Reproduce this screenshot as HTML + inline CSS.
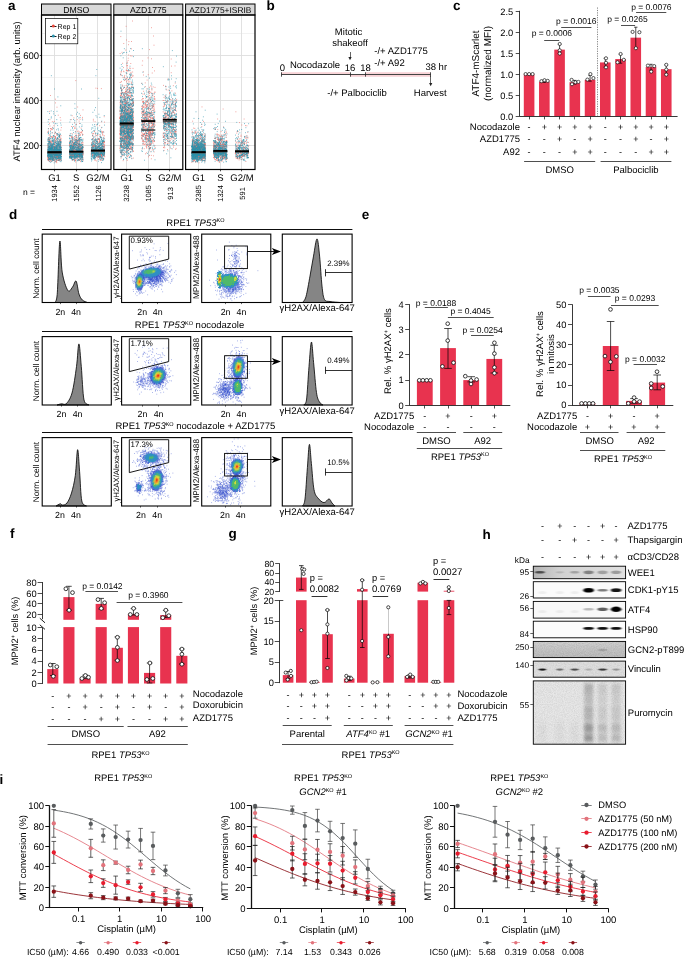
<!DOCTYPE html>
<html><head><meta charset="utf-8"><title>Figure</title>
<style>
html,body{margin:0;padding:0;background:#fff;}
body{width:685px;height:957px;overflow:hidden;font-family:"Liberation Sans",sans-serif;}
svg{display:block;font-family:"Liberation Sans",sans-serif;will-change:transform;transform:translateZ(0);}
svg text{fill:#000;text-rendering:geometricPrecision;}
</style></head><body>
<svg width="685" height="957" viewBox="0 0 685 957">
<defs><filter id="bl" x="-30%" y="-30%" width="160%" height="160%"><feGaussianBlur stdDeviation=".6" result="b"/><feTurbulence type="fractalNoise" baseFrequency="1.1" numOctaves="2" seed="3" result="n"/><feDisplacementMap in="b" in2="n" scale="3.2" xChannelSelector="R" yChannelSelector="G"/></filter>
<filter id="bb" x="-20%" y="-80%" width="140%" height="260%"><feGaussianBlur stdDeviation="1.1 .75"/></filter>
<filter id="bs" x="-20%" y="-20%" width="140%" height="140%"><feGaussianBlur stdDeviation="1.6 2.2"/></filter>
<filter id="nz" x="0" y="0" width="100%" height="100%"><feTurbulence type="fractalNoise" baseFrequency=".9" numOctaves="2" seed="5"/><feColorMatrix type="matrix" values="0 0 0 0 0  0 0 0 0 0  0 0 0 0 0  .5 .5 0 0 -.38"/></filter>
<linearGradient id="gw" x1="0" x2="1" y1="0" y2="0"><stop offset="0" stop-color="#b4b4b4"/><stop offset=".3" stop-color="#d2d2d2"/><stop offset="1" stop-color="#e0e0e0"/></linearGradient>
<linearGradient id="gg" x1="0" x2="0" y1="0" y2="1"><stop offset="0" stop-color="#cfcfcf"/><stop offset="1" stop-color="#bcbcbc"/></linearGradient></defs>
<rect width="685" height="957" fill="#fff"/>
<g>
<text x="8" y="10.3" font-size="13.5" font-weight="bold" >a</text>
<rect x="41.5" y="15" width="69.5" height="154.5" fill="#fff" />
<path d="M41.5 122.5L111 122.5" stroke="#e9e9e9" stroke-width=".6" />
<path d="M41.5 77.5L111 77.5" stroke="#e9e9e9" stroke-width=".6" />
<path d="M41.5 33.5L111 33.5" stroke="#e9e9e9" stroke-width=".6" />
<path d="M41.5 145.5L111 145.5" stroke="#dedede" stroke-width=".9" />
<path d="M41.5 100.5L111 100.5" stroke="#dedede" stroke-width=".9" />
<path d="M41.5 55.5L111 55.5" stroke="#dedede" stroke-width=".9" />
<path d="M54.5 15L54.5 169.5" stroke="#dedede" stroke-width=".9" />
<path d="M76.5 15L76.5 169.5" stroke="#dedede" stroke-width=".9" />
<path d="M97.5 15L97.5 169.5" stroke="#dedede" stroke-width=".9" />
<path d="M55.0 153.6h0M48.7 139.6h0M49.4 152.5h0M61.0 159.4h0M49.7 159.6h0M56.4 155.4h0M48.5 139.7h0M53.9 154.5h0M61.1 160.6h0M59.6 142.0h0M58.9 159.7h0M50.0 126.0h0M50.1 159.9h0M47.8 151.7h0M53.1 153.1h0M50.6 128.5h0M49.1 139.6h0M51.2 137.1h0M52.4 157.2h0M51.3 152.9h0M52.2 146.6h0M52.6 147.8h0M60.7 141.8h0M60.7 147.3h0M57.6 145.6h0M59.0 160.1h0M53.7 157.7h0M60.1 147.0h0M59.2 147.5h0M48.7 153.7h0M54.7 133.3h0M55.3 150.6h0M49.2 143.8h0M57.1 158.3h0M53.9 125.7h0M54.9 161.1h0M48.4 155.7h0M54.5 153.9h0M51.1 147.1h0M60.4 153.1h0M53.2 147.4h0M51.2 149.2h0M49.9 153.1h0M47.7 151.9h0M48.3 147.1h0M53.0 152.5h0M49.5 159.7h0M57.8 157.7h0M57.7 152.6h0M56.5 160.9h0M55.5 149.4h0M56.9 141.3h0M54.1 141.7h0M53.8 154.3h0M54.3 144.1h0M49.6 123.4h0M60.0 150.7h0M51.1 146.9h0M60.3 153.9h0M61.0 156.4h0M55.3 151.4h0M54.5 150.5h0M53.9 149.0h0M51.0 151.5h0M57.9 149.8h0M48.6 156.9h0M53.2 149.5h0M59.6 154.8h0M55.7 141.2h0M51.9 152.0h0M53.4 147.4h0M52.3 157.3h0M58.9 155.4h0M56.8 162.7h0M51.5 155.2h0M60.8 148.2h0M50.4 141.9h0M58.2 151.2h0M60.6 140.8h0M53.0 151.7h0M60.4 144.5h0M56.0 148.9h0M58.4 158.9h0M57.4 152.7h0M59.2 152.6h0M57.8 160.3h0M55.6 152.4h0M54.6 147.4h0M48.3 158.2h0M60.4 149.3h0M50.7 149.5h0M57.0 134.7h0M48.6 153.6h0M56.4 148.3h0M52.6 143.0h0M57.6 135.2h0M50.4 146.2h0M54.3 147.5h0M58.9 146.4h0M54.8 150.5h0M59.1 143.6h0M56.3 150.3h0M53.8 157.4h0M54.2 155.9h0M54.7 147.5h0M60.7 154.0h0M60.2 145.6h0M48.6 131.0h0M58.8 152.3h0M50.6 155.1h0M56.3 159.7h0M57.8 157.1h0M48.2 157.8h0M47.8 149.2h0M56.5 157.8h0M58.8 151.8h0M50.9 152.0h0M57.4 156.1h0M59.7 153.1h0M48.1 145.2h0M49.2 138.6h0M49.1 157.7h0M52.1 158.3h0M52.7 147.3h0M59.5 151.2h0M59.8 155.3h0M50.5 155.4h0M50.3 147.1h0M49.8 147.0h0M52.2 152.4h0M57.7 147.1h0M49.2 148.5h0M49.1 158.8h0M51.5 136.5h0M52.5 127.4h0M55.2 132.0h0M52.8 149.3h0M55.3 159.1h0M54.4 153.9h0M60.8 156.5h0M59.9 158.2h0M50.6 155.8h0M59.0 146.7h0M52.2 156.3h0M48.4 143.4h0M50.2 157.8h0M51.8 161.2h0M60.2 117.6h0M56.5 146.5h0M57.5 139.7h0M58.8 141.8h0M54.3 155.1h0M56.3 144.8h0M55.9 155.4h0M47.8 159.5h0M55.5 138.8h0M58.2 151.5h0M49.8 156.1h0M54.8 151.6h0M55.4 99.2h0M50.5 144.9h0M55.9 161.7h0M53.8 159.0h0M50.7 159.7h0M59.1 152.6h0M56.9 149.0h0M49.2 151.2h0M51.0 152.6h0M57.5 149.0h0M50.7 157.5h0M51.4 153.8h0M59.1 157.7h0M54.2 121.5h0M59.9 134.7h0M61.0 152.6h0M60.1 156.2h0M57.4 154.6h0M57.7 147.9h0M52.7 148.8h0M60.9 147.3h0M48.1 151.2h0M51.5 129.0h0M51.0 160.1h0M55.0 152.5h0M48.0 145.1h0M56.5 153.9h0M56.2 154.0h0M60.7 155.6h0M55.0 142.7h0M51.7 150.0h0M52.0 155.2h0M47.9 151.1h0M49.9 155.3h0M48.6 128.6h0M55.5 153.7h0M54.5 155.4h0M49.1 156.4h0M61.3 147.4h0M49.9 143.1h0M50.3 161.2h0M56.4 156.5h0M56.8 146.6h0M49.4 161.5h0M49.1 155.4h0M48.6 160.0h0M57.5 153.7h0M55.6 150.0h0M51.1 160.9h0M57.5 155.8h0M51.0 155.7h0M60.9 138.1h0M53.2 154.5h0M52.5 153.3h0M56.8 150.5h0M49.0 147.3h0M58.7 150.7h0M53.9 148.2h0M59.6 154.7h0M53.0 157.1h0M51.8 145.5h0M57.2 154.6h0M56.3 155.9h0M48.3 140.2h0M51.9 141.8h0M51.6 152.6h0M48.4 152.3h0M57.9 142.7h0M60.4 141.9h0M55.1 152.9h0M52.0 132.8h0M51.0 147.0h0M49.3 154.7h0M52.7 154.5h0M55.1 147.0h0M56.6 143.5h0M51.0 148.7h0M49.9 155.0h0M53.7 153.4h0M58.4 152.5h0M54.7 152.8h0M60.0 155.0h0M55.4 146.2h0M56.5 153.9h0M57.0 107.2h0M49.3 147.4h0M51.2 145.7h0M55.7 151.2h0M53.1 154.7h0M58.3 143.6h0M56.9 153.8h0M49.3 150.0h0M60.6 141.7h0M58.6 153.9h0M57.0 149.3h0M48.3 152.9h0M61.2 152.9h0M55.2 152.8h0M54.3 136.3h0M52.5 147.3h0M55.5 137.0h0M51.8 151.9h0M51.2 142.8h0M53.2 149.8h0M56.5 147.9h0M57.0 156.8h0M58.2 153.4h0M57.8 158.2h0M58.3 154.7h0M58.0 151.6h0M55.3 140.3h0M49.8 150.8h0M58.3 153.3h0M56.4 161.2h0M50.9 151.7h0M59.6 150.7h0M51.6 143.4h0M49.1 135.4h0M54.6 160.6h0M54.5 147.0h0M51.4 146.0h0M53.0 155.5h0M61.3 149.0h0M52.9 159.7h0M57.4 156.6h0M50.7 159.0h0M59.5 155.4h0M49.8 158.3h0M57.2 154.3h0M58.1 151.7h0M52.8 154.3h0M52.1 148.5h0M52.8 150.4h0M57.4 145.5h0M58.0 156.9h0M59.1 143.0h0M53.2 160.0h0M49.1 149.0h0M52.0 129.7h0M54.7 152.7h0M59.4 146.9h0M55.0 150.7h0M58.6 157.3h0M48.4 150.8h0M48.5 160.1h0M59.5 148.0h0M51.7 154.1h0M49.1 150.5h0M55.6 136.9h0M60.1 155.6h0M53.1 150.4h0M57.0 146.0h0M60.3 155.6h0M56.7 159.8h0M55.3 147.3h0M56.8 150.8h0M59.7 136.4h0M50.4 152.3h0M49.8 154.3h0M59.8 145.6h0M61.1 152.9h0M58.8 154.0h0M60.5 149.7h0M50.4 153.6h0M55.8 142.6h0M59.6 156.5h0M50.9 153.8h0M58.8 143.6h0M48.9 155.4h0M60.8 139.5h0M61.2 156.5h0M54.9 147.5h0M51.1 144.8h0M52.2 157.4h0M55.6 137.1h0M56.5 155.2h0M52.0 149.6h0M52.1 150.3h0M53.1 147.0h0M52.0 153.3h0M58.0 152.2h0M54.9 157.3h0M51.3 155.0h0M58.7 157.3h0M48.6 138.4h0M51.5 145.0h0M51.4 144.4h0M58.6 152.0h0M59.1 149.6h0M48.5 142.3h0M55.7 153.9h0M61.1 138.9h0M53.2 153.7h0M54.8 157.0h0M48.3 158.3h0M49.1 158.0h0M49.5 141.4h0M50.6 156.5h0M61.1 135.7h0M52.9 151.8h0M54.0 151.7h0M50.5 155.9h0M49.4 146.9h0M54.1 154.0h0M55.9 154.3h0M50.8 157.0h0M48.3 149.5h0M48.2 159.8h0M49.8 134.4h0M48.8 158.3h0M53.1 152.6h0M54.0 152.5h0M53.6 153.5h0M52.7 153.3h0M58.2 152.2h0M49.0 152.5h0M51.1 140.1h0M50.1 147.2h0M50.6 130.3h0M48.6 153.9h0M50.2 149.7h0M57.6 154.0h0M59.1 145.7h0M56.9 150.2h0M49.7 137.1h0M50.8 145.7h0M51.2 154.3h0M51.6 154.6h0M50.4 152.8h0M59.6 155.6h0M50.9 148.2h0M49.0 154.5h0M50.9 151.3h0M59.5 160.0h0M57.7 147.9h0M50.2 153.9h0M50.7 155.7h0M59.1 144.5h0M52.1 144.7h0M48.0 152.5h0M51.7 153.4h0M49.3 154.3h0M60.8 155.6h0M55.5 157.2h0M50.9 154.2h0M50.7 154.4h0M56.9 155.0h0M48.7 159.3h0M60.9 151.2h0M52.1 152.6h0M49.9 142.5h0M57.6 157.1h0M57.5 148.8h0M50.9 148.7h0M49.6 141.8h0M51.2 154.3h0M56.7 146.9h0M54.7 143.3h0M54.0 149.3h0M48.7 146.9h0M52.8 152.0h0M48.9 146.9h0M58.2 115.2h0M59.1 150.5h0M53.5 150.9h0M57.7 155.3h0M61.2 154.3h0M60.7 142.3h0M51.3 158.2h0M56.7 135.0h0M58.9 150.6h0M59.7 154.5h0M51.1 149.8h0M58.6 160.5h0M54.0 150.3h0M56.8 157.3h0M58.5 154.2h0M58.6 151.3h0M58.5 144.3h0M55.3 137.0h0M54.1 152.7h0M51.0 128.6h0M60.3 143.4h0M49.9 156.3h0M49.9 141.8h0M50.0 155.3h0M53.2 151.7h0M53.6 156.2h0M55.2 147.3h0M48.1 151.2h0M54.2 155.6h0M58.4 145.5h0M55.1 155.4h0M49.7 142.7h0M53.0 155.1h0M53.6 157.7h0M56.1 159.9h0M58.3 156.4h0M59.6 154.9h0M56.6 155.8h0M57.9 160.5h0M59.9 137.0h0M58.8 157.9h0M52.3 137.8h0M60.1 145.3h0M57.9 156.4h0M50.0 149.7h0M59.8 151.1h0M60.9 130.1h0M48.1 155.6h0M48.6 157.3h0M60.9 143.2h0M54.7 148.4h0M51.4 153.4h0M49.9 158.2h0M47.9 157.3h0M58.0 155.0h0M53.0 150.3h0M50.2 157.3h0M51.1 155.8h0M52.3 121.7h0M56.8 152.8h0M60.0 159.0h0M56.9 145.5h0M58.7 155.3h0M54.2 152.2h0M52.1 137.6h0M53.7 157.0h0M61.3 127.6h0M54.6 155.1h0M55.0 154.1h0M51.7 158.9h0M51.4 155.4h0M52.3 151.2h0M50.2 156.6h0M59.3 149.9h0M58.2 143.5h0M53.7 159.4h0M52.9 136.8h0M56.2 157.4h0M52.0 150.9h0M52.9 140.4h0M58.6 149.2h0M49.0 140.1h0M52.6 158.2h0M51.6 142.1h0M55.0 146.1h0M52.3 153.7h0M48.1 159.9h0M57.2 155.3h0M56.1 151.7h0M52.7 157.4h0M56.1 138.8h0M57.6 154.0h0M48.1 149.6h0M49.9 119.6h0M57.2 153.9h0M60.7 140.5h0M56.7 154.4h0M54.7 148.3h0M53.0 153.3h0M55.0 148.9h0M55.0 151.9h0M57.6 150.7h0M51.1 141.2h0M54.4 144.5h0M57.6 154.0h0M52.2 145.1h0M53.1 159.2h0M50.2 144.9h0M59.5 155.3h0M49.5 141.4h0M52.3 129.2h0M58.5 150.4h0M54.8 156.5h0M60.9 145.8h0M59.6 136.1h0M54.8 159.0h0M60.3 151.6h0M49.0 148.6h0M58.9 152.1h0M57.8 152.5h0M57.5 150.6h0M53.7 151.1h0M59.9 159.1h0M60.8 120.2h0M56.6 156.2h0M59.1 139.9h0M52.0 148.6h0M52.3 150.7h0M53.1 156.5h0M51.2 152.6h0M60.3 155.8h0M58.7 152.1h0M49.5 156.2h0M60.9 152.2h0M51.0 159.3h0M52.3 155.1h0M55.6 156.1h0M56.2 162.0h0M47.9 156.0h0M58.5 156.4h0M54.7 140.1h0M60.4 145.5h0M49.6 140.4h0M54.6 154.3h0M59.0 132.3h0M61.1 151.3h0M59.8 159.7h0M58.2 154.6h0M59.7 150.9h0M53.3 148.1h0M49.5 148.2h0M52.2 153.5h0M54.3 147.1h0M59.5 136.4h0M54.7 153.1h0M61.2 154.7h0M52.8 152.7h0M55.7 138.2h0M53.5 153.0h0M55.4 154.5h0M59.8 135.6h0M50.3 155.0h0M57.5 155.0h0M55.4 149.3h0M47.9 147.5h0M57.5 148.9h0M61.1 141.1h0M55.1 151.6h0M58.2 159.1h0M56.8 151.7h0M57.6 158.4h0M47.9 155.6h0M60.0 138.3h0M52.7 150.6h0M59.1 141.4h0M48.3 160.6h0M54.9 143.3h0M49.5 151.7h0M60.4 154.4h0M59.8 159.8h0M60.8 150.8h0M56.9 150.3h0M60.3 154.2h0M60.3 158.8h0M50.6 95.5h0M55.7 132.9h0M51.4 151.4h0M48.0 157.5h0M53.4 152.9h0M50.6 156.6h0M53.5 159.4h0M52.7 152.1h0M55.8 149.6h0M54.1 152.2h0M54.0 145.4h0M56.1 154.1h0M57.7 156.3h0M55.5 154.9h0M56.0 147.9h0M48.2 157.5h0M52.2 150.3h0M54.2 148.7h0M52.9 160.7h0M48.7 152.8h0M55.2 152.6h0M56.6 146.8h0M59.3 153.2h0M59.8 150.8h0M50.1 155.2h0M48.0 131.9h0M49.6 154.6h0M55.1 157.8h0M52.0 154.6h0M52.8 159.5h0M52.4 144.9h0M59.7 141.1h0M55.3 154.1h0M58.6 156.6h0M60.4 143.9h0M52.1 149.2h0M59.0 154.2h0M50.7 148.1h0M47.8 158.6h0M60.6 153.3h0M48.0 154.0h0M60.2 153.7h0M55.5 102.9h0M55.8 145.9h0M50.1 146.5h0M53.6 152.3h0M50.6 158.1h0M61.1 153.2h0M49.9 154.5h0M56.0 156.1h0M60.5 152.3h0M50.5 141.3h0M47.8 152.6h0M56.3 140.2h0M47.8 156.0h0M58.3 138.4h0M49.7 153.2h0M52.4 158.0h0M47.8 132.3h0M52.2 155.6h0M60.8 159.9h0M52.1 158.5h0M58.2 152.6h0M53.1 148.2h0M51.3 151.6h0M51.3 151.5h0M47.8 146.1h0M59.9 146.3h0M49.3 155.3h0M52.9 157.2h0M52.9 159.5h0M58.0 155.2h0M48.8 155.1h0M48.9 153.1h0M54.9 141.5h0M58.1 159.8h0M52.6 153.6h0M54.3 157.6h0M50.5 142.9h0M59.0 148.6h0M58.5 146.1h0M54.5 146.4h0M50.0 137.7h0M54.1 147.1h0M53.0 136.3h0M60.0 156.1h0M50.3 152.9h0M57.9 151.5h0M59.7 152.6h0M60.9 149.8h0M48.4 147.3h0M56.6 152.8h0M56.4 155.6h0M52.6 155.5h0M60.5 153.1h0M57.0 133.5h0M50.7 148.8h0M48.9 157.3h0M48.3 145.0h0M52.2 150.3h0M57.3 156.6h0M51.5 153.0h0M56.7 153.2h0M58.3 153.1h0M57.8 155.9h0M51.2 148.2h0M51.2 152.0h0M60.9 154.4h0M52.6 155.9h0M56.4 155.7h0M58.4 149.9h0M48.6 146.9h0M49.7 111.4h0M72.0 146.0h0M78.7 155.5h0M75.3 152.9h0M79.1 155.1h0M72.0 153.3h0M81.8 150.4h0M77.3 151.5h0M82.3 154.3h0M72.3 154.6h0M77.9 158.7h0M77.0 153.0h0M77.0 146.2h0M74.2 152.9h0M80.9 151.6h0M79.5 156.0h0M69.7 155.0h0M76.6 155.1h0M81.1 156.5h0M78.7 156.6h0M80.4 134.3h0M81.3 157.6h0M78.8 146.6h0M74.3 155.2h0M81.1 146.9h0M79.3 140.2h0M82.5 130.6h0M76.5 140.4h0M71.8 147.8h0M76.9 154.3h0M71.9 151.8h0M70.3 157.5h0M71.6 157.8h0M79.8 131.9h0M71.1 147.6h0M72.4 156.5h0M78.0 150.3h0M77.5 151.6h0M81.6 153.3h0M75.8 80.6h0M74.5 147.5h0M78.7 159.5h0M79.1 151.4h0M69.6 153.8h0M81.5 152.5h0M74.8 128.6h0M81.6 150.9h0M82.0 152.0h0M76.3 142.4h0M71.1 151.7h0M78.3 150.2h0M78.6 134.2h0M79.2 151.4h0M77.3 150.9h0M73.7 152.0h0M74.5 138.2h0M78.8 144.6h0M73.4 126.5h0M82.8 153.0h0M71.4 150.2h0M70.0 154.5h0M72.1 151.9h0M76.1 154.1h0M72.5 155.9h0M74.7 145.6h0M78.3 145.6h0M72.3 152.9h0M69.5 144.3h0M83.0 153.2h0M82.9 155.7h0M69.7 156.6h0M79.5 143.9h0M81.1 153.0h0M78.6 146.3h0M71.1 152.3h0M79.1 147.4h0M71.2 142.6h0M71.3 119.6h0M75.2 138.2h0M72.5 139.2h0M76.5 151.2h0M83.0 150.2h0M80.4 151.0h0M72.3 151.4h0M82.4 150.4h0M79.6 156.8h0M72.5 145.3h0M73.1 151.8h0M72.4 148.7h0M79.2 154.6h0M76.6 154.8h0M76.6 140.9h0M73.1 155.3h0M77.4 151.7h0M81.0 157.5h0M82.8 149.8h0M71.0 147.4h0M77.9 157.5h0M75.3 144.9h0M82.8 152.4h0M74.3 139.8h0M76.1 151.8h0M74.6 140.4h0M82.1 133.3h0M78.7 153.1h0M73.3 150.0h0M74.4 154.4h0M73.9 148.4h0M74.6 151.9h0M77.8 131.3h0M77.9 138.0h0M78.2 147.7h0M70.6 152.6h0M73.6 153.8h0M75.7 139.6h0M70.7 157.0h0M81.3 153.8h0M72.4 145.6h0M76.8 149.5h0M70.7 152.3h0M71.7 151.4h0M81.0 153.2h0M82.1 151.6h0M78.8 149.9h0M81.7 147.5h0M82.1 157.2h0M79.4 140.2h0M70.0 136.3h0M78.2 154.6h0M77.7 142.8h0M75.9 153.4h0M82.2 148.5h0M73.8 150.0h0M83.0 109.9h0M71.9 153.6h0M83.0 147.9h0M79.2 143.5h0M80.4 151.9h0M81.7 153.2h0M77.5 149.9h0M79.2 153.3h0M82.3 153.7h0M72.5 159.8h0M79.1 151.6h0M72.7 155.0h0M77.2 119.6h0M81.3 155.8h0M70.3 156.7h0M79.7 146.3h0M71.6 154.6h0M73.5 143.6h0M82.8 159.8h0M75.8 146.1h0M78.0 143.9h0M83.0 154.7h0M81.2 147.6h0M81.9 152.8h0M77.9 141.2h0M78.3 154.5h0M71.0 150.7h0M70.9 147.6h0M82.8 154.4h0M73.4 153.0h0M77.7 107.0h0M78.3 154.4h0M79.0 153.8h0M79.3 156.5h0M79.2 139.2h0M81.6 156.1h0M77.4 143.8h0M82.0 154.8h0M76.1 143.9h0M82.6 152.0h0M73.2 153.4h0M74.9 127.3h0M73.8 154.8h0M75.3 160.1h0M74.8 158.0h0M81.1 128.1h0M79.9 155.4h0M82.1 156.6h0M79.2 154.0h0M76.6 124.5h0M70.4 153.6h0M78.3 155.5h0M77.8 141.9h0M78.7 154.7h0M83.0 134.6h0M76.1 153.7h0M81.2 151.9h0M77.7 155.6h0M74.5 156.2h0M81.3 145.3h0M75.2 133.8h0M81.3 148.6h0M73.1 152.2h0M74.5 147.6h0M80.0 160.0h0M77.1 139.7h0M76.8 150.3h0M72.9 147.4h0M78.4 140.8h0M72.5 138.0h0M82.5 148.0h0M81.7 152.5h0M75.5 160.6h0M75.4 131.4h0M78.7 154.5h0M77.2 148.2h0M74.5 148.9h0M69.8 141.8h0M69.5 145.2h0M80.9 149.4h0M78.6 155.0h0M72.6 142.6h0M74.5 154.2h0M76.9 152.5h0M74.2 158.9h0M73.3 154.0h0M78.7 147.0h0M72.5 154.9h0M72.4 149.4h0M70.4 141.4h0M80.6 115.4h0M78.7 152.7h0M71.9 137.7h0M72.1 153.5h0M79.1 121.1h0M79.9 153.1h0M69.8 149.8h0M75.1 152.4h0M73.8 146.3h0M78.8 150.9h0M78.8 147.0h0M77.5 154.8h0M79.5 123.4h0M79.4 153.4h0M74.7 153.1h0M81.5 155.1h0M75.9 142.7h0M72.3 148.6h0M70.9 157.1h0M72.5 145.4h0M80.1 149.9h0M80.4 153.0h0M76.0 153.5h0M75.8 155.1h0M72.4 144.0h0M74.1 157.6h0M70.2 143.0h0M75.8 150.6h0M73.2 154.7h0M78.7 146.8h0M80.9 154.7h0M75.4 140.9h0M72.5 153.4h0M82.3 118.9h0M71.4 126.5h0M70.2 149.0h0M72.0 133.5h0M79.6 152.4h0M73.7 154.5h0M73.1 142.3h0M79.4 141.3h0M78.8 137.1h0M82.9 147.2h0M72.3 148.7h0M81.5 148.6h0M72.9 153.0h0M79.8 145.8h0M70.9 155.1h0M77.5 153.5h0M71.4 151.7h0M81.6 154.3h0M79.0 155.6h0M73.2 155.8h0M79.7 153.9h0M79.6 148.5h0M82.7 146.7h0M79.7 139.9h0M78.6 153.1h0M78.3 147.4h0M76.7 153.5h0M82.7 153.1h0M80.1 119.3h0M69.8 145.6h0M72.1 136.6h0M76.2 148.3h0M72.3 155.2h0M78.5 143.8h0M71.0 154.2h0M80.7 152.1h0M72.1 140.4h0M69.6 156.6h0M81.8 152.8h0M80.5 155.0h0M77.2 151.6h0M76.0 139.8h0M72.8 146.5h0M80.3 154.2h0M76.0 152.0h0M73.6 148.3h0M78.0 155.7h0M77.7 141.9h0M69.7 135.3h0M82.1 157.0h0M73.9 145.1h0M81.9 142.3h0M73.1 153.0h0M72.5 155.1h0M75.5 152.4h0M73.1 150.2h0M81.2 153.1h0M80.2 144.8h0M82.6 134.8h0M75.4 154.3h0M71.7 136.1h0M69.9 153.1h0M69.7 157.5h0M74.0 159.8h0M75.4 153.6h0M69.7 144.9h0M74.7 142.5h0M78.5 152.3h0M72.5 150.2h0M72.7 146.7h0M73.6 143.7h0M70.2 149.2h0M77.8 148.7h0M78.9 150.2h0M82.2 149.3h0M79.1 159.9h0M73.2 149.5h0M74.4 123.0h0M70.9 154.3h0M74.2 155.7h0M72.6 149.0h0M81.9 155.6h0M74.6 148.5h0M73.8 142.2h0M78.1 151.5h0M81.9 154.4h0M78.6 145.0h0M74.1 159.3h0M70.3 145.3h0M74.3 144.9h0M76.3 144.3h0M72.2 140.9h0M71.1 158.5h0M74.7 144.6h0M78.8 142.1h0M73.4 155.4h0M81.6 154.0h0M76.0 154.6h0M69.6 150.3h0M73.9 156.5h0M81.8 151.3h0M75.3 149.8h0M81.1 151.4h0M69.7 150.4h0M82.3 157.3h0M78.7 146.7h0M78.3 159.6h0M83.0 139.0h0M73.9 155.7h0M71.4 149.2h0M73.7 143.5h0M72.7 146.9h0M73.4 152.7h0M77.3 153.4h0M72.0 147.9h0M76.5 143.9h0M77.8 153.5h0M76.0 152.7h0M79.0 151.3h0M75.1 159.1h0M71.5 144.3h0M73.7 159.9h0M82.6 154.2h0M73.7 154.0h0M80.7 151.3h0M76.2 149.8h0M78.6 148.4h0M81.4 143.4h0M78.7 135.6h0M70.0 155.7h0M77.9 152.8h0M75.7 160.2h0M80.7 147.2h0M69.6 152.6h0M77.6 155.5h0M75.5 145.1h0M78.5 147.6h0M80.3 151.2h0M77.5 155.0h0M74.4 148.1h0M75.4 149.1h0M70.9 155.3h0M79.6 154.2h0M70.7 151.7h0M74.5 150.6h0M82.7 152.9h0M72.2 147.8h0M72.1 115.7h0M71.7 140.2h0M82.9 160.9h0M73.8 145.3h0M82.9 158.9h0M74.0 155.9h0M78.1 131.1h0M71.9 152.1h0M78.8 147.4h0M81.3 153.3h0M75.3 137.0h0M81.0 159.8h0M70.2 154.0h0M82.1 149.3h0M79.3 160.5h0M70.8 156.4h0M78.9 147.7h0M72.5 148.7h0M76.7 139.3h0M82.1 158.0h0M80.1 150.5h0M83.0 144.7h0M79.7 156.2h0M73.9 117.9h0M70.5 155.4h0M76.8 157.1h0M76.7 145.8h0M78.6 160.2h0M74.6 136.5h0M77.4 156.4h0M76.9 158.7h0M70.6 148.1h0M79.2 143.4h0M76.6 135.4h0M79.7 154.5h0M78.0 151.6h0M71.0 154.2h0M73.8 142.3h0M78.3 150.3h0M73.1 153.5h0M80.6 161.6h0M72.7 156.8h0M81.8 154.0h0M72.6 153.1h0M77.5 140.7h0M72.0 154.1h0M72.0 137.4h0M73.5 151.5h0M80.8 148.8h0M78.3 147.8h0M77.3 152.7h0M75.8 152.3h0M73.5 145.6h0M82.6 153.3h0M72.0 146.1h0M78.9 152.8h0M76.0 156.5h0M82.6 145.9h0M80.4 148.4h0M78.2 145.9h0M70.1 154.5h0M78.1 135.8h0M80.1 159.3h0M72.5 153.2h0M79.7 153.3h0M73.7 153.5h0M73.3 146.9h0M82.8 142.6h0M72.6 147.8h0M75.9 147.6h0M73.8 151.2h0M79.2 133.9h0M73.5 143.7h0M78.9 149.7h0M76.6 152.5h0M69.7 146.3h0M74.8 145.8h0M81.3 157.8h0M73.7 152.9h0M70.9 155.7h0M70.3 155.4h0M73.5 152.3h0M78.1 152.9h0M82.1 154.8h0M72.8 147.6h0M82.4 155.0h0M71.5 152.8h0M69.7 156.4h0M82.4 154.3h0M80.6 156.1h0M82.5 156.4h0M71.4 157.8h0M72.4 141.3h0M81.6 155.0h0M79.9 151.6h0M73.3 151.1h0M77.6 147.6h0M72.5 147.4h0M77.8 150.9h0M82.4 131.1h0M73.7 149.5h0M72.8 156.8h0M70.1 153.9h0M80.2 146.7h0M71.4 155.3h0M78.5 156.4h0M76.1 147.1h0M81.6 132.6h0M71.6 137.2h0M70.1 156.6h0M82.5 117.4h0M83.0 157.4h0M77.0 144.9h0M80.7 139.6h0M79.9 153.8h0M80.3 132.5h0M78.5 150.1h0M73.9 150.5h0M76.8 139.9h0M75.0 143.5h0M75.1 128.1h0M81.0 146.4h0M73.3 149.8h0M75.7 162.0h0M82.5 149.4h0M69.9 141.2h0M78.2 147.7h0M76.9 151.5h0M76.6 152.2h0M79.6 150.9h0M71.2 151.9h0M72.4 148.2h0M79.0 141.1h0M79.2 153.5h0M76.3 145.5h0M77.9 147.9h0M75.1 157.5h0M72.2 149.9h0M73.1 155.0h0M76.5 141.5h0M82.9 143.0h0M80.2 135.4h0M75.5 144.7h0M72.1 145.5h0M72.1 146.7h0M75.7 144.0h0M83.0 153.1h0M78.9 139.5h0M71.9 155.9h0M78.8 152.2h0M82.3 159.3h0M82.4 144.3h0M71.6 155.4h0M72.5 160.1h0M69.5 151.4h0M74.9 148.8h0M75.1 158.1h0M71.8 150.9h0M70.6 158.5h0M82.3 147.4h0M72.0 149.3h0M75.3 151.6h0M71.0 144.7h0M76.6 152.2h0M82.1 156.9h0M72.0 153.3h0M73.3 157.5h0M82.6 147.7h0M80.2 149.1h0M80.0 155.0h0M82.3 147.8h0M70.1 152.3h0M73.8 152.6h0M71.0 153.2h0M73.9 152.1h0M70.6 154.5h0M81.4 131.9h0M74.0 146.7h0M75.8 156.3h0M76.2 150.6h0M75.6 154.5h0M80.2 148.5h0M74.2 156.1h0M77.9 157.8h0M80.6 158.9h0M77.6 144.0h0M72.9 139.1h0M71.4 152.6h0M82.0 152.4h0M79.2 157.4h0M73.0 143.9h0M81.2 154.9h0M76.8 137.7h0M73.3 159.5h0M75.7 151.8h0M81.0 150.4h0M79.4 145.0h0M80.6 148.0h0M77.5 156.3h0M83.0 147.5h0M81.4 153.0h0M79.7 150.0h0M92.7 144.5h0M92.1 152.1h0M95.5 146.9h0M98.9 145.8h0M100.9 148.9h0M92.8 138.6h0M103.8 147.8h0M103.8 141.3h0M97.9 151.2h0M104.4 149.4h0M104.6 149.4h0M99.7 150.8h0M95.5 154.8h0M103.9 152.2h0M92.6 156.6h0M94.6 151.6h0M92.5 155.6h0M96.0 153.2h0M97.2 141.8h0M102.2 140.1h0M93.6 151.6h0M99.7 156.9h0M92.1 139.2h0M98.9 156.1h0M91.6 152.4h0M94.2 154.1h0M94.3 145.2h0M97.1 152.3h0M95.4 148.0h0M102.4 145.4h0M99.5 140.5h0M102.5 150.4h0M95.0 149.0h0M91.6 149.4h0M98.9 154.7h0M100.6 149.3h0M91.4 150.4h0M91.2 153.5h0M104.3 153.1h0M100.3 145.1h0M102.7 146.6h0M104.0 144.0h0M104.4 151.1h0M101.5 155.1h0M96.1 148.7h0M101.6 156.8h0M103.5 142.9h0M102.8 142.9h0M104.1 146.9h0M94.6 140.2h0M98.2 149.4h0M91.8 149.7h0M93.5 133.5h0M104.1 154.3h0M100.6 136.0h0M102.3 146.1h0M96.5 148.4h0M95.3 148.6h0M100.6 148.4h0M94.3 152.9h0M99.2 150.7h0M95.6 148.2h0M98.7 150.4h0M97.3 149.7h0M102.0 151.1h0M98.4 155.0h0M103.4 138.3h0M100.8 158.1h0M101.7 155.4h0M98.3 150.5h0M96.4 156.2h0M100.5 154.8h0M98.7 152.3h0M103.8 152.5h0M99.6 150.6h0M95.4 158.1h0M95.7 134.3h0M99.3 156.0h0M99.0 143.1h0M99.8 142.2h0M95.1 151.0h0M98.8 156.4h0M92.0 149.5h0M91.8 151.8h0M98.8 151.2h0M101.3 151.5h0M95.8 146.1h0M98.4 139.4h0M103.1 135.2h0M97.0 152.1h0M93.4 146.4h0M94.1 142.6h0M93.7 146.1h0M100.4 154.9h0M98.1 157.5h0M104.6 153.2h0M94.3 131.2h0M93.0 155.4h0M101.1 137.5h0M101.6 144.5h0M101.5 153.1h0M104.6 151.0h0M97.2 152.5h0M95.5 140.3h0M102.2 156.7h0M97.5 152.0h0M102.7 157.2h0M102.0 150.6h0M96.1 139.8h0M103.9 158.9h0M103.2 158.8h0M97.4 142.1h0M95.7 148.8h0M100.0 150.9h0M98.6 146.9h0M94.0 154.9h0M101.2 154.8h0M98.7 153.6h0M92.9 136.2h0M103.4 155.7h0M104.3 149.7h0M97.0 147.9h0M95.0 137.0h0M103.2 145.2h0M96.1 152.3h0M104.6 141.5h0M92.6 150.9h0M96.3 125.0h0M96.5 143.5h0M92.6 133.7h0M101.9 132.0h0M94.0 152.8h0M100.8 152.5h0M94.6 131.3h0M96.0 154.0h0M98.9 157.0h0M96.7 147.2h0M91.9 147.3h0M94.9 153.9h0M91.2 150.3h0M104.2 116.7h0M97.9 151.9h0M101.5 150.7h0M95.3 147.1h0M99.5 141.6h0M91.4 143.2h0M102.3 148.3h0M103.9 142.0h0M92.9 150.4h0M99.1 134.8h0M96.4 139.2h0M104.0 151.0h0M99.2 139.3h0M93.0 145.8h0M95.5 152.7h0M93.0 153.0h0M97.6 153.7h0M97.9 151.1h0M91.6 142.9h0M96.1 146.4h0M98.3 156.0h0M102.4 142.5h0M98.2 147.5h0M101.1 148.1h0M103.8 152.8h0M96.7 151.0h0M98.2 154.8h0M97.4 148.2h0M103.5 146.6h0M99.6 142.2h0M95.4 159.9h0M97.4 144.3h0M104.4 135.8h0M101.7 150.6h0M95.4 148.6h0M97.7 153.4h0M96.3 148.3h0M101.7 155.9h0M102.7 133.7h0M93.5 146.8h0M95.1 133.0h0M94.7 153.6h0M95.9 88.2h0M95.4 145.7h0M100.2 136.3h0M92.4 155.1h0M102.2 143.0h0M95.2 149.8h0M93.3 120.9h0M92.0 147.4h0M103.1 146.6h0M96.6 155.7h0M103.6 155.0h0M97.4 88.4h0M94.0 152.6h0M97.7 151.8h0M96.2 148.6h0M94.0 152.6h0M101.6 127.8h0M96.7 152.0h0M92.7 148.3h0M96.9 154.1h0M99.5 144.9h0M94.3 141.7h0M102.1 148.3h0M95.4 150.2h0M102.1 143.4h0M95.1 121.7h0M92.2 151.5h0M97.5 146.8h0M102.1 148.7h0M97.0 156.5h0M97.0 157.7h0M98.6 154.2h0M94.9 154.2h0M104.1 151.4h0M100.1 143.8h0M103.5 152.2h0M98.5 156.6h0M93.3 146.8h0M97.5 147.4h0M104.6 147.0h0M99.2 157.1h0M102.5 132.5h0M101.8 158.3h0M95.3 150.2h0M100.2 152.9h0M104.3 153.4h0M104.4 145.5h0M103.0 146.1h0M92.6 146.5h0M101.5 149.2h0M93.8 152.3h0M94.5 158.1h0M96.1 152.0h0M103.6 148.8h0M102.8 154.5h0M91.8 148.4h0M100.9 150.3h0M100.5 153.2h0M104.4 155.1h0M96.3 135.5h0M104.5 156.3h0M94.8 156.4h0M96.3 147.1h0M97.3 153.1h0M98.9 156.2h0M99.7 125.7h0M98.4 138.8h0M99.9 147.2h0M98.5 143.1h0M93.5 149.7h0M91.6 144.7h0M102.4 153.0h0M101.6 160.0h0M102.8 150.7h0M99.7 156.5h0M100.5 154.6h0M99.1 152.0h0M101.1 154.5h0M97.0 145.6h0M97.0 150.3h0M101.6 152.6h0M97.4 151.6h0M92.4 154.8h0M101.8 151.5h0M96.1 150.4h0M104.4 151.0h0M95.4 148.4h0M102.4 150.7h0M102.5 149.5h0M93.6 149.9h0M94.3 153.3h0M98.8 154.6h0M99.5 152.4h0M97.7 135.2h0M99.5 146.0h0M98.5 151.3h0M98.8 151.2h0M98.4 146.2h0M103.9 147.8h0M92.9 138.7h0M93.2 152.4h0M99.3 158.1h0M93.0 146.2h0M94.6 157.8h0M94.0 152.3h0M101.1 156.7h0M93.3 146.0h0M99.3 149.8h0M98.8 153.1h0M103.9 150.9h0M93.0 135.0h0M94.0 139.5h0M92.4 153.5h0M101.6 148.0h0M103.7 142.5h0M92.7 152.2h0M102.5 134.8h0M92.2 148.8h0M93.0 154.0h0M98.7 147.0h0M96.2 152.4h0M95.3 152.4h0M101.7 131.2h0M99.6 139.6h0M98.7 153.8h0M101.6 155.2h0M95.4 151.1h0M103.8 150.2h0M104.6 142.3h0M103.4 149.4h0M98.4 138.8h0M101.6 121.8h0M104.4 142.0h0M96.0 154.8h0M104.8 156.8h0M94.1 151.6h0M102.7 154.7h0M92.8 147.5h0M92.1 147.3h0M93.6 152.2h0M97.2 143.6h0M101.3 88.6h0M96.3 160.9h0M99.4 138.3h0M103.1 148.5h0M101.1 137.3h0M92.9 141.9h0M95.2 145.5h0M99.8 139.8h0M94.6 146.4h0M101.5 150.9h0M94.9 160.3h0M93.0 145.1h0M102.1 145.0h0M102.6 141.4h0M98.6 153.1h0M95.2 142.4h0M104.5 122.1h0M98.5 154.1h0M104.7 144.4h0M104.5 152.8h0M100.4 154.2h0M101.6 146.0h0M102.7 131.8h0M96.5 149.1h0M97.4 140.8h0M92.1 151.8h0M97.6 156.0h0M102.6 159.7h0M104.6 138.2h0M93.3 119.3h0M102.1 150.1h0M93.9 151.3h0M94.1 151.5h0M101.4 150.8h0M93.5 141.3h0M95.1 143.6h0M104.0 154.3h0M98.8 152.7h0M103.4 131.8h0M94.7 154.8h0M102.6 154.5h0M92.5 153.3h0M99.1 141.7h0M100.7 160.5h0M92.7 145.0h0M99.5 147.5h0M104.0 155.2h0M92.5 135.7h0M97.1 141.2h0M104.4 146.3h0M101.0 150.9h0M101.4 154.4h0M94.5 145.6h0M101.9 148.1h0M91.2 154.8h0M99.6 153.2h0M101.7 150.8h0M94.4 144.8h0M98.6 159.5h0" stroke="#eb6a62" stroke-width=".85" stroke-linecap="round" fill="none" opacity=".9"/>
<path d="M51.1 156.6h0M49.8 153.9h0M55.6 150.1h0M48.6 143.2h0M53.0 140.7h0M55.2 148.3h0M52.6 146.7h0M60.7 144.4h0M60.0 158.2h0M59.3 150.3h0M48.0 150.9h0M54.9 154.9h0M59.3 141.6h0M56.2 151.6h0M56.6 147.7h0M57.9 143.4h0M52.3 147.4h0M60.0 153.3h0M52.5 144.4h0M60.9 141.6h0M51.0 154.2h0M52.5 152.8h0M53.5 145.2h0M57.6 141.1h0M55.3 155.0h0M58.2 145.4h0M53.9 156.4h0M57.2 155.8h0M49.8 142.9h0M59.7 148.0h0M61.2 149.4h0M48.6 132.0h0M53.5 140.0h0M49.8 149.6h0M56.4 155.4h0M54.5 157.8h0M52.4 156.5h0M59.6 151.3h0M61.0 147.5h0M50.5 131.6h0M55.7 152.3h0M57.6 158.6h0M57.7 138.7h0M54.6 149.0h0M57.0 148.2h0M56.2 141.5h0M58.6 144.2h0M54.2 153.3h0M48.0 149.0h0M49.7 148.4h0M58.9 134.1h0M47.8 152.1h0M61.3 154.4h0M49.1 155.4h0M59.8 155.3h0M60.5 152.7h0M58.0 152.8h0M54.6 148.2h0M59.0 150.4h0M54.8 147.4h0M56.5 153.1h0M50.9 138.6h0M56.4 154.8h0M54.9 155.4h0M51.8 154.9h0M59.8 149.4h0M58.6 160.4h0M51.7 152.6h0M56.8 155.3h0M50.6 152.4h0M59.9 140.0h0M50.3 154.1h0M48.4 157.4h0M57.9 96.9h0M60.8 146.5h0M47.8 153.0h0M48.2 148.8h0M59.7 140.9h0M56.2 149.7h0M54.2 149.0h0M51.3 149.5h0M51.2 153.2h0M51.9 147.0h0M53.3 128.6h0M47.9 155.1h0M52.8 158.3h0M54.8 159.4h0M53.2 154.4h0M57.6 154.9h0M58.1 128.7h0M57.7 147.2h0M57.7 152.6h0M49.9 143.6h0M49.3 156.4h0M59.6 160.2h0M61.2 156.7h0M56.4 143.1h0M54.7 155.8h0M50.8 148.9h0M49.6 155.0h0M49.0 154.1h0M47.9 143.9h0M48.3 141.5h0M48.5 155.2h0M50.4 143.5h0M58.4 130.0h0M57.8 137.9h0M58.5 142.1h0M57.8 142.1h0M51.0 152.6h0M56.8 156.3h0M53.7 160.1h0M50.6 150.1h0M49.2 137.7h0M48.6 154.7h0M58.9 158.0h0M59.3 146.9h0M59.3 151.8h0M52.4 145.4h0M58.1 134.6h0M50.2 144.3h0M51.3 152.3h0M49.2 153.1h0M57.2 147.9h0M50.9 145.8h0M58.0 155.5h0M56.7 154.7h0M58.2 147.5h0M49.1 146.3h0M57.2 153.4h0M49.7 151.4h0M55.5 158.2h0M57.6 146.1h0M56.5 151.0h0M53.5 150.4h0M56.9 158.9h0M54.4 148.5h0M60.5 134.3h0M55.1 153.2h0M53.3 158.4h0M53.1 153.0h0M60.5 149.1h0M49.5 150.2h0M54.1 139.3h0M58.9 149.9h0M47.8 156.0h0M53.6 153.1h0M60.4 147.5h0M49.6 139.4h0M47.9 148.0h0M50.9 154.3h0M60.0 155.2h0M56.8 145.2h0M50.4 138.7h0M55.1 154.9h0M56.8 133.6h0M57.0 123.7h0M52.3 132.8h0M54.6 149.3h0M48.3 154.3h0M56.7 148.1h0M56.1 152.3h0M56.8 154.4h0M58.9 150.2h0M48.5 154.4h0M61.1 125.1h0M49.4 141.8h0M48.4 145.0h0M56.3 154.5h0M51.2 159.9h0M53.7 141.5h0M60.6 142.3h0M57.3 138.5h0M52.9 144.0h0M58.8 157.8h0M57.0 149.2h0M50.5 153.6h0M56.0 150.2h0M58.5 155.4h0M54.2 160.1h0M50.2 156.8h0M49.2 145.7h0M60.6 153.0h0M55.3 161.7h0M51.2 148.2h0M56.5 146.0h0M59.5 135.1h0M49.1 149.0h0M58.9 147.2h0M49.3 148.6h0M52.7 156.4h0M59.0 150.4h0M56.0 153.5h0M58.8 152.9h0M59.2 152.8h0M60.1 154.0h0M47.8 155.0h0M58.8 157.3h0M52.9 149.8h0M54.7 138.3h0M48.0 149.7h0M59.6 157.1h0M55.8 146.9h0M59.0 147.1h0M59.2 145.2h0M58.7 141.9h0M60.8 105.8h0M58.7 139.8h0M60.7 154.6h0M59.2 150.0h0M54.0 158.0h0M55.3 144.1h0M60.8 158.8h0M52.5 148.4h0M57.8 158.5h0M58.4 157.9h0M58.1 149.5h0M53.9 149.6h0M53.0 160.5h0M49.7 148.5h0M59.2 154.1h0M53.5 153.4h0M60.2 150.4h0M54.8 152.3h0M52.5 154.2h0M60.8 156.9h0M61.0 159.8h0M59.9 154.0h0M51.9 156.7h0M51.3 152.3h0M48.5 147.8h0M52.0 157.8h0M54.5 150.2h0M52.9 154.5h0M60.0 133.8h0M51.4 148.8h0M52.1 145.7h0M49.4 146.9h0M59.7 153.4h0M48.1 145.5h0M59.1 146.7h0M53.6 151.1h0M57.9 144.4h0M60.4 152.9h0M56.3 149.7h0M57.3 149.0h0M51.8 157.1h0M52.3 153.0h0M55.9 159.1h0M50.4 135.2h0M61.2 151.5h0M49.2 142.6h0M48.1 155.5h0M59.2 149.5h0M59.0 155.6h0M52.7 153.8h0M60.0 157.9h0M53.8 154.1h0M60.9 151.6h0M60.8 149.9h0M51.8 151.6h0M53.4 143.4h0M54.4 156.0h0M53.7 143.2h0M61.2 158.7h0M47.9 153.9h0M59.8 151.2h0M60.2 146.8h0M57.0 146.9h0M57.8 142.0h0M55.2 152.7h0M50.3 145.3h0M59.6 154.2h0M59.6 155.0h0M50.7 151.9h0M54.1 153.6h0M47.8 153.2h0M51.4 151.3h0M59.6 143.2h0M58.5 156.6h0M51.9 157.0h0M60.3 153.3h0M55.6 157.7h0M48.7 157.0h0M58.7 153.6h0M50.3 162.4h0M52.2 145.4h0M52.3 138.0h0M60.3 155.2h0M56.1 154.4h0M55.1 149.9h0M54.8 149.9h0M54.2 162.8h0M49.2 150.2h0M48.5 133.3h0M60.6 155.9h0M51.8 147.3h0M55.9 160.7h0M50.6 151.2h0M59.5 157.2h0M49.2 142.9h0M52.3 151.6h0M50.9 154.4h0M52.0 140.9h0M50.2 146.7h0M50.7 155.6h0M53.3 137.8h0M55.1 152.9h0M59.6 151.8h0M59.2 158.4h0M56.5 150.7h0M47.7 153.3h0M50.9 147.6h0M56.3 158.2h0M51.3 153.5h0M54.9 150.7h0M54.0 150.6h0M58.7 143.3h0M50.5 156.2h0M56.4 151.0h0M53.0 157.6h0M60.9 147.1h0M60.0 145.0h0M53.7 151.1h0M58.2 153.1h0M48.5 149.3h0M53.4 122.9h0M52.3 138.6h0M51.5 156.8h0M58.6 153.4h0M58.6 154.8h0M53.4 154.6h0M48.5 153.0h0M50.8 154.6h0M60.3 148.3h0M57.9 144.5h0M54.3 154.5h0M51.4 156.8h0M51.1 158.8h0M55.8 140.8h0M49.5 144.2h0M59.6 144.3h0M50.0 157.7h0M54.6 151.5h0M55.5 123.6h0M55.8 151.2h0M51.1 156.9h0M61.3 154.7h0M58.0 157.4h0M59.2 151.5h0M60.9 142.9h0M59.0 146.5h0M60.9 144.0h0M57.1 155.6h0M58.5 151.2h0M56.6 139.5h0M59.1 155.4h0M52.5 156.2h0M49.4 153.9h0M56.0 155.0h0M59.5 135.9h0M48.8 159.2h0M52.7 140.6h0M60.1 155.3h0M48.5 155.6h0M59.9 154.8h0M61.0 152.1h0M52.9 156.0h0M55.6 154.2h0M49.6 158.6h0M60.9 154.3h0M53.9 147.2h0M59.0 154.8h0M53.3 144.4h0M56.5 148.9h0M60.5 156.8h0M56.8 147.0h0M53.2 160.4h0M58.5 152.6h0M59.9 146.5h0M56.6 143.8h0M48.3 152.3h0M52.2 148.8h0M50.6 149.4h0M48.1 121.9h0M50.8 151.4h0M53.9 152.7h0M55.4 149.1h0M60.6 141.7h0M47.9 111.6h0M50.0 153.6h0M54.1 139.9h0M58.8 150.6h0M56.2 145.9h0M56.4 154.9h0M51.0 151.6h0M60.4 151.6h0M50.3 152.3h0M49.2 154.5h0M55.3 115.5h0M57.7 143.6h0M57.1 155.0h0M56.6 157.1h0M60.1 153.1h0M53.6 152.7h0M53.7 153.6h0M60.4 146.7h0M52.2 140.0h0M58.5 136.6h0M52.7 141.7h0M55.0 144.4h0M57.1 159.9h0M51.6 154.9h0M57.9 152.1h0M55.9 142.4h0M60.9 154.1h0M56.7 129.8h0M52.7 138.9h0M60.5 150.7h0M57.9 150.8h0M60.6 139.4h0M50.5 149.9h0M48.1 149.9h0M56.0 152.8h0M60.6 157.7h0M50.8 148.4h0M55.7 154.7h0M47.9 151.1h0M54.4 151.7h0M51.2 110.9h0M49.4 158.5h0M54.8 155.1h0M55.7 150.8h0M56.7 153.5h0M48.4 147.3h0M59.3 137.4h0M54.9 153.7h0M56.2 155.6h0M57.0 111.3h0M53.3 154.7h0M56.8 148.5h0M48.8 148.9h0M52.6 151.7h0M58.2 150.9h0M50.4 156.3h0M58.9 157.2h0M47.9 144.0h0M51.3 116.9h0M60.4 157.1h0M49.0 151.3h0M48.2 153.5h0M56.1 151.5h0M57.5 149.9h0M52.0 148.4h0M57.5 146.5h0M52.1 155.8h0M53.9 136.4h0M61.1 156.8h0M48.7 147.2h0M51.3 148.9h0M54.2 149.0h0M49.2 154.7h0M50.1 148.1h0M59.5 154.0h0M50.8 155.3h0M59.8 148.0h0M57.6 152.0h0M48.4 141.3h0M52.3 155.2h0M51.9 151.4h0M52.0 146.3h0M55.7 155.5h0M60.8 153.1h0M53.6 111.7h0M57.4 134.2h0M52.2 160.9h0M49.7 149.2h0M52.7 145.0h0M54.6 155.4h0M53.5 158.5h0M55.9 142.8h0M57.4 149.9h0M58.6 145.4h0M56.4 154.1h0M50.2 148.7h0M54.3 150.3h0M49.8 156.1h0M59.3 149.7h0M57.7 144.6h0M55.8 148.6h0M52.7 149.5h0M49.9 147.6h0M60.1 147.5h0M48.9 150.7h0M55.9 150.8h0M57.4 150.3h0M50.2 152.0h0M61.0 161.7h0M52.5 153.2h0M53.7 113.9h0M59.7 153.8h0M60.2 154.8h0M52.9 146.6h0M47.8 139.0h0M55.5 152.1h0M60.0 142.5h0M52.1 149.6h0M49.9 159.8h0M60.4 155.9h0M55.5 152.1h0M49.1 153.0h0M53.5 158.9h0M53.9 140.4h0M61.2 142.2h0M51.1 152.6h0M57.5 152.1h0M60.9 154.6h0M49.1 156.1h0M49.9 159.9h0M55.3 157.3h0M60.6 148.6h0M56.4 148.6h0M51.8 145.7h0M59.1 155.3h0M61.2 153.5h0M55.7 153.0h0M49.1 141.2h0M59.0 145.5h0M61.2 156.6h0M57.6 144.7h0M49.9 140.2h0M56.8 155.4h0M48.9 150.2h0M60.1 149.9h0M59.3 139.9h0M57.1 151.4h0M48.7 157.7h0M49.1 146.3h0M55.6 154.8h0M52.5 159.6h0M59.5 144.2h0M52.9 144.5h0M59.5 150.9h0M50.4 142.3h0M52.8 153.7h0M51.1 151.2h0M50.6 154.6h0M52.6 159.8h0M56.6 152.8h0M56.8 153.2h0M51.4 149.4h0M59.3 159.0h0M50.5 133.2h0M55.7 157.6h0M55.9 153.0h0M51.0 158.3h0M54.2 149.0h0M58.3 135.1h0M49.0 153.0h0M57.3 155.6h0M54.7 147.1h0M56.7 146.2h0M50.9 153.6h0M56.9 149.1h0M54.3 156.2h0M57.0 152.7h0M53.7 157.9h0M47.9 150.1h0M57.1 154.7h0M60.0 148.3h0M60.3 144.9h0M49.0 152.8h0M57.2 157.9h0M50.4 154.4h0M57.9 143.0h0M60.2 148.9h0M52.5 159.7h0M56.4 152.8h0M47.8 156.5h0M55.2 146.1h0M59.5 154.1h0M53.7 154.1h0M48.0 144.0h0M48.6 157.9h0M55.2 155.3h0M48.2 155.0h0M53.7 135.5h0M54.0 147.0h0M56.3 158.3h0M56.7 154.1h0M48.7 159.6h0M53.1 141.6h0M53.1 153.4h0M51.0 148.3h0M51.8 153.5h0M49.5 113.4h0M55.9 147.4h0M48.9 155.6h0M49.3 154.4h0M61.2 152.7h0M61.3 152.9h0M48.8 138.7h0M54.0 150.2h0M49.2 147.8h0M50.3 149.5h0M60.5 154.2h0M59.2 154.9h0M50.8 149.1h0M47.9 139.8h0M55.6 152.4h0M61.2 152.4h0M48.0 146.8h0M49.8 148.7h0M50.3 158.5h0M60.3 158.9h0M56.5 147.6h0M53.8 148.9h0M53.8 156.4h0M53.3 135.5h0M56.5 145.5h0M53.5 143.8h0M49.1 156.5h0M49.3 153.6h0M59.7 137.0h0M59.0 159.9h0M58.1 152.4h0M60.4 143.1h0M54.0 144.7h0M56.2 155.4h0M50.8 157.0h0M52.2 158.5h0M50.1 154.6h0M54.4 89.0h0M50.7 157.8h0M52.0 159.5h0M51.2 155.9h0M58.2 158.4h0M49.0 154.9h0M57.4 137.4h0M54.6 157.2h0M52.9 148.5h0M49.4 146.4h0M60.1 161.3h0M60.3 145.3h0M50.6 145.0h0M50.4 158.7h0M60.6 154.4h0M50.1 145.3h0M55.0 147.2h0M52.9 150.1h0M48.6 151.9h0M48.2 133.9h0M55.0 157.8h0M52.5 151.4h0M50.6 152.5h0M51.3 154.8h0M57.7 154.0h0M49.3 146.6h0M51.4 150.7h0M57.9 150.1h0M53.6 153.8h0M51.9 150.3h0M52.4 147.8h0M49.6 150.3h0M60.3 157.7h0M50.3 150.3h0M49.3 141.5h0M52.0 159.2h0M53.0 127.9h0M48.1 159.8h0M57.3 133.6h0M48.5 119.6h0M48.3 137.5h0M49.7 141.4h0M55.5 154.7h0M57.7 145.4h0M50.5 154.9h0M58.9 158.4h0M54.7 153.7h0M56.7 159.2h0M48.0 156.2h0M51.6 152.4h0M59.9 151.3h0M59.5 147.2h0M56.8 143.5h0M52.2 159.5h0M51.9 147.4h0M51.5 145.7h0M53.7 155.5h0M51.1 150.3h0M54.0 142.6h0M52.3 141.0h0M58.5 152.4h0M58.9 148.6h0M61.1 151.4h0M56.5 148.9h0M48.9 149.9h0M53.7 142.9h0M56.3 150.0h0M55.3 152.7h0M51.7 146.7h0M57.1 145.0h0M53.0 150.4h0M52.2 156.6h0M58.1 153.9h0M49.1 150.5h0M58.7 148.7h0M53.3 150.3h0M56.9 138.1h0M55.0 147.5h0M60.0 152.2h0M58.4 156.4h0M54.4 147.8h0M55.4 158.1h0M47.8 141.0h0M52.3 153.6h0M61.3 157.3h0M60.1 151.5h0M52.4 156.8h0M61.1 148.0h0M56.9 152.7h0M57.7 150.3h0M48.3 153.6h0M59.4 157.1h0M51.4 144.6h0M52.3 155.9h0M50.1 144.8h0M57.7 125.6h0M55.0 149.6h0M60.6 156.3h0M50.9 147.6h0M61.3 153.8h0M60.9 156.2h0M57.7 155.9h0M55.3 153.2h0M51.2 118.0h0M49.1 153.7h0M49.2 156.1h0M58.0 154.5h0M61.3 149.6h0M56.3 145.3h0M57.9 150.1h0M56.2 148.2h0M51.8 156.3h0M60.2 156.9h0M51.4 147.5h0M58.7 144.4h0M59.2 135.8h0M58.2 152.8h0M61.3 150.2h0M51.9 158.4h0M53.3 146.6h0M48.4 149.8h0M50.5 151.1h0M56.3 157.7h0M51.8 150.0h0M55.6 147.8h0M61.1 158.7h0M50.8 156.3h0M48.0 154.5h0M48.8 124.5h0M50.5 159.5h0M51.3 147.0h0M56.4 151.3h0M55.4 132.4h0M53.5 146.7h0M57.5 140.8h0M50.7 156.7h0M57.3 154.5h0M56.8 119.6h0M52.5 151.0h0M55.3 156.6h0M52.1 153.3h0M55.6 155.9h0M48.6 133.0h0M51.6 148.7h0M51.4 154.9h0M50.6 148.5h0M58.8 149.3h0M55.5 155.6h0M51.3 148.0h0M56.0 146.0h0M51.9 146.2h0M49.2 161.4h0M54.7 151.7h0M59.0 144.9h0M49.4 159.5h0M61.3 160.5h0M56.2 149.0h0M51.3 75.7h0M59.9 151.4h0M58.2 152.9h0M52.6 148.5h0M55.4 149.3h0M54.2 147.1h0M58.9 144.1h0M51.2 151.5h0M58.4 158.4h0M55.3 142.3h0M51.6 150.6h0M50.4 136.6h0M56.6 152.8h0M50.0 150.9h0M48.9 139.1h0M49.7 156.4h0M60.7 142.3h0M56.7 154.0h0M55.1 142.2h0M52.2 143.6h0M51.4 155.5h0M54.3 149.8h0M51.9 155.2h0M57.4 152.9h0M48.3 128.8h0M51.6 143.8h0M59.6 157.1h0M52.6 157.7h0M51.5 161.7h0M60.7 123.1h0M56.0 159.2h0M58.3 142.1h0M48.8 159.0h0M49.9 146.6h0M57.5 138.7h0M56.3 154.1h0M59.4 135.7h0M54.0 144.4h0M49.7 153.4h0M48.5 143.9h0M74.9 157.9h0M79.2 152.4h0M75.3 147.2h0M80.0 155.5h0M82.5 146.8h0M71.2 138.7h0M71.1 153.8h0M73.4 149.9h0M76.6 137.2h0M72.6 150.3h0M71.0 115.2h0M70.5 147.6h0M71.8 155.9h0M79.8 156.2h0M74.0 152.3h0M70.6 135.4h0M79.7 150.9h0M76.4 156.5h0M81.4 160.4h0M72.5 154.5h0M78.5 136.8h0M71.0 145.2h0M79.6 152.6h0M74.6 143.7h0M74.4 152.9h0M76.2 144.6h0M81.9 147.6h0M79.9 153.8h0M79.3 153.3h0M78.0 147.9h0M75.9 147.1h0M69.6 142.9h0M76.5 156.4h0M70.4 153.4h0M79.1 154.8h0M80.4 149.7h0M80.4 152.8h0M74.9 142.4h0M73.0 153.1h0M77.2 145.4h0M69.9 145.1h0M72.8 146.1h0M77.4 153.4h0M73.9 151.9h0M82.9 151.6h0M73.0 159.0h0M81.5 153.3h0M79.3 144.6h0M80.0 149.7h0M81.2 147.2h0M70.9 143.4h0M70.1 152.5h0M70.7 148.9h0M78.8 154.6h0M77.5 116.5h0M73.2 156.5h0M80.1 158.0h0M74.5 155.3h0M78.0 151.3h0M71.4 157.8h0M75.8 140.8h0M71.9 157.5h0M82.6 157.6h0M82.7 152.0h0M70.0 147.2h0M71.8 158.1h0M80.2 155.1h0M79.3 126.9h0M81.0 151.2h0M69.6 138.7h0M82.0 146.3h0M75.7 153.0h0M78.5 144.5h0M71.3 145.6h0M79.0 156.7h0M76.1 154.5h0M69.6 157.5h0M75.1 158.7h0M71.0 149.8h0M77.0 150.3h0M73.5 148.0h0M71.0 151.1h0M76.9 149.9h0M82.7 151.0h0M75.4 153.7h0M80.5 145.3h0M77.8 149.5h0M70.6 149.7h0M71.9 157.6h0M81.4 152.1h0M70.0 151.3h0M76.8 142.1h0M76.6 144.9h0M76.1 151.8h0M78.1 133.1h0M74.0 157.1h0M76.1 156.1h0M75.0 156.4h0M74.0 152.5h0M70.8 146.5h0M79.4 154.7h0M70.3 151.1h0M77.5 156.5h0M77.6 146.0h0M70.9 157.0h0M82.4 135.1h0M79.6 156.3h0M80.0 156.0h0M71.4 158.3h0M74.8 122.1h0M69.9 150.7h0M76.8 149.7h0M78.7 152.7h0M80.2 141.3h0M76.6 142.5h0M74.1 143.1h0M78.7 148.6h0M71.6 145.2h0M74.7 158.4h0M71.8 146.4h0M78.8 150.7h0M76.0 151.6h0M75.6 151.9h0M78.9 152.0h0M73.4 146.3h0M78.6 151.0h0M82.6 146.6h0M71.2 146.0h0M81.7 140.0h0M79.4 152.3h0M73.9 159.0h0M82.7 147.3h0M82.0 155.1h0M74.3 145.5h0M80.4 145.8h0M79.5 157.9h0M74.6 155.5h0M79.2 144.3h0M81.1 155.2h0M74.4 152.2h0M78.0 154.7h0M77.6 148.0h0M78.2 156.5h0M79.3 146.2h0M80.2 123.5h0M74.6 154.0h0M81.0 154.5h0M74.3 157.4h0M77.3 155.7h0M71.2 156.6h0M73.1 130.2h0M70.0 152.6h0M70.3 133.7h0M79.7 154.1h0M74.9 156.1h0M78.7 154.3h0M74.3 154.3h0M73.3 145.3h0M78.2 151.1h0M70.2 147.1h0M79.3 137.6h0M82.2 151.9h0M70.5 146.3h0M75.8 151.1h0M79.0 157.1h0M76.8 153.0h0M81.1 137.6h0M77.9 150.4h0M70.4 145.6h0M79.7 141.2h0M81.7 148.6h0M75.2 146.3h0M75.3 149.4h0M78.8 154.2h0M70.4 158.0h0M77.7 142.8h0M78.8 133.2h0M71.2 147.4h0M71.7 158.8h0M76.3 155.2h0M79.3 134.0h0M75.5 157.6h0M72.1 149.9h0M81.8 152.4h0M80.7 158.2h0M74.5 161.1h0M76.9 155.8h0M80.8 156.2h0M76.0 151.4h0M70.9 145.2h0M70.6 155.1h0M81.0 153.8h0M71.3 143.6h0M74.5 157.0h0M76.6 153.0h0M79.0 146.2h0M82.5 161.4h0M75.7 135.5h0M70.1 154.1h0M80.3 151.9h0M71.6 152.4h0M74.6 153.3h0M74.9 142.0h0M73.9 157.4h0M73.4 132.6h0M77.0 145.7h0M75.8 141.5h0M79.1 145.1h0M79.2 153.0h0M72.5 150.3h0M70.2 148.0h0M74.4 148.4h0M77.3 152.0h0M80.0 151.8h0M74.8 120.4h0M75.1 126.0h0M74.2 156.8h0M74.1 154.1h0M80.0 150.9h0M74.7 156.8h0M70.1 142.5h0M75.8 155.3h0M74.3 144.4h0M73.8 155.8h0M80.5 137.9h0M74.2 156.0h0M71.2 150.8h0M75.0 152.8h0M71.1 148.7h0M79.5 151.2h0M78.4 152.8h0M70.3 156.9h0M79.8 156.8h0M80.6 137.4h0M79.5 138.5h0M75.5 153.9h0M76.8 153.0h0M75.2 144.1h0M69.6 154.1h0M71.2 156.5h0M79.5 154.2h0M82.2 161.5h0M79.8 142.9h0M82.7 144.5h0M75.0 108.4h0M74.5 143.3h0M80.6 147.0h0M71.2 146.0h0M72.0 152.8h0M71.3 151.1h0M77.1 140.8h0M75.2 140.0h0M69.7 156.4h0M71.8 154.5h0M71.2 152.6h0M74.2 148.5h0M77.7 150.2h0M76.9 129.1h0M77.7 146.7h0M80.7 140.2h0M76.0 141.6h0M72.5 149.9h0M77.6 147.9h0M78.9 155.1h0M71.0 147.8h0M79.3 149.7h0M79.9 149.5h0M80.4 153.0h0M71.1 135.8h0M82.7 155.6h0M74.5 155.3h0M75.6 158.0h0M82.7 153.0h0M75.6 156.5h0M72.9 152.7h0M80.1 144.6h0M73.1 152.3h0M75.7 144.4h0M76.1 157.2h0M73.6 152.7h0M72.9 152.9h0M77.5 112.3h0M78.2 148.9h0M74.8 142.8h0M69.9 122.0h0M81.1 154.2h0M75.8 124.3h0M72.6 156.4h0M83.0 159.8h0M81.9 157.8h0M83.0 151.7h0M74.3 153.9h0M81.3 151.9h0M80.8 139.7h0M77.2 151.1h0M79.5 139.1h0M80.4 158.2h0M73.5 154.1h0M77.7 147.7h0M77.5 160.4h0M80.3 159.6h0M79.0 140.5h0M70.2 138.9h0M79.6 148.3h0M77.4 154.8h0M81.8 156.5h0M82.7 161.5h0M71.8 157.6h0M74.4 149.8h0M76.2 147.4h0M73.2 154.5h0M82.9 153.9h0M70.9 150.7h0M75.6 144.7h0M78.9 118.0h0M74.1 138.9h0M74.7 152.8h0M73.3 146.5h0M70.9 148.9h0M80.0 151.6h0M73.4 143.7h0M74.9 103.8h0M75.3 132.0h0M76.3 152.9h0M75.0 148.9h0M79.4 153.7h0M72.4 128.3h0M81.9 159.0h0M81.9 152.2h0M73.4 119.5h0M75.3 142.6h0M76.6 140.2h0M81.7 161.7h0M73.2 151.6h0M71.9 140.8h0M82.8 139.7h0M71.3 156.7h0M75.2 146.3h0M73.2 137.8h0M70.8 130.1h0M75.6 152.1h0M76.0 139.5h0M81.9 126.5h0M82.4 156.9h0M73.0 156.6h0M71.8 158.9h0M81.6 155.1h0M78.2 156.6h0M79.2 113.8h0M71.4 146.1h0M72.5 127.3h0M81.3 148.2h0M79.2 144.4h0M81.7 157.0h0M77.3 159.1h0M78.4 146.8h0M78.9 153.6h0M72.1 141.2h0M72.7 137.1h0M81.9 154.7h0M81.6 140.1h0M73.1 151.4h0M79.5 149.5h0M72.3 134.9h0M82.8 148.9h0M80.1 153.7h0M74.4 152.8h0M72.9 156.6h0M79.3 135.5h0M78.6 148.9h0M78.7 148.5h0M80.8 150.6h0M69.8 146.7h0M79.0 159.4h0M73.1 148.2h0M76.9 154.9h0M75.0 154.7h0M80.1 143.3h0M78.8 149.8h0M81.9 148.6h0M75.0 154.9h0M76.6 152.0h0M76.0 144.6h0M77.0 151.1h0M70.5 156.9h0M81.7 129.4h0M83.0 146.4h0M79.1 142.7h0M69.5 138.0h0M76.2 147.9h0M71.9 156.2h0M72.5 159.5h0M81.5 89.0h0M76.0 153.6h0M72.1 160.1h0M80.2 152.4h0M76.5 157.7h0M74.4 147.9h0M72.9 159.3h0M77.4 157.8h0M79.2 151.7h0M73.2 152.7h0M78.3 140.7h0M82.1 156.8h0M73.7 146.9h0M74.2 147.3h0M72.7 142.1h0M82.7 147.1h0M79.1 147.3h0M70.5 140.5h0M72.0 148.3h0M76.0 148.1h0M78.3 154.1h0M78.8 152.5h0M78.4 139.4h0M79.0 160.0h0M71.9 157.1h0M75.1 157.0h0M72.7 139.5h0M72.4 151.6h0M81.6 151.8h0M72.5 152.3h0M71.7 156.6h0M77.2 154.8h0M77.8 160.8h0M83.0 153.9h0M77.3 155.2h0M70.0 146.9h0M72.3 146.3h0M74.9 153.6h0M82.9 147.5h0M76.4 151.7h0M73.8 144.5h0M76.6 114.1h0M74.8 154.6h0M81.5 145.1h0M74.1 154.0h0M80.0 154.1h0M73.8 146.6h0M75.5 156.9h0M80.9 151.4h0M69.7 150.0h0M76.8 155.7h0M73.9 146.5h0M82.0 125.0h0M70.2 141.0h0M73.5 147.6h0M79.3 155.1h0M77.4 140.8h0M82.5 152.3h0M81.5 151.1h0M73.5 144.4h0M70.3 145.4h0M81.6 153.8h0M75.6 153.5h0M72.1 154.3h0M82.1 144.8h0M76.8 145.4h0M82.7 119.9h0M70.7 153.0h0M72.5 142.0h0M79.2 151.1h0M69.5 153.5h0M70.6 148.1h0M74.7 153.4h0M69.7 153.0h0M80.9 150.8h0M76.4 149.0h0M81.8 149.1h0M75.8 152.4h0M81.0 156.7h0M72.5 152.4h0M81.9 159.7h0M81.3 152.1h0M79.3 149.4h0M76.2 152.8h0M70.3 119.7h0M74.9 140.8h0M76.6 149.2h0M69.7 155.0h0M77.6 153.7h0M72.9 148.4h0M72.4 124.4h0M73.8 152.1h0M72.6 144.2h0M69.7 143.5h0M82.3 156.4h0M82.3 151.9h0M70.2 142.3h0M79.7 145.0h0M77.0 143.5h0M81.0 156.9h0M73.5 146.3h0M80.3 148.7h0M75.8 156.7h0M70.4 153.7h0M79.4 138.5h0M78.5 159.7h0M70.3 153.2h0M79.9 150.6h0M77.3 152.0h0M75.8 155.4h0M81.6 145.5h0M71.9 148.5h0M81.9 158.9h0M81.1 149.2h0M76.6 152.4h0M70.9 148.1h0M71.0 155.2h0M79.7 151.6h0M77.0 149.3h0M78.5 154.1h0M77.3 154.3h0M76.4 157.3h0M76.8 149.6h0M81.7 144.8h0M70.4 141.9h0M76.1 153.2h0M80.1 154.8h0M69.6 149.3h0M78.0 157.1h0M69.6 156.5h0M75.4 153.2h0M72.1 155.6h0M70.7 152.9h0M79.7 152.2h0M70.0 151.7h0M69.5 143.0h0M82.3 148.1h0M72.7 147.8h0M69.9 150.9h0M82.5 152.2h0M81.3 142.2h0M79.2 149.7h0M71.0 153.1h0M73.9 146.6h0M71.7 149.9h0M80.3 153.0h0M74.5 154.3h0M81.7 157.4h0M82.9 140.9h0M72.1 154.7h0M72.3 138.5h0M81.8 149.8h0M76.6 155.1h0M70.4 156.1h0M69.9 157.4h0M79.2 148.3h0M81.1 148.5h0M82.3 130.5h0M73.6 153.5h0M76.2 153.3h0M75.4 154.6h0M79.2 139.0h0M69.9 149.2h0M75.4 142.8h0M71.0 148.8h0M72.9 147.6h0M74.5 160.3h0M80.9 152.2h0M82.3 153.3h0M74.2 152.9h0M77.9 147.4h0M75.6 151.9h0M82.3 157.6h0M70.4 152.8h0M74.5 144.0h0M69.5 158.2h0M69.8 153.5h0M72.4 148.2h0M70.6 156.3h0M75.9 156.0h0M72.0 153.4h0M80.0 154.9h0M79.0 160.1h0M81.2 145.2h0M70.6 156.5h0M76.0 149.6h0M81.3 139.3h0M82.5 141.1h0M77.3 156.6h0M70.8 141.6h0M82.9 159.0h0M69.8 151.5h0M71.4 141.9h0M82.0 155.6h0M78.4 152.4h0M77.1 143.6h0M76.1 153.1h0M75.8 146.9h0M71.0 154.5h0M81.3 154.1h0M76.8 152.4h0M72.5 147.0h0M73.0 150.8h0M81.7 153.2h0M70.6 145.5h0M81.8 148.2h0M79.0 151.6h0M81.4 154.8h0M71.2 150.6h0M82.6 156.0h0M81.3 152.1h0M80.1 117.4h0M70.4 156.6h0M78.7 143.8h0M76.2 149.5h0M71.1 156.6h0M76.1 135.9h0M77.5 153.5h0M69.7 135.5h0M73.1 153.2h0M77.5 150.8h0M75.9 147.6h0M80.3 144.6h0M78.3 138.8h0M73.8 149.2h0M80.5 152.6h0M71.5 149.6h0M75.4 153.9h0M80.8 152.3h0M75.6 154.3h0M80.1 158.2h0M76.2 152.9h0M79.0 146.6h0M73.6 140.1h0M72.2 152.8h0M73.6 148.8h0M80.3 156.0h0M81.2 155.8h0M72.7 157.6h0M71.7 150.6h0M74.2 155.0h0M72.1 154.4h0M75.5 153.9h0M77.4 140.7h0M72.8 152.1h0M96.0 155.0h0M104.4 151.9h0M101.5 139.2h0M92.4 141.7h0M91.8 145.1h0M98.8 151.6h0M102.9 143.4h0M97.6 124.1h0M91.9 153.2h0M99.0 146.3h0M92.6 124.9h0M99.0 148.7h0M100.8 137.5h0M94.7 154.0h0M93.0 138.8h0M97.6 139.0h0M92.1 145.0h0M93.9 154.2h0M94.6 158.4h0M104.6 152.9h0M100.3 147.8h0M101.5 152.2h0M102.0 143.1h0M101.2 138.7h0M101.9 154.2h0M95.5 107.6h0M91.7 147.9h0M99.7 153.4h0M97.1 154.6h0M104.0 155.3h0M93.8 140.9h0M101.8 121.2h0M93.0 128.1h0M97.2 142.3h0M95.9 149.1h0M93.2 143.4h0M102.6 148.7h0M94.4 153.2h0M96.9 155.8h0M96.1 153.5h0M97.1 155.0h0M99.1 151.1h0M102.8 154.4h0M102.4 140.5h0M95.6 150.9h0M93.7 150.3h0M101.9 143.7h0M95.7 133.3h0M102.3 141.7h0M95.5 157.4h0M97.0 117.1h0M97.8 127.9h0M93.7 152.2h0M101.1 152.8h0M98.3 144.2h0M100.8 145.6h0M101.2 151.9h0M99.5 146.1h0M98.1 154.7h0M104.6 149.8h0M97.3 144.4h0M92.2 150.9h0M95.7 154.8h0M98.8 149.9h0M104.2 153.9h0M94.8 156.9h0M99.7 150.8h0M103.4 144.1h0M98.4 153.9h0M104.2 115.5h0M94.1 156.4h0M103.1 151.6h0M101.8 152.9h0M100.3 150.8h0M96.1 147.7h0M96.8 69.5h0M102.3 141.7h0M94.6 153.0h0M98.2 150.3h0M99.8 148.9h0M98.0 151.4h0M92.1 143.1h0M103.3 146.6h0M98.2 146.8h0M91.2 151.0h0M93.6 155.8h0M97.5 153.1h0M100.1 145.3h0M100.4 142.8h0M93.2 150.5h0M100.0 136.5h0M94.7 124.5h0M92.8 150.0h0M99.9 159.7h0M94.3 149.0h0M104.7 148.3h0M101.9 149.0h0M95.3 147.7h0M94.3 155.4h0M99.7 151.1h0M95.0 140.7h0M100.4 147.7h0M101.7 141.4h0M94.9 155.1h0M101.3 151.0h0M103.3 158.1h0M96.3 153.9h0M93.2 152.4h0M97.9 153.2h0M98.9 114.2h0M103.5 159.1h0M97.6 129.0h0M96.7 155.4h0M103.3 155.2h0M93.1 140.9h0M103.8 150.4h0M98.5 161.2h0M97.6 147.5h0M98.0 154.6h0M102.3 146.3h0M101.6 150.0h0M93.5 143.9h0M97.7 154.4h0M100.5 150.0h0M94.0 149.7h0M102.2 142.2h0M102.7 148.9h0M98.2 151.7h0M91.7 153.9h0M95.6 151.5h0M101.5 162.6h0M91.3 154.9h0M95.2 126.8h0M96.1 139.7h0M94.8 147.6h0M100.4 153.4h0M92.4 135.4h0M93.3 147.8h0M102.9 154.5h0M102.6 155.7h0M99.5 131.0h0M94.0 156.8h0M99.1 150.0h0M104.6 152.0h0M101.2 132.9h0M100.3 143.1h0M101.4 139.8h0M102.7 151.7h0M101.1 150.2h0M96.3 152.9h0M94.6 155.5h0M103.1 138.3h0M103.0 152.9h0M102.7 148.8h0M98.4 147.1h0M94.3 157.2h0M94.4 110.1h0M98.7 151.7h0M96.2 143.4h0M95.2 149.7h0M103.7 141.4h0M102.6 149.8h0M103.5 155.1h0M102.7 151.2h0M101.9 147.9h0M103.1 153.2h0M97.2 149.0h0M97.9 152.7h0M101.7 145.2h0M103.7 140.8h0M96.0 150.5h0M102.3 149.1h0M92.9 112.3h0M93.7 144.9h0M103.0 151.3h0M92.2 147.8h0M98.9 157.1h0M95.6 156.1h0M98.1 147.0h0M92.0 147.2h0M93.0 152.5h0M95.5 154.5h0M99.0 154.4h0M97.4 154.2h0M93.4 151.2h0M98.8 143.7h0M91.4 149.3h0M97.6 133.8h0M104.5 125.1h0M92.3 144.6h0M91.4 159.1h0M95.1 139.5h0M102.9 153.6h0M104.2 153.0h0M101.1 152.0h0M103.9 152.7h0M98.3 143.8h0M97.7 147.8h0M100.7 148.4h0M94.8 159.1h0M94.8 156.4h0M95.7 142.8h0M100.7 131.9h0M93.5 153.1h0M100.5 131.8h0M103.0 153.1h0M94.1 146.0h0M91.5 144.8h0M91.8 156.1h0M97.1 141.5h0M97.9 139.4h0M103.0 156.3h0M95.8 148.2h0M101.3 144.0h0M98.4 153.8h0M97.3 146.2h0M94.3 156.8h0M95.8 145.0h0M96.0 153.4h0M96.0 115.7h0M96.3 155.6h0M101.6 158.2h0M98.1 123.0h0M91.9 158.5h0M92.1 148.4h0M102.3 142.8h0M94.1 144.2h0M96.4 151.4h0M92.0 127.7h0M95.8 153.9h0M104.0 140.7h0M98.3 151.2h0M99.9 155.8h0M92.8 149.1h0M95.8 145.9h0M101.2 149.7h0M97.9 155.8h0M94.7 152.2h0M96.8 143.1h0M92.4 151.6h0M100.3 147.9h0M95.8 153.5h0M100.4 151.4h0M102.7 144.9h0M94.6 155.4h0M103.0 140.6h0M92.3 153.6h0M99.9 117.4h0M96.8 152.1h0M99.1 155.4h0M99.2 148.5h0M92.1 159.8h0M104.1 150.8h0M96.9 153.4h0M96.0 148.5h0M94.2 149.5h0M103.3 150.1h0M103.4 139.7h0M96.9 148.3h0M101.5 149.4h0M94.8 130.4h0M95.0 153.5h0M103.0 144.9h0M103.0 147.5h0M93.4 155.7h0M93.8 143.4h0M96.2 141.9h0M96.2 153.8h0M97.9 150.8h0M93.4 151.8h0M96.5 146.0h0M103.8 141.5h0M94.1 149.9h0M91.3 145.0h0M101.9 151.6h0M101.9 146.5h0M103.0 150.3h0M93.6 152.3h0M95.3 139.1h0M95.5 138.9h0M97.4 148.3h0M96.5 156.2h0M95.9 152.3h0M94.1 159.0h0M96.2 151.7h0M98.9 138.8h0M94.0 157.3h0M93.7 158.1h0M94.2 151.5h0M94.2 153.5h0M92.1 152.3h0M94.7 147.9h0M103.0 150.7h0M97.0 141.5h0M94.9 146.5h0M101.7 143.4h0M93.9 148.8h0M93.0 149.8h0M95.2 128.9h0M100.8 159.2h0M97.7 146.9h0M98.4 155.8h0M99.4 148.1h0M96.1 151.0h0M95.9 75.7h0M101.6 153.0h0M99.0 153.8h0M94.2 149.2h0M100.6 129.9h0M94.8 152.1h0M100.5 156.5h0M101.5 151.7h0M102.6 141.4h0M101.9 152.9h0M101.2 144.7h0M98.4 130.7h0M95.9 133.2h0M93.2 152.3h0M91.7 154.3h0M93.7 157.3h0M95.8 135.9h0M93.5 149.4h0M94.1 149.2h0M101.9 140.3h0M104.2 153.2h0M93.7 137.7h0M92.3 139.8h0M102.6 153.7h0M104.2 155.1h0M95.6 146.4h0M94.4 151.8h0M102.1 150.7h0M102.2 156.0h0M93.1 153.8h0M101.0 150.8h0M100.6 153.5h0M95.6 148.2h0M99.1 145.9h0M98.8 98.3h0M104.1 152.2h0M103.7 158.8h0M91.6 129.1h0M93.2 142.3h0M92.8 156.2h0M102.3 160.5h0M103.3 158.9h0M92.6 143.0h0M94.6 144.3h0M101.1 148.0h0M91.4 156.7h0M91.5 153.5h0M97.2 156.2h0M98.5 149.7h0M99.8 151.3h0M94.6 151.6h0M93.6 153.2h0M100.6 150.2h0M94.9 152.5h0M91.8 139.6h0M92.0 146.9h0M96.5 141.2h0M93.1 150.9h0M96.2 149.6h0M96.1 140.6h0M101.1 137.7h0M91.2 151.9h0M99.9 151.8h0M91.9 153.2h0M103.6 150.7h0M91.2 156.8h0M98.4 146.7h0M98.8 152.5h0M101.1 157.4h0M99.4 154.9h0M93.3 147.5h0M100.9 159.4h0M95.1 153.9h0M104.4 152.3h0M100.4 148.2h0M100.5 154.8h0M100.3 155.7h0M91.9 147.8h0M100.8 152.6h0M93.4 130.8h0M104.7 152.7h0M94.2 153.8h0M102.8 153.4h0M100.2 134.7h0M104.1 146.9h0M99.9 145.3h0M99.7 151.2h0M100.9 152.3h0M104.2 154.5h0M92.1 152.7h0M100.6 151.7h0M95.3 154.6h0M96.0 145.9h0M98.8 149.7h0M103.3 137.3h0M95.0 154.2h0M97.7 134.2h0M99.6 148.3h0M95.4 144.4h0M99.4 158.1h0M96.1 149.5h0M96.9 151.5h0M95.6 157.7h0M96.6 152.7h0M99.2 148.4h0M91.3 159.0h0M91.8 155.3h0M96.4 152.4h0M100.3 143.2h0M97.5 152.1h0M91.5 132.8h0M100.7 152.9h0M98.8 148.8h0M101.2 151.3h0M95.3 154.8h0M99.9 149.2h0M95.0 149.8h0M101.7 144.6h0M101.6 153.4h0M96.4 152.3h0M100.5 140.9h0M99.0 152.5h0M95.8 146.2h0M100.7 157.7h0M95.2 151.9h0M102.9 149.5h0M100.9 151.7h0M101.0 150.2h0M99.7 156.5h0M96.0 149.0h0M97.4 143.9h0M99.1 146.7h0M102.8 146.5h0M102.2 157.9h0M100.5 156.6h0M99.7 143.5h0M92.1 139.7h0M94.4 151.5h0M96.6 151.9h0M92.2 131.8h0M99.9 154.2h0M98.2 151.6h0M91.6 152.2h0M96.6 147.8h0M100.6 141.7h0M101.5 139.6h0M102.3 158.4h0M102.3 152.6h0M94.2 126.2h0M92.6 146.0h0M94.8 140.1h0M101.0 137.2h0M99.9 146.6h0M101.2 147.0h0M95.7 143.8h0M103.8 149.7h0M93.3 148.0h0M95.9 151.2h0M93.9 154.2h0M102.2 153.6h0M99.4 142.2h0M104.3 151.0h0M95.7 148.3h0M99.5 144.3h0M101.9 127.4h0M103.0 151.0h0M97.9 150.0h0M97.3 142.1h0M99.0 149.3h0M94.3 156.3h0M97.2 124.5h0M100.7 151.1h0M99.7 154.3h0M103.8 141.3h0M95.2 151.5h0M95.8 141.0h0M100.5 144.5h0M102.3 154.6h0M92.2 151.3h0M97.5 151.5h0M102.1 147.8h0M100.3 154.1h0M101.7 147.1h0M96.0 153.8h0M91.6 161.0h0M99.7 154.4h0M101.0 148.2h0M100.6 131.3h0M94.5 141.9h0M103.3 160.1h0M100.6 149.4h0M97.7 153.1h0M102.4 148.8h0M102.8 149.0h0M92.7 143.1h0M96.0 154.6h0M98.5 145.3h0M92.7 152.9h0M101.8 157.2h0M101.4 144.1h0M93.7 157.3h0M93.9 136.7h0M99.8 157.8h0M100.3 137.2h0M92.6 157.3h0M97.5 153.5h0M101.6 144.1h0M93.0 149.2h0M100.4 151.2h0M98.1 133.2h0M103.8 132.2h0M91.2 158.1h0M104.7 139.0h0M93.5 158.5h0" stroke="#2b93ad" stroke-width=".85" stroke-linecap="round" fill="none" opacity=".9"/>
<path d="M47.53 152.93L61.53 152.93" stroke="#4d4d4d" stroke-width="1.6" />
<path d="M47.53 152.04L61.53 152.04" stroke="#000" stroke-width="1.8" />
<path d="M69.25 152.04L83.25 152.04" stroke="#4d4d4d" stroke-width="1.6" />
<path d="M69.25 151.59L83.25 151.59" stroke="#000" stroke-width="1.8" />
<path d="M90.97 151.14L104.97 151.14" stroke="#4d4d4d" stroke-width="1.6" />
<path d="M90.97 150.46L104.97 150.46" stroke="#000" stroke-width="1.8" />
<rect x="41.5" y="4" width="69.5" height="11" fill="#d9d9d9" stroke="#000" stroke-width="1" />
<rect x="41.5" y="15" width="69.5" height="154.5" fill="none" stroke="#000" stroke-width="1.2" />
<text x="76.25" y="13.2" font-size="8.7" text-anchor="middle" >DMSO</text>
<path d="M54.5 169.5L54.5 171.3" stroke="#000" stroke-width=".7" />
<text x="54.53" y="181" font-size="9.5" text-anchor="middle" >G1</text>
<text font-size="7.5" text-anchor="middle" transform="translate(57.23 193.4) rotate(-90)" >1934</text>
<path d="M76.5 169.5L76.5 171.3" stroke="#000" stroke-width=".7" />
<text x="76.25" y="181" font-size="9.5" text-anchor="middle" >S</text>
<text font-size="7.5" text-anchor="middle" transform="translate(78.95 193.4) rotate(-90)" >1552</text>
<path d="M97.5 169.5L97.5 171.3" stroke="#000" stroke-width=".7" />
<text x="97.97" y="181" font-size="9.5" text-anchor="middle" >G2/M</text>
<text font-size="7.5" text-anchor="middle" transform="translate(100.67 193.4) rotate(-90)" >1126</text>
<rect x="113.8" y="15" width="69" height="154.5" fill="#fff" />
<path d="M113.8 122.5L182.8 122.5" stroke="#e9e9e9" stroke-width=".6" />
<path d="M113.8 77.5L182.8 77.5" stroke="#e9e9e9" stroke-width=".6" />
<path d="M113.8 33.5L182.8 33.5" stroke="#e9e9e9" stroke-width=".6" />
<path d="M113.8 145.5L182.8 145.5" stroke="#dedede" stroke-width=".9" />
<path d="M113.8 100.5L182.8 100.5" stroke="#dedede" stroke-width=".9" />
<path d="M113.8 55.5L182.8 55.5" stroke="#dedede" stroke-width=".9" />
<path d="M126.5 15L126.5 169.5" stroke="#dedede" stroke-width=".9" />
<path d="M148.5 15L148.5 169.5" stroke="#dedede" stroke-width=".9" />
<path d="M169.5 15L169.5 169.5" stroke="#dedede" stroke-width=".9" />
<path d="M132.3 143.9h0M126.3 148.9h0M120.2 151.0h0M127.7 113.8h0M131.4 77.4h0M122.3 107.0h0M120.9 101.5h0M130.1 118.3h0M124.5 110.9h0M125.6 122.7h0M128.4 122.3h0M129.2 124.3h0M124.3 115.4h0M129.7 121.5h0M127.1 66.1h0M125.4 126.9h0M126.5 140.9h0M122.7 123.2h0M126.9 132.8h0M127.0 120.7h0M125.8 91.6h0M124.0 120.0h0M124.0 154.1h0M128.0 117.1h0M126.7 137.0h0M132.2 119.3h0M132.9 143.6h0M125.4 133.4h0M131.8 148.1h0M120.9 125.8h0M129.5 68.1h0M120.9 93.5h0M120.1 135.1h0M127.6 68.1h0M127.4 138.4h0M120.7 74.1h0M121.0 132.3h0M126.9 153.4h0M127.9 111.2h0M130.5 129.5h0M120.2 130.7h0M125.5 92.1h0M123.2 133.9h0M119.9 117.1h0M127.1 131.6h0M121.1 144.3h0M132.0 132.9h0M127.3 136.5h0M132.9 143.5h0M129.6 132.7h0M124.2 122.8h0M124.6 143.0h0M121.9 107.9h0M133.0 109.2h0M127.3 124.9h0M133.5 102.5h0M130.3 123.2h0M127.3 115.2h0M127.5 92.4h0M120.4 130.0h0M120.6 122.3h0M121.7 133.6h0M126.3 137.9h0M121.3 115.4h0M130.0 149.7h0M125.0 142.8h0M122.0 127.6h0M129.2 149.3h0M126.9 140.7h0M129.5 129.0h0M126.9 116.6h0M133.1 130.1h0M122.4 140.4h0M132.9 126.3h0M122.3 107.8h0M127.6 77.6h0M124.3 110.2h0M131.5 48.8h0M125.9 93.0h0M124.3 138.9h0M124.9 123.4h0M132.9 101.1h0M128.9 134.5h0M132.4 99.9h0M123.8 132.2h0M120.4 116.4h0M128.5 141.5h0M129.4 106.7h0M124.3 126.4h0M127.0 103.5h0M121.1 143.8h0M121.8 126.7h0M120.5 133.2h0M123.5 121.1h0M124.9 79.8h0M126.2 111.0h0M131.5 129.4h0M131.6 142.1h0M131.7 149.5h0M120.5 122.5h0M128.0 144.1h0M120.7 131.2h0M129.9 81.8h0M125.5 108.3h0M123.1 117.6h0M132.2 134.1h0M120.0 132.9h0M123.2 125.4h0M124.5 138.1h0M128.6 104.5h0M132.5 144.8h0M132.4 130.4h0M123.0 96.9h0M122.8 117.9h0M132.8 148.3h0M122.5 107.5h0M123.2 118.2h0M126.5 126.3h0M129.5 104.7h0M124.8 106.1h0M126.6 137.0h0M121.6 120.3h0M123.2 141.0h0M133.2 75.8h0M128.3 148.2h0M128.0 143.4h0M133.3 118.7h0M127.2 109.4h0M128.6 141.9h0M120.1 133.7h0M128.7 80.0h0M130.3 92.8h0M125.0 131.2h0M128.3 95.2h0M122.9 115.1h0M132.1 114.0h0M130.3 129.2h0M129.9 116.6h0M122.2 127.4h0M125.6 119.7h0M123.7 112.2h0M131.1 130.5h0M127.2 126.8h0M120.2 137.6h0M133.1 121.8h0M129.4 113.9h0M125.3 130.2h0M126.6 123.0h0M131.9 126.2h0M129.8 115.7h0M123.8 43.5h0M120.7 130.7h0M127.6 101.8h0M128.4 114.4h0M122.7 116.7h0M125.2 125.3h0M120.4 107.8h0M121.4 117.7h0M121.2 125.9h0M124.0 120.3h0M125.9 130.6h0M125.7 93.8h0M125.5 125.2h0M123.8 137.1h0M125.4 128.6h0M126.9 126.4h0M121.2 131.4h0M129.1 95.6h0M122.5 141.3h0M132.4 116.7h0M124.7 129.4h0M124.3 140.0h0M122.5 138.4h0M126.2 119.7h0M128.0 91.7h0M120.8 127.7h0M131.3 114.4h0M126.2 142.5h0M126.8 65.2h0M127.5 128.4h0M131.9 99.2h0M127.4 121.5h0M131.9 122.4h0M133.3 151.3h0M127.6 126.5h0M120.2 118.3h0M130.5 105.9h0M120.8 123.6h0M128.1 122.6h0M133.0 103.7h0M128.2 136.8h0M129.8 111.2h0M124.3 100.0h0M128.2 128.5h0M133.5 105.6h0M124.6 95.2h0M133.4 87.3h0M129.2 141.8h0M124.4 98.0h0M121.2 88.1h0M125.8 121.2h0M120.4 116.7h0M130.6 127.7h0M128.3 137.1h0M132.9 126.9h0M126.2 124.4h0M124.0 148.5h0M132.1 90.1h0M133.2 113.6h0M121.7 133.1h0M129.5 137.1h0M129.7 129.6h0M122.2 102.7h0M126.4 93.6h0M125.7 145.9h0M129.5 143.0h0M121.8 150.4h0M124.5 143.6h0M121.2 144.8h0M126.0 135.9h0M131.2 103.7h0M121.1 122.3h0M129.7 117.1h0M121.6 89.2h0M121.8 140.4h0M124.2 106.5h0M133.0 151.2h0M132.6 76.1h0M132.9 118.3h0M130.9 129.5h0M129.9 117.1h0M125.4 135.9h0M125.7 147.5h0M125.2 100.8h0M125.2 136.9h0M133.1 122.2h0M129.3 146.0h0M121.2 141.0h0M128.5 133.8h0M121.0 144.9h0M130.0 93.1h0M127.4 156.7h0M129.4 123.6h0M127.9 96.5h0M123.7 144.9h0M122.1 137.6h0M133.0 151.0h0M124.4 96.9h0M131.0 106.6h0M120.1 131.0h0M131.1 120.3h0M121.2 106.9h0M125.5 138.1h0M132.2 138.3h0M133.4 129.8h0M127.8 112.7h0M120.6 100.6h0M127.7 136.6h0M126.0 106.2h0M128.9 70.9h0M124.7 129.3h0M123.0 97.1h0M124.1 130.1h0M122.6 117.2h0M127.1 158.9h0M120.0 131.0h0M132.4 103.0h0M121.3 115.5h0M127.7 126.6h0M126.3 132.8h0M127.9 136.9h0M123.3 155.3h0M123.3 108.1h0M130.4 134.9h0M130.9 95.3h0M124.5 125.5h0M129.9 116.2h0M121.8 138.2h0M130.6 142.0h0M127.5 148.4h0M125.5 109.8h0M128.5 98.5h0M131.9 133.5h0M124.2 133.5h0M124.3 86.0h0M128.5 155.7h0M127.2 132.4h0M133.4 102.3h0M126.1 136.0h0M125.9 118.0h0M130.1 125.9h0M125.9 100.9h0M126.3 139.9h0M129.0 105.2h0M127.0 139.3h0M128.5 89.7h0M124.7 131.6h0M125.0 144.0h0M128.7 81.9h0M126.4 109.1h0M131.9 124.7h0M124.0 130.5h0M124.2 124.0h0M123.0 77.6h0M120.9 116.6h0M121.5 130.4h0M126.9 111.4h0M125.9 116.1h0M125.7 135.9h0M127.9 79.1h0M120.8 36.6h0M123.3 119.9h0M130.8 127.9h0M127.4 102.3h0M129.1 134.1h0M122.8 120.2h0M122.2 114.3h0M132.2 118.2h0M125.1 139.6h0M122.9 102.2h0M127.6 133.7h0M124.2 116.5h0M127.0 131.7h0M129.3 92.6h0M131.1 119.5h0M128.7 132.7h0M124.5 132.5h0M120.0 102.3h0M120.7 97.4h0M127.9 127.2h0M122.9 138.1h0M128.5 116.5h0M123.7 134.2h0M120.0 110.3h0M120.9 143.7h0M123.8 121.1h0M127.4 128.7h0M123.1 160.7h0M128.5 102.9h0M127.1 87.8h0M122.0 52.3h0M124.8 133.3h0M126.6 132.6h0M122.0 137.6h0M123.3 133.2h0M120.2 109.3h0M123.1 130.2h0M124.3 148.4h0M132.9 93.5h0M125.6 128.8h0M121.5 152.2h0M131.4 122.3h0M122.4 146.2h0M120.9 128.4h0M121.1 72.1h0M128.7 152.7h0M120.1 148.5h0M127.2 145.1h0M123.7 92.7h0M126.9 131.1h0M130.2 121.7h0M120.3 129.1h0M121.8 131.8h0M121.4 132.4h0M133.0 68.4h0M125.1 111.4h0M122.9 119.8h0M121.5 128.9h0M127.9 125.4h0M132.6 124.2h0M121.8 150.6h0M121.5 145.7h0M120.9 82.2h0M129.4 129.0h0M133.4 127.3h0M129.4 127.6h0M122.4 152.0h0M130.9 110.5h0M130.2 154.5h0M131.1 125.3h0M123.7 101.4h0M131.8 103.1h0M132.5 139.0h0M126.9 137.4h0M129.0 136.5h0M121.3 120.0h0M127.7 139.2h0M130.8 130.5h0M127.6 65.4h0M125.0 126.6h0M122.9 121.2h0M129.2 121.6h0M129.8 120.0h0M130.9 130.3h0M124.5 129.7h0M130.4 132.0h0M130.7 68.3h0M120.6 119.9h0M132.0 129.7h0M123.3 138.4h0M122.8 148.0h0M128.8 123.6h0M120.1 138.2h0M129.5 119.9h0M122.3 97.0h0M132.0 136.7h0M129.1 119.5h0M128.7 130.5h0M124.8 99.1h0M124.7 146.6h0M125.1 136.4h0M123.4 146.8h0M123.5 147.7h0M124.1 112.6h0M123.2 121.6h0M121.6 156.4h0M120.1 118.3h0M131.8 143.0h0M125.0 106.4h0M124.7 122.3h0M124.7 136.5h0M126.9 88.1h0M132.6 125.6h0M124.0 71.8h0M122.0 127.6h0M124.5 106.5h0M127.9 92.1h0M120.8 133.7h0M125.5 91.7h0M131.4 41.5h0M127.6 95.0h0M132.1 135.1h0M120.5 130.4h0M121.9 128.1h0M123.7 140.2h0M127.9 137.4h0M127.6 121.8h0M132.7 131.4h0M125.8 134.1h0M130.0 117.0h0M132.3 136.4h0M122.3 89.6h0M127.5 133.5h0M130.2 117.4h0M132.6 128.8h0M120.3 104.9h0M132.7 84.6h0M128.2 126.5h0M122.0 140.8h0M133.3 98.5h0M130.4 116.3h0M129.7 144.2h0M125.2 119.0h0M124.4 128.3h0M122.9 121.9h0M131.9 104.4h0M130.3 112.2h0M121.3 129.2h0M130.2 137.6h0M127.8 126.5h0M121.7 111.9h0M126.3 125.2h0M128.7 113.7h0M125.5 107.4h0M127.8 136.3h0M125.6 144.2h0M121.6 125.6h0M126.0 126.5h0M123.3 132.0h0M131.7 122.9h0M132.3 136.5h0M128.8 110.7h0M130.8 137.7h0M130.7 110.1h0M125.8 98.4h0M131.2 131.1h0M131.8 122.5h0M121.0 128.0h0M130.2 132.8h0M125.9 141.1h0M122.0 108.0h0M120.3 123.3h0M120.4 102.0h0M122.1 124.4h0M126.3 121.9h0M125.6 139.3h0M126.9 103.4h0M122.5 108.9h0M127.0 95.4h0M127.6 126.4h0M123.5 99.0h0M124.1 111.7h0M127.3 125.0h0M126.3 133.1h0M126.5 40.0h0M126.2 90.6h0M121.0 119.1h0M133.4 137.6h0M126.1 118.8h0M129.4 129.1h0M121.4 104.7h0M120.8 152.9h0M129.8 139.1h0M124.0 146.2h0M128.4 44.7h0M127.7 113.7h0M119.9 118.6h0M126.9 73.3h0M127.1 110.0h0M130.6 130.3h0M130.0 136.9h0M127.8 123.8h0M127.9 150.2h0M121.8 119.2h0M120.3 99.9h0M126.8 112.0h0M120.1 82.5h0M129.2 70.6h0M125.6 122.5h0M127.3 113.5h0M131.2 77.7h0M124.2 136.5h0M125.2 110.3h0M120.6 128.9h0M126.6 118.7h0M129.6 119.7h0M130.4 118.4h0M127.6 97.5h0M126.1 102.1h0M122.3 138.8h0M130.3 146.4h0M124.8 128.2h0M130.8 93.0h0M130.0 123.0h0M130.4 115.5h0M121.3 95.3h0M129.9 91.9h0M126.5 94.9h0M127.4 135.5h0M127.9 119.8h0M132.3 122.5h0M127.4 146.5h0M124.5 113.5h0M124.7 77.5h0M119.9 117.7h0M128.7 112.8h0M127.7 71.1h0M129.2 118.8h0M126.4 70.4h0M125.7 113.9h0M132.1 130.6h0M126.6 78.9h0M130.6 133.4h0M125.8 50.1h0M121.1 152.7h0M123.7 138.2h0M128.2 115.8h0M124.8 117.0h0M133.2 116.9h0M129.8 114.0h0M120.0 114.1h0M130.0 111.1h0M122.6 125.6h0M132.4 127.5h0M122.1 121.2h0M127.6 143.8h0M132.6 138.5h0M126.0 114.7h0M124.7 87.5h0M120.9 126.0h0M124.7 133.5h0M129.3 136.2h0M129.8 112.7h0M121.2 75.4h0M129.8 90.4h0M120.2 103.9h0M122.5 106.0h0M124.9 131.1h0M128.6 128.2h0M123.1 110.2h0M121.4 109.6h0M127.7 99.4h0M133.2 112.5h0M127.9 121.4h0M126.2 142.9h0M120.3 131.5h0M126.7 126.4h0M124.9 132.2h0M132.4 135.0h0M128.6 129.1h0M124.9 114.1h0M125.3 141.6h0M124.0 116.8h0M121.9 127.8h0M128.3 129.0h0M121.7 111.5h0M123.0 107.9h0M132.6 113.0h0M121.7 140.4h0M122.1 138.0h0M127.7 119.4h0M127.2 143.1h0M128.5 114.2h0M126.9 147.8h0M132.7 112.0h0M126.3 145.2h0M127.8 135.1h0M126.7 114.2h0M124.1 96.9h0M123.1 143.4h0M125.3 152.4h0M127.0 123.5h0M131.7 82.3h0M120.7 121.4h0M124.7 110.7h0M132.7 120.4h0M120.4 119.3h0M133.0 102.9h0M121.8 145.6h0M129.4 78.5h0M123.4 71.2h0M126.2 117.9h0M125.7 103.1h0M130.5 147.6h0M122.6 140.3h0M132.8 133.6h0M125.1 106.9h0M131.8 148.0h0M125.9 78.4h0M129.3 116.6h0M122.3 130.9h0M128.3 120.8h0M123.4 124.5h0M124.9 143.6h0M124.4 135.4h0M130.6 139.8h0M131.0 122.4h0M122.5 121.6h0M131.6 116.4h0M126.2 125.4h0M128.1 109.3h0M125.6 136.5h0M126.9 120.9h0M127.7 122.9h0M127.1 134.3h0M128.5 126.3h0M133.2 126.9h0M132.9 126.8h0M133.3 102.3h0M126.8 128.9h0M127.6 114.3h0M130.7 122.2h0M127.2 132.4h0M127.5 137.1h0M125.9 136.8h0M130.7 116.3h0M124.4 139.4h0M122.1 133.4h0M120.5 114.9h0M130.8 116.3h0M130.8 121.8h0M123.6 131.9h0M123.0 135.2h0M127.2 89.7h0M130.0 95.3h0M132.6 125.4h0M120.1 124.5h0M126.9 148.2h0M132.5 143.1h0M125.6 147.2h0M127.6 70.5h0M130.5 128.2h0M125.5 143.7h0M131.4 134.4h0M133.0 112.5h0M127.3 138.5h0M126.3 142.1h0M131.4 125.9h0M132.6 149.3h0M133.1 123.0h0M129.6 130.7h0M126.8 103.6h0M122.5 121.1h0M129.5 115.5h0M129.4 115.5h0M120.5 116.3h0M127.5 137.8h0M129.5 137.8h0M125.3 104.4h0M124.7 106.7h0M122.3 138.7h0M129.0 148.8h0M131.2 129.4h0M126.9 130.8h0M128.1 117.0h0M130.4 130.6h0M122.2 105.8h0M132.1 122.9h0M127.7 140.3h0M131.7 131.8h0M128.1 134.9h0M130.6 112.4h0M129.8 138.9h0M121.0 88.0h0M127.5 150.0h0M120.6 126.0h0M120.9 141.9h0M129.1 109.4h0M131.2 107.6h0M125.3 99.6h0M124.3 92.5h0M121.0 93.0h0M127.1 138.9h0M131.3 128.5h0M126.3 128.8h0M121.7 94.3h0M124.3 100.7h0M124.4 80.4h0M121.8 125.7h0M126.7 112.7h0M130.3 131.6h0M120.6 147.0h0M123.9 123.7h0M129.8 135.1h0M129.7 145.4h0M126.4 128.4h0M128.7 136.2h0M132.5 139.8h0M127.8 137.9h0M125.1 117.0h0M123.5 127.7h0M126.9 136.7h0M130.2 120.3h0M126.4 125.6h0M121.4 81.4h0M131.9 112.3h0M130.0 118.5h0M124.5 128.3h0M127.7 94.7h0M130.1 115.4h0M127.6 87.1h0M130.4 117.0h0M123.6 129.7h0M128.7 131.6h0M130.4 128.3h0M126.3 127.9h0M120.4 95.1h0M123.4 108.8h0M126.1 26.3h0M126.1 91.2h0M128.3 136.8h0M130.0 142.1h0M123.2 130.6h0M131.9 139.2h0M123.7 107.6h0M121.2 71.7h0M123.8 144.6h0M129.0 133.5h0M125.5 109.3h0M130.6 122.9h0M121.4 137.9h0M120.8 88.7h0M131.5 116.8h0M128.3 107.2h0M130.1 139.4h0M128.3 106.7h0M124.8 75.4h0M132.9 138.3h0M130.3 133.1h0M132.8 136.8h0M121.6 90.8h0M120.7 123.3h0M125.4 103.6h0M131.2 104.0h0M124.2 123.0h0M122.0 115.1h0M126.6 131.1h0M127.6 120.3h0M129.8 90.0h0M129.1 104.6h0M122.2 123.6h0M130.3 148.4h0M127.9 110.8h0M120.7 113.8h0M128.3 144.2h0M125.5 125.0h0M132.8 87.0h0M120.0 117.3h0M124.9 116.1h0M129.0 121.4h0M128.7 110.6h0M126.8 120.4h0M128.4 111.4h0M120.1 53.5h0M133.1 101.8h0M130.1 113.0h0M128.5 134.0h0M129.1 125.8h0M120.1 146.2h0M122.7 63.3h0M129.9 121.8h0M120.9 128.3h0M124.4 142.1h0M130.3 111.0h0M120.5 143.8h0M123.0 150.7h0M132.6 21.0h0M120.7 105.9h0M128.7 140.3h0M128.1 127.9h0M122.4 121.2h0M128.1 138.5h0M130.4 96.9h0M125.2 102.7h0M130.9 124.2h0M122.9 124.6h0M131.6 138.3h0M122.5 131.6h0M122.0 140.7h0M126.7 126.9h0M131.5 131.2h0M132.3 123.1h0M127.3 117.5h0M130.8 109.8h0M131.2 130.7h0M127.4 114.1h0M127.9 139.5h0M130.6 127.1h0M123.3 106.1h0M130.0 146.2h0M120.0 148.2h0M126.9 148.7h0M124.2 139.2h0M128.9 41.6h0M124.2 130.8h0M124.4 126.4h0M132.1 126.1h0M123.1 110.5h0M127.7 102.1h0M122.6 113.5h0M133.2 119.2h0M123.7 132.9h0M126.8 111.0h0M122.2 125.0h0M132.5 112.7h0M129.5 122.2h0M127.7 126.1h0M133.3 120.4h0M127.7 149.3h0M131.9 74.9h0M120.0 111.4h0M120.5 95.7h0M129.8 142.9h0M120.8 74.8h0M127.8 128.7h0M126.7 150.2h0M123.3 140.1h0M126.4 124.6h0M129.2 135.4h0M130.9 114.5h0M124.6 95.9h0M130.3 137.2h0M133.5 129.6h0M122.5 101.0h0M130.7 131.5h0M126.6 117.5h0M127.2 117.6h0M128.8 134.7h0M131.3 136.0h0M123.9 110.6h0M127.8 134.0h0M128.6 127.1h0M130.1 112.1h0M130.3 123.9h0M129.6 107.6h0M128.8 125.4h0M133.3 158.1h0M123.0 123.1h0M128.3 85.3h0M128.2 58.2h0M120.7 127.9h0M121.8 111.5h0M127.7 120.2h0M121.0 121.0h0M123.8 144.0h0M132.5 131.8h0M124.0 140.0h0M128.8 132.6h0M121.1 152.0h0M129.5 114.5h0M127.1 129.6h0M129.2 96.0h0M126.6 81.8h0M124.2 109.6h0M121.1 124.1h0M130.7 138.7h0M121.5 128.8h0M128.6 92.0h0M129.6 87.4h0M131.6 127.5h0M132.1 106.6h0M125.1 119.6h0M126.7 127.2h0M122.3 134.0h0M131.3 125.4h0M121.3 134.4h0M123.8 128.2h0M121.9 115.6h0M122.1 146.8h0M121.9 116.1h0M124.9 102.9h0M132.1 144.1h0M126.8 106.2h0M120.8 119.5h0M131.0 138.8h0M130.6 113.5h0M133.0 116.5h0M128.9 127.4h0M121.3 154.2h0M133.5 140.8h0M125.7 103.2h0M123.3 119.9h0M120.2 113.6h0M120.3 126.7h0M125.0 123.2h0M129.7 130.9h0M132.0 109.3h0M130.0 114.3h0M121.5 139.4h0M130.9 138.0h0M132.7 72.0h0M128.2 140.6h0M122.6 146.6h0M130.1 116.2h0M124.3 119.2h0M131.4 122.2h0M123.4 124.0h0M126.5 118.7h0M124.4 131.1h0M123.7 114.2h0M120.5 117.0h0M126.4 111.2h0M127.1 80.7h0M123.8 119.3h0M127.2 160.4h0M128.9 123.7h0M125.4 99.6h0M124.9 123.0h0M125.6 144.2h0M125.0 133.4h0M126.8 120.5h0M128.7 113.7h0M123.3 115.6h0M120.5 107.6h0M125.7 120.1h0M122.5 93.0h0M130.9 121.8h0M130.5 116.4h0M127.2 97.5h0M128.0 130.0h0M129.6 137.7h0M125.4 119.3h0M131.5 146.1h0M131.7 149.7h0M120.4 124.2h0M120.3 115.1h0M120.2 147.7h0M122.1 126.3h0M127.1 113.0h0M120.5 104.3h0M120.6 139.3h0M130.8 108.5h0M131.2 95.8h0M120.5 125.3h0M126.2 136.6h0M127.3 132.4h0M128.4 107.3h0M129.6 137.2h0M131.3 126.6h0M130.8 138.8h0M130.6 124.6h0M128.1 128.6h0M131.1 128.3h0M132.2 115.7h0M121.5 90.8h0M121.6 143.0h0M127.0 123.0h0M129.3 123.7h0M124.0 118.5h0M125.1 120.4h0M126.3 127.1h0M125.5 99.7h0M131.0 148.1h0M125.6 125.7h0M128.5 150.3h0M121.2 97.1h0M128.7 144.2h0M129.2 120.5h0M129.8 136.9h0M132.7 126.9h0M126.2 133.3h0M131.0 139.1h0M124.2 104.2h0M127.8 83.3h0M130.4 151.7h0M129.5 144.3h0M131.9 132.0h0M130.4 117.3h0M122.5 146.5h0M128.3 131.5h0M121.0 126.6h0M121.6 112.4h0M123.6 67.6h0M132.0 119.8h0M133.4 111.1h0M121.1 141.6h0M125.0 134.1h0M131.6 87.4h0M120.6 144.2h0M133.1 129.1h0M125.2 138.7h0M127.2 114.7h0M122.6 85.1h0M130.8 136.3h0M127.8 136.9h0M128.1 60.4h0M120.5 145.4h0M128.8 127.6h0M121.7 127.6h0M126.4 114.4h0M130.5 118.5h0M122.3 110.1h0M124.3 103.6h0M120.3 137.2h0M122.5 119.2h0M132.0 110.4h0M121.8 127.5h0M124.1 122.4h0M130.2 99.4h0M125.8 131.5h0M122.3 120.3h0M129.0 145.4h0M122.5 136.5h0M127.2 156.1h0M120.0 128.1h0M130.0 126.2h0M120.1 138.6h0M121.6 120.8h0M121.3 115.5h0M123.0 118.1h0M131.2 148.0h0M129.0 108.6h0M124.4 115.7h0M131.1 104.5h0M129.0 147.7h0M132.6 99.8h0M124.0 112.6h0M130.4 142.8h0M128.5 114.5h0M131.7 86.7h0M130.1 134.6h0M133.5 138.2h0M120.9 105.5h0M125.5 105.9h0M131.7 144.3h0M128.3 129.9h0M130.6 144.2h0M126.4 117.6h0M131.5 111.5h0M124.4 108.5h0M127.6 142.7h0M129.4 140.3h0M129.0 112.2h0M125.5 123.5h0M126.1 135.3h0M122.9 128.0h0M127.7 139.1h0M128.3 117.4h0M127.1 116.4h0M120.7 101.1h0M122.6 129.8h0M121.4 144.7h0M124.3 94.2h0M124.4 98.8h0M120.0 133.9h0M125.4 89.2h0M129.8 129.4h0M132.5 131.5h0M120.9 124.5h0M120.2 152.1h0M130.6 113.1h0M133.4 120.6h0M129.5 131.7h0M125.2 113.1h0M130.8 132.3h0M126.3 135.9h0M132.7 115.6h0M120.0 141.3h0M124.9 115.6h0M122.3 114.0h0M132.2 116.0h0M131.6 104.9h0M122.0 137.0h0M128.5 119.3h0M130.7 116.4h0M127.5 118.2h0M123.0 123.0h0M121.9 117.6h0M130.9 124.6h0M124.6 114.3h0M122.1 86.1h0M128.7 55.0h0M124.9 151.4h0M120.2 129.6h0M132.3 125.7h0M131.4 112.2h0M121.6 125.5h0M129.7 88.4h0M130.4 115.9h0M130.3 118.2h0M129.0 148.2h0M125.4 127.2h0M127.6 124.6h0M131.9 116.1h0M126.2 70.2h0M132.3 108.9h0M131.9 133.8h0M126.1 85.5h0M122.6 92.4h0M123.8 132.7h0M121.6 125.0h0M133.3 103.7h0M128.8 137.3h0M133.3 124.5h0M129.6 120.9h0M131.3 120.7h0M133.5 115.2h0M125.2 133.7h0M132.4 120.2h0M130.6 116.7h0M132.6 116.8h0M131.5 127.8h0M132.8 106.5h0M132.0 56.0h0M120.2 136.9h0M129.2 116.8h0M130.4 129.8h0M133.0 132.3h0M121.8 95.4h0M121.2 132.9h0M123.9 152.5h0M121.7 92.8h0M128.5 133.0h0M123.5 94.7h0M128.8 119.9h0M128.8 130.9h0M123.4 143.6h0M128.3 125.9h0M133.1 96.5h0M126.9 122.6h0M128.1 132.3h0M122.4 116.2h0M125.7 107.6h0M124.5 111.2h0M131.8 120.8h0M122.9 119.5h0M129.3 134.6h0M122.9 110.9h0M133.0 136.9h0M126.4 141.1h0M122.6 107.2h0M121.4 131.3h0M126.2 151.6h0M133.0 132.0h0M126.1 103.2h0M121.0 158.1h0M131.0 138.2h0M124.0 115.8h0M128.6 95.4h0M127.1 118.8h0M127.6 142.1h0M132.3 108.9h0M132.1 118.6h0M122.5 117.0h0M122.1 137.0h0M131.2 125.5h0M124.7 140.0h0M120.3 107.6h0M125.8 138.3h0M132.7 114.4h0M124.7 96.8h0M133.1 145.8h0M122.6 130.6h0M132.7 105.2h0M130.5 99.5h0M120.8 138.9h0M120.5 124.0h0M120.6 120.7h0M123.3 127.3h0M120.0 133.5h0M121.2 103.6h0M121.0 116.4h0M129.5 112.9h0M121.3 90.5h0M130.6 118.0h0M123.5 131.4h0M125.3 148.6h0M123.7 122.8h0M133.0 119.6h0M122.2 104.2h0M132.3 128.3h0M129.7 143.8h0M127.5 62.1h0M128.0 147.7h0M126.4 144.2h0M122.7 111.4h0M124.1 117.2h0M124.2 111.2h0M124.0 135.8h0M127.5 143.3h0M124.1 136.4h0M123.5 88.4h0M132.5 120.7h0M129.5 117.5h0M120.7 102.0h0M124.3 107.0h0M128.9 114.0h0M121.2 144.4h0M133.1 145.8h0M131.1 126.4h0M120.8 124.0h0M130.9 120.4h0M127.9 118.9h0M120.8 136.0h0M121.6 114.9h0M130.2 132.7h0M131.3 115.0h0M126.8 63.1h0M122.5 155.7h0M126.1 115.9h0M127.5 134.3h0M131.7 158.2h0M121.5 133.4h0M126.5 145.9h0M122.4 102.0h0M126.2 103.5h0M124.4 132.1h0M131.7 133.7h0M129.5 89.7h0M127.2 107.5h0M131.6 116.6h0M123.5 122.2h0M120.7 100.6h0M120.1 111.1h0M123.2 116.1h0M130.6 96.9h0M130.7 55.8h0M129.6 98.7h0M126.6 128.0h0M121.9 116.0h0M127.6 129.7h0M120.0 134.5h0M130.8 63.5h0M129.1 130.4h0M132.0 124.7h0M126.6 119.9h0M132.2 121.0h0M129.7 129.8h0M133.1 126.6h0M123.9 126.6h0M131.0 72.3h0M131.6 155.7h0M124.2 127.9h0M130.4 76.0h0M124.3 76.4h0M131.9 139.1h0M132.9 137.9h0M124.2 117.7h0M133.2 135.9h0M129.3 129.2h0M126.0 148.0h0M131.4 83.3h0M120.1 118.7h0M130.8 73.3h0M128.0 112.4h0M131.3 100.0h0M126.2 126.6h0M128.2 108.0h0M126.5 122.6h0M131.6 98.0h0M152.3 110.5h0M145.0 128.2h0M153.4 126.5h0M149.0 104.3h0M149.7 131.4h0M142.0 138.7h0M153.3 131.0h0M148.4 136.9h0M146.2 133.0h0M144.3 125.7h0M142.6 116.0h0M154.5 124.9h0M154.6 98.8h0M151.3 122.1h0M149.2 145.3h0M148.6 123.2h0M155.0 99.0h0M149.6 123.2h0M143.6 136.0h0M150.5 118.0h0M153.8 140.3h0M152.8 132.3h0M151.9 90.0h0M148.0 57.9h0M143.1 114.0h0M143.5 102.1h0M155.0 87.4h0M144.3 119.7h0M143.0 101.9h0M151.2 128.4h0M148.8 103.4h0M147.1 80.1h0M154.1 151.9h0M153.2 86.9h0M148.4 132.1h0M146.4 117.8h0M153.2 104.7h0M151.9 140.5h0M146.8 123.9h0M150.6 144.6h0M152.8 95.1h0M151.3 126.2h0M149.1 92.5h0M143.2 102.0h0M143.2 111.3h0M152.6 118.1h0M144.9 122.0h0M145.9 136.8h0M153.2 114.2h0M146.5 114.7h0M147.3 121.4h0M142.4 141.2h0M152.2 150.0h0M143.9 114.5h0M142.3 107.1h0M147.7 136.1h0M142.0 129.9h0M150.3 143.3h0M148.5 113.9h0M144.2 111.2h0M151.0 110.8h0M143.9 124.4h0M143.2 134.5h0M145.5 143.9h0M147.5 115.0h0M148.1 129.0h0M151.6 112.5h0M144.1 107.3h0M150.8 135.0h0M142.9 135.6h0M154.1 122.0h0M150.8 97.5h0M145.8 119.8h0M142.0 106.3h0M149.7 124.8h0M150.6 147.9h0M154.1 108.0h0M150.1 108.9h0M145.2 115.7h0M149.4 130.9h0M146.4 130.2h0M142.6 98.4h0M146.5 106.9h0M150.4 132.3h0M146.6 135.4h0M142.9 119.2h0M150.4 132.6h0M144.0 106.4h0M148.6 127.7h0M149.5 87.3h0M147.0 139.5h0M143.4 75.0h0M145.5 126.8h0M143.6 109.8h0M151.9 89.0h0M141.9 106.3h0M142.9 101.6h0M143.5 141.6h0M142.3 128.2h0M153.1 122.3h0M144.5 134.4h0M146.8 147.8h0M146.4 147.9h0M152.3 115.2h0M142.0 99.5h0M145.7 112.4h0M144.9 117.1h0M145.6 139.3h0M146.9 120.1h0M148.4 123.4h0M143.5 126.0h0M142.1 134.1h0M145.2 82.9h0M148.7 109.0h0M149.2 135.2h0M143.2 127.6h0M150.1 101.9h0M147.7 125.3h0M145.8 118.7h0M144.7 144.2h0M145.1 112.1h0M149.9 105.9h0M149.6 49.6h0M145.4 105.7h0M142.7 108.3h0M148.7 138.6h0M151.8 108.8h0M150.3 134.0h0M153.2 125.2h0M150.2 139.9h0M153.8 119.4h0M149.4 93.5h0M150.8 130.4h0M149.2 122.1h0M144.9 112.9h0M142.8 140.9h0M148.2 92.3h0M143.0 110.9h0M152.8 142.2h0M154.6 136.8h0M146.8 142.2h0M145.9 138.0h0M142.5 122.3h0M153.0 93.9h0M142.7 114.7h0M146.3 138.8h0M151.7 122.0h0M149.8 114.9h0M154.1 124.3h0M149.4 142.7h0M149.1 148.5h0M147.6 116.2h0M142.3 109.6h0M154.3 121.1h0M148.9 122.3h0M152.5 133.7h0M154.0 45.2h0M148.2 121.1h0M146.1 102.6h0M146.6 128.4h0M154.9 92.4h0M148.6 116.7h0M142.2 124.0h0M146.1 146.4h0M142.5 116.6h0M148.1 119.2h0M149.5 116.9h0M150.2 131.6h0M144.7 133.8h0M148.6 129.0h0M152.9 93.3h0M141.5 119.6h0M152.7 112.6h0M154.2 121.3h0M146.4 146.2h0M141.8 124.1h0M149.7 141.0h0M153.6 129.5h0M150.3 133.5h0M146.2 132.8h0M153.6 104.4h0M146.2 144.5h0M143.1 112.1h0M149.0 119.5h0M145.4 153.8h0M145.7 98.2h0M149.4 141.1h0M154.3 117.6h0M154.2 138.6h0M146.9 130.5h0M147.6 135.7h0M154.2 141.6h0M146.9 139.4h0M144.2 119.6h0M151.6 122.6h0M148.2 74.7h0M148.0 119.9h0M146.7 116.6h0M151.7 87.0h0M149.4 147.5h0M152.1 118.3h0M144.2 94.4h0M147.9 144.8h0M151.2 114.9h0M145.2 132.2h0M152.7 125.3h0M150.5 138.3h0M151.6 27.7h0M150.7 85.9h0M148.5 131.6h0M152.2 141.6h0M144.7 113.9h0M148.1 125.3h0M142.0 130.0h0M143.2 107.4h0M143.1 124.8h0M148.2 112.7h0M151.6 135.7h0M153.5 155.8h0M153.7 106.4h0M153.9 105.9h0M147.0 140.5h0M152.0 118.1h0M150.8 130.7h0M146.3 121.2h0M146.3 120.2h0M144.7 138.0h0M144.2 134.5h0M148.7 128.2h0M145.1 114.2h0M151.5 128.2h0M142.5 111.7h0M152.2 73.0h0M143.3 134.1h0M154.5 116.3h0M148.4 133.9h0M153.9 108.2h0M143.9 122.2h0M147.1 114.6h0M145.4 117.8h0M148.3 118.7h0M146.0 130.6h0M144.0 135.6h0M143.0 112.7h0M148.9 121.6h0M153.3 114.4h0M143.4 104.2h0M144.9 127.8h0M149.3 148.8h0M150.9 129.3h0M146.7 152.8h0M150.4 119.1h0M150.6 145.0h0M147.7 145.3h0M148.4 139.1h0M154.2 141.4h0M152.5 135.3h0M154.2 126.9h0M143.2 134.4h0M144.5 141.6h0M146.2 110.9h0M148.6 156.8h0M141.6 119.5h0M141.8 135.3h0M142.1 136.6h0M150.4 121.6h0M150.6 121.6h0M152.0 103.2h0M149.5 155.5h0M153.6 124.3h0M144.8 104.9h0M149.3 113.0h0M153.5 36.0h0M149.4 129.1h0M149.3 116.4h0M149.7 132.1h0M149.9 133.0h0M152.3 106.8h0M148.2 120.3h0M148.0 108.4h0M153.4 121.5h0M145.6 133.9h0M144.0 124.5h0M150.0 98.9h0M154.8 111.3h0M147.8 118.4h0M142.3 139.2h0M145.9 128.7h0M150.1 134.3h0M145.5 104.6h0M148.3 140.1h0M153.0 123.3h0M151.9 125.4h0M141.9 137.7h0M149.3 139.1h0M148.1 140.8h0M142.1 148.8h0M148.3 120.1h0M143.2 114.6h0M149.5 91.1h0M149.3 120.0h0M145.7 137.9h0M149.2 135.7h0M150.4 113.6h0M145.0 122.5h0M149.7 144.2h0M154.2 96.5h0M152.7 133.5h0M152.0 132.2h0M150.4 138.8h0M155.1 125.1h0M152.3 106.9h0M146.7 120.0h0M143.1 112.6h0M149.2 141.1h0M149.4 113.9h0M152.7 105.7h0M145.8 136.8h0M149.0 146.4h0M152.5 67.5h0M145.4 135.6h0M149.7 127.4h0M141.8 83.4h0M151.3 105.7h0M149.2 134.9h0M150.1 112.4h0M148.0 114.0h0M151.8 123.7h0M154.2 109.8h0M141.6 111.9h0M147.9 96.3h0M143.4 129.8h0M153.4 129.1h0M153.5 119.1h0M145.4 119.5h0M145.6 120.6h0M146.5 141.7h0M144.2 148.7h0M141.7 131.8h0M152.0 122.4h0M154.9 145.7h0M145.6 103.6h0M146.4 137.3h0M142.9 133.3h0M142.9 105.2h0M148.6 109.5h0M142.7 102.1h0M150.2 145.3h0M146.8 105.7h0M151.3 126.9h0M144.4 117.4h0M148.1 96.8h0M148.0 102.6h0M143.5 126.9h0M152.9 128.4h0M152.3 107.9h0M153.0 143.4h0M150.8 92.1h0M149.0 127.4h0M152.6 137.7h0M145.1 112.5h0M146.7 120.7h0M154.5 70.9h0M146.7 119.7h0M142.6 120.2h0M148.3 132.6h0M151.3 121.9h0M149.5 116.0h0M151.8 101.4h0M152.9 118.0h0M151.1 101.8h0M146.5 131.2h0M148.2 137.1h0M152.8 128.7h0M150.1 135.3h0M146.8 145.3h0M148.3 100.1h0M150.7 148.2h0M145.3 86.6h0M148.5 107.5h0M151.4 127.7h0M148.8 122.5h0M150.4 133.0h0M149.7 134.2h0M149.6 123.4h0M152.2 117.8h0M143.6 143.1h0M144.4 115.8h0M142.7 126.0h0M142.2 65.3h0M143.6 118.3h0M151.1 136.1h0M152.0 134.6h0M151.7 120.3h0M153.9 111.1h0M154.0 133.1h0M146.8 88.9h0M152.9 127.4h0M149.3 132.7h0M144.3 123.0h0M144.2 126.8h0M142.8 121.9h0M146.0 117.8h0M149.2 130.6h0M147.5 135.3h0M146.7 133.8h0M145.2 142.1h0M150.7 113.0h0M154.1 118.7h0M146.2 138.7h0M152.7 123.9h0M143.1 125.4h0M151.1 123.6h0M152.3 115.5h0M153.2 149.5h0M143.2 114.4h0M147.6 101.1h0M154.3 126.7h0M143.5 110.8h0M150.4 117.0h0M143.5 144.0h0M147.0 105.2h0M141.7 138.6h0M149.4 145.1h0M142.8 117.0h0M143.4 98.6h0M149.0 133.7h0M149.0 107.2h0M152.3 96.0h0M143.0 112.6h0M143.3 71.8h0M155.1 147.5h0M146.3 135.2h0M154.9 92.0h0M141.6 128.9h0M151.0 92.8h0M153.7 106.5h0M152.3 123.0h0M150.6 122.7h0M152.3 140.5h0M152.1 131.8h0M144.0 134.3h0M145.7 124.2h0M144.4 122.6h0M148.6 134.0h0M146.7 106.6h0M145.1 136.9h0M152.2 120.1h0M142.8 93.9h0M149.7 130.9h0M154.4 96.9h0M151.2 137.7h0M147.3 133.5h0M150.1 99.7h0M152.7 124.7h0M146.9 106.0h0M147.8 121.1h0M149.0 117.5h0M151.5 58.8h0M153.3 119.2h0M150.1 151.7h0M142.9 122.8h0M145.3 107.4h0M145.4 116.8h0M141.6 135.5h0M146.9 138.1h0M143.9 102.4h0M154.4 122.8h0M149.5 106.0h0M144.3 119.6h0M151.3 155.4h0M152.5 124.9h0M147.2 106.0h0M146.5 135.7h0M144.3 122.3h0M142.7 60.9h0M151.0 130.8h0M143.8 124.4h0M150.6 132.3h0M146.7 125.9h0M143.6 140.3h0M149.5 127.1h0M143.1 127.6h0M146.8 104.5h0M150.2 100.1h0M146.0 108.0h0M152.9 139.1h0M149.2 120.9h0M147.5 100.1h0M150.2 143.7h0M142.4 144.1h0M154.9 122.4h0M150.0 126.5h0M146.4 114.4h0M151.6 134.4h0M154.5 120.6h0M147.6 115.9h0M150.0 136.1h0M149.5 134.3h0M151.3 143.8h0M149.5 95.4h0M153.2 132.4h0M154.7 99.2h0M152.5 131.6h0M151.9 133.4h0M147.1 101.7h0M149.6 110.9h0M142.4 136.4h0M151.3 158.8h0M149.8 119.7h0M146.7 101.6h0M149.8 136.7h0M150.8 130.3h0M146.9 139.0h0M152.0 113.6h0M145.1 116.1h0M143.3 101.4h0M141.5 113.3h0M145.3 126.4h0M153.9 141.2h0M143.6 106.9h0M147.7 143.8h0M148.4 91.3h0M143.1 141.0h0M145.8 137.9h0M154.0 109.7h0M141.8 132.3h0M143.8 120.9h0M143.8 127.5h0M143.2 128.6h0M146.5 134.0h0M151.1 115.1h0M149.6 126.2h0M147.7 111.9h0M149.8 148.9h0M143.7 91.3h0M142.6 123.1h0M144.2 144.6h0M151.1 118.1h0M150.5 141.7h0M152.2 131.0h0M145.4 120.7h0M145.8 101.9h0M149.9 108.4h0M154.8 104.2h0M142.2 108.4h0M150.8 136.9h0M150.4 147.5h0M145.6 132.0h0M147.9 129.2h0M171.0 119.5h0M171.7 123.7h0M174.0 110.4h0M169.4 124.4h0M167.6 101.5h0M175.5 93.2h0M164.6 118.0h0M167.8 135.0h0M168.3 124.5h0M165.4 124.3h0M168.6 125.8h0M175.3 104.5h0M163.4 85.4h0M164.4 142.9h0M168.3 127.5h0M173.1 124.1h0M167.9 111.3h0M168.6 123.9h0M173.1 111.8h0M166.0 130.2h0M168.2 90.1h0M166.3 113.7h0M168.9 140.8h0M168.2 121.9h0M169.1 106.2h0M168.5 138.9h0M167.4 135.4h0M168.5 115.5h0M168.2 111.9h0M175.7 127.6h0M165.3 124.6h0M165.0 143.3h0M174.6 109.8h0M171.5 66.1h0M163.8 128.5h0M174.0 140.9h0M174.8 131.6h0M166.3 89.8h0M173.8 129.7h0M175.2 104.7h0M164.4 126.8h0M168.1 137.0h0M175.9 101.6h0M163.3 120.0h0M167.9 112.1h0M169.6 130.6h0M167.0 102.9h0M165.5 104.6h0M171.9 124.2h0M173.7 121.5h0M169.7 107.7h0M167.4 143.6h0M174.5 132.1h0M165.2 122.5h0M163.3 106.6h0M169.5 121.5h0M164.0 137.3h0M171.3 123.5h0M175.5 123.1h0M169.9 123.8h0M175.1 118.8h0M173.9 136.8h0M165.8 96.7h0M170.3 138.4h0M165.1 95.6h0M175.5 105.8h0M166.1 115.7h0M166.7 108.1h0M170.5 122.9h0M173.8 129.6h0M164.0 103.9h0M168.8 108.5h0M168.0 118.2h0M171.8 126.6h0M169.1 125.6h0M166.9 116.3h0M173.2 105.0h0M166.3 120.0h0M168.1 143.3h0M166.1 127.5h0M163.2 119.0h0M172.2 108.5h0M167.2 118.4h0M164.3 142.1h0M167.4 130.4h0M172.1 119.3h0M163.8 117.9h0M167.5 112.4h0M174.9 107.4h0M168.7 115.2h0M175.7 122.6h0M172.4 119.0h0M171.9 121.4h0M173.3 112.0h0M171.9 139.2h0M163.1 111.8h0M172.3 112.6h0M163.3 117.5h0M173.3 85.7h0M168.5 117.0h0M171.8 116.1h0M163.8 147.3h0M169.3 113.9h0M175.6 133.1h0M175.7 130.6h0M166.7 130.9h0M175.5 109.3h0M176.1 148.4h0M167.7 79.2h0M165.8 102.0h0M163.2 133.9h0M172.3 135.8h0M164.4 114.0h0M168.3 125.5h0M171.0 121.3h0M172.3 136.9h0M164.0 100.5h0M173.5 128.8h0M174.0 115.3h0M169.2 116.2h0M168.7 109.1h0M175.8 129.4h0M173.5 147.1h0M169.4 93.7h0M173.2 108.2h0M171.0 148.5h0M172.3 119.7h0M176.2 133.9h0M167.4 122.7h0M163.5 136.8h0M171.0 135.9h0M175.2 83.1h0M170.3 117.6h0M171.8 127.9h0M167.4 141.3h0M167.3 113.4h0M167.6 119.4h0M165.3 116.0h0M165.9 86.8h0M169.4 113.9h0M175.6 104.0h0M175.6 131.4h0M167.3 115.4h0M172.4 98.9h0M170.2 102.8h0M176.3 125.8h0M163.9 123.4h0M175.2 103.3h0M165.4 129.0h0M170.1 109.3h0M165.6 134.1h0M175.7 122.6h0M164.9 126.7h0M171.9 120.2h0M163.6 123.9h0M172.4 137.3h0M165.7 123.9h0M171.2 72.7h0M164.2 122.3h0M164.5 105.8h0M163.9 127.0h0M171.2 133.5h0M175.9 132.2h0M165.3 113.2h0M166.3 114.7h0M171.6 113.5h0M172.5 102.9h0M170.3 107.1h0M168.9 141.6h0M164.6 138.0h0M171.9 100.1h0M165.7 118.7h0M164.6 113.8h0M174.6 113.4h0M164.0 97.4h0M172.2 136.4h0M172.4 103.3h0M170.7 115.9h0M164.0 136.4h0M170.6 110.9h0M171.8 137.9h0M175.7 138.6h0M173.2 102.1h0M163.5 137.3h0M173.9 125.7h0M174.3 121.0h0M175.9 131.4h0M173.8 129.4h0M175.9 134.8h0M168.9 145.5h0M174.1 112.5h0M168.9 126.5h0M173.5 120.0h0M172.7 131.2h0M167.6 137.9h0M168.8 120.6h0M172.6 134.8h0M163.7 136.6h0M171.9 90.9h0M173.4 121.6h0M164.4 117.2h0M175.2 110.3h0M175.6 108.6h0M167.6 149.5h0M176.6 111.0h0M173.3 126.9h0M173.6 128.5h0M173.9 145.5h0M176.7 99.4h0M171.1 117.5h0M165.7 142.4h0M165.5 122.3h0M166.0 117.6h0M171.7 113.2h0M172.9 133.3h0M163.3 118.7h0M165.4 114.2h0M164.6 146.2h0M175.0 65.9h0M167.5 115.5h0M164.2 112.9h0M165.9 126.9h0M163.7 147.6h0M176.1 115.6h0M171.3 125.0h0M165.5 116.2h0M163.1 135.3h0M165.9 113.3h0M172.6 130.2h0M173.9 138.1h0M168.8 124.2h0M171.5 120.9h0M171.7 114.8h0M175.1 133.8h0M167.3 100.8h0M164.2 117.9h0M168.7 122.6h0M171.3 121.9h0M163.3 132.9h0M164.1 150.4h0M172.7 119.2h0M170.9 132.3h0M164.8 147.8h0M169.2 122.9h0M166.0 123.3h0M170.7 107.9h0M174.1 104.4h0M163.9 140.2h0M175.7 149.4h0M171.8 120.0h0M165.9 86.5h0M166.0 123.5h0M165.2 98.2h0M171.5 124.5h0M171.2 117.8h0M165.5 120.9h0M170.5 130.0h0M173.1 142.1h0M164.9 126.8h0M165.3 102.7h0M165.7 117.5h0M174.9 119.0h0M166.0 130.0h0M174.7 138.8h0M164.4 132.8h0M170.7 99.6h0M171.2 59.0h0M166.2 134.7h0M170.4 140.3h0M168.1 117.8h0M175.8 114.1h0M176.0 131.7h0M176.1 100.7h0M163.4 128.3h0M166.8 139.5h0M170.8 132.9h0M175.4 143.3h0M168.6 121.7h0M165.4 112.2h0M173.0 111.9h0M169.6 92.7h0M166.1 139.4h0M169.4 115.0h0M172.5 118.1h0M164.7 118.7h0M173.5 123.4h0M164.1 106.1h0M170.2 105.1h0M171.0 132.0h0M166.0 135.6h0M163.1 100.5h0M168.0 124.0h0M174.1 101.1h0M163.7 122.5h0M168.8 124.5h0M169.2 98.4h0M173.0 125.0h0M173.8 133.9h0M166.6 121.1h0M165.0 144.1h0" stroke="#eb6a62" stroke-width=".85" stroke-linecap="round" fill="none" opacity=".9"/>
<path d="M121.9 101.4h0M125.6 121.5h0M128.6 134.0h0M124.1 131.7h0M123.1 145.5h0M126.6 123.3h0M133.3 121.2h0M121.5 156.8h0M124.4 107.6h0M127.9 127.9h0M127.6 119.5h0M127.3 126.9h0M133.3 125.0h0M128.2 102.5h0M120.9 149.5h0M123.2 140.5h0M122.3 107.2h0M133.3 87.5h0M130.9 88.4h0M125.0 132.0h0M127.6 144.3h0M121.1 117.6h0M124.5 134.2h0M128.9 124.0h0M132.5 124.6h0M131.9 95.1h0M130.3 136.9h0M125.5 133.9h0M128.6 120.2h0M121.1 114.0h0M120.8 105.4h0M126.4 113.7h0M128.5 123.3h0M131.9 112.9h0M130.8 128.6h0M132.2 151.8h0M124.6 141.3h0M132.2 117.7h0M131.7 121.0h0M125.8 109.0h0M121.2 127.7h0M128.3 108.6h0M122.3 154.3h0M120.6 106.4h0M132.1 122.7h0M123.6 126.5h0M124.3 110.6h0M124.7 102.0h0M120.6 146.8h0M130.9 140.2h0M130.7 97.4h0M132.4 109.7h0M123.1 150.7h0M124.1 150.6h0M129.4 98.5h0M121.4 70.6h0M121.3 139.2h0M125.7 141.0h0M120.9 122.6h0M121.1 116.6h0M124.6 99.3h0M123.1 132.0h0M129.1 84.2h0M128.2 146.3h0M133.3 92.8h0M126.9 150.3h0M133.5 104.8h0M125.1 145.8h0M126.7 127.1h0M120.4 105.8h0M123.8 106.1h0M126.8 129.3h0M120.5 152.4h0M120.3 145.2h0M127.6 129.9h0M131.8 100.8h0M123.4 116.5h0M125.5 114.4h0M132.7 123.7h0M132.1 87.4h0M120.2 124.9h0M125.2 110.0h0M125.8 145.3h0M126.8 131.4h0M124.3 141.9h0M123.0 119.4h0M124.9 150.3h0M130.2 139.4h0M128.2 138.3h0M130.4 113.6h0M126.7 106.0h0M130.2 135.2h0M123.9 108.2h0M123.8 131.1h0M127.9 135.7h0M132.9 144.7h0M121.8 119.3h0M120.6 118.4h0M121.8 132.1h0M124.3 141.0h0M124.7 119.7h0M120.9 131.0h0M128.3 69.5h0M120.6 130.6h0M131.6 92.9h0M123.1 102.2h0M128.8 118.5h0M127.4 144.8h0M133.5 125.4h0M125.5 126.0h0M122.9 120.8h0M128.2 142.5h0M131.5 119.3h0M123.6 122.2h0M120.7 131.3h0M132.5 147.4h0M127.1 126.6h0M131.6 124.7h0M131.9 122.7h0M126.7 118.7h0M124.7 138.0h0M125.6 115.8h0M130.1 90.6h0M121.0 145.5h0M132.3 91.0h0M129.2 118.6h0M120.2 96.8h0M125.4 113.2h0M120.1 111.8h0M128.8 129.7h0M126.8 102.8h0M124.5 110.3h0M127.2 98.0h0M120.2 107.0h0M128.0 135.2h0M130.1 131.7h0M120.4 118.5h0M125.1 147.8h0M130.6 155.9h0M120.2 108.6h0M131.4 108.6h0M121.5 132.8h0M128.7 107.5h0M132.1 100.2h0M120.3 128.3h0M124.4 130.7h0M130.0 79.7h0M132.7 98.9h0M127.6 121.3h0M127.4 129.1h0M121.8 106.0h0M123.7 125.2h0M122.5 126.7h0M126.1 128.9h0M121.5 146.9h0M120.8 138.9h0M129.5 117.8h0M132.5 130.8h0M128.2 105.3h0M125.4 104.8h0M130.6 118.8h0M132.9 144.5h0M129.0 144.9h0M120.5 124.8h0M130.0 132.6h0M131.1 89.9h0M129.2 157.6h0M132.8 84.3h0M121.6 127.5h0M126.3 91.4h0M128.1 117.6h0M130.7 116.7h0M132.5 125.8h0M127.3 132.6h0M130.1 101.9h0M126.9 119.1h0M123.6 124.7h0M125.2 122.5h0M127.8 117.1h0M124.1 144.8h0M132.7 114.9h0M133.0 138.2h0M122.9 110.5h0M125.3 123.1h0M125.6 133.6h0M124.3 48.7h0M124.3 147.9h0M129.0 115.4h0M120.7 140.8h0M126.8 136.5h0M128.3 105.6h0M129.3 114.1h0M124.5 148.4h0M124.1 134.3h0M128.0 107.8h0M129.5 51.2h0M122.9 112.3h0M123.9 143.6h0M132.8 137.6h0M131.0 126.6h0M127.3 114.7h0M131.7 134.9h0M130.4 107.4h0M120.6 116.9h0M125.3 134.8h0M130.7 125.7h0M124.9 106.2h0M124.2 129.8h0M128.8 137.7h0M130.3 74.3h0M123.5 124.4h0M128.9 134.6h0M123.8 112.1h0M130.4 143.5h0M121.0 144.2h0M121.1 118.9h0M122.0 69.3h0M132.0 122.0h0M127.9 117.5h0M129.4 115.7h0M121.3 133.6h0M120.9 102.3h0M126.5 106.3h0M122.3 104.6h0M129.5 123.5h0M129.9 77.1h0M130.4 117.4h0M129.8 140.2h0M123.0 125.4h0M121.4 123.2h0M123.8 132.6h0M123.6 121.0h0M123.5 124.8h0M120.9 88.0h0M122.6 101.7h0M127.7 90.0h0M122.2 116.7h0M122.0 110.7h0M123.4 52.7h0M132.4 126.7h0M133.4 124.7h0M130.0 119.0h0M132.4 113.8h0M120.5 101.6h0M130.3 111.4h0M133.5 50.5h0M120.6 124.7h0M127.2 122.7h0M123.2 154.7h0M126.8 155.5h0M128.1 131.7h0M124.6 107.8h0M126.7 73.3h0M122.6 143.0h0M130.5 109.5h0M124.5 114.4h0M132.2 150.2h0M123.1 139.9h0M128.2 132.3h0M133.2 124.1h0M123.1 124.9h0M126.9 152.9h0M123.2 149.3h0M121.0 143.8h0M130.3 88.8h0M122.8 110.3h0M133.2 130.7h0M128.9 131.9h0M127.5 116.7h0M131.6 132.7h0M122.5 103.3h0M128.9 104.4h0M131.8 135.9h0M123.4 93.4h0M125.2 136.8h0M130.8 130.5h0M129.5 106.8h0M122.3 135.2h0M122.9 124.0h0M123.3 152.8h0M132.3 113.6h0M125.2 100.9h0M133.5 137.1h0M131.0 133.2h0M128.6 136.5h0M130.6 100.2h0M129.6 98.9h0M124.4 123.2h0M130.9 126.5h0M129.2 108.8h0M128.8 136.0h0M131.3 131.6h0M123.7 136.4h0M128.7 141.5h0M129.7 148.6h0M126.1 143.5h0M132.1 141.3h0M130.4 125.8h0M127.4 109.8h0M128.7 97.3h0M132.1 118.4h0M123.9 115.9h0M122.2 111.4h0M127.5 125.4h0M130.3 75.8h0M123.8 121.8h0M121.5 126.1h0M122.3 109.7h0M120.6 122.1h0M120.1 110.6h0M132.6 95.7h0M124.4 153.5h0M129.5 148.6h0M124.8 104.9h0M124.2 138.1h0M128.9 127.6h0M131.0 75.5h0M131.2 136.8h0M129.4 136.6h0M126.9 129.6h0M128.4 117.6h0M125.4 98.2h0M120.9 101.8h0M133.2 123.8h0M129.4 145.4h0M120.9 145.9h0M131.3 143.5h0M129.4 135.5h0M124.2 52.4h0M128.6 118.0h0M130.1 119.3h0M122.9 119.0h0M125.3 120.3h0M126.4 113.6h0M130.0 66.2h0M127.7 114.7h0M126.2 147.3h0M121.8 140.4h0M132.5 114.3h0M129.7 100.1h0M129.5 116.5h0M129.7 156.9h0M131.1 118.9h0M120.7 74.3h0M128.7 135.5h0M130.7 115.9h0M122.1 116.4h0M131.7 115.0h0M121.9 128.0h0M122.0 151.7h0M129.2 124.7h0M123.3 126.8h0M123.7 159.1h0M125.6 117.7h0M129.1 129.1h0M120.9 55.8h0M128.9 125.5h0M120.7 108.3h0M121.1 147.6h0M126.1 119.4h0M131.8 111.2h0M131.4 100.5h0M121.1 117.0h0M121.4 90.8h0M125.1 117.3h0M126.1 128.3h0M123.2 138.3h0M123.1 99.4h0M121.0 100.6h0M120.8 133.9h0M133.0 124.4h0M131.5 74.0h0M131.4 117.6h0M122.2 110.8h0M123.7 123.3h0M129.3 126.2h0M129.2 129.2h0M122.3 120.4h0M125.8 126.2h0M125.7 143.2h0M124.9 100.6h0M123.3 148.6h0M128.1 130.3h0M131.0 131.9h0M123.0 126.7h0M130.4 138.0h0M126.4 110.8h0M121.9 138.3h0M132.1 146.9h0M130.1 123.2h0M125.9 113.1h0M129.4 141.4h0M130.3 145.1h0M130.0 129.7h0M130.8 103.3h0M121.6 133.4h0M129.4 132.1h0M129.7 74.2h0M133.1 133.0h0M121.3 116.7h0M128.4 138.3h0M132.8 148.0h0M132.3 145.2h0M120.0 121.9h0M129.5 128.8h0M125.4 116.5h0M122.1 137.8h0M124.6 128.5h0M130.1 121.7h0M125.9 114.3h0M128.8 127.9h0M121.3 131.0h0M120.7 123.4h0M130.5 112.1h0M127.2 98.4h0M121.7 109.6h0M125.7 125.9h0M129.9 87.8h0M130.0 116.9h0M126.6 125.6h0M126.4 127.0h0M129.3 102.9h0M127.4 110.4h0M121.8 118.5h0M120.4 133.0h0M130.4 132.8h0M129.7 153.9h0M128.0 110.0h0M126.3 152.2h0M132.2 149.4h0M129.1 142.8h0M129.2 110.8h0M123.6 141.8h0M130.5 116.7h0M129.1 93.6h0M126.1 133.6h0M133.2 105.6h0M130.7 122.5h0M132.7 120.1h0M132.4 131.4h0M125.8 143.0h0M127.1 63.3h0M123.5 127.9h0M130.8 148.8h0M131.6 84.7h0M120.0 150.2h0M129.4 139.0h0M125.0 125.3h0M120.3 121.4h0M123.6 129.5h0M125.2 137.9h0M132.4 122.1h0M123.4 141.3h0M128.6 147.0h0M123.4 127.6h0M123.9 117.5h0M124.5 140.1h0M120.2 124.9h0M125.7 127.6h0M126.5 127.0h0M127.8 104.4h0M123.2 57.8h0M128.4 134.8h0M127.4 146.6h0M133.2 88.9h0M131.3 92.9h0M132.6 111.5h0M128.0 147.9h0M132.4 135.1h0M131.7 123.0h0M125.1 137.6h0M128.2 132.1h0M121.7 99.7h0M125.1 119.0h0M123.3 104.5h0M123.3 117.0h0M124.5 107.0h0M120.1 120.3h0M131.3 127.9h0M130.1 70.3h0M131.4 88.2h0M122.9 110.1h0M123.3 127.3h0M128.8 133.0h0M127.7 114.1h0M127.7 133.8h0M124.4 115.1h0M120.9 87.7h0M127.2 133.4h0M124.6 122.1h0M120.0 141.0h0M126.5 119.9h0M123.4 121.0h0M126.5 138.6h0M130.6 132.9h0M120.5 138.9h0M128.1 116.6h0M130.3 144.1h0M132.2 118.2h0M130.8 137.8h0M120.4 134.5h0M125.8 129.2h0M121.6 135.7h0M126.9 144.8h0M131.0 111.8h0M131.9 117.8h0M120.9 125.3h0M127.0 141.3h0M132.1 135.5h0M120.9 97.5h0M121.7 100.2h0M125.2 118.4h0M126.6 128.6h0M130.7 136.7h0M125.4 96.7h0M130.8 103.4h0M132.1 114.9h0M120.3 105.8h0M124.9 110.6h0M128.2 125.0h0M121.2 134.5h0M121.0 113.5h0M132.7 137.3h0M124.8 133.4h0M132.5 112.4h0M120.1 121.0h0M128.4 141.2h0M130.1 124.3h0M129.2 105.1h0M127.2 133.7h0M132.4 147.7h0M125.0 120.2h0M120.1 107.2h0M125.9 113.5h0M133.5 136.6h0M120.7 143.7h0M121.3 153.4h0M127.6 94.0h0M121.0 127.3h0M127.9 154.6h0M120.9 129.5h0M125.0 118.7h0M121.2 122.3h0M125.0 116.4h0M126.1 72.7h0M132.8 131.7h0M121.6 125.0h0M128.3 129.1h0M128.0 119.3h0M120.7 108.7h0M124.4 111.1h0M128.6 153.3h0M124.3 155.6h0M129.4 136.6h0M125.2 109.3h0M132.8 82.8h0M122.3 136.4h0M127.1 118.4h0M129.7 77.6h0M122.4 119.1h0M126.5 146.1h0M133.5 88.5h0M129.0 138.6h0M132.0 95.8h0M129.7 119.4h0M130.0 149.3h0M128.9 129.2h0M124.3 95.3h0M129.5 99.9h0M122.0 135.1h0M127.0 139.8h0M129.6 142.9h0M131.4 126.1h0M126.8 144.6h0M130.9 123.8h0M124.4 104.8h0M132.6 116.4h0M127.0 126.0h0M125.3 107.8h0M122.0 107.1h0M130.4 155.6h0M132.1 110.5h0M120.3 120.8h0M132.3 115.5h0M128.5 79.5h0M127.1 134.1h0M122.0 97.9h0M127.1 130.4h0M126.8 147.4h0M127.6 131.3h0M128.8 123.7h0M126.6 139.1h0M129.9 120.9h0M126.2 125.4h0M127.2 120.0h0M121.8 147.6h0M123.5 87.9h0M128.5 150.5h0M126.1 101.9h0M130.2 141.3h0M126.9 125.0h0M133.5 104.0h0M128.4 84.7h0M123.9 147.6h0M120.6 138.6h0M126.0 94.2h0M121.9 122.7h0M128.0 134.0h0M129.0 96.8h0M127.9 97.1h0M133.2 143.9h0M123.5 114.1h0M127.1 132.0h0M124.8 110.9h0M122.3 139.5h0M121.8 131.4h0M131.2 116.4h0M129.1 144.8h0M126.6 120.6h0M129.0 122.1h0M121.9 116.1h0M127.7 132.7h0M129.4 108.7h0M130.2 107.9h0M132.4 150.1h0M121.4 130.4h0M130.5 131.9h0M120.4 132.2h0M122.2 127.1h0M122.3 115.3h0M130.5 139.1h0M127.9 105.2h0M120.4 135.3h0M127.5 127.1h0M129.2 88.0h0M128.5 114.5h0M130.5 136.8h0M130.0 113.4h0M126.1 145.5h0M124.2 122.5h0M122.6 154.8h0M128.2 92.6h0M123.5 132.7h0M131.9 129.3h0M124.2 140.7h0M121.3 124.5h0M122.7 132.1h0M124.2 117.9h0M132.7 127.1h0M121.9 93.1h0M128.7 118.0h0M125.3 128.5h0M120.5 124.8h0M121.5 128.8h0M132.6 106.5h0M132.0 110.3h0M126.5 124.0h0M133.4 133.8h0M129.9 132.9h0M128.9 128.7h0M125.1 116.0h0M132.9 130.1h0M127.1 145.5h0M131.7 119.0h0M132.1 143.1h0M123.7 126.0h0M127.5 129.5h0M121.7 127.6h0M129.4 129.2h0M123.5 79.6h0M130.7 123.0h0M125.1 142.0h0M133.5 111.2h0M123.8 130.6h0M121.0 120.2h0M123.5 95.0h0M121.4 121.4h0M123.5 126.8h0M127.6 148.5h0M127.9 114.2h0M128.6 144.0h0M126.9 137.3h0M124.2 112.5h0M131.0 140.2h0M121.4 140.7h0M124.5 101.8h0M121.4 102.3h0M121.4 93.5h0M132.1 119.3h0M130.1 78.1h0M133.4 90.6h0M127.0 95.0h0M130.2 152.2h0M129.5 142.0h0M120.8 150.5h0M126.8 106.5h0M123.7 113.5h0M126.3 148.2h0M126.9 131.9h0M122.2 107.0h0M129.7 112.9h0M122.7 123.3h0M131.0 127.8h0M121.0 117.7h0M124.2 141.1h0M126.3 102.0h0M120.5 124.7h0M125.8 147.9h0M120.3 138.8h0M125.1 120.2h0M129.5 136.7h0M131.0 84.2h0M125.5 157.6h0M131.6 131.5h0M129.0 139.3h0M120.3 115.0h0M128.1 105.4h0M131.2 137.8h0M121.1 110.0h0M124.0 125.6h0M133.3 125.2h0M125.0 126.0h0M124.5 105.9h0M133.4 139.0h0M122.7 111.7h0M121.6 142.6h0M133.1 112.2h0M125.2 109.3h0M120.3 127.2h0M123.9 117.2h0M124.3 116.1h0M128.3 115.7h0M125.8 111.9h0M131.2 129.3h0M130.3 115.8h0M124.9 119.6h0M122.4 117.9h0M127.8 151.1h0M127.0 132.1h0M122.3 122.3h0M131.0 132.7h0M120.3 122.0h0M120.4 104.6h0M122.9 132.0h0M121.5 110.0h0M132.2 105.2h0M132.9 89.7h0M121.8 113.5h0M128.0 148.2h0M128.2 146.9h0M132.0 144.1h0M124.8 127.9h0M128.5 143.8h0M132.6 145.2h0M123.0 121.9h0M129.4 120.5h0M126.2 144.9h0M126.0 98.3h0M127.9 123.3h0M127.0 117.9h0M129.4 133.0h0M125.8 119.4h0M125.0 121.3h0M125.2 131.4h0M120.5 97.1h0M129.4 116.1h0M121.8 119.4h0M131.9 110.7h0M127.8 142.8h0M133.3 130.0h0M126.1 108.2h0M123.3 144.7h0M130.4 48.6h0M131.7 110.1h0M120.9 132.4h0M131.1 139.0h0M127.4 77.0h0M132.1 114.7h0M127.1 138.6h0M125.1 122.3h0M126.0 120.8h0M125.1 93.9h0M126.7 119.9h0M121.1 137.7h0M120.3 123.2h0M128.1 102.9h0M128.4 70.6h0M127.8 83.6h0M125.0 105.8h0M120.8 106.5h0M124.2 139.0h0M123.0 127.5h0M131.4 117.1h0M120.8 138.5h0M125.0 133.3h0M122.5 130.0h0M126.6 120.9h0M131.2 109.7h0M121.1 130.0h0M123.1 112.6h0M132.5 123.2h0M128.9 120.6h0M124.2 119.0h0M122.9 127.1h0M120.1 141.2h0M121.1 108.7h0M124.7 130.3h0M131.0 123.2h0M121.7 124.2h0M122.9 123.1h0M129.6 142.5h0M131.0 137.7h0M129.4 136.3h0M122.6 126.1h0M129.3 84.1h0M131.6 118.8h0M122.1 66.5h0M128.9 97.0h0M120.4 88.0h0M120.3 118.5h0M120.1 68.1h0M126.4 113.1h0M126.4 125.7h0M130.1 121.2h0M130.2 128.7h0M123.3 125.3h0M130.2 127.3h0M129.3 143.9h0M122.1 132.6h0M123.9 128.5h0M129.1 105.2h0M128.1 144.2h0M125.3 102.1h0M131.2 132.0h0M131.2 118.1h0M124.6 87.5h0M129.8 118.5h0M124.5 146.3h0M127.7 97.7h0M120.5 151.8h0M122.5 140.7h0M125.3 118.0h0M126.5 128.3h0M124.4 111.1h0M124.1 124.7h0M124.4 120.4h0M121.9 122.3h0M131.1 124.6h0M127.3 89.8h0M124.0 131.9h0M128.7 153.4h0M121.6 116.0h0M124.0 120.8h0M125.8 133.1h0M132.3 80.0h0M130.9 151.5h0M130.6 109.6h0M122.0 147.9h0M123.0 134.2h0M131.9 96.4h0M133.5 120.5h0M120.4 138.4h0M126.4 122.2h0M123.5 126.7h0M132.2 131.3h0M127.4 152.2h0M126.7 121.7h0M120.0 123.9h0M127.6 100.4h0M124.1 113.1h0M124.9 148.2h0M127.1 112.7h0M121.2 111.0h0M130.5 112.5h0M120.9 125.4h0M131.0 137.4h0M127.8 107.9h0M126.7 103.8h0M121.1 97.3h0M126.3 121.8h0M122.5 109.8h0M130.7 115.6h0M132.0 119.0h0M128.8 108.5h0M126.7 52.5h0M130.9 128.1h0M132.4 101.2h0M124.5 120.0h0M128.5 112.7h0M123.4 147.0h0M123.3 94.8h0M121.4 113.9h0M124.6 117.6h0M124.3 132.5h0M129.2 115.9h0M127.8 113.6h0M125.9 117.8h0M120.6 107.7h0M121.1 145.4h0M124.3 145.6h0M124.6 120.4h0M123.8 120.6h0M123.3 134.6h0M122.4 138.5h0M121.7 141.1h0M123.6 139.7h0M126.0 136.8h0M132.1 134.6h0M129.1 101.6h0M127.7 118.4h0M127.4 86.8h0M123.1 107.0h0M122.5 102.3h0M128.3 129.4h0M121.7 120.2h0M124.5 125.2h0M120.3 129.3h0M129.4 105.1h0M132.4 125.4h0M121.3 121.2h0M121.4 111.1h0M128.9 138.5h0M124.4 133.6h0M123.2 131.6h0M131.6 156.2h0M120.5 156.7h0M126.0 122.8h0M130.4 140.0h0M123.7 108.3h0M126.6 135.5h0M129.5 91.0h0M129.8 91.6h0M120.8 86.1h0M131.1 115.8h0M131.5 116.0h0M132.9 102.7h0M127.6 145.8h0M122.5 129.2h0M128.1 121.1h0M124.8 124.6h0M126.2 144.5h0M121.3 105.3h0M127.5 107.3h0M128.0 84.0h0M127.4 135.2h0M126.9 141.3h0M120.7 123.2h0M132.0 128.2h0M128.8 121.6h0M125.0 137.8h0M121.8 119.5h0M129.7 119.6h0M126.1 93.3h0M131.7 130.0h0M128.2 124.3h0M127.9 137.5h0M125.8 115.9h0M125.6 115.9h0M130.8 120.7h0M120.6 142.2h0M120.9 84.7h0M122.6 117.6h0M129.4 139.7h0M131.2 121.4h0M122.2 96.5h0M131.5 125.5h0M128.1 115.9h0M129.3 105.3h0M133.0 112.0h0M133.5 108.9h0M131.4 131.5h0M132.3 135.1h0M131.9 99.3h0M125.6 140.4h0M132.7 147.8h0M123.9 105.1h0M128.2 120.5h0M128.6 135.2h0M123.8 101.2h0M128.8 131.7h0M126.0 138.3h0M131.9 124.6h0M130.3 104.1h0M122.1 140.2h0M122.8 145.9h0M120.7 118.3h0M122.8 86.1h0M131.0 121.3h0M121.1 117.7h0M131.0 105.4h0M123.6 103.1h0M121.1 121.0h0M130.3 117.5h0M124.8 144.0h0M132.3 125.7h0M129.4 135.1h0M129.4 140.0h0M125.2 131.1h0M129.8 157.4h0M121.7 133.6h0M122.4 92.8h0M124.5 99.5h0M128.5 130.6h0M120.9 111.2h0M126.9 118.7h0M131.8 117.2h0M132.2 81.3h0M132.1 143.2h0M122.6 53.7h0M120.6 120.2h0M122.3 109.5h0M128.2 133.1h0M128.8 120.2h0M130.8 129.7h0M127.4 112.3h0M126.0 119.9h0M120.8 139.0h0M128.9 142.6h0M127.1 118.7h0M127.7 134.3h0M121.5 110.6h0M131.4 121.9h0M123.2 143.8h0M126.5 146.4h0M121.5 122.9h0M130.3 92.5h0M133.5 56.6h0M123.7 97.9h0M131.2 131.1h0M122.2 123.4h0M133.0 136.2h0M131.9 95.1h0M126.5 138.4h0M131.0 138.9h0M132.9 100.3h0M121.0 31.2h0M131.8 134.0h0M129.6 98.7h0M120.8 120.0h0M121.6 108.6h0M120.4 131.8h0M120.6 134.9h0M131.9 158.7h0M132.5 139.0h0M131.8 142.3h0M120.8 121.8h0M133.2 92.7h0M126.7 130.7h0M124.4 93.2h0M126.7 128.3h0M130.7 143.0h0M121.0 142.1h0M125.8 100.2h0M125.4 79.6h0M121.1 112.7h0M123.6 135.5h0M127.8 103.6h0M125.5 105.5h0M123.7 125.7h0M122.1 103.8h0M127.3 145.5h0M127.7 85.9h0M124.1 77.9h0M121.1 141.1h0M130.7 104.8h0M121.5 151.0h0M121.1 146.4h0M125.9 113.5h0M130.0 117.6h0M122.9 124.9h0M125.7 143.1h0M123.7 122.4h0M121.5 112.2h0M131.0 132.8h0M121.3 64.6h0M125.1 109.1h0M123.3 115.4h0M128.1 153.7h0M122.8 121.4h0M130.4 115.4h0M132.7 100.0h0M126.3 100.9h0M126.4 115.1h0M133.4 105.1h0M122.2 102.2h0M127.6 132.0h0M123.4 99.6h0M127.8 109.6h0M133.4 139.0h0M123.8 147.3h0M123.1 125.0h0M122.5 150.3h0M121.9 98.7h0M127.6 125.6h0M125.6 104.6h0M122.4 108.8h0M122.3 75.7h0M124.2 115.9h0M120.3 130.3h0M127.5 125.9h0M131.3 144.0h0M127.3 98.1h0M131.1 124.3h0M130.0 74.7h0M130.7 144.6h0M128.2 133.6h0M133.5 117.5h0M121.5 89.1h0M128.9 115.0h0M123.9 135.9h0M130.0 113.4h0M131.2 116.6h0M122.3 122.3h0M126.6 123.1h0M125.6 112.5h0M122.3 141.0h0M124.7 154.5h0M127.6 122.7h0M127.1 151.5h0M127.4 132.1h0M126.3 121.0h0M126.1 124.2h0M130.2 117.6h0M124.8 137.1h0M121.5 121.9h0M132.1 115.4h0M127.1 146.4h0M126.4 104.3h0M123.6 159.6h0M126.1 109.3h0M128.1 141.9h0M128.3 130.6h0M121.5 154.9h0M120.9 145.3h0M125.2 133.6h0M133.2 98.4h0M123.7 121.0h0M121.6 94.3h0M124.9 125.9h0M127.8 99.9h0M121.4 110.3h0M123.8 113.1h0M133.0 135.5h0M132.4 85.0h0M123.0 117.3h0M132.9 127.1h0M123.0 124.6h0M132.6 119.7h0M132.2 126.5h0M123.8 149.7h0M124.3 126.3h0M132.0 133.3h0M130.5 128.8h0M127.5 125.1h0M133.5 144.1h0M124.9 134.3h0M128.8 109.8h0M130.8 125.8h0M124.8 130.7h0M122.2 150.2h0M132.7 120.3h0M129.7 145.8h0M130.5 128.5h0M128.4 88.1h0M124.9 97.3h0M122.2 110.7h0M130.3 126.3h0M131.3 112.8h0M132.1 109.4h0M121.4 132.7h0M127.1 106.8h0M131.4 136.5h0M127.6 113.6h0M120.8 100.4h0M127.0 141.7h0M128.1 124.9h0M128.9 126.2h0M131.5 128.1h0M124.0 112.9h0M121.8 151.0h0M127.4 113.8h0M128.3 146.2h0M121.4 146.8h0M122.6 108.1h0M131.1 144.1h0M123.6 119.2h0M133.3 129.8h0M131.7 95.2h0M130.9 107.8h0M121.4 93.8h0M125.9 146.9h0M127.4 132.6h0M126.8 132.5h0M127.5 118.4h0M126.0 154.4h0M121.4 126.6h0M123.0 107.4h0M125.6 117.3h0M121.8 90.9h0M124.1 118.5h0M122.5 147.6h0M131.5 136.6h0M131.1 137.9h0M127.0 115.3h0M127.6 110.2h0M127.6 120.6h0M120.4 98.8h0M126.2 114.5h0M126.0 142.8h0M125.9 121.6h0M120.7 131.4h0M123.3 126.1h0M128.8 116.5h0M129.6 143.8h0M130.8 152.1h0M124.3 128.1h0M127.5 132.0h0M126.4 149.2h0M120.4 134.1h0M128.9 113.6h0M131.7 109.3h0M124.6 118.7h0M132.0 99.5h0M128.7 144.1h0M121.1 145.8h0M126.3 127.0h0M126.7 158.5h0M123.2 131.0h0M126.1 96.2h0M133.0 105.8h0M130.0 124.4h0M129.2 105.2h0M125.5 111.9h0M127.8 129.4h0M133.2 121.2h0M120.6 106.7h0M127.9 122.6h0M129.7 126.7h0M131.9 92.6h0M126.2 151.9h0M122.0 109.9h0M133.3 123.3h0M131.4 135.7h0M128.2 132.2h0M130.0 132.2h0M132.9 122.0h0M130.5 115.7h0M129.5 125.8h0M131.7 112.3h0M123.7 142.5h0M131.5 104.6h0M125.4 133.7h0M122.4 128.1h0M128.0 116.4h0M131.2 122.4h0M129.0 134.9h0M126.0 122.3h0M126.1 125.9h0M129.3 119.8h0M125.8 136.9h0M128.8 123.8h0M133.1 99.2h0M124.2 130.4h0M127.2 110.2h0M122.4 117.5h0M128.2 140.1h0M121.5 141.5h0M124.4 142.9h0M122.0 152.9h0M130.6 139.3h0M120.9 124.3h0M122.8 131.6h0M130.2 103.6h0M126.8 116.0h0M121.1 122.3h0M121.3 152.6h0M121.9 129.4h0M123.9 104.5h0M122.1 149.5h0M128.9 141.1h0M121.9 135.3h0M131.1 129.5h0M133.4 101.1h0M122.0 90.3h0M133.3 91.5h0M131.7 109.4h0M131.8 147.8h0M129.6 115.3h0M128.1 115.6h0M132.0 106.8h0M128.6 147.6h0M120.0 141.2h0M130.5 130.2h0M132.7 87.4h0M132.4 103.5h0M133.4 133.3h0M132.5 129.5h0M128.1 145.8h0M120.6 134.3h0M122.9 125.0h0M146.5 115.2h0M146.5 142.8h0M147.5 104.6h0M147.6 131.5h0M151.9 93.7h0M142.3 148.7h0M150.2 140.9h0M147.6 129.8h0M147.0 96.6h0M146.1 108.6h0M147.1 117.4h0M151.7 142.1h0M154.6 134.8h0M153.7 117.1h0M154.4 126.7h0M154.4 112.6h0M148.9 155.0h0M141.9 125.4h0M148.3 107.8h0M151.3 116.0h0M144.0 129.1h0M152.8 97.9h0M144.6 118.5h0M151.0 134.9h0M149.4 137.9h0M149.8 148.3h0M151.0 141.3h0M154.1 132.7h0M151.8 133.4h0M150.4 108.9h0M143.6 129.2h0M143.4 115.3h0M146.3 133.7h0M144.5 93.2h0M142.3 126.8h0M152.1 135.1h0M142.6 124.6h0M146.8 108.0h0M149.6 130.1h0M154.8 134.0h0M151.3 141.0h0M143.5 131.3h0M154.2 114.2h0M153.8 127.5h0M151.1 144.7h0M148.3 152.0h0M147.8 141.7h0M147.7 113.0h0M152.0 137.6h0M150.4 109.5h0M144.9 103.8h0M141.7 120.4h0M143.5 103.2h0M150.1 128.5h0M148.5 126.2h0M143.2 114.9h0M151.4 115.2h0M153.4 112.7h0M147.7 153.5h0M149.5 130.3h0M149.8 103.4h0M144.7 102.8h0M152.6 115.7h0M151.8 84.9h0M146.3 90.9h0M144.6 110.1h0M143.5 111.3h0M152.4 100.4h0M146.9 123.6h0M147.2 127.9h0M142.2 115.1h0M148.9 129.9h0M145.1 139.7h0M153.6 118.4h0M144.5 123.2h0M141.9 109.0h0M149.7 148.7h0M149.3 97.8h0M154.2 137.6h0M149.1 129.5h0M146.6 124.1h0M146.7 115.7h0M143.1 127.1h0M154.7 119.4h0M142.7 84.6h0M146.4 133.2h0M142.9 112.0h0M153.1 105.3h0M148.1 138.8h0M151.7 141.3h0M153.2 99.0h0M145.8 135.6h0M146.9 133.2h0M142.0 120.9h0M152.0 127.9h0M143.5 136.3h0M145.9 113.5h0M151.9 99.2h0M147.0 109.4h0M146.9 111.4h0M149.1 140.3h0M154.8 120.9h0M152.6 134.4h0M147.7 128.7h0M154.1 103.3h0M152.4 100.4h0M145.8 138.6h0M144.9 125.4h0M145.1 137.4h0M151.4 122.9h0M149.4 144.0h0M142.7 130.5h0M152.3 107.1h0M142.3 118.0h0M150.1 106.3h0M142.3 130.8h0M151.3 83.1h0M148.3 134.2h0M144.1 119.4h0M147.9 125.0h0M148.8 123.9h0M141.8 129.2h0M149.5 150.0h0M148.1 136.0h0M148.3 146.6h0M141.8 137.9h0M153.6 139.4h0M153.2 118.9h0M141.6 108.9h0M151.9 88.8h0M153.7 133.7h0M145.8 113.3h0M151.1 133.2h0M152.7 95.3h0M149.4 78.1h0M148.2 112.6h0M150.9 102.8h0M145.4 131.1h0M147.8 88.9h0M149.9 135.7h0M153.8 145.1h0M153.4 116.9h0M152.3 114.7h0M154.0 119.9h0M150.6 121.2h0M149.4 139.1h0M150.9 139.1h0M148.3 131.1h0M146.9 92.2h0M147.2 121.6h0M154.0 135.3h0M149.8 113.0h0M146.6 96.7h0M149.5 136.1h0M146.8 94.3h0M147.6 114.4h0M147.4 101.8h0M146.5 119.4h0M149.2 91.5h0M145.3 130.9h0M155.0 159.8h0M152.6 148.4h0M141.7 150.9h0M153.5 124.4h0M154.4 119.6h0M148.0 139.7h0M143.0 130.6h0M146.5 113.4h0M151.2 123.5h0M142.3 48.7h0M141.9 83.3h0M145.6 126.5h0M146.6 96.5h0M143.2 88.8h0M141.5 124.8h0M150.2 145.4h0M149.7 113.6h0M149.0 136.3h0M154.8 101.7h0M153.6 129.9h0M142.0 88.8h0M141.6 117.5h0M154.2 148.9h0M151.2 96.2h0M148.7 124.7h0M148.5 100.1h0M150.5 115.5h0M150.0 117.5h0M151.5 97.8h0M153.1 133.4h0M146.8 126.8h0M151.5 111.4h0M142.3 135.5h0M142.8 143.2h0M146.4 111.6h0M144.3 124.2h0M145.9 135.5h0M144.1 113.6h0M147.2 107.0h0M149.7 137.4h0M151.0 103.9h0M142.2 128.0h0M152.5 103.9h0M150.8 139.6h0M149.9 138.5h0M151.3 113.2h0M147.2 119.7h0M148.9 112.5h0M143.1 111.5h0M149.2 125.6h0M147.4 138.5h0M152.5 129.9h0M150.3 147.8h0M142.0 128.5h0M149.8 113.4h0M147.1 130.3h0M150.4 129.7h0M149.9 116.6h0M144.7 87.2h0M145.0 114.6h0M146.7 97.5h0M153.1 123.4h0M154.6 93.8h0M146.0 101.7h0M154.4 137.2h0M144.0 117.9h0M152.3 129.7h0M146.1 100.4h0M151.2 151.7h0M154.1 146.1h0M143.4 124.2h0M149.8 137.7h0M154.8 112.2h0M141.6 93.3h0M146.4 109.8h0M151.6 143.1h0M153.4 151.0h0M153.3 133.2h0M148.5 140.8h0M143.7 130.9h0M144.4 160.2h0M146.2 76.4h0M145.7 117.8h0M155.1 134.7h0M152.2 147.2h0M146.8 144.4h0M145.0 139.1h0M142.9 72.2h0M146.0 113.0h0M154.3 123.0h0M141.7 131.5h0M143.1 140.0h0M147.8 108.5h0M153.5 101.2h0M153.8 125.6h0M145.6 141.2h0M149.0 122.1h0M153.8 121.1h0M150.5 127.4h0M147.3 133.6h0M149.1 141.0h0M148.4 130.8h0M144.7 108.9h0M147.7 128.9h0M151.7 127.4h0M153.2 110.6h0M150.1 122.5h0M150.0 104.8h0M150.0 134.2h0M149.1 112.3h0M148.6 127.3h0M149.5 89.1h0M151.6 101.5h0M152.4 126.5h0M153.5 123.2h0M150.0 98.9h0M148.0 144.7h0M150.8 130.2h0M149.8 127.8h0M155.0 132.9h0M143.2 122.9h0M147.9 129.7h0M151.1 130.4h0M145.6 95.9h0M144.7 129.7h0M143.3 124.9h0M146.6 118.9h0M142.0 122.4h0M150.3 119.8h0M148.4 122.1h0M142.5 96.4h0M148.9 108.4h0M151.8 108.2h0M147.3 112.8h0M152.0 105.7h0M154.6 140.6h0M153.9 132.3h0M151.0 113.1h0M150.4 113.9h0M146.3 111.8h0M143.7 118.1h0M141.9 129.8h0M143.3 103.6h0M148.7 92.9h0M142.5 111.3h0M147.1 118.7h0M144.5 133.6h0M150.4 99.7h0M145.7 117.5h0M142.6 147.4h0M150.4 142.2h0M153.4 120.5h0M151.9 93.7h0M142.3 129.5h0M155.1 148.6h0M142.6 151.4h0M151.9 129.9h0M142.5 105.8h0M169.0 133.9h0M174.8 130.0h0M169.7 123.1h0M171.5 104.7h0M169.4 111.2h0M165.2 140.3h0M170.3 143.0h0M168.3 129.9h0M165.9 133.3h0M170.4 86.2h0M167.8 144.6h0M171.2 130.8h0M167.8 138.2h0M168.8 110.6h0M170.2 106.8h0M164.7 109.2h0M175.8 100.4h0M164.6 123.1h0M165.9 129.0h0M170.2 126.7h0M165.2 128.7h0M171.1 123.3h0M174.2 109.4h0M163.5 115.5h0M170.5 117.3h0M166.2 136.9h0M169.3 122.5h0M164.7 113.7h0M171.8 109.1h0M176.1 114.7h0M166.0 124.3h0M166.7 124.5h0M166.8 129.5h0M169.5 141.2h0M172.2 128.0h0M171.1 128.8h0M167.8 122.7h0M169.2 112.2h0M172.0 135.9h0M167.2 144.5h0M167.5 112.4h0M168.9 87.0h0M175.2 141.7h0M174.3 120.9h0M165.3 117.6h0M172.0 121.6h0M167.4 135.5h0M170.9 112.9h0M174.7 142.9h0M169.0 122.4h0M168.0 123.4h0M173.6 142.3h0M171.9 119.9h0M175.4 116.2h0M173.4 94.1h0M170.8 111.7h0M172.6 129.9h0M174.6 133.4h0M168.5 122.3h0M170.1 123.5h0M164.9 128.6h0M174.1 115.1h0M167.6 140.4h0M164.0 125.1h0M171.7 103.3h0M175.5 98.4h0M167.0 110.5h0M163.3 66.7h0M171.4 104.9h0M174.1 134.5h0M164.9 135.4h0M171.4 142.6h0M174.8 95.6h0M168.0 114.4h0M164.4 130.5h0M173.2 127.2h0M170.2 142.0h0M174.0 137.0h0M168.4 79.0h0M176.4 136.1h0M169.2 105.1h0M170.9 101.4h0M165.1 113.9h0M163.1 94.7h0M172.3 110.3h0M168.7 119.0h0M167.9 136.6h0M169.7 120.7h0M176.3 116.8h0M168.9 118.2h0M176.2 116.5h0M170.5 136.5h0M167.7 129.0h0M173.7 131.7h0M168.8 121.7h0M165.3 123.4h0M171.1 127.6h0M167.6 113.6h0M172.3 50.6h0M163.1 116.1h0M174.8 99.8h0M167.0 131.3h0M170.7 126.5h0M176.6 143.6h0M168.3 120.1h0M167.3 134.1h0M173.2 132.2h0M166.4 113.4h0M168.6 108.4h0M165.8 110.7h0M165.5 108.6h0M174.0 127.5h0M170.6 92.3h0M168.4 115.3h0M166.2 128.8h0M175.1 122.2h0M169.1 126.9h0M169.6 121.9h0M176.5 106.6h0M168.1 80.1h0M170.3 116.2h0M164.3 139.5h0M176.5 126.5h0M164.1 110.7h0M165.0 126.5h0M166.7 134.6h0M168.7 124.0h0M164.5 104.0h0M169.8 124.9h0M163.8 128.0h0M169.3 112.2h0M169.7 99.1h0M175.5 120.9h0M171.9 129.9h0M176.1 62.1h0M167.9 137.4h0M170.5 117.4h0M169.5 90.6h0M164.6 123.2h0M165.3 123.7h0M169.3 114.0h0M173.1 128.9h0M166.7 153.8h0M163.9 128.9h0M166.5 127.3h0M170.8 124.1h0M172.9 100.1h0M168.9 118.3h0M163.1 137.3h0M172.0 119.6h0M172.8 126.2h0M163.7 133.4h0M169.0 110.6h0M164.5 115.3h0M167.5 133.4h0M164.2 129.6h0M166.0 133.1h0M175.3 107.0h0M169.4 116.2h0M166.7 101.8h0M171.1 136.6h0M173.7 124.4h0M166.5 121.2h0M169.4 123.7h0M173.3 127.5h0M167.5 128.0h0M169.8 123.9h0M175.0 122.1h0M175.8 130.7h0M167.9 104.2h0M174.3 121.0h0M175.5 110.2h0M170.2 93.7h0M172.2 103.3h0M165.1 142.5h0M166.0 94.9h0M166.1 120.2h0M172.8 141.1h0M168.6 132.8h0M166.8 136.5h0M176.5 135.1h0M171.4 115.8h0M169.7 115.1h0M176.2 134.2h0M169.4 108.5h0M172.3 102.1h0M171.6 128.3h0M175.2 134.1h0M167.1 98.8h0M169.3 125.5h0M173.9 106.4h0M172.3 124.0h0M171.7 115.9h0M169.7 116.6h0M171.3 119.8h0M175.0 127.5h0M165.3 96.4h0M166.2 125.0h0M176.0 136.1h0M172.3 136.6h0M171.4 116.1h0M169.1 115.2h0M164.5 145.1h0M166.0 89.1h0M168.2 141.7h0M167.1 102.4h0M174.2 93.1h0M169.1 79.7h0M176.4 117.0h0M175.9 133.8h0M166.7 120.8h0M169.6 98.8h0M163.5 125.8h0M165.0 102.5h0M165.8 120.7h0M173.5 95.1h0M173.6 124.9h0M176.5 56.1h0M164.7 117.9h0M163.5 108.1h0M168.1 115.1h0M176.6 122.9h0M168.7 108.3h0M166.0 123.6h0M176.2 78.7h0M168.2 133.3h0M168.1 126.0h0M170.3 147.1h0M175.6 107.9h0M172.4 131.8h0M173.7 124.3h0M172.6 123.3h0M165.3 113.8h0M169.7 99.3h0M167.6 124.6h0M163.4 141.3h0M174.3 127.4h0M165.6 98.1h0M169.0 145.2h0M173.7 143.4h0M168.7 129.4h0M168.3 123.5h0M172.5 111.1h0M171.8 104.8h0M171.8 112.9h0M167.8 100.2h0M166.6 108.4h0M173.0 119.8h0M167.9 150.9h0M163.7 122.4h0M170.0 113.3h0M170.1 126.4h0M165.0 136.8h0M164.5 126.0h0M172.1 114.2h0M176.7 101.8h0M173.0 124.5h0M169.7 130.1h0M174.6 120.0h0M172.4 101.3h0M172.9 115.5h0M175.5 110.4h0M171.4 136.1h0M173.2 127.1h0M171.6 75.8h0M167.9 111.5h0M175.3 81.9h0M168.9 138.6h0M172.1 116.9h0M164.2 126.9h0M163.9 102.5h0M171.7 133.5h0M176.6 102.6h0M172.3 123.4h0M173.5 144.0h0M174.2 109.8h0M176.6 129.6h0M166.4 105.9h0M172.8 98.7h0M175.1 139.1h0M167.9 138.2h0M175.7 86.8h0M163.4 150.8h0M174.5 94.8h0M169.1 127.4h0M168.6 98.1h0M174.0 131.9h0M175.4 127.2h0M175.6 103.0h0M168.7 125.6h0M176.3 85.8h0M167.0 107.3h0M169.4 114.0h0M173.4 104.3h0M175.7 103.4h0M166.9 98.0h0M164.9 124.4h0M170.9 157.8h0M175.7 125.7h0M164.5 135.6h0M173.5 140.4h0M176.6 114.2h0M172.0 143.6h0M170.0 120.5h0M166.5 105.1h0M166.6 107.0h0M173.3 120.1h0M166.2 116.8h0M176.6 138.4h0M163.8 121.3h0M171.7 127.1h0M163.2 115.9h0M175.9 128.0h0M169.5 126.4h0M171.5 137.4h0M171.6 97.1h0M173.6 112.2h0M176.5 137.9h0M169.2 129.1h0M176.6 140.5h0M167.9 135.2h0M171.2 95.1h0M174.6 118.3h0M163.9 126.1h0M164.4 124.7h0M173.5 137.7h0M171.1 123.9h0M175.8 95.2h0M165.7 126.3h0M175.9 117.4h0M172.9 115.8h0M175.3 116.7h0M163.6 127.4h0M163.2 109.5h0M164.2 122.6h0M174.3 136.0h0M174.5 114.7h0M175.2 124.8h0M171.8 130.2h0M166.4 101.9h0M173.2 107.8h0M169.4 110.7h0M163.5 143.8h0M176.6 144.5h0M168.9 97.1h0M163.8 117.0h0M174.4 133.8h0M171.7 134.4h0M168.3 126.1h0M164.2 126.7h0M166.1 110.1h0M165.6 100.2h0M172.4 127.6h0M175.7 135.6h0M163.6 123.2h0M171.4 134.3h0M169.7 109.4h0M171.8 107.7h0M165.6 117.1h0M169.4 96.1h0M167.4 135.8h0M172.7 137.1h0M170.7 88.3h0M173.1 133.4h0M171.3 116.1h0M170.6 127.6h0M167.5 114.5h0M175.5 124.3h0M173.7 102.0h0M168.8 101.1h0M171.0 131.5h0M171.1 114.2h0M167.3 138.6h0M174.3 135.4h0M165.7 86.2h0M175.2 105.2h0M175.0 115.2h0M175.0 118.4h0M169.9 108.5h0M173.3 110.6h0M172.4 144.1h0M166.1 121.6h0M163.6 139.6h0M164.8 122.4h0M165.1 123.9h0M172.1 148.8h0M166.6 135.9h0M167.3 119.6h0M163.4 117.7h0M174.7 130.5h0M175.5 136.5h0M171.5 79.0h0M175.8 123.0h0M168.7 122.0h0M163.4 119.6h0M171.2 127.0h0M173.2 122.4h0M163.4 115.6h0M175.2 134.4h0M166.7 97.6h0M165.3 138.7h0M173.9 123.0h0M175.7 106.1h0M164.4 104.1h0M167.7 111.2h0M168.9 131.6h0M174.9 119.1h0M176.5 87.9h0M174.3 129.8h0M166.9 123.5h0M170.9 106.0h0M171.8 121.5h0M176.2 105.5h0M166.8 125.7h0M169.5 131.9h0M172.0 132.0h0M166.2 131.3h0M173.7 118.1h0M176.2 113.7h0M172.4 104.1h0M173.2 143.8h0M166.2 107.8h0M167.7 123.8h0M175.2 104.8h0M170.2 136.7h0M164.6 133.9h0M168.4 108.9h0M169.1 104.8h0M175.0 133.1h0" stroke="#2b93ad" stroke-width=".85" stroke-linecap="round" fill="none" opacity=".9"/>
<path d="M119.74 124.65L133.74 124.65" stroke="#4d4d4d" stroke-width="1.6" />
<path d="M119.74 123.3L133.74 123.3" stroke="#000" stroke-width="1.8" />
<path d="M141.3 130.03L155.3 130.03" stroke="#4d4d4d" stroke-width="1.6" />
<path d="M141.3 121.05L155.3 121.05" stroke="#000" stroke-width="1.8" />
<path d="M162.86 121.5L176.86 121.5" stroke="#4d4d4d" stroke-width="1.6" />
<path d="M162.86 119.71L176.86 119.71" stroke="#000" stroke-width="1.8" />
<rect x="113.8" y="4" width="69" height="11" fill="#d9d9d9" stroke="#000" stroke-width="1" />
<rect x="113.8" y="15" width="69" height="154.5" fill="none" stroke="#000" stroke-width="1.2" />
<text x="148.3" y="13.2" font-size="8.7" text-anchor="middle" >AZD1775</text>
<path d="M126.5 169.5L126.5 171.3" stroke="#000" stroke-width=".7" />
<text x="126.74" y="181" font-size="9.5" text-anchor="middle" >G1</text>
<text font-size="7.5" text-anchor="middle" transform="translate(129.44 193.4) rotate(-90)" >3238</text>
<path d="M148.5 169.5L148.5 171.3" stroke="#000" stroke-width=".7" />
<text x="148.3" y="181" font-size="9.5" text-anchor="middle" >S</text>
<text font-size="7.5" text-anchor="middle" transform="translate(151 193.4) rotate(-90)" >1085</text>
<path d="M169.5 169.5L169.5 171.3" stroke="#000" stroke-width=".7" />
<text x="169.86" y="181" font-size="9.5" text-anchor="middle" >G2/M</text>
<text font-size="7.5" text-anchor="middle" transform="translate(172.56 193.4) rotate(-90)" >913</text>
<rect x="185.6" y="15" width="69.4" height="154.5" fill="#fff" />
<path d="M185.6 122.5L255 122.5" stroke="#e9e9e9" stroke-width=".6" />
<path d="M185.6 77.5L255 77.5" stroke="#e9e9e9" stroke-width=".6" />
<path d="M185.6 33.5L255 33.5" stroke="#e9e9e9" stroke-width=".6" />
<path d="M185.6 145.5L255 145.5" stroke="#dedede" stroke-width=".9" />
<path d="M185.6 100.5L255 100.5" stroke="#dedede" stroke-width=".9" />
<path d="M185.6 55.5L255 55.5" stroke="#dedede" stroke-width=".9" />
<path d="M198.5 15L198.5 169.5" stroke="#dedede" stroke-width=".9" />
<path d="M220.5 15L220.5 169.5" stroke="#dedede" stroke-width=".9" />
<path d="M241.5 15L241.5 169.5" stroke="#dedede" stroke-width=".9" />
<path d="M203.7 154.9h0M196.2 153.0h0M192.4 141.4h0M192.0 152.9h0M202.3 156.2h0M200.9 159.5h0M193.9 151.2h0M198.5 134.6h0M192.2 157.9h0M200.8 156.9h0M197.6 150.7h0M192.4 161.4h0M199.0 146.4h0M195.6 153.0h0M194.5 153.3h0M193.4 151.6h0M196.4 151.4h0M203.1 149.0h0M192.3 150.0h0M202.6 155.3h0M199.9 135.8h0M204.8 160.2h0M201.5 147.6h0M205.4 156.3h0M200.5 149.0h0M199.3 153.7h0M201.6 155.1h0M194.9 158.0h0M193.1 160.2h0M197.0 154.3h0M193.4 141.0h0M197.8 155.4h0M200.0 153.0h0M205.0 153.6h0M195.8 148.1h0M201.3 154.8h0M199.4 153.1h0M204.2 156.9h0M199.8 154.8h0M202.4 154.5h0M199.4 149.8h0M199.6 150.8h0M205.0 152.1h0M197.4 148.5h0M193.0 143.0h0M195.7 161.1h0M203.9 157.2h0M199.1 156.9h0M197.7 155.9h0M201.9 155.5h0M204.0 153.7h0M198.4 148.7h0M201.5 153.8h0M194.8 143.2h0M197.7 138.5h0M193.9 143.8h0M195.1 150.1h0M197.9 154.6h0M204.0 153.1h0M202.5 146.9h0M193.5 149.3h0M194.2 140.3h0M194.1 159.8h0M192.5 154.2h0M194.4 156.4h0M192.3 152.8h0M203.7 141.0h0M193.7 152.5h0M205.1 143.5h0M201.7 150.6h0M205.3 137.8h0M204.3 150.8h0M199.6 149.4h0M205.1 147.9h0M193.7 142.7h0M201.5 159.6h0M202.8 141.4h0M204.4 143.4h0M204.1 149.1h0M199.3 152.8h0M196.3 156.0h0M193.1 154.0h0M193.1 145.0h0M192.4 145.6h0M204.3 150.1h0M196.1 133.7h0M196.6 145.7h0M192.3 152.5h0M204.6 157.4h0M204.9 148.1h0M204.2 145.6h0M196.9 140.3h0M195.6 141.7h0M191.9 152.8h0M197.1 132.0h0M204.9 154.7h0M200.3 152.4h0M202.4 140.2h0M202.1 141.8h0M195.2 143.3h0M195.6 145.8h0M194.2 159.8h0M196.8 157.4h0M196.0 149.9h0M196.9 148.8h0M203.1 148.8h0M197.4 156.4h0M192.5 145.9h0M203.8 152.6h0M202.7 141.6h0M199.2 154.3h0M199.2 147.4h0M193.8 145.1h0M202.7 149.8h0M204.8 135.7h0M201.2 137.7h0M203.6 151.2h0M196.6 150.9h0M197.8 159.7h0M195.8 132.6h0M200.9 146.9h0M199.4 158.1h0M199.0 156.1h0M201.3 140.8h0M203.6 150.0h0M196.0 148.0h0M205.3 144.0h0M204.1 147.0h0M200.5 152.1h0M205.3 153.0h0M200.2 154.4h0M192.1 149.5h0M195.1 153.8h0M204.9 161.6h0M205.3 154.2h0M192.9 157.3h0M203.4 141.6h0M203.4 157.5h0M204.2 155.8h0M198.6 155.0h0M199.9 149.0h0M197.4 156.7h0M194.4 142.8h0M192.3 132.6h0M201.2 152.0h0M195.0 154.8h0M200.3 157.0h0M201.5 155.5h0M204.8 149.4h0M202.2 148.3h0M192.6 152.1h0M194.7 144.7h0M193.7 156.7h0M204.0 148.1h0M201.2 139.3h0M201.9 124.4h0M196.9 154.0h0M196.3 156.8h0M197.9 154.9h0M204.9 156.2h0M194.6 148.9h0M201.4 141.7h0M201.6 152.6h0M204.8 140.0h0M197.3 149.8h0M202.1 146.4h0M205.3 146.2h0M204.0 148.4h0M198.4 148.7h0M197.1 153.6h0M195.8 156.2h0M200.0 143.3h0M204.7 139.8h0M197.2 155.4h0M205.4 153.7h0M193.6 147.6h0M197.7 146.2h0M196.2 141.0h0M196.6 151.5h0M204.9 147.2h0M199.3 153.4h0M192.4 151.4h0M201.1 157.0h0M203.7 150.8h0M197.7 154.1h0M194.0 149.0h0M198.9 153.1h0M192.7 121.2h0M198.6 151.4h0M197.9 155.3h0M195.5 146.3h0M201.3 148.6h0M192.6 145.6h0M197.8 142.2h0M204.6 154.2h0M192.2 155.5h0M201.3 149.3h0M204.3 144.1h0M196.0 151.5h0M205.0 154.7h0M194.0 155.3h0M198.4 154.6h0M194.4 155.3h0M197.4 155.2h0M194.1 150.7h0M203.0 156.0h0M205.2 151.2h0M198.6 150.5h0M193.6 150.5h0M197.8 157.4h0M199.0 153.4h0M197.1 140.2h0M204.9 154.7h0M200.2 150.2h0M202.9 146.0h0M197.5 149.2h0M194.7 152.7h0M201.4 147.5h0M200.3 143.4h0M198.0 148.3h0M197.7 151.1h0M197.9 158.0h0M199.2 150.7h0M195.3 150.9h0M200.8 154.7h0M195.2 150.2h0M195.1 132.2h0M201.9 152.4h0M194.8 145.6h0M200.9 158.4h0M194.6 152.3h0M196.7 143.1h0M194.4 155.7h0M196.8 151.0h0M193.5 137.8h0M195.5 154.2h0M192.1 151.2h0M199.7 158.6h0M193.7 156.2h0M195.0 155.7h0M203.5 147.5h0M194.6 154.9h0M197.3 157.8h0M193.5 151.2h0M193.7 161.1h0M202.6 150.0h0M204.6 149.6h0M200.1 148.4h0M200.5 150.2h0M192.5 149.8h0M198.1 143.9h0M196.1 156.7h0M204.1 152.8h0M199.6 152.2h0M203.0 157.5h0M193.3 151.8h0M195.4 162.2h0M202.2 157.6h0M195.8 147.6h0M198.3 153.5h0M203.6 147.7h0M202.7 147.5h0M204.3 156.6h0M196.9 156.4h0M199.4 150.2h0M197.2 141.9h0M196.1 144.6h0M195.4 148.8h0M196.2 135.7h0M205.1 158.6h0M197.4 143.5h0M201.6 160.2h0M196.5 155.5h0M205.3 152.4h0M204.6 154.0h0M199.4 143.9h0M195.6 156.5h0M199.0 148.1h0M201.9 146.1h0M193.9 153.8h0M198.6 136.8h0M205.0 155.4h0M200.2 158.4h0M199.7 158.2h0M204.9 156.0h0M196.7 153.1h0M200.7 150.6h0M197.3 138.1h0M204.7 152.0h0M195.3 155.3h0M197.9 157.4h0M193.7 148.0h0M194.2 147.5h0M195.8 155.1h0M197.1 152.5h0M201.1 150.6h0M195.0 156.2h0M197.5 155.6h0M200.3 138.6h0M196.8 148.3h0M199.5 144.6h0M193.4 145.3h0M201.3 155.1h0M197.4 144.7h0M192.7 151.5h0M202.0 155.2h0M203.5 121.4h0M202.6 153.5h0M194.9 149.6h0M204.3 155.9h0M192.2 152.3h0M191.9 150.5h0M201.3 157.4h0M201.2 147.4h0M192.2 153.4h0M192.9 145.6h0M194.0 136.9h0M193.4 141.3h0M200.0 152.6h0M203.8 157.5h0M193.6 153.3h0M198.5 154.7h0M200.3 144.8h0M192.6 150.1h0M203.7 152.3h0M202.0 135.2h0M201.8 158.7h0M205.0 148.4h0M193.7 148.1h0M203.5 146.0h0M195.9 154.9h0M198.7 142.4h0M194.5 156.8h0M195.5 152.4h0M196.2 147.2h0M202.4 157.9h0M205.2 148.7h0M193.4 157.0h0M203.4 154.4h0M197.3 146.3h0M203.7 145.8h0M196.2 146.9h0M194.9 153.3h0M200.6 146.0h0M204.7 156.3h0M192.8 150.2h0M199.7 147.4h0M202.5 144.3h0M196.0 150.3h0M205.1 146.0h0M193.0 146.7h0M191.9 162.4h0M196.4 146.1h0M202.0 137.9h0M195.4 155.4h0M204.0 149.8h0M198.3 154.1h0M199.7 148.9h0M198.1 148.0h0M203.3 154.2h0M199.6 152.5h0M198.6 151.2h0M198.6 159.3h0M199.8 156.9h0M193.1 147.7h0M200.5 148.7h0M204.1 133.5h0M200.7 149.6h0M202.2 148.8h0M196.8 144.7h0M202.1 134.5h0M193.4 155.9h0M202.8 153.6h0M203.7 144.4h0M201.2 152.5h0M202.0 144.2h0M203.2 153.3h0M195.1 152.9h0M198.6 145.3h0M196.2 156.7h0M197.2 140.1h0M194.5 154.1h0M193.2 153.5h0M199.3 153.3h0M203.1 158.3h0M199.8 155.1h0M199.6 152.2h0M197.4 151.4h0M203.0 160.5h0M197.6 159.2h0M201.8 126.6h0M192.8 153.6h0M192.8 146.1h0M203.4 141.4h0M204.6 152.2h0M200.1 151.7h0M197.5 153.3h0M195.6 155.1h0M203.2 157.9h0M196.8 150.5h0M201.6 156.3h0M198.8 152.1h0M201.3 160.8h0M194.7 150.2h0M198.8 153.4h0M192.8 136.1h0M201.7 155.1h0M193.7 156.9h0M198.0 155.5h0M199.8 156.7h0M198.6 145.0h0M202.1 148.4h0M197.5 146.9h0M192.0 149.2h0M193.3 156.2h0M193.9 156.4h0M193.8 149.1h0M201.9 152.4h0M201.5 156.3h0M193.1 151.4h0M194.1 141.4h0M202.7 151.5h0M194.8 147.5h0M194.9 145.9h0M197.9 143.7h0M201.6 152.5h0M200.7 151.8h0M199.2 156.5h0M203.3 146.0h0M202.1 153.8h0M200.6 143.5h0M195.6 158.8h0M196.4 152.6h0M198.3 147.2h0M199.7 146.7h0M201.2 152.5h0M198.1 142.0h0M200.6 155.2h0M194.8 128.4h0M201.3 153.2h0M203.4 149.0h0M192.2 153.5h0M202.3 146.0h0M202.5 151.7h0M193.8 150.6h0M194.9 158.2h0M197.1 153.4h0M202.0 149.6h0M193.5 151.4h0M203.5 157.5h0M196.0 155.7h0M203.9 153.7h0M197.4 144.1h0M204.5 142.6h0M203.7 154.5h0M201.1 154.9h0M196.5 158.7h0M193.0 148.4h0M198.7 153.7h0M200.3 149.6h0M196.7 155.1h0M203.4 152.7h0M194.7 154.4h0M197.0 145.5h0M199.5 149.1h0M205.3 158.4h0M201.4 153.1h0M202.3 158.7h0M201.5 154.5h0M196.1 154.1h0M202.8 151.2h0M195.1 153.6h0M196.3 155.2h0M197.1 152.8h0M192.2 144.8h0M204.5 158.8h0M198.5 141.9h0M198.6 153.8h0M196.4 138.7h0M204.3 153.3h0M202.1 149.9h0M197.6 159.6h0M199.2 150.2h0M194.6 157.8h0M194.7 157.3h0M192.0 152.7h0M202.3 152.5h0M197.0 145.2h0M192.0 156.8h0M201.0 153.7h0M204.5 149.9h0M196.5 154.9h0M195.3 147.3h0M201.7 157.5h0M201.6 148.2h0M199.4 155.5h0M195.7 150.2h0M196.2 144.9h0M203.1 158.3h0M196.4 143.2h0M201.9 151.0h0M202.6 158.1h0M202.8 150.1h0M195.2 147.4h0M199.0 154.2h0M201.2 154.8h0M193.7 157.9h0M201.0 156.9h0M205.1 147.6h0M194.7 153.3h0M205.1 156.6h0M201.8 143.7h0M202.0 106.9h0M203.1 152.1h0M204.0 152.2h0M203.9 154.3h0M198.5 159.8h0M203.3 140.3h0M197.3 155.6h0M193.2 157.9h0M205.0 155.5h0M192.3 150.8h0M202.7 159.3h0M203.6 156.5h0M204.9 143.7h0M203.5 152.2h0M204.7 144.6h0M194.7 160.8h0M192.3 139.9h0M191.8 155.9h0M198.2 154.7h0M202.6 159.8h0M197.8 154.2h0M202.5 153.4h0M203.4 147.8h0M196.4 152.7h0M198.2 148.3h0M195.7 153.3h0M203.7 152.0h0M198.6 160.4h0M197.3 148.4h0M198.6 143.8h0M198.6 156.3h0M194.5 153.8h0M203.8 147.8h0M197.1 151.2h0M196.7 148.4h0M194.0 146.6h0M204.2 148.4h0M195.7 157.4h0M192.4 159.4h0M200.9 154.9h0M201.0 150.0h0M202.9 154.4h0M204.5 145.4h0M201.1 155.1h0M192.1 141.0h0M204.7 157.5h0M205.2 144.6h0M197.7 151.1h0M200.5 154.9h0M198.5 155.0h0M201.8 152.6h0M200.9 134.8h0M199.3 152.9h0M202.3 152.9h0M200.6 142.8h0M195.7 154.1h0M200.5 136.1h0M203.9 152.5h0M201.7 145.2h0M199.5 150.0h0M199.0 152.2h0M193.0 152.2h0M200.9 147.8h0M203.4 139.7h0M205.1 156.1h0M195.4 151.3h0M202.5 142.8h0M201.7 141.8h0M196.0 145.0h0M205.2 134.9h0M196.9 153.5h0M192.9 152.4h0M198.1 151.9h0M198.2 145.5h0M192.5 143.8h0M194.6 153.8h0M194.4 148.0h0M198.6 141.0h0M200.8 156.0h0M201.5 144.8h0M192.6 156.5h0M198.4 146.1h0M195.5 154.2h0M196.6 159.7h0M196.9 143.4h0M194.7 158.0h0M196.3 146.9h0M204.2 141.1h0M201.6 155.2h0M200.9 151.3h0M199.9 150.8h0M195.8 154.2h0M194.3 158.3h0M195.3 155.1h0M195.0 144.0h0M203.7 144.4h0M201.8 154.2h0M192.3 140.1h0M200.7 152.8h0M204.7 150.8h0M201.2 156.1h0M200.3 144.5h0M205.0 160.1h0M197.6 153.3h0M193.8 155.0h0M200.5 155.9h0M191.9 158.7h0M202.9 151.8h0M194.9 148.8h0M197.5 157.0h0M202.9 140.4h0M194.1 146.0h0M192.4 146.6h0M204.6 146.9h0M194.3 141.5h0M202.4 147.5h0M200.8 155.1h0M194.5 160.1h0M201.7 139.3h0M201.8 154.3h0M202.9 134.6h0M195.2 151.5h0M195.1 133.2h0M199.0 146.6h0M204.7 157.2h0M199.4 153.7h0M204.1 156.6h0M194.3 157.1h0M193.9 150.4h0M200.0 159.1h0M203.1 146.7h0M202.1 148.9h0M200.2 149.3h0M193.0 153.3h0M201.1 150.0h0M200.3 157.5h0M203.0 156.3h0M196.3 151.2h0M201.9 152.2h0M203.8 153.5h0M198.9 148.6h0M200.7 151.3h0M195.0 151.7h0M200.9 150.3h0M199.8 151.8h0M200.4 148.4h0M200.6 152.3h0M195.6 151.2h0M195.8 151.0h0M193.2 154.3h0M198.2 158.9h0M201.4 157.4h0M195.0 147.1h0M196.0 156.5h0M203.0 155.4h0M199.3 153.9h0M194.6 159.5h0M202.9 154.2h0M202.3 150.3h0M193.4 152.9h0M196.8 158.0h0M205.2 152.5h0M203.5 137.5h0M198.6 156.1h0M204.0 155.5h0M195.7 148.5h0M194.4 147.6h0M198.6 154.9h0M196.7 156.8h0M192.7 148.8h0M200.4 150.6h0M194.9 144.0h0M200.4 148.7h0M204.9 144.6h0M197.6 156.8h0M195.5 156.4h0M197.9 147.7h0M198.9 145.0h0M196.8 142.9h0M200.3 137.0h0M192.3 131.7h0M195.3 149.7h0M192.2 158.4h0M204.4 157.7h0M194.9 155.4h0M200.7 146.1h0M199.5 157.4h0M199.0 150.8h0M202.1 153.2h0M197.4 152.2h0M192.7 153.7h0M199.5 139.1h0M202.6 130.9h0M194.4 153.0h0M199.2 152.4h0M193.7 128.1h0M199.0 158.7h0M202.1 141.1h0M199.0 154.9h0M203.2 146.0h0M195.2 131.3h0M203.3 150.3h0M195.3 146.0h0M203.4 157.8h0M196.4 154.9h0M192.7 148.8h0M198.4 146.6h0M199.1 157.4h0M194.8 157.1h0M194.9 152.8h0M197.1 140.4h0M197.1 153.3h0M199.7 150.7h0M200.3 149.2h0M200.9 153.4h0M204.0 157.0h0M198.3 147.2h0M203.4 153.1h0M197.4 161.1h0M200.7 153.3h0M196.4 147.8h0M193.7 160.8h0M195.9 147.4h0M193.8 150.0h0M200.4 151.5h0M204.2 149.3h0M193.3 155.6h0M192.6 139.5h0M194.7 156.4h0M199.7 148.0h0M197.4 145.6h0M195.4 141.0h0M204.0 160.3h0M197.0 148.1h0M199.6 155.8h0M204.6 148.8h0M203.4 153.5h0M193.3 151.7h0M195.1 149.0h0M202.5 152.4h0M205.1 155.2h0M204.3 155.4h0M204.8 144.7h0M200.1 141.6h0M201.0 146.5h0M197.2 147.4h0M203.3 152.2h0M199.8 158.5h0M192.7 155.6h0M193.1 155.8h0M199.6 153.5h0M194.7 152.6h0M198.3 156.5h0M193.7 146.7h0M198.1 151.8h0M205.0 154.5h0M196.0 156.5h0M194.2 148.8h0M196.2 159.4h0M198.1 155.7h0M198.5 147.4h0M193.5 158.0h0M194.7 143.7h0M200.6 158.1h0M205.3 148.7h0M191.9 146.6h0M196.2 161.7h0M198.4 150.8h0M197.3 156.7h0M193.9 155.4h0M192.1 148.3h0M203.6 144.2h0M192.0 155.2h0M192.5 142.9h0M205.1 156.2h0M203.2 152.1h0M200.6 151.5h0M193.0 150.0h0M194.1 154.4h0M203.9 152.9h0M203.9 154.5h0M198.1 153.7h0M203.3 153.0h0M195.3 154.3h0M196.2 146.7h0M195.6 147.1h0M199.7 156.2h0M201.8 158.7h0M200.3 152.7h0M205.0 136.0h0M192.3 153.4h0M200.6 145.9h0M199.0 162.8h0M217.2 145.3h0M225.1 145.5h0M220.3 154.5h0M223.4 152.8h0M225.9 150.7h0M214.7 150.7h0M219.4 151.3h0M225.5 141.1h0M222.8 158.0h0M214.7 152.3h0M223.1 109.0h0M215.2 141.4h0M220.4 151.9h0M221.6 161.0h0M219.2 145.8h0M221.4 152.5h0M217.7 160.8h0M215.0 149.8h0M222.6 146.7h0M216.2 145.5h0M223.1 146.4h0M227.0 142.1h0M218.1 155.3h0M218.6 152.9h0M217.9 159.5h0M220.1 151.4h0M215.2 152.3h0M217.6 142.4h0M215.5 159.6h0M223.7 155.8h0M215.3 152.3h0M220.8 151.5h0M221.0 153.4h0M219.6 145.9h0M222.2 140.5h0M216.9 149.9h0M218.5 139.3h0M223.7 152.5h0M222.7 139.1h0M215.6 150.8h0M216.2 151.1h0M222.3 148.5h0M218.7 134.8h0M216.6 145.3h0M225.2 157.6h0M215.9 149.5h0M215.7 140.7h0M223.4 126.9h0M220.2 153.8h0M217.7 134.8h0M216.5 146.1h0M222.4 155.7h0M224.8 157.5h0M213.8 157.4h0M216.0 150.8h0M226.0 151.9h0M224.5 148.7h0M214.9 142.7h0M213.7 149.0h0M214.0 155.6h0M218.4 156.8h0M217.1 158.2h0M222.9 154.0h0M221.3 155.8h0M224.9 155.3h0M214.2 151.7h0M217.2 138.9h0M214.1 145.2h0M216.7 150.4h0M224.0 152.5h0M222.0 154.6h0M213.5 146.3h0M214.9 154.7h0M226.6 159.4h0M218.2 156.9h0M213.5 152.0h0M220.3 148.8h0M221.8 141.9h0M222.2 154.0h0M220.3 150.0h0M218.2 149.1h0M218.2 150.5h0M221.3 151.7h0M219.5 145.7h0M219.6 144.3h0M222.5 147.6h0M224.0 153.7h0M227.0 146.1h0M221.4 135.0h0M214.3 145.7h0M223.4 144.5h0M223.8 153.3h0M217.5 146.5h0M215.4 138.4h0M221.8 139.7h0M224.9 153.4h0M222.2 149.1h0M223.6 144.0h0M221.6 152.9h0M219.2 162.1h0M215.5 149.0h0M221.5 157.4h0M219.0 139.8h0M224.3 157.1h0M217.9 144.3h0M218.4 146.9h0M217.9 158.7h0M225.7 148.7h0M227.0 141.1h0M216.8 158.5h0M224.8 146.4h0M224.0 134.4h0M225.5 148.4h0M217.5 148.4h0M217.9 149.5h0M221.3 145.8h0M225.8 154.7h0M218.4 155.3h0M215.1 152.6h0M221.3 150.6h0M222.8 150.2h0M222.6 156.4h0M223.6 150.9h0M216.9 150.6h0M216.4 149.1h0M216.6 153.1h0M220.7 158.4h0M223.2 146.8h0M214.8 151.0h0M226.5 157.8h0M218.1 146.4h0M224.7 154.8h0M226.4 151.9h0M222.5 137.2h0M217.7 119.0h0M226.7 141.2h0M220.4 157.9h0M215.3 152.5h0M224.7 152.2h0M213.8 143.8h0M222.3 149.6h0M226.4 156.2h0M214.2 152.0h0M226.1 141.7h0M222.4 156.0h0M216.3 151.0h0M219.9 150.2h0M217.9 150.5h0M214.5 142.4h0M218.4 149.6h0M225.0 147.3h0M221.1 152.0h0M223.8 151.9h0M219.5 152.3h0M219.3 156.5h0M213.6 146.8h0M220.1 153.8h0M218.1 153.2h0M223.4 158.9h0M221.2 142.0h0M217.8 160.4h0M225.1 156.8h0M214.5 144.2h0M217.6 145.3h0M223.7 144.3h0M215.7 156.3h0M214.0 153.5h0M218.3 160.7h0M226.8 158.2h0M214.4 158.9h0M219.9 140.2h0M223.7 149.6h0M217.7 155.5h0M216.5 151.4h0M225.1 145.4h0M221.9 146.6h0M218.0 154.8h0M216.3 147.4h0M222.1 148.9h0M218.0 143.3h0M224.0 141.5h0M221.9 150.2h0M217.4 146.2h0M220.5 143.6h0M214.0 154.8h0M215.3 147.8h0M217.6 137.6h0M217.9 153.8h0M219.9 150.9h0M220.3 143.0h0M215.5 142.0h0M220.5 149.9h0M219.2 145.3h0M215.3 154.8h0M220.0 145.4h0M220.6 143.4h0M216.7 155.2h0M215.3 147.8h0M218.8 149.2h0M219.7 145.8h0M221.9 138.8h0M226.0 146.8h0M215.7 149.6h0M222.5 160.9h0M221.5 150.2h0M216.7 145.0h0M217.3 149.9h0M218.7 159.0h0M218.3 150.4h0M225.0 146.8h0M223.7 156.8h0M218.6 143.8h0M225.3 133.6h0M222.0 159.2h0M222.8 143.0h0M220.1 153.7h0M221.7 152.9h0M213.7 145.3h0M220.5 157.3h0M215.6 154.5h0M219.9 138.9h0M220.6 154.3h0M214.6 148.7h0M217.6 139.6h0M214.7 157.4h0M216.7 157.0h0M216.7 160.5h0M223.3 146.3h0M224.8 146.3h0M223.7 158.4h0M213.6 143.1h0M221.5 139.3h0M215.6 128.2h0M219.2 145.0h0M219.0 139.6h0M217.3 139.1h0M220.0 141.1h0M214.4 146.0h0M226.3 155.9h0M226.4 148.9h0M215.9 159.7h0M214.0 153.2h0M218.6 147.1h0M221.6 144.9h0M223.4 146.4h0M226.1 145.5h0M214.6 150.3h0M217.4 149.0h0M214.4 150.1h0M213.7 153.9h0M214.6 154.7h0M215.9 153.7h0M217.4 153.0h0M221.1 159.3h0M221.3 139.5h0M218.2 151.7h0M219.1 154.0h0M217.5 151.4h0M218.9 153.6h0M218.1 143.4h0M222.8 156.2h0M222.6 152.2h0M222.1 155.2h0M213.5 157.7h0M213.9 145.7h0M215.4 154.6h0M225.3 151.0h0M223.2 145.6h0M217.8 129.6h0M220.8 147.2h0M220.4 146.6h0M224.2 141.0h0M223.1 147.2h0M226.1 131.2h0M223.0 156.5h0M215.7 157.2h0M220.7 142.3h0M219.0 148.6h0M219.3 150.1h0M219.3 135.2h0M218.3 144.7h0M219.9 147.2h0M222.4 157.5h0M220.9 151.8h0M215.7 146.5h0M214.8 146.0h0M225.2 157.7h0M223.5 148.8h0M226.4 154.4h0M226.6 132.8h0M225.5 153.5h0M219.3 152.1h0M219.2 145.6h0M220.9 144.1h0M226.1 150.1h0M218.8 152.0h0M217.0 151.1h0M223.3 157.1h0M216.5 151.0h0M220.2 145.6h0M215.5 142.5h0M220.8 150.7h0M214.7 149.5h0M217.1 158.2h0M214.5 158.9h0M221.3 140.5h0M215.6 147.0h0M215.3 154.4h0M220.7 144.7h0M226.7 141.4h0M215.8 153.2h0M214.0 153.1h0M218.7 160.1h0M223.8 153.5h0M225.2 154.7h0M215.4 152.2h0M222.6 136.9h0M213.9 149.2h0M226.5 140.6h0M224.4 153.9h0M219.1 151.1h0M221.9 146.4h0M225.1 156.6h0M223.7 158.7h0M218.7 152.5h0M213.8 151.6h0M223.0 156.4h0M224.2 149.2h0M217.8 158.0h0M222.3 149.5h0M222.8 152.5h0M216.3 154.6h0M224.5 151.5h0M219.5 162.1h0M226.9 150.2h0M225.0 148.7h0M219.4 140.2h0M224.1 152.0h0M221.6 136.7h0M218.7 144.0h0M222.6 150.4h0M217.8 155.6h0M227.0 154.2h0M224.6 145.7h0M214.9 156.7h0M224.2 153.7h0M220.9 153.0h0M217.6 151.3h0M224.2 144.1h0M216.5 152.9h0M225.3 152.7h0M223.3 150.5h0M217.0 150.2h0M224.0 147.9h0M225.2 150.1h0M215.1 148.3h0M217.2 142.7h0M216.4 157.2h0M226.3 135.4h0M218.0 145.3h0M217.3 150.9h0M216.8 155.0h0M215.2 157.0h0M222.7 147.6h0M224.5 158.0h0M214.0 147.2h0M216.7 150.4h0M227.0 158.6h0M218.4 140.5h0M219.8 151.5h0M220.2 138.5h0M223.8 150.6h0M226.1 153.6h0M213.9 142.7h0M224.7 153.7h0M216.0 150.1h0M215.7 140.8h0M216.6 157.8h0M217.8 146.7h0M221.7 154.3h0M219.5 151.8h0M214.3 151.9h0M217.2 134.0h0M221.6 152.0h0M214.0 152.5h0M225.7 144.6h0M221.6 150.3h0M214.8 129.2h0M215.4 147.7h0M224.2 156.5h0M215.2 145.1h0M224.2 155.5h0M215.6 151.2h0M216.6 149.1h0M216.6 144.6h0M225.3 152.5h0M214.8 149.2h0M223.8 136.1h0M224.0 150.9h0M221.1 131.6h0M215.2 145.6h0M224.1 152.6h0M222.3 152.1h0M222.7 147.4h0M214.2 156.0h0M220.8 151.8h0M220.8 139.9h0M214.6 138.4h0M222.9 148.8h0M215.2 137.4h0M216.0 147.0h0M218.5 159.8h0M219.6 147.8h0M220.1 148.9h0M225.3 152.1h0M213.7 147.7h0M223.2 151.2h0M215.7 154.4h0M226.1 146.3h0M215.5 151.3h0M222.4 158.7h0M222.8 151.8h0M221.6 154.0h0M220.8 136.4h0M226.7 154.5h0M226.9 157.2h0M220.5 155.2h0M217.5 142.3h0M224.1 141.2h0M222.2 158.3h0M222.1 144.5h0M224.1 149.4h0M215.8 145.4h0M217.8 151.3h0M219.0 136.2h0M226.6 151.3h0M226.3 146.9h0M216.7 153.1h0M218.5 155.7h0M220.6 139.0h0M214.1 150.3h0M215.5 151.1h0M216.4 156.4h0M225.5 153.6h0M221.6 148.1h0M213.9 154.5h0M219.9 146.0h0M215.3 149.6h0M220.8 150.5h0M220.4 154.9h0M224.9 143.3h0M223.9 144.1h0M214.0 146.8h0M226.3 137.3h0M220.0 136.2h0M213.8 141.6h0M214.6 146.8h0M222.7 144.8h0M218.6 159.8h0M215.7 146.2h0M222.8 144.5h0M219.9 156.3h0M222.0 149.1h0M220.6 144.4h0M219.3 154.3h0M216.7 153.3h0M219.8 160.7h0M222.2 156.3h0M226.5 159.7h0M221.9 154.7h0M215.7 143.6h0M218.4 156.0h0M222.4 150.6h0M217.0 155.0h0M216.8 134.3h0M215.5 152.2h0M220.8 149.0h0M226.5 151.5h0M225.7 154.5h0M221.5 139.4h0M219.8 153.0h0M214.9 152.6h0M223.2 151.2h0M223.1 156.9h0M248.8 145.5h0M236.2 158.3h0M244.3 147.9h0M242.7 142.0h0M247.1 154.7h0M241.2 159.2h0M245.9 152.8h0M239.2 151.7h0M243.2 154.2h0M240.5 148.9h0M245.5 150.1h0M239.6 148.3h0M241.9 156.3h0M236.6 157.9h0M241.1 155.1h0M244.2 156.1h0M242.6 151.6h0M243.0 152.8h0M245.9 156.2h0M241.8 125.0h0M243.1 159.4h0M242.0 144.1h0M235.9 111.8h0M239.7 155.8h0M241.7 142.5h0M235.3 152.6h0M241.3 153.2h0M235.6 154.1h0M243.6 159.7h0M240.5 153.2h0M239.8 157.4h0M245.8 151.8h0M240.1 138.7h0M242.6 155.1h0M246.6 153.2h0M239.9 152.8h0M236.9 150.2h0M237.8 158.3h0M237.8 150.6h0M245.9 152.6h0M246.5 143.2h0M237.2 155.6h0M248.2 153.6h0M244.1 150.8h0M239.5 142.3h0M246.8 149.4h0M239.5 146.8h0M246.3 153.8h0M237.0 146.5h0M247.0 135.6h0M241.5 154.1h0M237.5 156.8h0M246.2 151.3h0M236.1 148.2h0M244.0 142.6h0M238.2 153.2h0M248.6 157.7h0M246.7 142.1h0M248.5 149.5h0M239.8 156.0h0M247.8 152.7h0M247.8 132.3h0M243.3 147.0h0M236.9 155.1h0M242.4 156.7h0M247.1 150.4h0M241.6 145.5h0M239.1 158.1h0M238.9 153.4h0M237.6 139.6h0M237.5 152.2h0M243.3 149.3h0M241.0 135.2h0M240.7 145.5h0M239.1 139.0h0M248.5 153.7h0M240.6 153.1h0M236.0 146.0h0M243.6 155.1h0M244.2 154.9h0M246.2 149.5h0M238.2 151.2h0M236.2 145.9h0M238.1 151.3h0M246.2 137.6h0M236.4 142.2h0M237.1 155.0h0M248.7 152.4h0M238.2 142.9h0M243.0 149.1h0M239.4 157.0h0M247.9 138.1h0M247.9 137.2h0M240.5 150.8h0M248.5 142.4h0M237.1 152.4h0M235.4 153.3h0M242.7 156.5h0M239.0 146.7h0M237.5 156.8h0M245.3 137.0h0M244.9 143.1h0M242.1 155.6h0M244.1 152.0h0M245.9 161.5h0M248.1 148.3h0M242.6 143.3h0M235.3 153.5h0M248.0 157.0h0M238.6 150.3h0M239.4 122.6h0M241.1 143.3h0M241.9 155.3h0M240.5 151.6h0M236.9 152.3h0M235.5 141.0h0M243.9 148.3h0M241.7 145.7h0M242.7 151.1h0M247.8 151.9h0M244.2 143.6h0M246.9 154.6h0M245.8 146.7h0M241.7 141.3h0M240.8 144.6h0M241.5 157.6h0M244.6 155.0h0M238.1 148.6h0M246.9 125.8h0M239.2 157.2h0M248.7 152.2h0M238.8 152.3h0M248.2 146.9h0M237.3 155.5h0M244.4 144.3h0M244.2 148.9h0M236.8 133.1h0M243.6 155.4h0M239.3 155.5h0M242.6 154.3h0M236.2 149.7h0M244.8 136.4h0M236.7 147.0h0M242.3 152.7h0M235.9 152.5h0M241.1 152.3h0M240.2 147.1h0M244.9 152.5h0M244.1 151.8h0M244.1 147.9h0M237.5 157.8h0M237.8 158.8h0M238.3 154.8h0M246.0 138.5h0M239.5 158.1h0M240.7 156.8h0M247.4 155.0h0M237.6 145.7h0M245.9 154.2h0M238.3 142.0h0M248.0 152.5h0M242.7 156.7h0M238.1 136.3h0M237.9 148.7h0M247.0 152.4h0M245.0 141.3h0M244.0 143.0h0M244.1 119.0h0M245.7 147.3h0M237.3 149.4h0M242.8 147.4h0M243.6 154.9h0M245.5 125.6h0M246.5 140.5h0M244.3 151.1h0M246.8 151.4h0M244.5 154.0h0M237.9 152.8h0M237.8 153.6h0M237.1 131.4h0M235.5 156.9h0M239.6 157.4h0M248.3 150.0h0M236.2 156.5h0M244.7 152.6h0M238.1 131.6h0M238.0 144.1h0M238.5 147.6h0M239.2 158.7h0M246.0 154.7h0M238.3 152.8h0M241.1 140.3h0M241.5 157.2h0M239.1 159.9h0M236.0 143.2h0M238.6 152.4h0M240.6 151.3h0M247.1 149.0h0M244.8 155.3h0M237.7 158.3h0M243.4 149.9h0M237.4 149.3h0M246.8 145.1h0M242.0 141.5h0M241.0 136.4h0M238.2 148.0h0" stroke="#eb6a62" stroke-width=".85" stroke-linecap="round" fill="none" opacity=".9"/>
<path d="M195.6 137.1h0M196.3 155.3h0M204.0 148.2h0M200.7 153.2h0M193.6 147.2h0M199.6 147.9h0M198.7 144.5h0M195.3 156.8h0M192.8 145.8h0M199.9 152.7h0M192.4 142.4h0M197.2 147.7h0M192.2 160.9h0M193.8 137.0h0M201.1 142.1h0M203.4 132.2h0M203.3 145.1h0M200.1 152.7h0M202.5 138.8h0M195.0 145.1h0M201.5 136.2h0M193.9 153.1h0M200.6 132.5h0M200.8 152.7h0M197.0 140.2h0M199.1 140.4h0M197.5 151.9h0M200.3 145.2h0M194.6 149.1h0M196.2 139.4h0M203.6 151.1h0M194.8 149.9h0M197.4 147.2h0M201.4 143.7h0M201.0 158.1h0M203.5 149.2h0M193.7 151.9h0M197.1 147.5h0M192.9 138.5h0M197.4 149.5h0M200.1 150.8h0M200.1 147.5h0M202.2 146.7h0M197.3 141.1h0M197.8 144.2h0M193.0 153.3h0M196.4 139.6h0M197.8 152.7h0M194.4 151.7h0M195.1 146.3h0M203.5 149.6h0M204.1 136.2h0M193.8 138.7h0M200.3 152.9h0M205.0 147.7h0M200.8 151.6h0M192.0 157.9h0M200.8 149.9h0M198.9 148.9h0M204.3 160.9h0M194.2 137.6h0M197.5 147.7h0M191.9 146.8h0M200.4 139.0h0M193.9 155.8h0M195.0 130.9h0M200.0 153.7h0M203.8 150.7h0M196.4 154.5h0M196.7 157.6h0M195.3 152.3h0M203.0 154.4h0M201.4 152.0h0M192.8 154.4h0M204.9 147.9h0M192.6 153.4h0M198.7 143.6h0M204.2 153.6h0M201.7 152.1h0M199.9 153.9h0M201.8 145.8h0M205.1 154.2h0M192.0 149.8h0M204.8 148.3h0M200.6 152.8h0M193.5 148.3h0M203.3 116.8h0M199.3 152.4h0M202.0 154.6h0M197.2 151.2h0M200.5 148.1h0M192.1 144.6h0M192.6 143.6h0M200.5 156.6h0M193.6 149.5h0M193.1 152.9h0M200.9 147.4h0M194.9 153.6h0M194.8 143.1h0M201.8 140.9h0M198.0 153.7h0M192.8 147.2h0M194.0 154.7h0M198.5 149.0h0M194.4 152.7h0M192.1 157.1h0M196.5 147.6h0M195.2 146.7h0M194.1 154.6h0M197.5 140.1h0M205.3 150.2h0M199.7 155.2h0M198.3 153.7h0M200.8 145.1h0M200.0 152.4h0M196.7 142.6h0M193.3 123.9h0M197.0 147.8h0M193.1 151.5h0M195.1 158.3h0M205.1 124.4h0M196.9 141.8h0M191.9 156.7h0M203.6 150.8h0M200.9 142.9h0M203.2 148.5h0M202.8 157.7h0M195.2 149.6h0M194.1 152.3h0M192.8 155.3h0M197.6 149.6h0M202.9 146.0h0M194.5 150.1h0M203.0 150.2h0M203.0 153.9h0M199.8 146.3h0M203.0 156.8h0M201.4 159.5h0M200.7 156.9h0M200.4 152.0h0M201.6 145.6h0M197.4 143.6h0M197.9 150.1h0M196.0 152.3h0M201.4 143.7h0M205.4 159.7h0M204.2 151.0h0M203.9 154.3h0M192.7 152.0h0M195.8 146.1h0M200.0 149.6h0M200.9 154.2h0M199.6 154.6h0M200.1 154.0h0M198.7 150.5h0M201.3 147.4h0M196.6 148.5h0M194.5 140.7h0M204.4 155.8h0M197.7 149.8h0M200.7 143.1h0M195.3 158.6h0M194.8 143.0h0M204.7 142.1h0M197.8 144.7h0M202.0 157.4h0M195.4 153.8h0M204.8 162.8h0M199.9 154.9h0M196.9 152.1h0M201.8 146.6h0M192.2 158.2h0M198.5 152.8h0M193.1 153.3h0M205.1 156.2h0M199.0 154.7h0M204.7 160.5h0M197.0 150.6h0M193.6 149.9h0M195.2 153.0h0M203.5 149.2h0M201.1 152.7h0M192.0 129.9h0M192.8 154.0h0M191.9 149.0h0M203.7 153.3h0M197.7 154.8h0M194.6 158.6h0M194.9 154.1h0M196.1 155.8h0M203.1 155.5h0M197.3 149.7h0M199.9 142.4h0M205.2 139.1h0M192.0 146.6h0M192.4 150.7h0M195.8 154.9h0M204.2 157.1h0M205.3 152.6h0M196.7 154.1h0M196.9 156.8h0M195.4 154.0h0M192.8 149.1h0M205.0 158.5h0M202.8 145.6h0M192.0 153.9h0M199.6 135.6h0M200.2 152.9h0M198.2 151.7h0M200.1 152.6h0M202.7 149.6h0M199.0 144.0h0M197.0 150.8h0M201.2 147.1h0M203.7 139.2h0M192.5 145.9h0M197.8 154.7h0M194.3 151.7h0M196.0 151.1h0M204.5 152.9h0M193.3 139.4h0M194.5 153.9h0M197.6 146.9h0M192.7 155.7h0M203.0 144.1h0M205.1 136.3h0M194.7 153.0h0M202.9 155.1h0M195.7 153.7h0M201.3 133.4h0M197.8 152.4h0M200.1 143.9h0M195.2 139.3h0M196.0 154.9h0M205.4 157.8h0M197.1 159.8h0M197.6 152.9h0M199.8 154.9h0M199.2 147.3h0M193.9 155.0h0M192.0 155.5h0M195.8 156.8h0M205.1 133.8h0M197.8 148.1h0M192.5 152.5h0M201.0 127.6h0M192.6 149.1h0M203.0 149.5h0M198.0 149.1h0M192.8 140.4h0M203.5 152.4h0M202.9 142.1h0M200.4 154.1h0M198.0 144.2h0M201.3 153.5h0M203.6 153.4h0M194.8 150.5h0M204.2 147.1h0M193.9 153.5h0M204.9 150.0h0M194.6 153.2h0M192.4 156.4h0M195.9 159.6h0M196.1 150.1h0M193.6 155.0h0M192.1 147.2h0M204.7 149.2h0M202.6 160.5h0M197.5 152.1h0M199.5 147.8h0M203.9 146.8h0M201.4 145.2h0M199.2 148.6h0M202.2 148.4h0M204.4 153.8h0M192.2 157.1h0M194.7 148.7h0M204.2 153.7h0M195.9 158.9h0M197.7 151.0h0M204.9 153.0h0M197.6 145.0h0M205.3 152.3h0M191.9 158.7h0M195.6 153.9h0M195.1 153.5h0M195.0 154.1h0M201.8 151.8h0M195.3 156.8h0M199.6 159.1h0M194.5 154.9h0M197.5 153.5h0M192.8 152.9h0M196.1 151.6h0M203.8 137.9h0M205.2 152.6h0M204.1 142.0h0M194.4 157.6h0M194.1 144.4h0M203.0 156.7h0M192.2 153.8h0M202.8 156.3h0M193.4 152.7h0M205.4 151.1h0M192.2 143.1h0M196.2 146.9h0M199.1 158.9h0M198.9 149.7h0M193.0 158.2h0M197.7 145.2h0M196.0 153.4h0M192.5 157.1h0M199.7 159.2h0M195.8 154.1h0M195.7 139.7h0M196.9 154.6h0M199.9 146.7h0M199.6 152.4h0M194.5 154.0h0M195.3 150.4h0M202.6 152.6h0M197.0 142.8h0M195.9 149.4h0M197.8 135.7h0M199.9 154.1h0M200.7 151.5h0M195.0 149.8h0M202.4 150.1h0M201.6 146.2h0M200.1 152.9h0M196.7 152.9h0M198.0 144.8h0M203.1 152.5h0M201.9 147.7h0M197.9 152.0h0M192.9 153.0h0M192.0 155.4h0M196.0 141.7h0M203.5 155.5h0M194.0 148.5h0M201.4 159.8h0M192.9 150.3h0M196.0 145.3h0M202.4 156.4h0M195.7 143.5h0M195.7 149.8h0M202.7 120.2h0M201.2 150.9h0M204.7 148.2h0M197.9 155.0h0M200.9 133.9h0M197.4 158.8h0M196.4 151.2h0M193.9 155.2h0M195.4 135.6h0M200.2 158.9h0M201.9 154.0h0M192.8 144.1h0M199.4 146.4h0M203.0 153.4h0M199.3 140.7h0M202.1 142.8h0M199.0 145.2h0M196.0 151.3h0M197.1 159.3h0M204.7 149.4h0M201.1 148.1h0M200.9 149.6h0M193.5 155.8h0M195.2 153.7h0M195.9 156.0h0M191.9 153.4h0M204.1 148.9h0M198.3 137.2h0M192.6 146.0h0M202.4 145.8h0M205.2 152.4h0M201.0 153.5h0M202.4 149.2h0M198.7 153.0h0M200.3 152.3h0M204.2 154.8h0M204.1 140.5h0M201.6 135.0h0M201.3 147.7h0M197.7 154.7h0M191.9 153.6h0M192.0 146.0h0M197.0 155.2h0M198.0 139.1h0M198.3 144.7h0M200.8 153.3h0M192.6 151.4h0M192.4 150.5h0M202.9 153.9h0M197.1 154.6h0M192.4 158.8h0M199.5 133.8h0M200.3 154.8h0M191.9 150.0h0M201.6 157.9h0M192.6 156.3h0M197.5 152.8h0M204.6 148.3h0M193.1 143.3h0M197.2 156.9h0M193.7 149.4h0M205.3 153.1h0M203.5 141.0h0M203.3 145.5h0M205.3 151.0h0M199.5 151.9h0M196.2 152.2h0M196.5 148.7h0M195.1 158.6h0M202.9 151.9h0M191.8 146.4h0M203.5 142.2h0M198.2 150.9h0M198.0 136.2h0M201.7 154.8h0M200.4 150.8h0M194.5 153.0h0M195.3 154.2h0M198.1 150.6h0M193.4 153.6h0M191.9 154.9h0M202.2 157.2h0M201.9 153.7h0M197.3 153.9h0M204.7 125.4h0M204.6 157.4h0M205.0 151.7h0M198.3 152.8h0M192.4 144.7h0M204.9 157.0h0M199.3 145.5h0M198.5 158.8h0M199.3 146.9h0M199.4 149.9h0M199.9 157.7h0M199.8 149.6h0M200.4 152.9h0M203.4 153.4h0M197.4 161.0h0M203.0 147.5h0M204.5 153.0h0M198.7 145.4h0M193.0 155.1h0M204.1 152.0h0M202.8 150.3h0M193.8 132.7h0M203.2 143.6h0M202.0 155.2h0M204.5 136.4h0M195.2 149.5h0M200.2 152.6h0M195.2 153.6h0M198.9 146.9h0M192.7 157.5h0M198.6 153.9h0M196.8 152.7h0M194.8 154.9h0M205.3 150.2h0M195.6 147.4h0M194.6 154.6h0M200.3 149.8h0M202.1 140.8h0M195.1 143.5h0M197.5 154.2h0M200.3 122.5h0M200.9 154.2h0M192.1 146.9h0M195.8 161.8h0M192.1 153.3h0M193.8 149.5h0M199.2 147.5h0M195.5 157.2h0M194.3 155.7h0M205.2 151.7h0M194.8 150.5h0M192.4 154.4h0M192.6 147.0h0M204.0 147.0h0M193.8 153.8h0M200.2 144.7h0M193.8 156.8h0M195.2 157.7h0M194.4 147.3h0M199.4 144.3h0M193.6 159.7h0M195.9 153.5h0M199.7 152.4h0M203.3 155.6h0M193.9 145.7h0M204.8 145.0h0M197.1 152.6h0M197.5 146.1h0M194.1 150.5h0M202.0 144.5h0M203.2 154.0h0M193.7 156.2h0M196.8 156.2h0M200.4 134.5h0M200.9 157.4h0M192.9 147.7h0M196.2 154.8h0M196.6 140.2h0M197.5 146.7h0M201.0 152.9h0M194.4 156.0h0M200.8 157.0h0M196.7 148.6h0M205.0 142.7h0M205.1 155.3h0M205.3 154.9h0M192.8 142.3h0M192.1 149.7h0M201.8 162.2h0M194.7 151.3h0M197.8 150.6h0M197.0 155.1h0M195.9 148.4h0M199.1 155.2h0M197.9 148.7h0M203.7 154.6h0M201.5 152.5h0M202.1 152.3h0M193.5 153.2h0M198.9 153.0h0M200.3 157.8h0M203.0 149.1h0M192.7 150.7h0M202.3 155.6h0M200.0 155.1h0M193.5 152.7h0M197.9 140.4h0M194.5 157.4h0M199.3 142.9h0M197.0 159.9h0M202.6 151.6h0M197.0 156.2h0M199.4 160.2h0M194.6 155.2h0M203.3 153.2h0M201.2 146.5h0M204.1 155.6h0M192.2 151.2h0M202.7 154.6h0M200.0 158.6h0M196.1 142.5h0M193.0 146.7h0M193.7 149.6h0M192.9 159.3h0M204.5 150.3h0M197.4 155.9h0M193.9 153.2h0M195.6 154.0h0M199.2 156.2h0M197.8 154.1h0M200.5 131.8h0M193.9 147.7h0M198.4 149.5h0M193.9 138.8h0M193.3 155.7h0M204.1 145.1h0M204.9 155.4h0M204.3 145.7h0M200.6 155.8h0M196.0 152.7h0M195.3 157.6h0M194.4 152.2h0M193.1 144.4h0M204.9 145.2h0M199.6 148.5h0M192.0 161.5h0M196.9 151.6h0M200.4 152.5h0M192.9 154.8h0M192.2 147.5h0M197.2 158.6h0M204.6 123.0h0M201.6 158.4h0M197.9 143.9h0M193.1 152.0h0M198.0 157.0h0M195.5 149.1h0M200.1 153.9h0M195.3 156.9h0M192.1 137.0h0M202.4 155.9h0M193.0 147.0h0M201.4 156.9h0M194.8 141.1h0M197.5 142.5h0M191.9 151.8h0M204.1 156.7h0M194.6 154.0h0M197.5 154.7h0M198.6 154.5h0M202.0 144.0h0M192.9 149.5h0M193.0 158.5h0M203.0 154.4h0M196.9 157.0h0M200.9 135.2h0M193.5 140.9h0M198.8 147.7h0M192.0 152.8h0M193.8 152.5h0M193.8 148.4h0M192.0 154.6h0M193.4 153.9h0M195.9 148.6h0M203.7 149.8h0M205.3 150.0h0M197.6 140.8h0M197.2 135.7h0M192.5 148.6h0M197.9 143.4h0M198.7 118.5h0M198.7 152.5h0M196.9 158.7h0M197.2 139.1h0M196.4 152.5h0M194.0 146.1h0M197.4 152.4h0M204.6 153.3h0M201.6 142.9h0M199.3 157.7h0M205.0 149.7h0M195.1 157.0h0M201.2 147.4h0M202.9 151.2h0M198.1 160.8h0M204.3 156.1h0M203.9 148.6h0M205.1 145.3h0M204.7 149.0h0M194.5 154.3h0M198.2 159.4h0M200.8 146.0h0M204.1 158.6h0M201.9 145.0h0M202.0 152.2h0M202.4 146.6h0M193.1 153.0h0M202.1 141.6h0M194.1 146.6h0M203.2 155.7h0M195.4 149.0h0M196.4 148.9h0M203.5 151.6h0M192.7 143.8h0M195.8 151.6h0M195.4 157.4h0M199.5 151.1h0M204.1 152.9h0M195.0 154.0h0M201.0 155.2h0M203.4 130.1h0M204.3 150.8h0M195.4 154.2h0M199.0 155.4h0M194.9 150.7h0M201.1 142.6h0M195.4 158.0h0M197.5 143.3h0M196.0 151.6h0M202.6 152.1h0M202.7 149.8h0M199.4 143.0h0M192.0 146.4h0M196.3 155.6h0M201.2 144.4h0M203.6 152.4h0M199.9 147.7h0M203.9 142.3h0M202.3 154.8h0M198.1 160.3h0M200.0 157.7h0M196.9 155.9h0M198.7 145.4h0M196.3 156.0h0M199.8 149.0h0M193.6 154.9h0M197.0 152.6h0M201.5 156.6h0M196.4 154.8h0M200.0 133.2h0M198.0 150.2h0M195.6 154.7h0M194.9 142.7h0M202.6 136.4h0M196.9 155.3h0M204.5 138.6h0M200.5 144.6h0M204.5 155.4h0M198.9 145.6h0M195.2 153.2h0M197.4 162.0h0M193.4 149.0h0M194.4 154.8h0M193.1 156.2h0M196.9 140.4h0M193.4 155.5h0M194.1 153.2h0M196.3 135.1h0M195.7 156.3h0M200.6 146.6h0M202.9 146.9h0M198.9 146.7h0M192.3 152.7h0M192.3 141.8h0M205.2 151.2h0M200.1 138.6h0M195.0 158.7h0M193.0 159.1h0M201.6 150.9h0M204.2 141.5h0M193.6 148.2h0M204.4 142.2h0M203.8 152.6h0M199.4 151.3h0M193.2 155.7h0M203.8 145.7h0M197.6 150.6h0M197.1 152.9h0M200.6 150.2h0M205.2 153.0h0M191.8 153.4h0M191.8 158.1h0M197.6 151.2h0M201.0 158.0h0M196.5 145.4h0M193.1 149.5h0M195.1 149.2h0M200.7 148.1h0M193.5 152.9h0M195.0 150.6h0M203.9 147.2h0M199.8 148.4h0M194.8 146.7h0M196.7 144.4h0M199.8 157.2h0M203.3 155.3h0M202.8 152.1h0M192.8 152.2h0M203.8 130.0h0M199.3 149.2h0M202.0 137.9h0M195.9 154.4h0M204.8 144.2h0M205.2 156.7h0M192.6 149.3h0M197.2 155.0h0M195.4 154.4h0M193.3 158.5h0M194.1 142.2h0M204.9 152.1h0M202.9 154.0h0M193.2 140.6h0M204.8 139.7h0M196.4 157.2h0M205.2 110.2h0M203.3 152.7h0M194.6 153.1h0M196.8 160.8h0M202.0 141.9h0M192.7 150.1h0M201.7 146.5h0M193.5 147.8h0M192.1 147.7h0M200.0 155.0h0M197.1 158.7h0M194.3 150.5h0M197.7 157.3h0M198.2 153.1h0M196.0 155.8h0M200.1 135.1h0M195.2 147.6h0M202.6 138.1h0M196.3 148.7h0M198.9 154.9h0M194.7 156.7h0M192.9 154.6h0M194.1 142.2h0M204.2 151.0h0M197.5 155.6h0M195.0 155.2h0M202.2 158.4h0M202.7 161.2h0M192.2 149.6h0M202.5 151.2h0M201.8 141.0h0M194.1 152.3h0M205.4 158.0h0M192.1 154.0h0M198.6 154.4h0M204.0 151.1h0M197.1 160.2h0M193.4 157.6h0M197.0 153.0h0M201.2 148.9h0M198.6 159.8h0M197.1 159.7h0M197.0 150.6h0M201.5 135.3h0M195.4 141.6h0M192.6 155.4h0M196.8 154.8h0M202.0 137.9h0M192.7 145.6h0M194.3 152.8h0M197.5 155.0h0M196.6 160.3h0M204.9 137.1h0M197.1 154.4h0M197.6 147.7h0M202.8 155.8h0M194.6 142.6h0M198.2 141.6h0M204.2 152.7h0M192.5 148.4h0M198.4 140.2h0M199.4 157.5h0M205.0 154.9h0M195.3 152.5h0M200.5 157.3h0M201.7 151.3h0M204.0 155.1h0M194.2 154.5h0M192.1 153.3h0M195.7 152.4h0M198.0 132.5h0M204.0 149.6h0M196.1 130.1h0M193.4 140.3h0M201.3 157.0h0M197.3 154.0h0M199.8 158.8h0M200.3 157.7h0M197.5 152.2h0M204.3 152.4h0M196.5 153.0h0M203.6 144.6h0M196.1 148.1h0M205.0 148.6h0M199.0 148.1h0M200.3 151.8h0M200.6 154.3h0M199.4 157.1h0M194.1 158.4h0M202.8 139.6h0M201.8 140.1h0M200.6 149.3h0M197.1 145.2h0M200.2 145.9h0M198.9 152.8h0M200.9 155.7h0M203.0 155.3h0M192.1 156.6h0M193.2 156.0h0M196.7 153.9h0M198.5 154.3h0M193.5 137.1h0M194.1 159.5h0M198.1 147.6h0M199.2 149.8h0M198.2 154.9h0M195.4 151.8h0M200.8 150.1h0M192.6 150.7h0M199.5 151.3h0M195.1 146.9h0M193.4 156.0h0M202.8 159.8h0M192.3 154.3h0M195.2 153.3h0M200.0 155.7h0M195.0 153.6h0M191.9 145.6h0M200.8 155.0h0M198.3 152.7h0M199.7 153.3h0M198.5 153.9h0M204.0 155.1h0M201.8 156.0h0M195.9 149.3h0M199.7 140.2h0M193.0 157.2h0M196.8 133.4h0M196.3 144.3h0M202.2 155.3h0M199.1 152.9h0M193.7 154.8h0M197.0 151.8h0M197.7 152.6h0M193.1 150.4h0M199.7 154.9h0M192.3 153.0h0M198.3 146.4h0M203.1 155.1h0M196.0 149.9h0M196.0 142.6h0M196.2 151.8h0M196.4 137.1h0M200.8 154.3h0M193.5 158.3h0M198.1 155.2h0M200.2 160.4h0M195.0 146.6h0M192.2 146.5h0M193.9 152.7h0M197.8 157.7h0M191.9 160.2h0M196.0 144.3h0M196.9 136.9h0M200.2 148.7h0M201.7 154.2h0M196.1 155.1h0M199.0 155.2h0M204.5 154.8h0M203.0 154.5h0M201.9 156.4h0M198.8 157.7h0M194.3 154.8h0M196.8 149.5h0M202.5 151.9h0M198.0 146.6h0M197.7 155.1h0M198.0 149.3h0M204.1 150.5h0M199.6 157.7h0M192.6 145.1h0M195.2 148.5h0M203.8 149.0h0M194.1 157.4h0M196.0 141.2h0M194.7 150.9h0M202.7 144.5h0M193.6 150.6h0M192.8 154.1h0M199.5 148.7h0M195.6 158.7h0M194.0 118.4h0M202.6 143.8h0M201.8 153.0h0M202.1 135.3h0M192.8 156.2h0M193.7 150.2h0M198.1 147.1h0M194.0 155.0h0M203.9 150.9h0M199.2 149.2h0M201.1 143.5h0M194.2 152.6h0M203.4 153.8h0M192.4 150.4h0M196.6 134.5h0M196.4 145.2h0M203.2 152.0h0M197.6 152.1h0M192.8 149.1h0M194.1 153.5h0M201.6 144.0h0M200.4 155.6h0M204.1 148.0h0M200.4 143.5h0M194.8 145.3h0M192.2 143.7h0M194.0 150.0h0M198.5 146.5h0M195.3 156.2h0M202.8 147.0h0M198.3 155.5h0M198.1 147.3h0M199.0 144.9h0M196.0 111.8h0M193.6 158.1h0M192.5 142.6h0M194.3 148.6h0M199.0 147.6h0M194.7 156.4h0M205.2 142.6h0M199.3 130.2h0M196.9 148.6h0M195.9 154.9h0M203.7 160.5h0M202.6 140.2h0M201.4 151.2h0M204.6 148.5h0M197.1 151.0h0M203.5 155.3h0M202.2 157.5h0M203.6 158.1h0M199.0 152.9h0M202.0 129.5h0M197.3 156.7h0M205.1 160.9h0M204.7 149.3h0M202.4 148.4h0M203.9 155.1h0M194.5 155.1h0M197.2 161.1h0M193.6 152.3h0M197.9 155.3h0M196.9 149.6h0M203.9 154.9h0M205.1 135.1h0M202.4 144.5h0M197.5 161.5h0M197.1 141.2h0M203.9 152.1h0M194.6 146.3h0M195.3 142.4h0M202.0 156.6h0M205.0 155.1h0M196.0 139.8h0M202.0 150.2h0M200.9 141.6h0M195.3 136.2h0M193.7 153.0h0M197.4 156.4h0M202.9 153.2h0M192.0 137.1h0M201.3 156.1h0M201.7 148.2h0M204.4 149.8h0M202.3 141.3h0M197.7 154.0h0M195.7 157.4h0M192.2 149.1h0M192.5 134.2h0M192.6 141.2h0M194.8 149.1h0M195.1 151.9h0M194.1 133.1h0M194.7 153.8h0M193.7 155.0h0M194.9 150.8h0M202.1 131.4h0M199.0 153.1h0M203.9 152.2h0M196.6 154.1h0M198.8 139.7h0M192.7 141.4h0M193.5 149.5h0M195.4 150.9h0M193.8 152.4h0M198.4 135.7h0M204.7 147.7h0M200.5 153.0h0M195.0 154.4h0M197.8 157.6h0M193.3 150.2h0M200.4 151.4h0M200.4 145.1h0M196.0 158.6h0M194.3 146.5h0M192.1 132.9h0M202.9 151.8h0M199.8 137.7h0M192.1 159.3h0M194.5 153.0h0M199.1 152.3h0M194.1 154.7h0M196.9 158.1h0M200.0 142.3h0M200.9 160.4h0M194.5 138.9h0M195.9 143.5h0M199.6 152.4h0M193.4 147.2h0M193.6 156.1h0M201.4 124.2h0M203.6 152.0h0M195.8 161.6h0M196.1 143.5h0M194.0 147.3h0M193.2 161.7h0M197.3 152.4h0M202.5 134.0h0M199.9 147.0h0M191.8 155.7h0M200.0 155.4h0M196.6 158.3h0M193.0 159.2h0M200.5 158.7h0M194.2 155.7h0M194.7 145.8h0M192.3 152.9h0M196.4 142.5h0M204.7 146.6h0M201.9 140.0h0M201.9 135.3h0M201.8 149.6h0M198.1 157.5h0M203.7 153.0h0M198.1 128.2h0M203.1 147.0h0M198.2 153.4h0M197.0 152.5h0M222.6 145.2h0M218.6 149.7h0M218.7 153.3h0M215.2 124.3h0M218.9 151.1h0M225.4 155.2h0M226.1 148.1h0M225.2 153.5h0M218.5 143.9h0M217.2 156.7h0M216.6 153.7h0M219.0 143.8h0M222.5 136.8h0M224.8 144.1h0M216.7 159.1h0M225.7 154.1h0M215.9 150.0h0M213.6 150.9h0M219.2 152.2h0M214.3 154.5h0M215.1 142.6h0M225.0 142.9h0M220.0 152.0h0M215.2 150.4h0M218.7 142.1h0M219.5 121.1h0M218.0 153.8h0M216.8 158.0h0M222.5 150.1h0M213.8 151.5h0M219.5 149.9h0M215.1 161.3h0M219.3 141.1h0M221.8 148.0h0M224.3 157.6h0M217.7 151.8h0M219.6 147.1h0M215.7 150.0h0M214.5 155.4h0M226.1 142.0h0M217.5 143.4h0M215.1 129.2h0M222.1 148.0h0M218.7 149.7h0M224.9 130.8h0M220.9 152.4h0M226.3 152.1h0M226.2 161.7h0M224.1 135.8h0M220.9 154.3h0M218.0 154.6h0M222.8 138.9h0M222.4 158.7h0M226.2 154.0h0M226.6 142.5h0M218.5 154.7h0M218.3 152.5h0M215.6 151.1h0M220.5 160.3h0M218.8 145.2h0M215.7 153.7h0M222.8 143.0h0M214.7 141.3h0M216.2 152.5h0M217.1 135.3h0M213.7 148.3h0M226.0 150.0h0M223.0 155.3h0M221.5 138.2h0M217.1 157.3h0M225.1 151.0h0M222.2 155.9h0M227.1 151.8h0M214.8 157.2h0M215.2 154.0h0M218.3 159.8h0M226.3 156.0h0M225.9 155.5h0M214.8 145.3h0M223.3 147.8h0M213.7 140.8h0M219.6 153.6h0M225.8 155.0h0M213.8 150.6h0M219.2 145.5h0M215.4 153.5h0M216.5 158.3h0M213.5 151.9h0M222.7 154.2h0M216.2 127.5h0M223.2 153.3h0M221.6 150.7h0M226.9 158.6h0M226.2 157.2h0M219.6 141.8h0M219.8 147.9h0M225.1 134.5h0M215.7 148.9h0M226.4 150.3h0M216.2 141.5h0M224.3 149.8h0M216.2 155.5h0M223.2 152.4h0M218.5 153.7h0M219.9 147.8h0M219.0 153.9h0M224.8 141.6h0M226.2 161.6h0M214.7 149.2h0M226.7 142.1h0M216.3 151.3h0M223.8 142.3h0M227.1 142.3h0M222.5 150.1h0M218.4 138.9h0M222.2 148.5h0M223.1 151.9h0M220.1 147.0h0M226.4 149.5h0M218.2 148.0h0M219.9 148.5h0M219.0 146.6h0M222.4 153.3h0M216.2 157.5h0M214.9 136.0h0M226.0 152.9h0M223.3 141.2h0M217.8 145.3h0M220.5 148.1h0M218.7 153.9h0M219.3 142.5h0M224.3 147.0h0M223.1 155.7h0M218.8 153.7h0M218.8 144.3h0M224.5 132.3h0M215.7 149.0h0M224.8 152.7h0M225.3 144.5h0M221.0 154.1h0M220.4 154.7h0M220.9 150.7h0M223.9 154.9h0M219.1 161.3h0M218.6 149.2h0M223.4 146.1h0M224.8 158.3h0M216.2 154.8h0M216.9 147.6h0M218.4 147.8h0M220.4 138.3h0M215.7 150.8h0M221.2 150.1h0M215.3 156.0h0M219.5 145.3h0M223.2 145.5h0M213.6 140.7h0M222.8 151.5h0M226.8 150.9h0M219.8 149.6h0M222.6 150.4h0M226.1 153.2h0M216.9 144.6h0M217.2 131.6h0M220.3 139.7h0M219.0 154.0h0M221.3 154.8h0M214.6 153.8h0M215.5 150.9h0M214.1 152.2h0M215.8 148.4h0M218.3 148.7h0M227.1 158.2h0M224.6 150.6h0M223.5 150.0h0M221.9 153.6h0M218.8 137.8h0M216.4 143.4h0M215.4 142.8h0M214.8 157.1h0M224.4 149.9h0M213.9 148.7h0M225.8 149.6h0M216.5 151.2h0M219.0 152.5h0M219.2 156.2h0M223.0 146.0h0M213.5 149.3h0M226.5 156.0h0M220.5 152.0h0M218.7 144.1h0M216.8 142.7h0M217.0 154.7h0M218.5 137.9h0M217.2 152.5h0M220.9 151.5h0M224.4 151.6h0M216.6 157.1h0M218.5 156.8h0M216.1 146.0h0M226.6 151.9h0M221.4 159.8h0M220.0 147.5h0M218.4 149.8h0M218.4 144.6h0M222.2 153.8h0M226.6 155.5h0M226.8 155.2h0M217.1 153.9h0M218.2 157.1h0M214.0 152.7h0M223.1 155.0h0M219.8 155.6h0M225.3 155.5h0M225.1 144.3h0M223.6 142.3h0M227.1 154.4h0M216.6 150.5h0M221.5 148.9h0M224.2 152.1h0M222.6 152.9h0M223.5 143.0h0M223.6 154.9h0M218.2 123.6h0M223.7 127.4h0M222.8 153.1h0M214.2 150.8h0M226.6 145.9h0M218.3 157.5h0M218.5 151.6h0M217.2 155.2h0M222.9 156.1h0M219.1 152.5h0M225.4 142.7h0M221.6 160.6h0M215.7 152.6h0M218.2 155.2h0M215.3 138.1h0M225.0 135.2h0M220.1 155.3h0M221.9 157.3h0M217.7 152.2h0M215.0 152.7h0M217.6 152.2h0M226.8 156.1h0M225.1 159.5h0M213.6 153.2h0M213.9 149.7h0M222.3 158.2h0M213.8 152.6h0M227.0 133.9h0M221.5 154.7h0M219.8 159.7h0M226.0 154.5h0M218.1 151.8h0M221.4 153.4h0M225.2 148.5h0M226.7 149.9h0M221.7 143.0h0M225.1 155.6h0M217.7 155.9h0M225.5 153.5h0M220.9 152.9h0M215.2 154.3h0M219.8 151.5h0M220.9 153.6h0M215.4 151.9h0M214.5 145.6h0M216.3 158.3h0M214.4 142.0h0M220.3 145.7h0M213.9 153.0h0M222.7 149.8h0M225.5 149.2h0M216.3 146.9h0M217.3 136.9h0M219.0 149.5h0M220.3 143.5h0M224.4 155.7h0M218.2 144.5h0M227.0 147.2h0M224.0 152.8h0M225.4 151.9h0M225.4 121.3h0M216.5 147.5h0M218.6 151.7h0M216.8 150.2h0M213.9 151.5h0M218.3 149.6h0M218.2 147.5h0M214.6 140.7h0M218.2 152.4h0M225.9 150.1h0M213.9 153.3h0M220.1 145.6h0M224.1 151.4h0M218.1 148.7h0M217.7 154.9h0M225.9 137.2h0M226.6 150.7h0M220.3 153.7h0M220.9 145.4h0M226.3 144.9h0M221.1 159.2h0M216.0 150.3h0M221.0 150.9h0M223.8 138.5h0M220.2 153.1h0M221.9 151.2h0M216.2 142.2h0M223.8 153.3h0M226.1 146.1h0M214.3 153.5h0M225.2 151.5h0M217.1 114.1h0M216.5 147.4h0M214.3 156.3h0M221.3 147.9h0M217.1 156.9h0M215.6 150.7h0M220.7 158.2h0M214.0 147.0h0M215.2 154.9h0M222.3 151.9h0M216.0 150.6h0M221.9 158.9h0M215.4 140.3h0M215.2 146.2h0M219.0 153.2h0M220.1 154.0h0M225.6 154.7h0M215.0 138.4h0M226.4 156.0h0M225.7 156.8h0M222.2 130.4h0M220.4 154.6h0M222.4 150.5h0M225.6 151.5h0M224.0 152.5h0M221.3 149.9h0M222.2 141.2h0M221.8 135.7h0M223.5 155.9h0M214.8 151.1h0M218.2 142.8h0M214.6 151.6h0M218.9 157.5h0M223.3 152.6h0M214.3 147.6h0M218.3 152.8h0M225.1 150.6h0M224.1 128.2h0M226.4 147.0h0M224.2 149.2h0M214.6 156.5h0M218.4 160.5h0M221.0 154.6h0M221.6 147.0h0M226.6 154.9h0M223.1 149.8h0M222.7 153.3h0M217.9 152.8h0M218.1 143.0h0M224.4 151.9h0M220.3 151.2h0M220.9 153.2h0M216.5 144.9h0M217.4 126.5h0M215.2 134.2h0M216.4 150.8h0M218.9 154.8h0M216.6 154.1h0M222.8 156.1h0M224.6 149.8h0M221.8 152.3h0M221.7 154.5h0M226.4 143.6h0M219.5 146.3h0M222.5 147.1h0M225.7 151.9h0M216.8 154.9h0M226.7 156.3h0M221.7 148.3h0M226.0 150.1h0M218.5 153.4h0M223.6 152.9h0M214.8 155.3h0M220.3 149.1h0M215.6 141.2h0M225.4 146.7h0M224.2 148.0h0M225.6 153.9h0M221.3 152.1h0M223.6 141.5h0M218.5 151.8h0M215.9 144.8h0M226.1 145.8h0M224.2 148.1h0M215.1 148.5h0M219.4 154.9h0M213.9 140.8h0M218.7 157.3h0M223.1 154.3h0M220.9 154.3h0M225.7 129.4h0M216.3 137.3h0M219.0 150.0h0M213.9 151.3h0M214.8 149.9h0M224.5 138.1h0M223.7 154.1h0M218.3 140.0h0M221.5 145.2h0M217.7 145.2h0M217.9 144.4h0M226.8 149.0h0M227.1 144.2h0M214.8 143.0h0M215.4 157.2h0M226.6 153.8h0M215.4 129.5h0M218.3 158.5h0M226.6 143.8h0M221.7 154.8h0M218.1 156.1h0M226.6 141.5h0M220.8 137.2h0M216.0 157.4h0M224.0 153.4h0M216.3 149.4h0M224.6 146.4h0M215.4 145.6h0M222.4 143.0h0M224.1 139.4h0M226.7 152.4h0M218.6 157.5h0M226.1 154.6h0M219.4 149.9h0M220.0 150.8h0M217.2 145.5h0M220.2 139.5h0M217.3 150.8h0M226.1 158.5h0M216.1 155.1h0M219.7 153.0h0M225.6 154.1h0M219.3 143.0h0M223.8 150.8h0M219.6 150.3h0M225.0 146.1h0M224.5 154.2h0M220.2 147.9h0M215.2 148.1h0M216.5 154.2h0M215.2 152.9h0M218.8 149.0h0M220.9 153.9h0M219.7 152.8h0M218.6 156.4h0M216.0 148.0h0M224.0 153.2h0M225.3 143.1h0M219.9 148.2h0M224.9 148.1h0M214.5 150.3h0M213.7 128.6h0M221.6 153.8h0M225.7 156.8h0M214.9 152.0h0M217.5 155.2h0M220.4 153.2h0M213.7 144.9h0M223.3 148.2h0M219.7 152.0h0M224.8 152.5h0M215.3 154.8h0M217.3 152.8h0M225.7 152.3h0M218.4 159.8h0M215.3 142.0h0M221.8 147.0h0M214.8 127.6h0M217.1 146.9h0M225.1 151.6h0M216.2 153.1h0M222.5 157.9h0M225.4 159.9h0M226.9 157.4h0M225.5 153.2h0M215.6 155.4h0M220.7 153.1h0M226.0 144.4h0M223.0 135.2h0M226.6 150.3h0M222.2 155.7h0M221.5 141.7h0M215.3 153.3h0M218.6 155.7h0M220.5 148.5h0M222.4 152.3h0M226.5 143.2h0M216.4 154.8h0M219.0 147.8h0M218.0 154.2h0M219.1 142.9h0M221.3 156.6h0M214.3 146.4h0M218.0 153.7h0M220.2 149.4h0M224.2 156.1h0M219.4 148.2h0M215.7 152.2h0M220.9 148.1h0M226.3 149.7h0M220.8 149.4h0M215.4 152.8h0M214.4 146.8h0M219.7 153.3h0M222.8 151.7h0M215.4 146.6h0M223.7 162.2h0M217.4 150.4h0M222.2 138.6h0M221.3 154.5h0M224.8 132.2h0M216.6 147.7h0M216.9 157.4h0M220.3 147.3h0M225.7 148.5h0M217.1 150.2h0M216.1 151.1h0M225.9 151.3h0M225.6 148.4h0M217.9 157.4h0M222.9 152.7h0M224.2 141.7h0M219.1 144.4h0M222.5 153.0h0M223.5 153.6h0M222.3 144.0h0M226.7 157.7h0M219.2 160.1h0M224.3 151.4h0M219.8 154.6h0M224.6 144.5h0M217.4 153.6h0M225.2 142.6h0M217.5 155.6h0M220.5 140.5h0M216.3 154.4h0M217.4 149.4h0M221.8 139.1h0M221.2 152.7h0M225.6 158.3h0M226.4 142.0h0M222.6 159.4h0M218.5 145.9h0M222.7 153.9h0M222.9 149.7h0M223.0 158.4h0M219.5 141.7h0M222.8 151.2h0M218.6 150.5h0M226.5 156.5h0M226.7 155.3h0M225.6 149.6h0M226.6 142.0h0M220.1 139.4h0M219.1 152.3h0M214.2 149.9h0M215.3 146.4h0M214.7 156.3h0M225.1 151.8h0M221.6 151.5h0M221.9 150.6h0M235.4 135.1h0M236.4 148.8h0M235.9 149.5h0M239.9 154.1h0M242.2 148.6h0M243.1 151.3h0M244.4 136.5h0M248.2 146.2h0M237.9 141.8h0M240.3 145.7h0M247.9 152.4h0M239.6 149.5h0M236.9 152.7h0M243.4 153.5h0M246.8 151.3h0M248.4 150.3h0M247.9 149.9h0M241.7 129.5h0M244.4 137.7h0M248.6 157.6h0M240.9 151.2h0M239.8 141.1h0M247.6 155.7h0M240.4 156.7h0M238.0 147.9h0M238.9 148.3h0M237.0 147.9h0M246.5 149.3h0M246.4 153.6h0M235.8 155.7h0M240.5 142.8h0M242.9 146.1h0M242.8 141.8h0M239.5 158.0h0M247.9 157.7h0M248.2 148.8h0M239.0 149.7h0M247.1 153.4h0M237.3 155.9h0M244.2 144.5h0M242.4 140.6h0M243.7 147.6h0M241.5 142.1h0M240.2 152.5h0M247.6 157.1h0M237.2 139.0h0M244.2 141.9h0M242.2 153.1h0M246.8 139.6h0M242.1 142.4h0M241.0 157.4h0M247.1 153.4h0M244.6 156.2h0M241.9 145.5h0M248.6 150.0h0M246.4 152.0h0M240.0 156.0h0M246.8 153.9h0M239.6 149.6h0M236.3 156.7h0M238.6 153.2h0M238.4 153.4h0M240.6 155.1h0M242.6 150.3h0M239.2 155.3h0M238.7 151.9h0M237.1 150.6h0M236.6 137.7h0M245.0 150.9h0M235.6 145.0h0M246.0 151.7h0M239.3 151.7h0M240.2 145.0h0M246.0 146.9h0M240.5 155.5h0M242.7 152.4h0M247.6 145.4h0M235.5 147.0h0M236.8 122.4h0M237.7 149.6h0M245.7 149.1h0M239.1 141.5h0M236.7 154.2h0M236.6 152.8h0M244.0 140.0h0M246.7 155.0h0M247.6 142.2h0M242.6 153.0h0M237.3 138.3h0M248.7 123.7h0M243.4 140.0h0M247.4 151.6h0M241.7 149.2h0M241.1 154.5h0M243.7 150.3h0M243.2 139.7h0M243.4 149.3h0M236.0 148.5h0M239.7 151.2h0M245.9 147.9h0M241.3 143.6h0M239.5 146.2h0M242.7 154.4h0M238.7 148.0h0M239.9 147.0h0M246.9 147.6h0M239.5 145.8h0M244.1 151.1h0M240.1 157.9h0M243.7 141.6h0M236.6 154.8h0M243.9 146.6h0M247.5 152.7h0M242.2 154.3h0M246.1 152.6h0M243.6 140.1h0M242.6 154.6h0M247.8 152.6h0M243.9 140.0h0M238.0 147.3h0M248.6 149.9h0M239.9 151.7h0M242.2 154.6h0M240.1 151.6h0M244.5 123.6h0M237.4 130.6h0M235.9 145.0h0M240.1 147.9h0M246.8 157.9h0M243.8 159.8h0M247.5 157.8h0M247.1 157.8h0M244.5 159.9h0M247.7 145.1h0M246.8 156.5h0M241.2 159.6h0M236.3 146.3h0M247.2 137.2h0M237.5 158.0h0M243.1 153.2h0M247.3 145.7h0M241.8 154.2h0M240.2 157.9h0M244.6 147.5h0M238.4 148.5h0M241.8 147.5h0M238.6 145.3h0M245.4 154.5h0M239.9 150.9h0M243.3 160.1h0M237.9 152.5h0M247.1 150.8h0M246.4 153.7h0M237.2 151.9h0M245.2 149.2h0M246.9 152.1h0M248.0 157.6h0M247.0 150.2h0M238.6 156.2h0M241.9 154.7h0M238.6 152.5h0M243.4 156.1h0M246.7 152.3h0M246.0 152.8h0M246.2 152.2h0M246.6 151.7h0M237.8 153.6h0M244.3 144.4h0M237.9 151.2h0M244.6 152.7h0M236.9 151.3h0M242.5 155.2h0M244.7 153.2h0M243.8 143.6h0M236.2 156.4h0M241.7 148.8h0M246.8 147.8h0M241.6 155.5h0M236.8 149.9h0M236.5 153.2h0M235.4 151.1h0M248.0 131.7h0M242.7 144.4h0M235.5 138.8h0M243.2 150.9h0M247.2 154.0h0M238.4 150.9h0M239.3 156.5h0M244.8 155.8h0M244.3 151.9h0M246.3 153.2h0M239.6 155.2h0M242.6 142.6h0M239.5 155.5h0M239.6 151.2h0M244.9 152.4h0M242.5 145.5h0M245.6 151.2h0M246.7 155.5h0M244.9 153.0h0M241.0 147.7h0M244.7 154.9h0M236.0 154.6h0M237.5 131.3h0M244.1 149.9h0M244.2 154.8h0M239.2 156.3h0M239.1 148.7h0M239.9 132.8h0M236.7 156.6h0M242.4 154.6h0M240.8 147.4h0M247.0 150.7h0M244.5 151.1h0M245.5 148.6h0M247.4 148.5h0M245.6 132.7h0M239.8 156.0h0M237.6 157.6h0M244.8 153.4h0M239.4 147.7h0M238.4 147.7h0M242.7 149.3h0M238.5 137.1h0M242.0 148.8h0M248.3 152.9h0M238.2 156.8h0M236.8 152.2h0M243.9 151.1h0M237.6 157.0h0M238.5 134.2h0M247.7 153.4h0M239.4 129.9h0M245.6 141.4h0M247.4 150.5h0M240.6 146.1h0M243.1 156.1h0M245.0 160.7h0M245.9 127.7h0M246.6 150.8h0M235.9 152.5h0M247.6 157.1h0M235.5 144.2h0M248.0 155.3h0M239.6 148.5h0M236.1 152.0h0M244.8 158.1h0M246.2 136.1h0M246.4 151.8h0M243.6 153.2h0M242.3 147.4h0M239.0 147.2h0M235.6 140.8h0M241.3 155.5h0M240.5 152.0h0M245.6 154.5h0M236.7 151.9h0M246.4 145.2h0M238.7 140.7h0M239.3 145.7h0M246.3 153.5h0M240.0 149.1h0M240.9 152.3h0M242.8 158.8h0M240.1 144.1h0M247.4 155.4h0" stroke="#2b93ad" stroke-width=".85" stroke-linecap="round" fill="none" opacity=".9"/>
<path d="M191.61 152.71L205.61 152.71" stroke="#4d4d4d" stroke-width="1.6" />
<path d="M191.61 152.04L205.61 152.04" stroke="#000" stroke-width="1.8" />
<path d="M213.3 151.59L227.3 151.59" stroke="#4d4d4d" stroke-width="1.6" />
<path d="M213.3 150.91L227.3 150.91" stroke="#000" stroke-width="1.8" />
<path d="M234.99 151.81L248.99 151.81" stroke="#4d4d4d" stroke-width="1.6" />
<path d="M234.99 151.14L248.99 151.14" stroke="#000" stroke-width="1.8" />
<rect x="185.6" y="4" width="69.4" height="11" fill="#d9d9d9" stroke="#000" stroke-width="1" />
<rect x="185.6" y="15" width="69.4" height="154.5" fill="none" stroke="#000" stroke-width="1.2" />
<text x="220.3" y="13.2" font-size="8.4" text-anchor="middle" >AZD1775+ISRIB</text>
<path d="M198.5 169.5L198.5 171.3" stroke="#000" stroke-width=".7" />
<text x="198.61" y="181" font-size="9.5" text-anchor="middle" >G1</text>
<text font-size="7.5" text-anchor="middle" transform="translate(201.31 193.4) rotate(-90)" >2385</text>
<path d="M220.5 169.5L220.5 171.3" stroke="#000" stroke-width=".7" />
<text x="220.3" y="181" font-size="9.5" text-anchor="middle" >S</text>
<text font-size="7.5" text-anchor="middle" transform="translate(223 193.4) rotate(-90)" >1324</text>
<path d="M241.5 169.5L241.5 171.3" stroke="#000" stroke-width=".7" />
<text x="241.99" y="181" font-size="9.5" text-anchor="middle" >G2/M</text>
<text font-size="7.5" text-anchor="middle" transform="translate(244.69 193.4) rotate(-90)" >591</text>
<path d="M39.7 145.5L41.5 145.5" stroke="#000" stroke-width=".7" />
<text x="39" y="148.7" font-size="9.5" text-anchor="end" >200</text>
<path d="M39.7 100.5L41.5 100.5" stroke="#000" stroke-width=".7" />
<text x="39" y="103.8" font-size="9.5" text-anchor="end" >400</text>
<path d="M39.7 55.5L41.5 55.5" stroke="#000" stroke-width=".7" />
<text x="39" y="58.9" font-size="9.5" text-anchor="end" >600</text>
<text font-size="9.4" text-anchor="middle" transform="translate(19.6 91.5) rotate(-90)" >ATF4 nuclear intensity (arb. units)</text>
<text x="23" y="195.2" font-size="8.5" >n =</text>
<rect x="45.4" y="18.6" width="32.4" height="25.2" fill="#fff" stroke="#000" stroke-width=".7" />
<path d="M50.1 26.5L56.5 26.5" stroke="#000" stroke-width=".9" />
<circle cx="53.3" cy="26.1" r="1.5" fill="#e8483c" />
<text x="57.6" y="28.6" font-size="7" >Rep 1</text>
<path d="M50.1 36.5L56.5 36.5" stroke="#000" stroke-width=".9" />
<circle cx="53.3" cy="36" r="1.5" fill="#2b93ad" />
<text x="57.6" y="38.5" font-size="7" >Rep 2</text>
</g>
<g>
<text x="266.5" y="10.3" font-size="13.5" font-weight="bold" >b</text>
<path d="M281.4 73.05L350 73.05" stroke="#ef9aa3" stroke-width=".8" />
<path d="M365.5 73.05L430.7 73.05" stroke="#ef9aa3" stroke-width=".8" />
<path d="M350 75.95L430.7 75.95" stroke="#ef9aa3" stroke-width=".8" />
<path d="M281.4 74.5L430.7 74.5" stroke="#222" stroke-width=".85" />
<path d="M281.5 72.3L281.5 76.7" stroke="#222" stroke-width=".8" />
<path d="M350.5 72.3L350.5 76.7" stroke="#222" stroke-width=".8" />
<path d="M365.5 72.3L365.5 76.7" stroke="#222" stroke-width=".8" />
<path d="M430.5 72.3L430.5 76.7" stroke="#222" stroke-width=".8" />
<text x="282.3" y="70.6" font-size="9.5" text-anchor="middle" >0</text>
<text x="315" y="68.4" font-size="9.5" text-anchor="middle" >Nocodazole</text>
<text x="350" y="70.6" font-size="9.5" text-anchor="middle" >16</text>
<text x="365.5" y="70.6" font-size="9.5" text-anchor="middle" >18</text>
<text x="425.4" y="70.2" font-size="9.5" >38 hr</text>
<text x="348.6" y="34.6" font-size="9.5" text-anchor="middle" >Mitotic</text>
<text x="350" y="46.2" font-size="9.5" text-anchor="middle" >shakeoff</text>
<text x="374.3" y="53.7" font-size="9.5" >-/+ AZD1775</text>
<text x="374.3" y="65.5" font-size="9.5" >-/+ A92</text>
<text x="327.3" y="95.8" font-size="9.5" >-/+ Palbociclib</text>
<text x="413.8" y="96.2" font-size="9.5" >Harvest</text>
<path d="M350.5 52L350.5 58.6" stroke="#222" stroke-width=".7" />
<path d="M348.4 57L350 60.2L351.6 57Z" fill="#222"/>
<path d="M430.5 76L430.5 84.6" stroke="#222" stroke-width=".7" />
<path d="M429.1 83L430.7 86.2L432.3 83Z" fill="#222"/>
</g>
<g>
<text x="453" y="10.3" font-size="13.5" font-weight="bold" >c</text>
<rect x="523.8" y="74.2" width="10.6" height="42" fill="#e8334f" />
<rect x="539.04" y="81.76" width="10.6" height="34.44" fill="#e8334f" />
<rect x="554.28" y="49.63" width="10.6" height="66.57" fill="#e8334f" />
<rect x="569.52" y="82.18" width="10.6" height="34.02" fill="#e8334f" />
<rect x="584.76" y="79.87" width="10.6" height="36.33" fill="#e8334f" />
<rect x="600" y="62.44" width="10.6" height="53.76" fill="#e8334f" />
<rect x="615.24" y="59.08" width="10.6" height="57.12" fill="#e8334f" />
<rect x="630.48" y="37.66" width="10.6" height="78.54" fill="#e8334f" />
<rect x="645.72" y="67.06" width="10.6" height="49.14" fill="#e8334f" />
<rect x="660.96" y="69.16" width="10.6" height="47.04" fill="#e8334f" />
<path d="M597.5 7.5L597.5 116.2" stroke="#333" stroke-width=".6" stroke-dasharray="1.2 1.2"/>
<path d="M519.5 10.8L519.5 116.6" stroke="#222" stroke-width=".9" />
<path d="M519.7 116.5L677.6 116.5" stroke="#222" stroke-width=".9" />
<path d="M515.7 116.5L519.7 116.5" stroke="#222" stroke-width=".8" />
<text x="513.2" y="119.5" font-size="9.3" text-anchor="end" >0.0</text>
<path d="M515.7 95.5L519.7 95.5" stroke="#222" stroke-width=".8" />
<text x="513.2" y="98.5" font-size="9.3" text-anchor="end" >0.5</text>
<path d="M515.7 74.5L519.7 74.5" stroke="#222" stroke-width=".8" />
<text x="513.2" y="77.5" font-size="9.3" text-anchor="end" >1.0</text>
<path d="M515.7 53.5L519.7 53.5" stroke="#222" stroke-width=".8" />
<text x="513.2" y="56.5" font-size="9.3" text-anchor="end" >1.5</text>
<path d="M515.7 32.5L519.7 32.5" stroke="#222" stroke-width=".8" />
<text x="513.2" y="35.5" font-size="9.3" text-anchor="end" >2.0</text>
<path d="M515.7 11.5L519.7 11.5" stroke="#222" stroke-width=".8" />
<text x="513.2" y="14.5" font-size="9.3" text-anchor="end" >2.5</text>
<path d="M529.5 116.2L529.5 119.4" stroke="#222" stroke-width=".8" />
<path d="M544.5 116.2L544.5 119.4" stroke="#222" stroke-width=".8" />
<path d="M559.5 116.2L559.5 119.4" stroke="#222" stroke-width=".8" />
<path d="M574.5 116.2L574.5 119.4" stroke="#222" stroke-width=".8" />
<path d="M590.5 116.2L590.5 119.4" stroke="#222" stroke-width=".8" />
<path d="M605.5 116.2L605.5 119.4" stroke="#222" stroke-width=".8" />
<path d="M620.5 116.2L620.5 119.4" stroke="#222" stroke-width=".8" />
<path d="M635.5 116.2L635.5 119.4" stroke="#222" stroke-width=".8" />
<path d="M651.5 116.2L651.5 119.4" stroke="#222" stroke-width=".8" />
<path d="M666.5 116.2L666.5 119.4" stroke="#222" stroke-width=".8" />
<text font-size="9.95" text-anchor="middle" transform="translate(478.5 63.5) rotate(-90)" >ATF4-mScarlet</text>
<text font-size="9.95" text-anchor="middle" transform="translate(491.4 63.5) rotate(-90)" >(normalized MFI)</text>
<path d="M544.34 80.2L544.34 82.4M542.64 80.2h3.4M542.64 82.4h3.4" stroke="#000" stroke-width=".7" fill="none"/>
<path d="M559.58 44.4L559.58 53.3M557.88 44.4h3.4M557.88 53.3h3.4" stroke="#000" stroke-width=".7" fill="none"/>
<path d="M574.82 80.4L574.82 84M573.12 80.4h3.4M573.12 84h3.4" stroke="#000" stroke-width=".7" fill="none"/>
<path d="M590.06 75.4L590.06 81.2M588.36 75.4h3.4M588.36 81.2h3.4" stroke="#000" stroke-width=".7" fill="none"/>
<path d="M605.3 58.3L605.3 67.2M603.6 58.3h3.4M603.6 67.2h3.4" stroke="#000" stroke-width=".7" fill="none"/>
<path d="M620.54 54.3L620.54 63.2M618.84 54.3h3.4M618.84 63.2h3.4" stroke="#000" stroke-width=".7" fill="none"/>
<path d="M635.78 27.2L635.78 48.2M634.08 27.2h3.4M634.08 48.2h3.4" stroke="#000" stroke-width=".7" fill="none"/>
<path d="M651.02 64.3L651.02 70.2M649.32 64.3h3.4M649.32 70.2h3.4" stroke="#000" stroke-width=".7" fill="none"/>
<path d="M666.26 64.8L666.26 74.2M664.56 64.8h3.4M664.56 74.2h3.4" stroke="#000" stroke-width=".7" fill="none"/>
<circle cx="525.6" cy="74.1" r="1.6" fill="#fff" stroke="#000" stroke-width=".65" />
<circle cx="529.1" cy="74.1" r="1.6" fill="#fff" stroke="#000" stroke-width=".65" />
<circle cx="532.6" cy="74.1" r="1.6" fill="#fff" stroke="#000" stroke-width=".65" />
<circle cx="541.4" cy="81.2" r="1.6" fill="#fff" stroke="#000" stroke-width=".65" />
<circle cx="544.5" cy="80.2" r="1.6" fill="#fff" stroke="#000" stroke-width=".65" />
<circle cx="547.7" cy="80.9" r="1.6" fill="#fff" stroke="#000" stroke-width=".65" />
<circle cx="559.7" cy="44" r="1.6" fill="#fff" stroke="#000" stroke-width=".65" />
<circle cx="559.7" cy="50.3" r="1.6" fill="#fff" stroke="#000" stroke-width=".65" />
<circle cx="559.7" cy="53.5" r="1.6" fill="#fff" stroke="#000" stroke-width=".65" />
<circle cx="571.6" cy="79.9" r="1.6" fill="#fff" stroke="#000" stroke-width=".65" />
<circle cx="572" cy="84.2" r="1.6" fill="#fff" stroke="#000" stroke-width=".65" />
<circle cx="575.4" cy="82.3" r="1.6" fill="#fff" stroke="#000" stroke-width=".65" />
<circle cx="578.4" cy="81.9" r="1.6" fill="#fff" stroke="#000" stroke-width=".65" />
<circle cx="587.4" cy="79.6" r="1.6" fill="#fff" stroke="#000" stroke-width=".65" />
<circle cx="590.4" cy="74.1" r="1.6" fill="#fff" stroke="#000" stroke-width=".65" />
<circle cx="593.4" cy="78.1" r="1.6" fill="#fff" stroke="#000" stroke-width=".65" />
<circle cx="606" cy="58.3" r="1.6" fill="#fff" stroke="#000" stroke-width=".65" />
<circle cx="606" cy="62.8" r="1.6" fill="#fff" stroke="#000" stroke-width=".65" />
<circle cx="606" cy="67.3" r="1.6" fill="#fff" stroke="#000" stroke-width=".65" />
<circle cx="617.5" cy="62.3" r="1.6" fill="#fff" stroke="#000" stroke-width=".65" />
<circle cx="620.6" cy="54" r="1.6" fill="#fff" stroke="#000" stroke-width=".65" />
<circle cx="623.8" cy="59.8" r="1.6" fill="#fff" stroke="#000" stroke-width=".65" />
<circle cx="632.6" cy="31.9" r="1.6" fill="#fff" stroke="#000" stroke-width=".65" />
<circle cx="639.4" cy="32.2" r="1.6" fill="#fff" stroke="#000" stroke-width=".65" />
<circle cx="635.9" cy="48.2" r="1.6" fill="#fff" stroke="#000" stroke-width=".65" />
<circle cx="647.9" cy="65.6" r="1.6" fill="#fff" stroke="#000" stroke-width=".65" />
<circle cx="654.2" cy="66.1" r="1.6" fill="#fff" stroke="#000" stroke-width=".65" />
<circle cx="651.2" cy="71.6" r="1.6" fill="#fff" stroke="#000" stroke-width=".65" />
<circle cx="666.3" cy="64.8" r="1.6" fill="#fff" stroke="#000" stroke-width=".65" />
<circle cx="666.3" cy="69.6" r="1.6" fill="#fff" stroke="#000" stroke-width=".65" />
<circle cx="666.3" cy="74.6" r="1.6" fill="#fff" stroke="#000" stroke-width=".65" />
<text x="551.9" y="36" font-size="8.5" text-anchor="middle" >p = 0.0006</text>
<path d="M544.2 40.5L559.2 40.5" stroke="#222" stroke-width=".8" />
<text x="576.3" y="23.9" font-size="8.5" text-anchor="middle" >p = 0.0016</text>
<path d="M561.2 27.5L591.4 27.5" stroke="#222" stroke-width=".8" />
<text x="627.5" y="22.1" font-size="8.5" text-anchor="middle" >p = 0.0265</text>
<path d="M621 25.5L635.1 25.5" stroke="#222" stroke-width=".8" />
<text x="651.4" y="10" font-size="8.5" text-anchor="middle" >p = 0.0076</text>
<path d="M636.1 12.5L666.3 12.5" stroke="#222" stroke-width=".8" />
<text x="520" y="129.6" font-size="9.5" text-anchor="end" >Nocodazole</text>
<text x="529.1" y="129.6" font-size="9" text-anchor="middle" >-</text>
<text x="544.34" y="129.6" font-size="9" text-anchor="middle" >+</text>
<text x="559.58" y="129.6" font-size="9" text-anchor="middle" >+</text>
<text x="574.82" y="129.6" font-size="9" text-anchor="middle" >+</text>
<text x="590.06" y="129.6" font-size="9" text-anchor="middle" >+</text>
<text x="605.3" y="129.6" font-size="9" text-anchor="middle" >-</text>
<text x="620.54" y="129.6" font-size="9" text-anchor="middle" >+</text>
<text x="635.78" y="129.6" font-size="9" text-anchor="middle" >+</text>
<text x="651.02" y="129.6" font-size="9" text-anchor="middle" >+</text>
<text x="666.26" y="129.6" font-size="9" text-anchor="middle" >+</text>
<text x="520" y="142.4" font-size="9.5" text-anchor="end" >AZD1775</text>
<text x="529.1" y="142.4" font-size="9" text-anchor="middle" >-</text>
<text x="544.34" y="142.4" font-size="9" text-anchor="middle" >-</text>
<text x="559.58" y="142.4" font-size="9" text-anchor="middle" >+</text>
<text x="574.82" y="142.4" font-size="9" text-anchor="middle" >-</text>
<text x="590.06" y="142.4" font-size="9" text-anchor="middle" >+</text>
<text x="605.3" y="142.4" font-size="9" text-anchor="middle" >-</text>
<text x="620.54" y="142.4" font-size="9" text-anchor="middle" >-</text>
<text x="635.78" y="142.4" font-size="9" text-anchor="middle" >+</text>
<text x="651.02" y="142.4" font-size="9" text-anchor="middle" >-</text>
<text x="666.26" y="142.4" font-size="9" text-anchor="middle" >+</text>
<text x="520" y="154.7" font-size="9.5" text-anchor="end" >A92</text>
<text x="529.1" y="154.7" font-size="9" text-anchor="middle" >-</text>
<text x="544.34" y="154.7" font-size="9" text-anchor="middle" >-</text>
<text x="559.58" y="154.7" font-size="9" text-anchor="middle" >-</text>
<text x="574.82" y="154.7" font-size="9" text-anchor="middle" >+</text>
<text x="590.06" y="154.7" font-size="9" text-anchor="middle" >+</text>
<text x="605.3" y="154.7" font-size="9" text-anchor="middle" >-</text>
<text x="620.54" y="154.7" font-size="9" text-anchor="middle" >-</text>
<text x="635.78" y="154.7" font-size="9" text-anchor="middle" >-</text>
<text x="651.02" y="154.7" font-size="9" text-anchor="middle" >+</text>
<text x="666.26" y="154.7" font-size="9" text-anchor="middle" >+</text>
<path d="M524.1 161.5L595.2 161.5" stroke="#222" stroke-width=".8" />
<path d="M600.6 161.5L671.4 161.5" stroke="#222" stroke-width=".8" />
<text x="559.7" y="172.8" font-size="9.5" text-anchor="middle" >DMSO</text>
<text x="635.9" y="172.8" font-size="9.5" text-anchor="middle" >Palbociclib</text>
</g>
<g>
<text x="9" y="219.2" font-size="13.5" font-weight="bold" >d</text>
<path d="M42 229.5L352.4 229.5" stroke="#000" stroke-width=".95" />
<text x="195.4" y="225.5" font-size="9.5" text-anchor="middle" >RPE1 <tspan font-style="italic">TP53</tspan><tspan font-size="5.5" dy="-3.2">KO</tspan><tspan dy="3.2">&#8203;</tspan></text>
<rect x="42.2" y="234.1" width="69.1" height="68.4" fill="#fff" />
<rect x="121.6" y="234.1" width="69.1" height="68.4" fill="#fff" />
<rect x="201.7" y="234.1" width="69.1" height="68.4" fill="#fff" />
<rect x="282.3" y="234.1" width="69.8" height="68.4" fill="#fff" />
<path d="M55 302.5C55.37 301.14 56.38 302.5 57.2 294.5C58.02 284.11 58.95 245.21 59.8 241.4C60.65 237.59 60.84 263.77 62.2 272.1C63.56 280.43 66.05 287.85 67.8 290.4C69.55 292.95 71.09 288.68 72.5 287.1C73.91 285.52 74.99 279.91 76.1 281.1C77.2 282.29 77.91 290.87 79 294.1C80.09 297.33 81.06 298.67 82.5 300.1C83.94 301.53 86.65 302.09 87.5 302.5Z" fill="#858585" stroke="#000" stroke-width=".8" stroke-linejoin="round"/>
<path d="M147.0 279.1h0M160.4 271.7h0M145.9 277.1h0M158.7 280.3h0M145.3 270.9h0M159.6 276.9h0M165.4 278.3h0M153.6 274.4h0M170.8 270.7h0M148.2 271.1h0M155.3 276.2h0M152.2 275.8h0M157.0 278.6h0M161.8 275.1h0M143.7 281.5h0M145.2 276.7h0M145.0 277.6h0M149.7 277.7h0M175.8 270.8h0M158.6 268.0h0M153.3 279.2h0M154.3 277.5h0M154.1 270.5h0M157.3 270.9h0M166.1 270.6h0M158.9 274.7h0M160.0 271.3h0M160.8 273.6h0M163.3 276.9h0M154.6 271.6h0M159.9 276.8h0M164.7 271.5h0M158.6 277.3h0M156.5 276.2h0M155.1 272.4h0M147.5 275.1h0M159.9 282.2h0M161.9 279.4h0M160.2 277.9h0M156.5 279.1h0M165.6 271.6h0M152.1 286.1h0M157.1 280.0h0M159.0 268.8h0M172.1 280.9h0M156.4 279.0h0M154.4 271.1h0M154.2 277.6h0M162.4 277.5h0M156.3 282.1h0M150.4 280.5h0M161.4 272.6h0M142.0 273.6h0M156.6 277.9h0M163.5 268.6h0M155.2 278.8h0M151.0 264.2h0M162.1 285.8h0M160.0 269.7h0M152.1 277.3h0M171.2 275.2h0M156.9 283.1h0M155.9 284.8h0M149.6 274.2h0M160.6 281.6h0M159.0 276.2h0M142.0 274.6h0M150.0 273.8h0M157.9 273.2h0M159.7 274.9h0M152.5 276.6h0M158.2 279.2h0M151.2 275.1h0M147.4 285.3h0M163.7 272.7h0M150.1 270.2h0M155.8 276.4h0M168.8 273.8h0M146.9 264.7h0M163.8 274.6h0M144.3 278.7h0M147.7 294.8h0M162.3 276.9h0M151.1 265.4h0M152.1 268.2h0M156.1 264.3h0M149.9 282.8h0M163.9 267.6h0M145.5 282.0h0M159.0 269.6h0M149.3 273.2h0M146.1 273.9h0M163.3 277.3h0M167.7 272.4h0M152.6 271.0h0M152.3 269.3h0M143.8 281.4h0M164.7 277.7h0M163.4 275.0h0M150.0 277.0h0M150.9 270.7h0M142.0 270.7h0M154.6 276.3h0M152.9 283.2h0M156.3 278.2h0M161.5 269.9h0M142.6 282.0h0M151.4 283.0h0M157.7 280.1h0M157.3 264.4h0M158.4 271.3h0M149.2 274.5h0M160.4 278.9h0M159.3 266.1h0M148.2 264.8h0M154.5 278.7h0M149.8 277.8h0M157.0 280.2h0M148.3 272.7h0M151.4 285.2h0M161.4 273.5h0M156.1 275.8h0M155.6 274.3h0M151.0 269.9h0M152.1 284.6h0M158.0 275.2h0M153.2 276.2h0M156.1 272.0h0M156.0 276.5h0M148.8 272.8h0M146.9 271.8h0M157.8 262.8h0M152.1 273.0h0M150.6 276.9h0M161.9 274.4h0M153.0 272.8h0M154.6 280.2h0M150.8 270.5h0M145.2 271.9h0M146.7 282.9h0M156.5 274.0h0M163.2 270.4h0M160.2 278.5h0M142.9 270.1h0M149.5 281.3h0M161.6 267.8h0M160.9 272.3h0M151.4 273.4h0M150.5 267.2h0M146.8 270.9h0M159.8 285.1h0M171.8 270.2h0M143.0 276.0h0M150.5 286.6h0M157.4 271.3h0M161.1 276.9h0M143.5 275.2h0M153.0 276.0h0M155.0 273.8h0M155.1 272.5h0M150.3 284.2h0M157.3 277.2h0M144.0 277.0h0M158.4 268.2h0M161.2 272.2h0M157.0 274.4h0M157.2 281.2h0M153.5 283.8h0M148.5 272.1h0M158.0 269.4h0M153.1 280.5h0M160.5 265.3h0M159.7 284.1h0M162.0 272.8h0M150.3 275.0h0M146.8 275.9h0M153.1 275.1h0M161.9 272.9h0M146.2 282.7h0M147.1 274.9h0M153.3 274.1h0M147.8 275.8h0M168.0 269.6h0M154.8 281.3h0M160.1 278.3h0M158.0 264.8h0M149.1 277.4h0M159.1 281.2h0M157.3 273.8h0M154.5 274.5h0M156.8 278.6h0M151.5 272.1h0M150.1 282.1h0M163.8 278.7h0M160.9 278.5h0M155.2 278.8h0M147.5 276.1h0M150.5 280.2h0M150.6 275.9h0M158.5 281.7h0M148.4 272.1h0M158.6 269.1h0M156.8 272.2h0M151.9 266.8h0M158.6 272.2h0M150.9 287.0h0M162.7 291.8h0M156.8 273.3h0M156.9 283.3h0M154.8 277.8h0M156.9 270.4h0M154.8 273.0h0M147.4 281.6h0M158.9 275.1h0M146.6 267.0h0M157.5 274.5h0M143.6 277.6h0M144.7 277.6h0M155.8 277.1h0M156.1 276.1h0M146.7 275.3h0M151.0 275.1h0M156.9 278.3h0M162.4 260.8h0M156.9 274.1h0M170.2 277.0h0M144.2 279.8h0M152.2 281.2h0M147.6 276.6h0M153.6 275.3h0M148.8 267.4h0M158.5 279.9h0M153.0 270.7h0M156.4 278.1h0M153.4 275.8h0M162.4 268.2h0M148.9 267.0h0M149.2 272.9h0M147.6 273.5h0M165.9 272.2h0M156.0 286.5h0M152.3 267.2h0M156.1 270.5h0M163.8 267.3h0M149.1 268.5h0M154.1 270.5h0M153.7 273.8h0M151.5 281.1h0M160.6 274.6h0M147.6 271.6h0M158.7 286.9h0M150.7 272.4h0M148.9 271.2h0M148.0 275.9h0M163.8 273.6h0M149.5 268.4h0M155.8 275.2h0M145.5 272.0h0M155.3 280.6h0M158.8 275.7h0M152.7 277.6h0M156.7 286.2h0M146.8 275.4h0M162.4 272.6h0M163.7 273.4h0M155.1 273.6h0M144.6 272.7h0M169.5 275.7h0M159.4 279.4h0M159.2 279.8h0M152.6 274.9h0M160.5 272.5h0M145.7 276.3h0M151.6 279.3h0M148.7 271.4h0M154.0 283.7h0M154.4 276.5h0M154.9 277.0h0M161.9 281.2h0M145.3 284.5h0M154.1 274.0h0M169.8 271.5h0M168.1 277.7h0M148.4 279.4h0M159.1 274.0h0M139.1 277.1h0M152.1 270.4h0M166.0 271.9h0M151.6 274.7h0M148.6 272.9h0M155.4 277.0h0M151.1 275.9h0M146.1 280.1h0M149.9 277.7h0M148.1 274.3h0M154.6 269.4h0M170.4 272.0h0M153.3 272.1h0M166.2 280.2h0M155.0 268.5h0M151.9 279.3h0M150.0 270.5h0M146.0 273.5h0M153.9 272.4h0M157.5 289.2h0M164.9 268.1h0M156.8 275.6h0M154.7 280.9h0M152.0 274.5h0M152.0 275.6h0M163.6 277.6h0M145.4 275.3h0M150.2 280.7h0M156.9 279.6h0M152.1 266.3h0M157.6 276.1h0M156.4 268.5h0M154.3 272.1h0M150.4 278.3h0M155.8 270.8h0M140.9 265.8h0M152.0 281.9h0M151.8 264.7h0M149.4 278.8h0M166.5 279.0h0M157.1 276.1h0M147.2 274.8h0M151.5 272.3h0M154.5 273.6h0M158.2 282.2h0M159.7 276.6h0M151.4 268.5h0M154.3 278.4h0M149.3 283.1h0M152.7 277.9h0M151.1 269.9h0M166.6 267.1h0M159.9 271.6h0M155.5 271.3h0M152.8 280.7h0M166.2 268.8h0M155.6 280.2h0M151.2 279.9h0M150.1 279.6h0M158.6 280.9h0M155.6 269.3h0M157.6 269.3h0M160.9 282.0h0M157.8 272.1h0M162.4 274.8h0M146.1 275.6h0M163.3 272.2h0M154.9 273.8h0M143.1 275.4h0M157.0 276.1h0M151.2 265.4h0M163.1 277.4h0M162.5 280.6h0M151.0 273.3h0M158.3 283.4h0M143.4 276.8h0M150.5 279.3h0M163.6 272.1h0M146.5 277.5h0M151.1 268.4h0M159.7 271.8h0M157.5 268.2h0M160.1 267.0h0M159.4 265.3h0M163.0 271.9h0M144.2 276.6h0M155.6 270.3h0M151.6 277.6h0M150.2 260.8h0M152.2 278.3h0M157.5 280.1h0M152.7 289.0h0M160.0 276.0h0M162.5 278.8h0M154.5 272.4h0M161.6 276.3h0M141.1 272.8h0M157.6 275.5h0M157.0 278.4h0M157.1 283.1h0M150.3 274.5h0M157.4 278.8h0M161.1 281.8h0M152.6 282.0h0M156.4 269.9h0M155.8 286.0h0M159.1 272.2h0M138.3 275.3h0M150.0 276.9h0M170.2 276.1h0M155.5 270.6h0M146.6 276.2h0M154.6 290.9h0M151.3 273.1h0M161.9 274.4h0M147.9 283.6h0M151.1 269.5h0M157.1 277.5h0M153.0 279.5h0M158.9 270.2h0M138.7 266.7h0M155.0 281.8h0M162.4 281.0h0M166.5 273.1h0M159.7 266.7h0M159.4 276.6h0M153.4 273.6h0M147.4 277.8h0M162.4 272.1h0M157.2 271.6h0M155.1 270.3h0M156.7 274.0h0M155.9 272.2h0M146.6 275.6h0M162.8 281.9h0M153.2 280.0h0M159.8 276.5h0M144.8 279.3h0M149.5 282.7h0M160.2 277.5h0M138.8 282.1h0M157.7 268.4h0M160.8 274.6h0M152.6 272.4h0M147.5 274.9h0M174.6 272.4h0M155.2 272.1h0M149.9 273.7h0M149.7 281.1h0M153.7 280.2h0M148.0 281.7h0M155.0 278.9h0M152.9 271.4h0M161.9 271.8h0M152.6 271.5h0M155.4 273.4h0M156.7 276.9h0M148.6 269.6h0M158.2 279.5h0M157.8 269.0h0M158.8 276.7h0M156.8 277.3h0M152.6 277.1h0M160.0 271.9h0M145.1 277.1h0M153.8 266.3h0M150.7 279.4h0M153.6 276.3h0M147.3 281.8h0M165.6 272.2h0M148.6 270.9h0M160.4 274.9h0M150.6 282.6h0M160.1 277.5h0M143.0 277.5h0M157.3 268.8h0M162.0 281.3h0M160.4 270.7h0M150.9 281.2h0M162.2 280.2h0M162.1 273.5h0M149.9 267.1h0M161.9 285.7h0M151.0 273.9h0M159.1 276.5h0M144.9 274.0h0M149.5 287.0h0M150.8 280.8h0M168.9 282.2h0M165.4 281.6h0M146.2 275.6h0M149.5 275.2h0M169.7 263.8h0M156.8 268.8h0M164.5 280.1h0M153.3 286.4h0M156.3 281.9h0M155.9 272.4h0M151.9 275.5h0M158.6 275.4h0M169.5 271.4h0M150.7 272.7h0M148.0 269.6h0M149.1 281.4h0M154.7 274.7h0M157.9 280.3h0M159.3 278.5h0M150.6 275.1h0M149.4 276.2h0M148.8 274.9h0M153.1 274.8h0M152.3 273.6h0M162.6 272.1h0M148.2 277.9h0M146.4 271.8h0M153.3 267.3h0M134.0 281.4h0M159.4 266.0h0M149.3 279.7h0M140.8 274.1h0M146.5 276.3h0M142.7 282.7h0M153.9 277.3h0M150.2 265.7h0M152.1 269.3h0M153.7 271.4h0M152.2 275.0h0M160.3 278.3h0M148.0 276.9h0M164.4 276.0h0M149.7 276.0h0M153.2 280.7h0M155.1 277.4h0M167.3 265.8h0M146.2 268.5h0M145.1 282.0h0M158.1 283.2h0M140.8 274.0h0M164.9 278.7h0M161.1 278.6h0M154.7 275.5h0M155.6 279.7h0M153.8 277.4h0M162.7 268.1h0M150.2 279.4h0M152.6 275.2h0M168.5 274.8h0M152.9 281.5h0M169.6 266.7h0M150.3 277.1h0M152.7 287.1h0M157.5 272.9h0M156.8 271.0h0M150.7 276.9h0M167.6 261.3h0M158.6 281.6h0M161.3 284.0h0M157.6 275.7h0M152.8 271.6h0M163.8 267.6h0M153.2 273.2h0M147.1 265.8h0M152.2 276.8h0M156.3 279.5h0M152.8 272.7h0M157.2 278.4h0M147.1 269.4h0M149.0 282.2h0M160.0 269.9h0M156.1 279.5h0M162.4 270.6h0M154.4 282.8h0M171.7 279.8h0M147.6 279.4h0M152.5 275.7h0M149.7 274.2h0M156.3 284.4h0M159.5 276.7h0M153.9 271.9h0M154.3 282.0h0M161.9 284.1h0M156.2 275.1h0M144.5 279.8h0M145.0 285.4h0M150.4 276.5h0M145.3 275.0h0M149.7 282.4h0M154.9 269.5h0M142.0 277.9h0M150.2 270.8h0M158.1 273.9h0M154.6 272.6h0M150.3 274.1h0M144.8 280.9h0M155.3 266.6h0M156.4 281.1h0M157.4 281.6h0M152.8 276.0h0M145.2 273.0h0M141.8 273.7h0M156.6 277.8h0M162.1 274.6h0M148.6 279.1h0M155.4 284.5h0M168.1 277.6h0M146.6 274.6h0M155.0 271.9h0M158.6 278.2h0M160.1 275.6h0M147.9 272.7h0M155.1 282.3h0M165.7 278.2h0M157.5 278.4h0M161.2 280.8h0M158.4 266.9h0M161.1 276.2h0M152.1 278.8h0M156.3 274.9h0M143.7 278.5h0M158.0 274.6h0M144.7 280.0h0M159.3 275.5h0M156.9 273.3h0M150.8 279.1h0M152.4 277.0h0M176.3 274.6h0M153.7 267.5h0M155.9 279.2h0M149.7 275.4h0M140.5 281.4h0M151.4 279.8h0M163.1 272.9h0M161.1 275.5h0M152.9 274.5h0M150.3 283.0h0M159.1 269.5h0M159.2 270.9h0M146.0 283.5h0M147.5 283.1h0M156.7 279.7h0M159.0 280.5h0M157.3 278.0h0M157.2 280.6h0M153.0 281.1h0M164.2 273.2h0M156.8 272.5h0M152.9 277.3h0M151.4 271.7h0M154.5 276.6h0M157.3 278.6h0M144.5 284.9h0M152.6 272.1h0M152.6 278.3h0M159.7 272.6h0M153.9 267.6h0M155.5 274.8h0M152.6 280.5h0M167.1 278.2h0M151.0 284.1h0M152.3 275.9h0M151.2 278.6h0M158.2 275.6h0M153.0 275.2h0M152.9 280.9h0M151.0 275.6h0M152.4 272.2h0M151.5 268.8h0M157.7 277.7h0M154.2 283.6h0M149.8 279.4h0M157.0 272.3h0M153.9 280.3h0M155.2 276.9h0M163.7 274.7h0M143.0 274.3h0M159.7 273.8h0M145.5 267.4h0M158.1 282.5h0M144.2 266.8h0M157.1 272.3h0M152.3 274.4h0M149.2 279.0h0M160.8 276.1h0M152.0 281.4h0M154.4 278.6h0M149.2 280.1h0M160.6 280.9h0M155.1 277.7h0M151.7 280.7h0M160.6 279.8h0M150.8 270.2h0M153.9 274.7h0M150.4 279.5h0M161.0 276.2h0M162.0 276.0h0M147.7 274.1h0M153.0 279.4h0M160.5 275.0h0M160.1 270.2h0M155.3 283.0h0M158.4 280.1h0M140.8 270.1h0M150.0 281.6h0M164.2 270.4h0M147.2 272.0h0M149.4 279.5h0M154.4 285.1h0M158.4 271.3h0M155.9 274.5h0M160.5 278.9h0M153.2 280.4h0M158.1 274.4h0M156.8 278.5h0M151.8 272.8h0M162.6 273.9h0M151.2 278.6h0M145.2 277.9h0M145.4 275.4h0M142.5 274.6h0M160.0 273.5h0M148.6 285.6h0M152.0 283.6h0M149.7 269.3h0M165.8 271.1h0M160.6 280.3h0M146.3 277.7h0M151.5 279.3h0M153.2 269.6h0M155.7 279.2h0M153.2 278.7h0M151.1 276.1h0M156.9 275.8h0M163.5 278.5h0M160.6 277.9h0M154.3 269.8h0M163.0 282.5h0M155.7 274.1h0M155.5 281.5h0M155.4 270.5h0M152.7 272.2h0M152.4 271.6h0M150.5 283.9h0M159.5 266.5h0M147.9 274.8h0M150.7 269.5h0M158.5 266.7h0M159.7 278.0h0M151.6 273.0h0M155.1 276.3h0M140.0 272.4h0M157.8 274.4h0M150.9 271.4h0M149.3 272.9h0M170.9 265.9h0M164.7 275.9h0M156.1 276.3h0M153.8 283.8h0M157.7 274.8h0M154.0 276.7h0M147.0 275.6h0M151.3 279.4h0M156.5 265.9h0M154.2 280.7h0M145.2 271.7h0M160.7 273.7h0M150.5 270.4h0M155.1 272.7h0M156.3 277.4h0M158.7 273.1h0M151.3 276.5h0M154.1 276.6h0M151.0 275.2h0M150.3 273.6h0M156.7 280.9h0M151.8 279.1h0M156.9 275.7h0M158.3 272.1h0M158.4 276.3h0M132.9 282.0h0M160.3 284.2h0M148.0 277.5h0M155.8 270.5h0M162.6 276.2h0M148.3 271.0h0M154.3 287.5h0M165.7 260.9h0M143.7 281.3h0M153.2 272.7h0M158.5 275.3h0M156.6 276.5h0M149.0 283.4h0M152.8 281.7h0M159.0 274.9h0M155.4 275.2h0M142.6 276.5h0M155.6 267.3h0M146.2 282.8h0M158.1 267.1h0M157.4 274.8h0M160.4 272.8h0M152.4 272.3h0M155.6 274.8h0M150.0 274.8h0M150.4 279.6h0M146.4 269.5h0M149.5 282.1h0M152.0 279.4h0M158.7 272.2h0M159.9 277.0h0M153.6 272.3h0M152.8 269.5h0M152.2 273.2h0M157.7 276.7h0M151.4 280.7h0M162.2 274.3h0M150.4 279.1h0M138.4 276.1h0M160.3 284.5h0M151.4 284.0h0M171.3 281.6h0M140.6 284.1h0M156.8 280.3h0M152.8 272.9h0M154.6 283.2h0M159.6 273.1h0M157.9 279.3h0M158.1 274.6h0M149.6 272.9h0M151.2 273.5h0M143.0 270.9h0M159.0 269.0h0M146.1 277.2h0M165.1 279.8h0M150.8 271.2h0M150.2 271.9h0M151.5 278.7h0M146.9 273.3h0M152.8 275.8h0M148.8 272.8h0M146.5 273.5h0M157.6 273.7h0M135.2 282.8h0M153.2 271.5h0M149.8 261.2h0M145.1 283.5h0M170.5 283.3h0M149.8 276.8h0M158.2 268.6h0M165.0 269.7h0M155.6 269.5h0M156.8 275.0h0M160.3 268.5h0M156.3 284.5h0M147.2 279.0h0M156.8 272.6h0M154.3 282.9h0M162.4 276.8h0M155.1 269.7h0M157.0 284.2h0M159.9 267.5h0M140.4 275.2h0M155.0 272.7h0M152.9 277.7h0M160.5 275.4h0M161.1 266.9h0M158.0 277.0h0M146.2 283.8h0M142.7 270.7h0M173.1 278.3h0M158.4 281.7h0M160.8 268.5h0M159.1 281.8h0M153.5 276.2h0M152.3 279.8h0M150.3 273.5h0M145.6 272.7h0M156.4 277.6h0M150.9 271.0h0M157.1 276.9h0M162.2 271.4h0M152.4 278.7h0M164.3 273.3h0M153.0 271.1h0M153.0 280.8h0M161.2 279.9h0M144.7 282.0h0M149.1 279.8h0M139.0 278.4h0M150.1 283.1h0M156.7 281.8h0M153.7 285.9h0M153.6 285.6h0M150.3 271.4h0M159.9 272.4h0M152.7 269.1h0M152.4 276.6h0M150.3 278.5h0M140.5 283.2h0M153.4 283.4h0M151.5 272.8h0M151.9 277.6h0M157.9 272.5h0M149.8 278.8h0M158.1 265.8h0M147.0 273.7h0M166.9 279.3h0M160.2 276.9h0M148.4 282.7h0M150.8 272.3h0M165.6 265.8h0M163.8 274.7h0M148.7 277.8h0M149.2 277.7h0M149.1 270.6h0M171.3 269.4h0M160.9 274.0h0M157.6 268.4h0M144.3 260.8h0M161.5 276.4h0M147.7 281.4h0M161.5 289.3h0M157.0 279.8h0M159.3 278.6h0M153.9 273.6h0M160.5 280.7h0M145.7 271.6h0M156.1 284.6h0M151.4 267.5h0M160.6 278.2h0M167.4 273.9h0M166.6 269.3h0M160.6 275.0h0M146.4 275.9h0M164.4 279.3h0M153.2 281.6h0M161.4 278.8h0M156.7 276.7h0M149.1 276.4h0M154.6 271.8h0M152.8 276.8h0M157.0 280.5h0M147.4 275.1h0M155.9 273.4h0M156.2 272.8h0M162.0 272.8h0M147.9 280.9h0M163.4 263.8h0M153.8 276.1h0M162.9 281.6h0M151.9 268.1h0M160.0 279.7h0M157.7 275.4h0M151.8 288.8h0M145.1 269.8h0M161.2 275.7h0M159.3 276.5h0M167.1 280.3h0M152.0 281.3h0M145.1 268.8h0M161.9 271.8h0M140.5 278.5h0M150.7 279.1h0M153.4 271.9h0M150.7 280.4h0M148.6 277.5h0M148.6 279.2h0M166.8 276.0h0M162.3 276.3h0M148.0 275.5h0M155.5 277.7h0M151.3 279.5h0M149.9 276.9h0M153.3 270.0h0M161.1 274.5h0M155.2 275.3h0M139.4 271.6h0M149.8 281.8h0M151.4 279.4h0M147.0 272.9h0M152.6 281.5h0M143.6 277.1h0M157.3 275.7h0M155.3 279.5h0M155.4 270.3h0M157.9 270.9h0M153.9 283.3h0M172.0 279.4h0M156.5 271.2h0M151.3 284.9h0M155.3 268.3h0M165.4 276.3h0M163.6 275.8h0M139.7 275.0h0M153.4 275.0h0M163.7 270.2h0M153.8 275.5h0M152.9 270.6h0M143.9 264.6h0M156.5 274.2h0M154.8 270.1h0M153.5 270.8h0M148.3 278.7h0M159.3 277.6h0M153.9 273.8h0M164.9 279.8h0M149.3 271.1h0M157.3 276.7h0M151.0 288.1h0M140.1 274.4h0M157.2 280.2h0M142.0 276.0h0M165.4 280.6h0M152.9 276.2h0M149.2 278.8h0M145.6 267.1h0M144.7 278.0h0M147.1 282.9h0M163.9 278.8h0M160.0 280.3h0M157.2 279.5h0M158.4 278.8h0M147.2 273.8h0M148.9 281.1h0M157.0 271.0h0M147.5 274.1h0M160.1 273.9h0M152.3 272.6h0M155.4 283.7h0M149.7 274.8h0M166.3 276.8h0M148.3 282.6h0M146.9 280.1h0M137.1 274.2h0M159.9 271.4h0M149.9 276.9h0M154.1 273.3h0M152.0 285.4h0M164.6 275.2h0M146.5 274.6h0M153.2 278.4h0M164.4 270.8h0M155.1 273.3h0M154.7 272.0h0M158.2 280.8h0M151.6 274.6h0M153.9 269.0h0M164.9 266.5h0M151.3 271.8h0M163.8 271.2h0M153.2 285.6h0M153.0 272.0h0M154.7 276.6h0M149.5 275.8h0M153.9 279.5h0M160.4 278.7h0M154.6 279.7h0M154.4 281.6h0M156.7 273.0h0M161.0 266.5h0M147.4 273.0h0M152.4 269.8h0M144.8 268.0h0M154.5 271.7h0M169.6 276.4h0M148.5 283.7h0M156.4 280.8h0M148.6 282.9h0M161.3 272.1h0M148.6 274.9h0M158.8 287.1h0M167.9 280.5h0M152.8 274.3h0M156.7 273.8h0M151.3 275.2h0M160.0 274.1h0M155.8 274.0h0M152.9 274.3h0M163.0 275.0h0M164.1 272.7h0M160.0 267.4h0M151.9 275.9h0M150.3 275.9h0M148.4 276.1h0M150.2 276.5h0M151.6 271.1h0M151.9 276.3h0M146.4 277.9h0M162.4 272.8h0M158.8 277.9h0M150.7 283.2h0M169.8 267.1h0M167.8 269.2h0M162.1 264.7h0M162.1 274.7h0M145.4 273.3h0M146.8 272.7h0M156.8 274.2h0M138.0 277.6h0M157.7 275.4h0M163.6 264.3h0M156.2 275.4h0M157.8 268.0h0M145.9 276.6h0M153.2 266.6h0M156.9 275.1h0M156.6 261.8h0M156.9 270.6h0M152.3 280.1h0M165.7 274.0h0M155.2 282.2h0M148.6 276.1h0M150.2 271.5h0M157.9 285.4h0M156.7 277.7h0M155.5 281.2h0" stroke="#3a52d0" stroke-width=".7" stroke-linecap="round" fill="none" opacity=".75"/>
<path d="M140.5 276.3h0M140.3 289.1h0M139.8 287.8h0M139.8 292.4h0M140.8 284.8h0M139.3 285.8h0M139.4 273.0h0M140.8 274.5h0M143.9 285.5h0M140.1 285.0h0M133.2 289.6h0M138.3 284.8h0M146.7 272.2h0M138.9 283.0h0M141.1 271.8h0M137.6 289.4h0M138.4 284.2h0M136.4 276.1h0M135.3 282.6h0M143.0 281.7h0M139.3 282.5h0M141.2 279.5h0M141.5 291.9h0M145.8 278.0h0M136.7 291.7h0M142.6 287.9h0M141.6 279.9h0M142.6 287.3h0M143.1 275.1h0M142.7 279.2h0M139.1 283.1h0M139.1 294.0h0M141.5 282.6h0M139.5 282.5h0M139.4 284.4h0M142.3 285.8h0M136.7 279.3h0M140.2 274.4h0M141.0 280.4h0M140.2 283.3h0M138.4 289.8h0M142.7 278.1h0M141.2 285.3h0M138.0 279.2h0M141.9 266.9h0M136.6 283.0h0M141.6 276.0h0M142.3 293.4h0M140.6 280.9h0M140.2 275.6h0M141.5 282.2h0M142.0 289.1h0M140.1 282.2h0M140.9 290.8h0M136.2 281.1h0M138.4 281.9h0M142.2 281.5h0M142.0 282.2h0M138.2 277.5h0M136.4 282.4h0M139.0 285.8h0M142.6 276.3h0M137.2 284.5h0M137.7 282.3h0M141.6 279.0h0M144.7 276.9h0M141.1 278.9h0M132.5 280.2h0M139.6 284.4h0M139.7 277.1h0M138.7 279.5h0M142.0 279.6h0M143.3 285.9h0M138.1 286.9h0M134.1 281.3h0M137.5 280.6h0M143.0 281.2h0M139.6 288.2h0M138.0 276.6h0M142.6 284.6h0M136.3 282.0h0M142.1 280.3h0M139.0 281.9h0M140.6 277.3h0M142.2 272.5h0M139.8 293.0h0M137.3 281.0h0M134.1 276.6h0M137.0 281.5h0M138.7 291.3h0M137.6 281.0h0M140.6 284.7h0M142.4 272.5h0M145.8 279.5h0M138.2 272.1h0M138.9 271.4h0M140.5 277.9h0M140.9 276.8h0M140.2 293.4h0M143.1 282.0h0M137.5 289.2h0M135.6 273.4h0M143.4 277.8h0M143.5 284.3h0M145.7 291.0h0M141.5 277.7h0M141.6 288.9h0M140.4 265.2h0M139.0 279.1h0M139.9 279.2h0M143.0 274.1h0M141.2 270.2h0M134.3 275.6h0M138.1 276.2h0M138.2 284.5h0M141.5 281.6h0M140.5 277.3h0M137.4 273.3h0M138.9 274.9h0M139.2 285.1h0M141.4 288.4h0M137.6 269.0h0M137.1 292.1h0M141.8 278.7h0M143.5 278.8h0M144.4 278.9h0M138.9 285.0h0M137.0 280.2h0M145.1 283.5h0M137.1 279.7h0M139.9 276.9h0M141.1 288.0h0M140.1 286.0h0M140.8 281.9h0M138.0 286.4h0M143.5 278.6h0M137.7 284.0h0M140.3 287.3h0M141.3 280.4h0M136.4 284.5h0M140.3 274.1h0M136.1 271.0h0M141.6 278.7h0M131.3 276.3h0M138.3 280.5h0M140.1 279.2h0M141.9 286.7h0M139.4 289.8h0M139.7 276.3h0M140.4 273.2h0M139.2 275.3h0M138.9 282.2h0M133.6 283.3h0M140.7 279.9h0M141.9 283.0h0M139.0 275.6h0M141.9 285.3h0M136.2 277.1h0M136.9 285.7h0M138.5 274.2h0M143.9 283.6h0M140.6 282.4h0M139.5 281.3h0M142.3 283.5h0M138.8 281.6h0M144.9 278.0h0M136.6 281.7h0M137.0 295.6h0M141.6 284.3h0M140.9 291.9h0M137.3 280.8h0M135.6 287.9h0M139.8 290.8h0M139.3 275.3h0M138.1 285.5h0M137.8 282.5h0M138.1 277.1h0M138.5 290.0h0M137.2 282.8h0M142.1 276.9h0M136.0 289.4h0M144.5 279.7h0M136.8 285.9h0M139.9 276.5h0M139.0 267.8h0M137.8 274.3h0M136.5 284.3h0M140.7 290.4h0M132.9 277.4h0M137.8 288.4h0M142.7 281.7h0M140.2 276.9h0M138.6 278.6h0M133.4 291.5h0M141.9 292.6h0M143.2 283.8h0M142.1 271.7h0M137.3 285.7h0M139.0 272.0h0M139.9 273.9h0M140.0 289.7h0M137.0 278.5h0M141.4 280.9h0M140.4 276.3h0M139.1 267.8h0M139.5 288.1h0M137.0 280.0h0M141.8 287.8h0M143.0 276.1h0M138.9 290.8h0M138.7 282.6h0M137.7 277.3h0M132.1 277.9h0M134.2 275.3h0M137.4 288.5h0M142.0 283.2h0M138.6 273.2h0M141.2 276.4h0M139.6 286.2h0M139.4 280.8h0M137.3 286.8h0M141.3 284.9h0M144.2 271.9h0M140.0 284.5h0M140.8 282.7h0M141.2 272.4h0M139.7 287.4h0M139.8 279.9h0M142.2 271.2h0M141.0 289.4h0M139.3 276.4h0M141.3 278.4h0M137.8 281.9h0M135.6 284.7h0M136.8 277.9h0M141.8 280.8h0M140.6 288.6h0M143.9 292.6h0M138.5 286.1h0M135.6 285.4h0M143.4 276.9h0M141.2 285.6h0M139.5 277.4h0M143.9 273.6h0M140.4 286.3h0M140.6 289.8h0M143.8 283.6h0M144.6 285.1h0M136.7 279.1h0M140.6 282.0h0M135.5 293.8h0M135.8 274.7h0M141.1 282.1h0M144.0 282.2h0M140.9 285.0h0M138.0 273.7h0M138.7 286.6h0M139.2 287.9h0M138.5 285.2h0M140.0 285.7h0" stroke="#3a52d0" stroke-width=".7" stroke-linecap="round" fill="none" opacity=".75"/>
<path d="M149.9 257.2h0M146.0 263.6h0M149.5 259.0h0M155.1 250.5h0M143.1 255.7h0M160.2 249.6h0M141.6 250.0h0M146.7 249.5h0M143.2 259.2h0M141.0 255.9h0M140.3 254.8h0M154.1 243.8h0M150.3 257.4h0M149.4 257.5h0M153.2 248.1h0M148.8 259.9h0M160.3 247.7h0M145.0 247.7h0M149.7 249.5h0M141.9 260.7h0M168.0 243.5h0M163.2 250.4h0M155.4 258.1h0M159.9 254.7h0M143.1 255.6h0M156.2 250.6h0M153.2 256.0h0M151.3 256.1h0M154.7 260.9h0M147.5 253.9h0M132.5 250.7h0M137.5 260.1h0M141.1 251.8h0M154.1 262.0h0M159.7 250.8h0M151.8 262.5h0M143.0 254.6h0M140.0 252.1h0M155.6 256.6h0M146.9 252.6h0" stroke="#3a52d0" stroke-width=".7" stroke-linecap="round" fill="none" opacity=".75"/>
<g transform="translate(151.5 272.7) rotate(-8)" filter="url(#bl)">
<ellipse rx="11.5" ry="5.4" fill="#3346c8" opacity=".55"/>
<ellipse rx="9.66" ry="4.54" fill="#2e8fc4" opacity="1"/>
</g>
<g transform="translate(149.5 271.7) rotate(-8)" filter="url(#bl)">
<ellipse rx="8.06" ry="3.02" fill="#2e8fc4" opacity="1"/>
<ellipse rx="5.95" ry="2.23" fill="#4fb96a" opacity="1"/>
</g>
<g transform="translate(153.6 271.5) rotate(-8)" filter="url(#bl)">
<ellipse rx="1.43" ry=".84" fill="#d8dc3c" opacity="1"/>
</g>
<g transform="translate(139.5 281.7) rotate(4)" filter="url(#bl)">
<ellipse rx="4.4" ry="8.6" fill="#3346c8" opacity=".8"/>
<ellipse rx="3.7" ry="7.22" fill="#2e8fc4" opacity="1"/>
<ellipse rx="2.73" ry="5.33" fill="#4fb96a" opacity="1"/>
<ellipse rx="1.85" ry="3.61" fill="#d8dc3c" opacity="1"/>
<ellipse rx="1.23" ry="2.41" fill="#f39a2c" opacity="1"/>
<ellipse rx=".66" ry="1.29" fill="#e8321e" opacity="1"/>
</g>
<path d="M239.9 287.5h0M222.7 297.0h0M227.8 281.5h0M227.3 278.7h0M234.4 272.9h0M230.6 280.3h0M241.3 285.1h0M233.1 286.0h0M234.1 283.3h0M215.1 285.3h0M228.4 287.2h0M232.4 278.9h0M224.8 275.8h0M232.2 281.8h0M224.9 280.1h0M232.6 278.1h0M229.6 278.5h0M214.2 283.1h0M230.8 287.9h0M238.6 277.7h0M234.1 284.3h0M230.9 288.0h0M235.9 274.1h0M239.7 281.4h0M226.3 277.9h0M229.0 275.1h0M237.2 285.4h0M224.8 288.0h0M231.9 283.1h0M236.4 281.9h0M228.8 285.9h0M219.0 274.6h0M233.6 289.6h0M219.9 282.6h0M226.3 280.7h0M234.2 292.4h0M241.4 288.8h0M234.4 283.5h0M218.8 285.2h0M223.0 275.1h0M231.2 272.1h0M241.5 286.5h0M232.7 285.7h0M231.9 283.0h0M234.8 278.1h0M232.1 283.7h0M235.3 275.2h0M232.0 281.7h0M234.4 286.1h0M231.6 285.6h0M233.2 291.6h0M232.4 286.1h0M224.6 281.2h0M235.2 289.5h0M224.4 282.3h0M228.8 282.9h0M227.5 279.7h0M230.1 283.4h0M236.8 276.9h0M224.5 287.8h0M233.6 281.3h0M223.3 289.5h0M223.8 290.0h0M232.0 281.6h0M229.4 288.0h0M230.5 271.0h0M226.1 268.3h0M232.9 288.7h0M236.9 273.6h0M243.7 294.6h0M229.8 269.4h0M225.0 289.5h0M243.3 279.0h0M219.0 276.1h0M242.4 282.5h0M221.7 268.7h0M234.4 287.9h0M227.5 281.2h0M230.9 280.3h0M227.0 278.7h0M226.8 290.7h0M232.9 289.3h0M241.9 267.4h0M230.0 288.9h0M229.1 278.6h0M232.9 279.0h0M225.2 280.5h0M230.8 282.6h0M236.0 282.7h0M229.0 280.8h0M229.5 277.9h0M220.6 283.8h0M239.5 270.5h0M225.7 285.4h0M226.2 286.0h0M230.1 275.3h0M229.1 279.1h0M233.8 265.7h0M233.0 291.3h0M231.4 284.1h0M227.1 284.8h0M229.5 274.1h0M223.1 267.2h0M233.1 283.7h0M237.2 284.2h0M234.7 273.7h0M218.8 278.8h0M228.4 284.9h0M229.6 281.4h0M230.7 284.2h0M231.7 284.6h0M227.3 281.9h0M221.3 275.2h0M228.7 285.4h0M225.7 273.2h0M236.4 277.0h0M219.7 276.1h0M223.1 266.5h0M228.0 293.7h0M225.8 277.1h0M237.5 283.1h0M229.8 291.5h0M223.1 282.1h0M233.6 283.9h0M223.2 276.4h0M241.5 281.9h0M228.8 289.6h0M219.3 282.2h0M219.5 291.7h0M224.3 283.3h0M224.7 283.4h0M232.4 282.6h0M228.5 284.2h0M228.9 279.2h0M234.4 288.2h0M222.1 275.9h0M225.6 284.5h0M221.7 292.8h0M230.7 283.6h0M235.9 277.6h0M232.8 285.2h0M238.5 275.6h0M239.0 286.5h0M232.0 289.6h0M228.9 281.3h0M235.6 280.2h0M237.2 291.6h0M231.8 283.8h0M226.5 276.5h0M239.4 275.8h0M231.0 284.5h0M224.9 278.1h0M226.1 296.6h0M232.8 291.8h0M243.1 289.3h0M238.7 279.7h0M226.2 292.2h0M239.6 275.9h0M237.6 284.6h0M235.5 289.0h0M242.3 278.5h0M230.6 291.0h0M229.0 286.3h0M230.1 271.5h0M227.1 288.5h0M227.2 272.6h0M227.5 283.4h0M233.6 284.9h0M233.9 275.7h0M226.9 277.6h0M227.9 285.6h0M238.8 281.2h0M237.2 290.0h0M223.5 277.3h0M231.6 273.6h0M242.2 270.4h0M223.0 287.9h0M226.0 287.4h0M224.5 289.7h0M227.0 287.5h0M236.9 272.9h0M225.2 271.2h0M223.8 288.8h0M230.5 288.3h0M239.5 289.6h0M235.1 279.9h0M228.3 284.9h0M236.0 289.9h0M232.5 280.9h0M230.2 293.7h0M232.4 296.0h0M226.3 288.6h0M232.0 287.8h0M226.0 285.0h0M230.3 281.0h0M223.3 273.5h0M228.6 286.4h0M232.3 284.4h0M232.7 273.9h0M237.3 283.3h0M226.1 279.2h0M236.8 284.1h0M220.4 296.7h0M221.6 294.1h0M236.0 276.2h0M238.4 291.1h0M237.2 287.1h0M232.7 284.3h0M227.4 284.7h0M238.6 282.2h0M242.9 272.6h0M230.9 273.1h0M219.9 284.5h0M228.7 279.2h0M224.2 281.3h0M220.7 281.6h0M227.5 274.6h0M233.3 270.6h0M233.4 284.6h0M234.0 283.7h0M235.7 281.2h0M224.1 285.4h0M225.9 280.5h0M231.5 276.8h0M236.8 272.8h0M238.3 282.7h0M241.2 290.2h0M234.9 284.8h0M231.5 273.8h0M227.3 276.7h0M226.4 282.0h0M225.9 283.8h0M229.2 279.8h0M233.2 285.9h0M222.5 280.8h0M248.8 283.0h0M233.6 277.1h0M236.8 293.0h0M234.3 282.0h0M230.9 270.4h0M234.4 280.9h0M233.2 285.3h0M232.1 296.7h0M236.4 278.6h0M234.5 287.0h0M231.0 292.1h0M228.5 271.4h0M224.2 285.4h0M224.7 283.9h0M221.4 285.4h0M229.2 276.9h0M227.3 281.1h0M236.4 284.4h0M229.5 283.9h0M236.2 285.9h0M241.6 278.1h0M235.8 283.7h0M226.9 286.8h0M235.9 289.3h0M233.7 277.1h0M231.8 285.4h0M241.0 283.7h0M231.7 293.1h0M231.2 279.9h0M232.5 287.9h0M231.7 271.9h0M228.3 289.4h0M226.2 288.5h0M231.8 277.7h0M235.7 268.8h0M217.9 272.7h0M234.0 281.1h0M234.6 282.4h0M231.6 279.4h0M228.3 289.3h0M235.5 274.2h0M234.3 296.1h0M235.4 276.7h0M235.3 284.3h0M228.8 289.2h0M238.3 279.5h0M231.5 280.3h0M230.8 293.3h0M228.1 286.6h0M232.3 283.4h0M223.9 286.9h0M224.0 287.6h0M230.2 283.8h0M227.9 277.3h0M224.5 282.9h0M230.2 284.7h0M229.0 287.9h0M231.6 283.7h0M229.3 282.8h0M234.7 278.3h0M223.4 285.4h0M233.3 283.1h0M232.2 274.4h0M224.8 282.9h0M230.6 274.8h0M233.6 270.5h0M238.3 276.0h0M227.3 276.1h0M222.5 280.8h0M219.2 280.7h0M231.8 280.9h0M230.6 273.5h0M219.5 274.2h0M237.2 284.9h0M219.8 293.9h0M234.6 289.9h0M236.9 291.3h0M220.4 283.3h0M226.0 295.4h0M234.9 282.8h0M229.2 269.1h0M231.3 277.4h0M239.0 287.7h0M230.2 280.3h0M237.5 279.4h0M237.4 284.2h0M229.0 285.2h0M241.4 272.4h0M235.3 287.6h0M229.1 292.4h0M234.8 286.4h0M224.6 286.6h0M222.8 286.1h0M243.9 277.0h0M240.2 275.8h0M231.1 287.5h0M221.9 285.0h0M226.0 278.8h0M235.9 282.3h0M233.2 282.9h0M233.0 292.9h0M231.5 281.0h0M230.9 287.5h0M233.5 268.9h0M230.3 285.7h0M246.7 279.0h0M229.0 275.3h0M230.3 271.3h0M225.6 282.3h0M221.5 281.1h0M226.5 291.0h0M240.5 296.6h0M231.6 287.2h0M245.2 278.6h0M241.1 276.9h0M237.2 272.6h0M228.3 281.5h0M229.2 270.1h0M231.5 280.9h0M239.8 286.6h0M217.4 283.7h0M237.2 282.2h0M226.4 273.9h0M228.4 276.7h0M229.0 280.7h0M238.5 276.4h0M232.7 275.6h0M232.4 289.5h0M227.2 275.1h0M230.9 283.0h0M226.8 285.6h0M231.1 287.2h0M222.3 287.7h0M238.5 277.4h0M242.9 284.3h0M222.7 275.8h0M226.1 278.6h0M229.2 284.8h0M229.4 280.7h0M224.8 269.4h0M226.3 274.8h0M236.1 267.0h0M237.7 264.1h0M229.5 282.9h0M223.8 276.4h0M236.1 275.7h0M230.1 283.1h0M234.7 274.5h0M238.8 281.8h0M236.9 273.5h0M237.4 282.2h0M235.5 278.6h0M236.0 283.0h0M219.0 299.2h0M226.6 285.8h0M229.5 279.8h0M228.4 288.8h0M236.4 288.9h0M220.6 288.1h0M221.4 298.0h0M233.1 290.3h0M230.7 283.7h0M226.3 295.9h0M228.6 290.0h0M225.7 281.8h0M228.3 282.1h0M227.5 287.0h0M234.7 272.2h0M228.0 274.1h0M237.3 274.5h0M233.6 283.8h0M230.3 270.0h0M241.2 281.8h0M234.9 289.7h0M224.5 276.3h0M241.3 295.6h0M225.6 282.3h0M236.6 281.8h0M238.8 286.8h0M230.2 287.2h0M227.8 291.1h0M226.6 291.4h0M246.2 271.3h0M241.2 273.0h0M230.3 294.9h0M237.4 287.3h0M233.0 284.0h0M233.6 281.5h0M228.9 274.7h0M241.5 282.7h0M242.5 287.7h0M233.5 275.6h0M229.1 283.1h0M230.0 280.8h0M216.6 280.1h0M229.2 279.6h0M228.8 272.5h0M225.4 292.6h0M224.9 279.4h0M225.6 281.7h0M227.5 296.1h0M224.3 291.8h0M227.8 285.8h0M246.4 282.7h0M230.7 263.9h0M228.6 281.3h0M231.5 284.4h0M223.9 276.6h0M235.5 281.1h0M231.0 287.2h0M231.4 283.9h0M224.0 282.9h0M220.2 294.6h0M226.0 294.0h0M227.7 282.0h0M238.9 284.3h0M231.9 281.1h0M229.2 278.0h0M226.0 271.1h0M229.8 277.7h0M239.5 296.9h0M242.6 275.0h0M228.6 282.1h0M221.3 293.2h0M235.2 284.9h0M242.8 286.2h0M228.9 284.8h0M227.9 286.1h0M222.7 286.3h0M229.0 280.1h0M228.4 282.1h0M220.0 286.9h0M229.6 294.8h0M230.7 289.2h0M230.6 282.1h0M223.2 279.9h0M227.2 266.9h0M229.0 278.2h0M232.7 289.8h0M229.0 290.8h0M238.6 288.0h0M228.8 283.7h0M241.0 293.2h0M238.0 271.5h0M216.7 294.8h0M235.3 291.9h0M234.5 281.0h0M233.7 282.7h0M240.2 288.6h0M225.0 278.0h0M237.2 288.8h0M232.7 285.3h0M223.1 277.3h0M234.1 270.9h0M233.9 286.9h0M235.0 288.6h0M242.8 285.0h0M225.8 271.7h0M216.9 283.7h0M236.4 271.9h0M232.0 278.3h0M229.3 284.5h0M231.1 275.2h0M235.6 282.1h0M219.2 288.2h0M240.7 280.4h0M240.9 272.5h0M229.3 291.7h0M239.1 286.5h0M237.5 280.3h0M235.4 289.4h0M236.8 285.5h0M236.1 285.9h0M234.7 272.7h0M234.7 276.8h0M228.6 283.4h0M232.5 274.3h0M227.6 284.6h0M228.3 283.2h0M232.3 284.4h0M227.5 284.2h0M234.5 274.6h0M235.8 276.4h0M233.2 287.1h0M234.9 275.2h0M225.2 275.2h0M234.5 283.9h0M219.6 287.9h0M238.3 279.5h0M230.4 284.6h0M224.6 280.2h0M234.3 280.7h0M230.8 283.7h0M241.6 284.7h0M233.0 279.8h0M238.6 283.4h0M230.7 291.7h0M239.2 276.8h0M228.9 291.5h0M227.9 293.4h0M229.9 295.9h0M224.8 270.1h0M221.8 296.1h0M226.3 280.1h0M227.3 278.1h0M231.8 283.8h0M227.0 279.5h0M239.2 289.3h0M237.0 291.2h0M229.7 288.8h0M241.1 277.5h0M239.3 266.7h0M219.0 273.2h0M224.6 276.5h0M227.8 288.4h0M226.3 280.5h0M222.7 272.3h0M229.7 278.0h0M236.3 283.7h0M219.5 287.7h0M223.3 280.3h0M224.3 277.4h0M227.0 275.0h0M226.2 281.0h0M235.3 287.6h0M241.9 272.1h0M228.3 290.9h0M223.7 281.8h0M235.3 293.1h0M234.3 285.0h0M229.8 287.0h0M231.4 285.1h0M226.7 282.0h0M225.3 275.6h0M225.5 277.3h0M226.6 279.0h0M221.3 284.9h0M232.7 293.1h0M216.1 273.4h0M224.7 277.0h0M231.1 277.2h0M225.9 287.6h0M229.5 272.1h0M236.6 297.6h0M237.7 281.7h0M239.1 282.3h0M228.5 284.5h0M238.7 283.6h0M228.8 273.6h0M231.9 275.7h0M230.1 273.6h0M225.3 276.4h0M226.5 275.3h0M238.3 287.9h0M228.6 275.9h0M237.5 281.2h0M234.2 289.4h0M228.2 285.7h0M233.5 279.9h0M229.6 278.7h0M209.6 280.2h0M240.9 289.5h0M247.6 283.3h0M236.2 278.7h0M226.0 277.0h0M233.5 287.9h0M218.8 287.4h0M236.3 288.0h0M222.8 284.1h0M232.7 274.0h0M223.6 297.3h0M226.5 279.5h0M218.6 278.7h0M239.1 285.3h0M225.4 283.0h0M232.9 286.6h0M224.5 285.2h0M226.5 279.5h0M225.4 277.5h0M233.7 271.2h0M231.9 300.7h0M225.1 280.9h0M230.2 293.0h0M221.8 286.5h0M230.0 295.7h0M229.4 295.9h0M224.7 285.1h0M223.8 278.8h0M222.9 280.1h0M240.2 279.2h0M245.9 293.3h0M232.5 282.8h0M232.6 277.8h0M234.3 283.4h0M218.6 283.0h0M234.2 283.1h0M232.5 282.8h0M227.6 289.6h0M239.3 280.7h0M235.6 275.6h0M238.3 277.3h0M230.9 289.0h0M227.5 283.0h0M236.8 279.1h0M232.7 289.9h0M232.2 277.6h0M228.2 281.1h0M230.7 286.8h0M221.0 282.3h0M231.8 292.6h0M221.6 276.9h0M236.1 282.4h0M237.3 282.4h0M226.6 282.3h0M238.2 287.4h0M231.8 283.7h0M237.2 286.8h0M232.1 287.5h0M231.2 275.5h0M236.1 290.6h0M239.1 282.3h0M223.2 285.4h0M227.0 270.6h0M231.5 277.7h0M231.0 279.6h0M235.6 288.3h0M233.7 290.4h0M227.4 298.1h0M220.1 287.5h0M236.9 280.1h0M231.3 275.0h0M227.9 284.6h0M222.9 270.1h0M228.4 277.3h0M224.8 281.6h0M222.2 289.8h0M237.6 282.9h0M227.0 282.3h0M230.0 277.6h0M226.7 285.4h0M225.1 278.6h0M227.9 276.2h0M232.1 274.4h0M236.2 287.3h0M230.4 288.2h0M237.2 280.2h0M230.2 278.8h0M228.4 280.2h0M231.1 286.0h0M243.9 284.8h0M236.3 281.2h0M240.6 283.5h0M229.5 280.9h0M230.7 280.1h0M231.6 294.0h0M231.0 277.8h0M219.4 282.0h0M224.5 277.7h0M231.4 284.9h0M233.4 290.0h0M224.8 278.4h0M225.3 276.2h0M226.6 277.2h0M234.7 275.8h0M243.7 269.4h0M235.5 272.6h0M227.6 274.8h0M230.5 285.7h0M228.0 278.4h0M224.5 277.2h0M225.4 278.2h0M230.8 288.2h0M226.3 269.6h0M228.2 287.8h0M224.3 284.9h0M223.5 274.4h0M231.8 270.7h0M228.0 265.2h0M224.1 284.9h0M227.4 277.9h0M233.6 276.6h0M223.5 279.8h0M229.9 283.3h0M229.3 290.0h0M233.7 281.5h0M244.1 272.4h0M231.8 277.4h0M243.2 284.2h0M235.2 284.9h0M239.1 278.9h0M235.7 271.4h0M233.7 289.6h0M235.5 286.2h0M219.1 282.9h0M228.3 292.1h0M233.5 286.5h0M238.1 285.7h0M222.1 277.2h0M217.7 290.1h0M229.1 274.2h0M233.2 279.6h0M228.4 290.7h0M218.0 273.0h0M229.7 280.8h0M237.0 280.1h0M233.4 293.4h0M222.1 273.3h0M226.0 281.0h0M223.7 284.0h0M225.6 289.6h0M233.3 286.7h0M231.6 283.6h0M220.5 280.9h0M219.6 290.8h0M223.4 276.5h0M227.5 296.4h0M223.6 293.0h0M231.1 298.9h0M228.9 278.8h0M230.1 278.8h0M226.0 286.8h0M227.5 288.0h0M233.8 288.2h0M239.7 289.1h0M224.6 290.9h0M215.4 290.4h0M237.5 275.5h0M237.9 270.3h0M236.3 279.7h0M228.5 281.2h0M226.9 287.0h0M230.0 282.0h0M230.6 280.0h0M224.2 286.1h0M235.3 274.8h0M236.0 290.4h0M231.3 291.7h0M217.2 291.1h0M225.8 284.3h0M224.8 298.0h0M227.8 286.6h0M221.5 280.5h0M232.9 281.6h0M225.7 291.9h0M221.0 282.9h0M229.3 280.0h0M234.2 283.9h0M229.2 286.5h0M229.8 285.8h0M238.0 283.9h0M230.7 278.7h0M238.8 288.5h0M233.5 284.3h0M225.3 282.9h0M232.1 274.9h0M224.6 281.7h0M241.8 284.7h0M221.6 290.5h0M235.7 286.9h0M227.0 281.7h0M243.5 289.6h0M257.9 270.7h0M220.8 279.6h0M224.8 278.1h0M234.7 290.9h0M221.7 286.1h0M235.5 284.0h0M238.5 289.9h0M225.5 283.3h0M232.0 274.8h0M228.9 289.0h0M232.7 282.6h0M245.9 286.5h0M236.1 276.9h0M237.7 279.6h0M229.3 279.8h0M222.7 286.1h0M222.9 287.8h0M225.5 290.6h0M232.4 290.0h0M223.7 286.1h0M234.8 284.3h0M229.7 278.7h0M210.7 285.7h0M222.7 275.8h0M232.6 265.4h0M225.8 286.9h0M230.5 281.1h0M225.7 283.6h0M221.1 278.9h0M235.2 276.6h0M229.6 280.1h0M222.8 269.8h0M225.1 277.5h0M224.1 282.1h0M232.3 286.5h0M232.6 275.0h0M238.8 284.8h0M234.9 274.2h0M237.0 297.3h0M233.6 289.8h0M226.9 283.6h0M230.1 286.8h0M231.4 284.3h0M224.9 274.9h0M230.3 298.8h0M224.4 286.0h0M238.6 278.4h0M220.5 284.9h0M230.2 276.9h0M239.6 287.1h0M230.4 273.7h0M238.1 289.9h0M235.5 293.1h0M224.1 276.1h0M235.8 285.5h0M230.2 279.4h0M236.7 284.2h0M235.8 275.2h0M230.8 285.3h0M236.7 271.8h0M229.2 278.3h0M230.5 281.7h0M233.1 287.7h0M232.1 282.1h0M235.9 291.7h0M230.9 277.4h0M241.3 288.6h0M243.8 279.9h0M228.1 281.5h0M229.9 273.1h0M235.6 272.9h0M213.5 282.3h0M224.0 284.3h0M223.4 273.8h0M217.9 274.4h0M228.7 296.5h0M234.6 278.4h0M238.8 284.2h0M219.0 271.2h0M221.2 278.8h0M230.7 278.6h0M227.2 276.5h0M231.5 287.8h0M223.9 290.8h0M225.3 280.7h0M240.8 286.6h0M230.8 270.0h0M231.0 280.3h0M229.2 289.8h0M227.1 294.4h0M230.8 283.7h0M228.6 283.2h0M238.8 284.2h0M224.4 277.6h0M237.7 286.2h0M225.3 281.8h0M231.1 286.4h0M224.6 283.3h0M222.5 277.5h0M229.1 291.5h0M230.0 293.5h0M232.9 291.1h0M229.5 270.8h0M217.1 279.8h0M241.5 281.6h0M227.4 286.6h0M228.2 280.1h0M231.7 285.2h0M226.9 277.3h0M240.4 276.9h0M225.0 281.4h0M229.6 284.6h0M240.1 291.2h0M230.3 283.4h0M236.5 281.8h0M231.6 275.4h0M233.0 282.1h0M221.7 284.2h0M244.2 284.9h0M225.6 291.0h0M232.7 283.9h0M239.9 288.6h0M243.4 277.4h0M227.8 282.0h0M231.8 274.9h0M232.3 273.4h0M227.0 281.0h0M232.1 284.7h0M225.8 284.9h0M232.4 282.0h0M230.7 279.3h0M241.7 291.6h0M232.1 291.3h0M225.1 279.2h0M228.5 285.5h0M228.5 276.6h0M221.3 275.4h0M236.3 285.8h0M221.8 294.8h0M227.5 279.6h0M229.5 282.9h0M228.2 282.4h0M235.3 288.6h0M226.3 281.5h0M225.9 279.7h0M229.9 280.5h0M234.2 276.6h0M232.9 287.4h0M228.6 280.5h0M234.2 280.2h0M228.5 284.0h0M215.3 287.2h0M232.0 286.4h0M222.0 279.9h0M233.2 286.2h0M226.9 279.6h0M239.9 284.4h0M238.1 273.8h0M233.1 279.0h0M227.4 290.9h0M224.0 276.4h0M226.2 281.0h0M230.7 285.4h0M238.2 285.7h0M241.4 289.6h0M233.9 281.7h0M239.0 280.6h0M236.6 282.8h0M227.1 286.9h0M234.7 284.6h0M237.2 283.4h0M226.0 283.2h0M242.0 276.3h0M219.3 282.6h0M224.2 291.4h0M231.5 276.5h0M230.1 276.5h0M233.5 288.7h0M238.0 289.5h0M230.4 290.3h0M233.5 274.3h0M238.9 276.8h0M226.9 272.5h0M225.4 268.8h0M222.9 277.2h0M223.2 280.1h0M235.4 280.6h0M233.2 289.8h0M226.8 292.3h0M230.2 282.3h0M232.7 291.5h0M223.1 288.6h0M227.5 283.2h0M224.3 266.1h0M237.7 287.6h0M224.0 276.7h0M223.1 282.3h0M243.0 281.7h0M220.1 287.4h0M224.9 272.2h0M232.9 282.6h0M231.6 287.3h0M236.4 269.0h0M231.6 290.1h0M238.1 275.8h0M219.3 275.3h0M232.9 281.3h0M235.5 281.4h0M222.7 275.3h0M229.1 288.0h0M239.6 276.1h0M233.2 282.2h0M223.4 274.9h0M240.1 279.7h0M230.0 285.6h0M232.7 287.1h0M225.6 280.1h0M232.1 284.9h0M226.0 271.5h0M235.8 288.1h0M236.3 281.8h0M219.5 280.0h0M243.0 284.6h0M232.0 272.0h0M226.5 289.0h0M232.6 281.7h0M238.2 287.3h0M233.9 281.5h0M233.1 289.4h0M232.4 274.4h0M229.4 280.8h0M233.1 290.9h0M230.1 279.7h0M235.0 285.7h0M225.7 285.6h0M231.7 284.9h0M221.1 269.7h0M221.2 271.6h0M236.5 289.1h0M222.6 292.2h0M223.5 277.3h0M243.8 274.2h0M234.8 288.0h0M237.3 286.9h0M232.1 292.7h0M230.0 283.2h0M233.0 280.4h0M229.6 290.5h0M240.5 286.6h0M229.8 279.4h0M228.1 280.2h0M227.8 282.0h0M229.2 289.7h0M221.8 279.9h0M235.5 280.0h0M228.0 286.3h0M230.0 276.3h0M231.5 286.8h0M220.1 288.6h0M220.0 287.2h0M222.4 284.2h0M230.3 289.4h0M230.1 279.9h0M226.0 284.0h0M229.1 288.4h0M233.1 290.8h0M234.9 283.8h0M230.2 286.8h0M235.3 273.9h0M233.0 280.3h0M232.5 287.9h0M218.8 281.9h0M236.7 271.3h0M232.0 282.8h0M227.1 288.6h0M236.3 282.8h0M239.3 292.3h0M231.8 288.2h0M236.0 294.0h0M235.6 287.2h0M231.4 287.5h0M240.3 282.2h0M230.0 276.4h0M246.4 280.2h0M227.6 279.0h0M237.9 285.1h0M218.2 283.7h0M241.9 282.5h0M229.2 281.4h0M234.6 298.7h0M233.4 272.2h0M229.8 281.4h0M235.3 280.5h0M231.5 274.5h0M222.9 283.2h0M240.8 276.5h0M220.9 290.6h0M233.1 288.1h0M229.7 284.5h0M230.2 282.9h0M241.7 280.2h0M228.3 282.9h0" stroke="#3a52d0" stroke-width=".7" stroke-linecap="round" fill="none" opacity=".75"/>
<path d="M235.7 266.8h0M235.7 261.0h0M233.4 261.7h0M237.5 262.2h0M232.6 256.5h0M230.3 266.7h0M235.9 266.6h0M240.3 263.9h0M234.7 258.3h0M237.8 250.5h0M239.1 265.9h0M238.0 258.0h0M236.9 252.1h0M234.0 257.3h0M234.4 266.7h0M237.1 248.5h0M238.6 261.5h0M235.6 256.1h0M240.6 260.4h0M236.7 252.1h0M234.8 263.3h0M236.4 257.3h0M235.4 252.1h0M230.7 261.7h0M232.9 252.2h0M236.8 263.4h0M235.3 264.2h0M236.2 245.2h0M239.6 254.4h0M239.5 258.0h0M235.9 257.1h0M233.9 262.0h0M239.7 265.1h0M234.9 261.5h0M238.4 261.8h0M233.2 268.5h0M234.5 255.5h0M236.4 260.3h0M234.9 253.4h0M233.4 259.3h0M231.9 264.3h0M237.5 260.2h0M236.5 255.3h0M234.8 263.3h0M234.9 266.4h0M238.3 262.3h0M235.6 255.1h0M235.7 254.9h0M235.3 257.6h0M234.8 264.4h0M234.1 255.9h0M238.7 260.4h0M237.2 256.4h0M236.8 265.2h0M236.1 261.2h0M238.8 261.9h0M238.8 253.9h0M232.2 254.2h0M237.0 256.2h0M231.6 267.4h0M238.9 256.8h0M234.6 256.1h0M237.7 261.3h0M236.4 265.4h0M234.3 253.8h0M236.1 259.0h0M236.3 261.1h0M232.7 266.4h0M232.1 260.7h0M236.8 262.9h0M236.6 255.5h0M235.6 253.1h0M235.7 258.2h0M231.9 269.1h0M234.7 261.7h0M238.9 259.1h0M235.2 254.2h0M234.4 256.0h0M235.7 262.8h0M236.5 266.0h0M236.9 260.3h0M229.3 258.5h0M236.6 252.5h0M235.9 256.0h0M235.6 259.0h0M235.4 259.0h0M236.8 260.6h0M234.6 263.3h0M236.2 260.9h0M239.9 266.7h0" stroke="#3a52d0" stroke-width=".7" stroke-linecap="round" fill="none" opacity=".75"/>
<path d="M246.4 254.8h0M234.1 259.1h0M231.9 255.4h0M237.0 263.1h0M246.6 253.1h0M234.4 251.8h0M229.3 242.1h0M246.0 246.7h0M231.9 245.6h0M228.8 250.1h0M216.5 250.0h0M229.6 255.5h0M217.6 260.0h0M229.0 249.4h0M241.8 252.0h0M232.8 265.3h0M231.6 255.6h0M237.9 253.6h0M231.6 255.3h0M228.5 260.7h0M233.1 264.7h0M233.9 247.8h0M233.9 254.5h0M229.4 262.0h0M234.0 246.6h0" stroke="#3a52d0" stroke-width=".7" stroke-linecap="round" fill="none" opacity=".75"/>
<g transform="translate(228.5 280.9) rotate(0)" filter="url(#bl)">
<ellipse rx="9.24" ry="7.06" fill="#2e8fc4" opacity="1"/>
<ellipse rx="6.82" ry="5.21" fill="#4fb96a" opacity="1"/>
</g>
<g transform="translate(235.4 278.9) rotate(0)" filter="url(#bl)">
<ellipse rx="1.98" ry="3.1" fill="#4fb96a" opacity="1"/>
<ellipse rx="1.34" ry="2.1" fill="#d8dc3c" opacity="1"/>
</g>
<g transform="translate(219.7 279.5) rotate(0)" filter="url(#bl)">
<ellipse rx="3.02" ry="8.82" fill="#2e8fc4" opacity="1"/>
<ellipse rx="2.23" ry="6.51" fill="#4fb96a" opacity="1"/>
<ellipse rx="1.51" ry="4.41" fill="#d8dc3c" opacity="1"/>
<ellipse rx="1.01" ry="2.94" fill="#f39a2c" opacity="1"/>
<ellipse rx=".54" ry="1.57" fill="#e8321e" opacity="1"/>
</g>
<path d="M302.5 302.5C303.1 301.48 304.73 300.99 306 296.5C307.27 292.01 308.73 282.97 310 276.1C311.27 269.23 312.31 262.42 313.5 256.1C314.69 249.78 315.96 238.9 317 238.9C318.04 238.9 318.75 248.08 319.6 256.1C320.45 264.12 321.17 278.72 322 286.1C322.83 293.48 323.14 296.88 324.5 299.5C325.86 302.12 327.37 300.99 330 301.5C332.63 302.01 338.3 302.33 340 302.5Z" fill="#858585" stroke="#000" stroke-width=".8" stroke-linejoin="round"/>
<rect x="42.2" y="234.1" width="69.1" height="68.4" fill="none" stroke="#000" stroke-width="1.1" />
<rect x="121.6" y="234.1" width="69.1" height="68.4" fill="none" stroke="#000" stroke-width="1.1" />
<rect x="201.7" y="234.1" width="69.1" height="68.4" fill="none" stroke="#000" stroke-width="1.1" />
<rect x="282.3" y="234.1" width="69.8" height="68.4" fill="none" stroke="#000" stroke-width="1.1" />
<path d="M129.3 236.2H168.7V259.1L129.3 269.1Z" fill="none" stroke="#000" stroke-width=".9"/>
<text x="130.5" y="243.3" font-size="7.9" >0.93%</text>
<rect x="224.6" y="246" width="22.8" height="22.6" fill="none" stroke="#000" stroke-width=".9" />
<path d="M247.4 251.5L274 251.5" stroke="#000" stroke-width=".9" />
<path d="M281 251.5L271.8 248.1L274.2 251.5L271.8 254.9Z" fill="#000"/>
<text x="327.2" y="266.3" font-size="7.9" >2.39%</text>
<path d="M325.4 272.5L352 272.5" stroke="#000" stroke-width=".8" />
<path d="M325.5 269.2L325.5 276.4" stroke="#000" stroke-width=".8" />
<text font-size="8.4" text-anchor="middle" transform="translate(38.9 268.6) rotate(-90)" >Norm. cell count</text>
<text font-size="7.8" text-anchor="middle" transform="translate(119.2 267.3) rotate(-90)" >&#947;H2AX/Alexa-647</text>
<text font-size="8.3" text-anchor="middle" transform="translate(199.4 267.3) rotate(-90)" >MPM2/Alexa-488</text>
<path d="M121.6 298.5L120.2 298.5" stroke="#000" stroke-width=".6" />
<text x="60.3" y="314.7" font-size="8.8" text-anchor="middle" >2n</text>
<text x="76.1" y="314.7" font-size="8.8" text-anchor="middle" >4n</text>
<path d="M60.5 302.5L60.5 304.1" stroke="#000" stroke-width=".6" />
<path d="M76.5 302.5L76.5 304.1" stroke="#000" stroke-width=".6" />
<text x="142.2" y="314.7" font-size="8.8" text-anchor="middle" >2n</text>
<text x="157.7" y="314.7" font-size="8.8" text-anchor="middle" >4n</text>
<path d="M142.5 302.5L142.5 304.1" stroke="#000" stroke-width=".6" />
<path d="M157.5 302.5L157.5 304.1" stroke="#000" stroke-width=".6" />
<text x="225.6" y="314.7" font-size="8.8" text-anchor="middle" >2n</text>
<text x="241.4" y="314.7" font-size="8.8" text-anchor="middle" >4n</text>
<path d="M225.5 302.5L225.5 304.1" stroke="#000" stroke-width=".6" />
<path d="M241.5 302.5L241.5 304.1" stroke="#000" stroke-width=".6" />
<text x="279.5" y="311.1" font-size="9.55" >&#947;H2AX/Alexa-647</text>
<path d="M42 331.5L352.4 331.5" stroke="#000" stroke-width=".95" />
<text x="189.5" y="328" font-size="9.5" text-anchor="middle" >RPE1 <tspan font-style="italic">TP53</tspan><tspan font-size="5.5" dy="-3.2">KO</tspan><tspan dy="3.2">&#8203;</tspan> nocodazole</text>
<rect x="42.2" y="336.6" width="69.1" height="68.4" fill="#fff" />
<rect x="121.6" y="336.6" width="69.1" height="68.4" fill="#fff" />
<rect x="201.7" y="336.6" width="69.1" height="68.4" fill="#fff" />
<rect x="282.3" y="336.6" width="69.8" height="68.4" fill="#fff" />
<path d="M57 405C57.77 404.8 59.97 403.97 61.5 403.8C63.03 403.63 64.22 405 66 404C67.78 402.16 70.22 399.36 72 393C73.78 386.64 75.33 374.95 76.5 366.6C77.67 358.25 78.08 343.9 78.9 343.9C79.72 343.9 80.43 357.06 81.3 366.6C82.17 376.14 82.69 393.47 84 400C85.31 405 88.15 404.15 89 405Z" fill="#858585" stroke="#000" stroke-width=".8" stroke-linejoin="round"/>
<path d="M167.5 375.4h0M148.6 374.2h0M159.6 369.3h0M152.6 365.1h0M158.5 372.9h0M165.0 377.9h0M158.4 372.4h0M162.2 367.7h0M158.5 379.2h0M153.0 368.9h0M163.1 387.5h0M159.1 387.6h0M159.5 375.0h0M155.0 368.6h0M161.9 372.7h0M153.8 378.5h0M159.6 371.6h0M158.2 375.2h0M157.8 375.3h0M154.9 361.1h0M154.0 383.6h0M155.4 377.3h0M160.2 370.0h0M157.4 374.5h0M159.0 379.9h0M157.5 374.9h0M162.0 376.9h0M149.4 383.9h0M159.4 372.5h0M156.8 370.3h0M157.8 367.0h0M162.3 379.1h0M151.9 379.3h0M149.5 372.9h0M151.9 380.4h0M160.7 367.8h0M158.0 379.3h0M155.3 391.2h0M148.9 384.4h0M164.9 374.0h0M151.2 383.6h0M144.2 375.9h0M149.6 376.0h0M154.1 368.1h0M159.9 383.3h0M149.9 380.2h0M157.5 371.9h0M154.3 379.6h0M162.9 374.4h0M144.2 381.1h0M159.1 364.1h0M154.3 376.0h0M155.5 378.0h0M152.4 380.1h0M142.7 378.3h0M153.9 375.3h0M160.4 384.5h0M151.7 375.5h0M151.7 376.4h0M153.9 368.6h0M162.8 378.3h0M157.0 384.3h0M148.4 378.5h0M165.3 373.8h0M152.4 371.1h0M163.4 382.7h0M158.7 381.8h0M153.5 373.7h0M161.3 370.2h0M158.1 375.9h0M152.5 377.3h0M150.3 372.0h0M146.6 368.2h0M152.3 378.3h0M157.0 368.2h0M155.6 390.0h0M157.3 378.5h0M145.9 372.9h0M162.9 367.1h0M152.2 371.3h0M156.2 379.7h0M147.8 380.2h0M143.2 370.3h0M159.0 368.7h0M152.5 372.6h0M165.2 369.6h0M161.9 388.1h0M154.8 370.8h0M156.8 369.6h0M154.9 369.2h0M149.0 365.9h0M161.6 371.6h0M150.7 382.5h0M155.8 373.7h0M152.8 375.8h0M155.1 373.1h0M155.8 380.6h0M155.7 384.0h0M161.9 369.4h0M151.7 367.7h0M152.7 380.2h0M154.9 372.7h0M157.2 362.1h0M158.4 374.6h0M160.2 373.9h0M161.9 382.4h0M155.1 379.3h0M152.0 371.3h0M150.9 374.4h0M150.3 368.9h0M155.5 366.6h0M159.7 369.9h0M155.4 373.8h0M162.0 379.4h0M155.4 372.0h0M161.2 374.8h0M151.2 376.5h0M160.0 375.4h0M156.9 384.9h0M153.9 380.4h0M164.9 386.3h0M150.6 379.0h0M157.4 390.6h0M163.3 382.0h0M162.9 379.2h0M151.2 389.7h0M147.8 380.5h0M160.8 376.9h0M162.0 375.6h0M160.9 377.2h0M152.9 381.9h0M153.7 379.7h0M151.2 377.2h0M159.6 382.9h0M151.0 372.3h0M156.6 369.3h0M159.9 390.5h0M160.3 379.7h0M152.3 379.3h0M159.5 388.0h0M154.9 383.5h0M154.9 374.0h0M154.5 377.5h0M148.9 373.5h0M164.5 364.5h0M161.4 380.6h0M154.5 370.9h0M162.7 373.6h0M158.3 374.4h0M150.9 382.3h0M160.2 369.9h0M162.5 368.0h0M150.0 381.1h0M154.5 375.8h0M165.1 369.0h0M160.0 373.3h0M157.2 374.4h0M152.6 376.1h0M151.9 375.9h0M151.7 374.1h0M157.4 367.0h0M156.4 380.2h0M157.4 381.6h0M151.5 379.4h0M158.4 358.6h0M156.7 381.3h0M156.4 376.0h0M156.0 374.8h0M151.3 371.5h0M145.2 388.8h0M156.6 377.2h0M160.0 379.0h0M156.3 366.0h0M150.5 386.3h0M158.9 379.9h0M151.2 372.8h0M158.1 370.9h0M163.0 371.0h0M154.5 368.6h0M158.6 383.9h0M157.8 375.7h0M154.8 380.8h0M156.7 386.7h0M155.3 373.4h0M154.0 363.9h0M157.9 376.6h0M148.4 368.5h0M151.1 373.8h0M151.4 380.5h0M163.0 371.7h0M156.9 369.2h0M163.6 369.0h0M152.6 375.8h0M152.5 392.5h0M155.7 374.3h0M151.6 375.3h0M153.5 373.2h0M161.9 372.1h0M158.9 371.9h0M162.0 371.0h0M151.7 374.2h0M163.3 373.3h0M152.2 374.8h0M153.0 377.4h0M153.2 377.7h0M161.4 378.8h0M164.6 377.7h0M166.3 383.7h0M155.3 380.6h0M152.9 374.5h0M156.3 370.9h0M158.3 375.2h0M167.1 380.6h0M155.5 371.6h0M153.9 371.5h0M152.8 375.8h0M149.7 373.9h0M159.3 372.2h0M150.9 372.7h0M161.2 371.1h0M164.8 365.5h0M152.6 379.5h0M163.7 374.5h0M148.2 374.0h0M152.0 371.5h0M154.8 372.1h0M156.5 376.7h0M155.2 364.7h0M155.8 359.6h0M157.1 373.1h0M151.9 388.7h0M165.3 384.0h0M157.9 372.7h0M159.1 385.8h0M156.3 374.8h0M153.7 375.4h0M161.1 370.1h0M162.2 376.6h0M168.3 377.0h0M163.3 369.7h0M169.3 376.3h0M156.3 385.1h0M157.6 368.2h0M159.9 379.2h0M156.7 372.9h0M148.4 386.2h0M154.5 378.0h0M154.2 371.4h0M158.2 370.4h0M161.6 365.9h0M159.9 383.1h0M154.5 377.2h0M161.1 373.1h0M155.6 374.7h0M170.9 370.8h0M155.9 373.1h0M154.0 370.1h0M153.4 376.8h0M162.8 385.9h0M150.2 369.8h0M156.6 369.8h0M152.8 374.5h0M153.9 370.7h0M157.9 371.1h0M155.4 377.8h0M160.5 377.1h0M162.4 376.8h0M149.2 384.9h0M171.5 380.9h0M165.1 382.7h0M154.5 379.7h0M153.3 372.4h0M159.7 376.4h0M153.4 367.2h0M161.0 375.9h0M157.6 370.5h0M152.8 375.6h0M147.2 383.3h0M156.9 382.6h0M161.8 372.4h0M159.5 369.0h0M152.1 384.1h0M154.1 371.1h0M159.3 376.1h0M161.9 368.1h0M155.5 369.3h0M157.0 374.2h0M152.0 365.2h0M149.8 381.7h0M154.9 369.2h0M157.8 369.0h0M161.6 381.3h0M157.1 372.4h0M147.4 378.9h0M167.3 377.1h0M154.1 380.8h0M154.9 368.4h0M156.3 379.6h0M147.4 382.3h0M165.3 375.8h0M154.4 367.2h0M159.6 374.2h0M163.1 385.5h0M163.3 377.0h0M147.5 384.1h0M154.4 373.0h0M162.4 378.9h0M151.5 373.9h0M155.4 375.0h0M150.8 385.1h0M156.2 380.0h0M162.3 389.3h0M160.6 371.5h0M154.6 381.3h0M165.4 367.0h0M166.8 372.5h0M155.9 373.3h0M159.9 374.8h0M156.7 370.3h0M164.4 378.2h0M156.7 389.1h0M160.3 384.4h0M155.5 376.9h0M156.1 381.3h0M158.4 365.6h0M159.9 374.6h0M158.2 381.9h0M155.5 379.9h0M157.0 375.4h0M154.3 375.3h0M155.3 380.8h0M145.0 379.5h0M156.5 369.6h0M161.0 375.8h0M159.8 384.3h0M158.0 366.2h0M148.7 375.7h0M150.7 389.2h0M156.4 365.0h0M145.7 372.7h0M144.5 379.0h0M145.0 381.4h0M154.4 382.9h0M150.9 373.2h0M162.6 366.1h0M160.4 384.9h0M151.8 375.1h0M165.5 385.1h0M165.3 375.4h0M155.1 375.0h0M155.0 381.1h0M161.3 379.2h0M153.4 380.9h0M159.5 377.5h0M163.3 373.7h0M157.6 382.8h0M153.1 381.5h0M160.8 385.3h0M163.7 372.5h0M166.2 373.2h0M150.9 374.4h0M155.2 370.6h0M162.1 379.2h0M160.2 367.6h0M166.4 379.0h0M163.0 378.3h0M158.9 380.8h0M157.9 384.6h0M154.4 363.6h0M155.2 376.0h0M159.1 376.7h0M159.2 378.9h0M156.2 379.5h0M159.9 371.4h0M148.0 377.5h0M159.6 382.7h0M162.8 377.9h0M163.1 372.6h0M154.6 384.4h0M150.9 376.0h0M151.6 368.7h0M168.0 365.3h0M166.2 373.4h0M153.2 366.0h0M158.2 380.0h0M160.1 370.6h0M165.5 377.4h0M159.8 379.8h0M160.0 374.2h0M158.9 371.8h0M158.4 370.3h0M149.7 372.5h0M156.3 372.0h0M155.5 372.8h0M157.3 386.9h0M160.1 381.4h0M162.2 381.5h0M159.2 381.3h0M162.6 375.2h0M155.7 376.1h0M156.8 379.0h0M154.8 373.6h0M158.3 379.2h0M156.6 367.1h0M155.8 381.3h0M155.9 383.8h0M154.5 374.7h0M161.2 383.2h0M155.6 385.1h0M158.1 378.6h0M166.3 381.3h0M156.0 375.8h0M152.5 383.0h0M158.9 387.6h0M163.3 376.3h0M154.0 374.3h0M163.5 375.5h0M162.9 383.7h0M164.7 377.8h0M160.8 368.5h0M158.9 376.4h0M161.9 365.6h0M155.5 390.2h0M158.0 373.4h0M157.6 375.4h0M155.4 379.9h0M158.5 383.2h0M169.9 380.7h0M158.9 385.2h0M150.1 387.2h0M151.3 373.4h0M157.4 368.1h0M153.9 377.3h0M159.2 367.8h0M141.9 380.3h0M148.7 378.4h0M159.5 381.1h0M154.3 372.6h0M172.9 375.7h0M151.9 368.3h0M155.8 386.7h0M160.7 370.8h0M150.1 372.5h0M157.0 378.0h0M159.6 383.0h0M150.3 366.9h0M156.6 379.8h0M154.3 377.9h0M156.7 383.3h0M156.0 373.4h0M159.7 382.3h0M153.8 375.6h0M153.4 369.3h0M169.6 372.6h0M155.4 374.2h0M152.9 375.4h0M156.6 378.5h0M154.3 367.6h0M156.4 380.5h0M163.6 375.7h0M155.7 371.7h0M164.7 372.6h0M154.5 375.9h0M155.9 376.6h0M159.2 386.6h0M159.7 378.8h0M149.6 389.7h0M159.8 381.6h0M155.4 375.7h0M155.2 375.2h0M155.1 381.1h0M162.6 376.0h0M155.6 381.4h0M156.0 379.6h0M153.8 384.8h0M154.7 379.7h0M165.9 378.7h0M155.8 380.8h0M164.9 362.8h0M155.1 375.4h0M161.5 367.1h0M161.3 376.7h0M160.0 370.0h0M163.7 392.2h0M157.8 379.9h0M151.8 359.0h0M156.7 374.9h0M160.6 376.7h0M150.3 362.6h0M162.8 382.2h0M156.4 374.7h0M160.7 373.0h0M150.5 383.9h0M150.0 373.8h0M163.8 379.2h0M162.7 385.4h0M158.1 367.2h0M148.3 362.7h0M160.9 367.5h0M156.5 376.9h0M158.9 376.1h0M163.7 378.3h0M162.6 375.8h0M157.3 377.3h0M159.6 381.1h0M154.6 380.1h0M171.4 359.7h0M160.4 375.5h0M156.0 372.6h0M151.0 377.8h0M153.4 386.1h0M158.8 387.1h0M157.7 367.4h0M159.3 377.6h0M161.5 361.4h0M157.5 385.3h0M157.5 363.6h0M159.3 379.3h0M164.4 379.8h0M151.9 383.6h0M160.8 383.7h0M156.2 382.7h0M146.2 367.9h0M160.3 386.2h0M160.1 377.3h0M156.3 373.7h0M162.9 365.2h0M158.6 385.6h0M148.5 362.3h0M152.0 376.3h0M160.0 372.7h0M161.2 373.1h0M148.8 382.6h0M157.1 372.1h0M148.6 360.5h0M151.6 380.7h0M152.4 367.9h0M153.1 380.0h0M160.2 383.9h0M152.6 385.6h0M165.4 379.0h0M162.6 386.7h0M159.2 370.9h0M159.9 378.6h0M160.8 392.7h0M157.4 374.8h0M163.6 376.5h0M150.7 378.3h0M162.4 366.2h0M166.1 388.3h0M151.3 377.9h0M159.2 379.8h0M158.6 380.7h0M153.1 374.8h0M156.7 379.1h0M167.4 381.8h0M151.7 378.7h0M167.2 389.1h0M166.1 377.0h0M161.1 377.5h0M151.3 376.7h0M155.1 368.4h0M156.4 373.9h0M155.9 380.9h0M151.6 376.9h0M159.1 378.1h0M158.6 376.9h0M148.9 363.4h0M154.1 373.8h0M152.3 371.5h0M155.1 387.1h0M156.6 381.4h0M160.7 377.4h0M162.3 372.8h0M156.2 369.0h0M156.5 381.9h0M152.5 375.8h0M155.8 376.0h0M155.0 378.1h0M150.7 377.1h0M165.9 369.4h0M161.4 371.9h0M154.2 387.6h0M160.7 380.2h0M165.8 380.4h0M156.6 361.9h0M160.9 387.0h0M154.9 368.7h0M148.2 380.0h0M144.6 378.7h0M161.4 373.4h0M151.7 374.5h0M165.3 369.0h0M153.0 379.6h0M153.8 384.5h0M153.3 368.7h0M149.3 374.9h0M162.9 376.4h0M154.1 366.7h0M158.5 372.0h0M169.3 368.8h0M150.0 368.2h0M158.1 379.9h0M158.3 383.6h0M160.8 372.5h0M166.0 371.3h0M158.2 376.5h0M163.1 376.0h0M158.9 364.0h0M156.7 377.1h0M165.1 365.4h0M150.8 381.5h0M169.3 377.2h0M146.0 365.1h0M155.2 370.7h0M159.7 382.8h0M161.2 370.3h0M153.4 375.0h0M159.3 379.7h0M155.0 382.7h0M160.9 374.3h0M158.2 386.2h0M160.5 374.4h0M155.4 382.2h0M159.1 377.1h0M153.3 374.6h0M158.0 387.3h0M150.3 377.0h0M152.2 367.6h0M169.1 368.3h0M163.5 382.7h0M159.6 376.6h0M156.9 379.4h0M159.2 379.8h0M160.5 366.0h0M150.4 376.0h0M156.9 367.8h0M162.1 379.3h0M158.7 382.8h0M160.4 375.5h0M154.0 383.4h0M154.6 371.6h0M152.2 380.6h0M158.5 375.3h0M162.1 371.1h0M161.5 373.0h0M156.3 375.0h0M158.3 384.9h0M154.0 382.7h0M163.6 375.2h0M153.7 369.1h0M156.8 394.2h0M156.2 377.0h0M152.2 379.0h0M158.5 382.4h0M168.1 382.6h0M152.8 375.4h0M150.4 373.6h0M149.7 383.3h0M145.7 380.0h0M157.8 366.6h0M161.2 384.4h0M166.4 374.6h0M161.1 377.5h0M164.7 376.2h0M163.0 369.9h0M153.6 369.5h0M156.2 368.4h0M157.9 372.7h0M149.8 377.7h0M163.1 379.4h0M158.9 374.8h0M156.2 366.3h0M167.4 365.8h0M152.4 369.7h0M151.5 377.2h0M153.2 372.7h0M159.0 368.7h0M151.3 379.1h0M154.5 364.7h0M160.2 367.2h0M157.0 376.3h0M158.6 377.9h0M154.9 376.0h0M148.4 377.8h0M147.2 380.7h0M153.2 381.6h0M156.7 379.4h0M154.6 374.6h0M159.6 380.2h0M155.0 359.0h0M157.8 380.6h0M163.7 374.5h0M162.7 353.8h0M154.9 372.2h0M167.9 374.6h0M170.6 376.4h0M154.7 372.5h0M152.7 376.9h0M157.8 369.9h0" stroke="#3a52d0" stroke-width=".7" stroke-linecap="round" fill="none" opacity=".75"/>
<path d="M147.3 386.6h0M140.5 384.4h0M141.0 380.0h0M138.8 379.3h0M147.3 389.3h0M141.1 380.8h0M145.2 378.5h0M143.9 375.6h0M142.8 385.3h0M144.2 388.9h0M145.5 380.3h0M137.1 372.2h0M138.1 381.5h0M139.7 394.1h0M143.0 384.0h0M141.9 381.3h0M142.8 387.0h0M141.8 386.2h0M146.2 383.1h0M143.9 383.7h0M145.5 386.0h0M142.3 387.3h0M145.5 383.2h0M137.7 389.8h0M142.4 385.4h0M142.3 381.0h0M137.8 382.4h0M141.0 384.6h0M140.7 382.1h0M144.1 382.3h0M139.7 384.4h0M140.7 377.9h0M138.2 378.6h0M139.7 372.7h0M136.9 379.7h0M140.3 381.5h0M143.5 377.7h0M146.6 383.8h0M133.7 382.0h0M138.4 384.5h0M147.3 376.2h0M141.9 377.6h0M136.8 385.0h0M144.3 379.3h0M140.3 376.9h0M139.4 381.2h0M141.0 385.3h0M142.2 382.0h0M141.9 384.9h0M143.4 376.4h0M141.0 384.0h0M139.0 375.9h0M138.3 376.9h0M140.9 381.5h0M143.3 373.9h0M143.1 385.7h0M150.2 380.9h0M144.0 374.7h0M145.1 389.3h0M142.4 379.6h0M146.5 378.1h0M147.4 377.6h0M143.1 383.5h0M142.2 379.7h0M138.2 388.1h0M143.1 378.4h0M137.3 385.5h0M146.0 381.9h0M140.1 384.7h0M143.2 387.4h0M141.1 379.2h0M141.3 376.4h0M138.0 379.8h0M141.0 382.5h0M136.9 380.6h0M148.0 374.8h0M140.4 380.1h0M143.6 378.7h0M149.0 379.8h0M142.4 382.8h0M146.1 384.0h0M137.0 382.4h0M139.6 387.1h0M143.3 383.7h0M141.3 379.1h0M145.0 386.1h0M149.0 381.1h0M145.2 377.6h0M143.4 382.2h0M138.1 379.5h0M141.9 381.2h0M140.6 380.9h0M141.5 380.3h0M136.0 382.7h0M147.2 381.4h0M142.0 378.6h0M138.9 378.1h0M137.2 382.3h0M138.6 383.5h0M141.9 376.1h0M148.7 380.6h0M142.0 380.2h0M137.7 382.0h0M143.2 373.2h0M141.7 382.7h0M147.5 373.7h0M139.2 386.9h0M139.1 384.8h0M138.3 377.2h0M144.0 379.8h0M138.0 382.3h0M145.3 381.7h0M148.8 376.6h0M146.9 383.4h0M144.4 385.3h0M140.6 380.9h0M137.2 379.0h0M139.2 386.4h0M140.0 383.6h0M141.3 392.1h0M138.9 378.1h0M143.6 374.6h0M141.6 377.9h0M138.8 381.2h0M148.2 385.9h0M144.2 384.1h0M143.1 379.2h0M142.1 381.6h0M143.6 385.8h0M137.8 376.5h0" stroke="#3a52d0" stroke-width=".7" stroke-linecap="round" fill="none" opacity=".75"/>
<path d="M163.2 348.3h0M161.0 374.1h0M159.7 357.7h0M148.8 356.8h0M158.3 375.4h0M158.1 354.5h0M164.7 355.6h0M162.0 357.4h0M152.0 360.6h0M148.8 351.3h0M149.4 356.2h0M146.7 360.6h0M153.1 357.5h0M146.9 357.1h0M156.4 353.6h0M147.8 357.3h0M152.2 351.7h0M157.7 358.5h0M167.2 348.0h0M138.4 357.4h0M167.4 361.8h0M150.2 350.7h0M152.8 352.4h0M142.7 356.2h0M143.8 353.6h0M143.3 354.3h0M154.4 355.9h0M152.4 348.7h0M136.8 354.9h0M149.8 359.8h0M137.4 361.5h0M148.9 348.4h0M144.6 352.5h0M162.2 352.6h0M152.9 349.7h0M137.5 350.7h0M135.1 353.4h0M147.8 366.9h0M145.5 362.7h0M155.7 360.8h0M151.7 354.5h0M154.3 363.1h0M142.5 347.3h0M144.4 346.0h0M145.8 353.3h0M143.0 354.2h0M160.7 355.9h0M160.0 354.5h0M150.8 346.5h0M161.0 357.5h0M163.1 354.9h0M144.3 369.1h0M139.8 342.4h0M156.9 348.6h0M139.2 357.2h0M142.5 367.1h0M168.9 369.7h0M144.8 361.5h0M144.0 352.1h0M147.6 354.2h0" stroke="#3a52d0" stroke-width=".7" stroke-linecap="round" fill="none" opacity=".75"/>
<g transform="translate(158 375.8) rotate(25)" filter="url(#bl)">
<ellipse rx="7.6" ry="9.2" fill="#3346c8" opacity=".75"/>
<ellipse rx="6.38" ry="7.73" fill="#2e8fc4" opacity="1"/>
<ellipse rx="4.71" ry="5.7" fill="#4fb96a" opacity="1"/>
<ellipse rx="3.19" ry="3.86" fill="#d8dc3c" opacity="1"/>
<ellipse rx="2.13" ry="2.58" fill="#f39a2c" opacity="1"/>
<ellipse rx="1.14" ry="1.38" fill="#e8321e" opacity="1"/>
</g>
<path d="M239.0 370.5h0M243.9 357.6h0M239.3 355.1h0M239.8 388.9h0M244.5 382.1h0M238.2 366.6h0M235.6 376.4h0M234.0 358.5h0M243.4 380.7h0M239.6 369.4h0M240.6 369.3h0M239.4 375.1h0M237.6 366.8h0M240.6 364.7h0M244.8 385.6h0M236.4 380.2h0M241.4 374.8h0M232.3 378.0h0M235.9 372.2h0M247.1 375.0h0M230.9 383.3h0M242.4 364.7h0M237.3 366.1h0M238.8 388.6h0M249.7 371.8h0M238.3 391.5h0M236.4 385.6h0M233.7 383.6h0M245.1 386.6h0M244.9 386.1h0M237.7 383.4h0M241.6 377.5h0M241.7 371.5h0M233.8 391.8h0M238.5 394.6h0M246.4 369.7h0M245.3 379.8h0M239.5 353.9h0M235.6 371.9h0M234.8 360.4h0M229.7 376.4h0M239.3 385.2h0M230.9 355.7h0M247.1 373.1h0M237.1 387.1h0M232.5 372.5h0M241.4 380.1h0M241.6 369.7h0M244.5 357.2h0M227.3 372.2h0M238.1 374.4h0M227.9 358.5h0M235.9 385.2h0M243.0 394.8h0M231.8 368.4h0M229.4 360.0h0M231.7 373.0h0M233.6 378.1h0M244.0 371.3h0M235.5 374.8h0M236.6 371.8h0M234.4 376.1h0M235.0 379.9h0M238.3 387.3h0M240.1 380.9h0M237.1 369.1h0M240.2 364.4h0M239.4 394.7h0M234.4 382.6h0M240.4 374.6h0M242.5 369.2h0M231.9 381.0h0M239.7 378.3h0M241.7 361.7h0M233.7 396.3h0M236.2 387.2h0M239.5 351.7h0M238.4 383.7h0M231.6 373.2h0M232.5 371.2h0M238.1 365.6h0M231.2 381.7h0M240.2 368.8h0M234.3 385.3h0M236.9 388.9h0M240.6 371.4h0M242.2 352.6h0M233.2 375.4h0M241.8 384.8h0M240.0 364.9h0M237.2 397.1h0M240.8 387.5h0M238.1 360.3h0M235.8 390.2h0M234.0 389.9h0M239.8 353.9h0M237.9 368.5h0M236.7 392.3h0M231.1 355.4h0M236.0 376.2h0M238.8 376.3h0M233.5 372.1h0M247.3 380.7h0M241.4 379.0h0M238.6 356.6h0M229.4 381.9h0M231.6 382.8h0M239.0 373.5h0M231.9 368.0h0M243.6 371.3h0M237.3 381.1h0M234.9 372.2h0M230.6 399.0h0M238.8 382.0h0M234.9 362.2h0M240.9 368.8h0M237.7 362.2h0M247.8 373.6h0M239.0 385.5h0M232.4 376.8h0M231.6 364.6h0M241.4 388.6h0M239.6 363.5h0M237.1 383.7h0M235.7 370.8h0M238.4 384.5h0M234.7 356.3h0M235.0 372.8h0M236.5 378.0h0M242.6 374.3h0M239.3 366.9h0M237.1 381.2h0M232.2 386.4h0M233.6 371.2h0M240.0 381.5h0M237.9 367.2h0M246.3 373.4h0M237.7 375.4h0M238.1 371.4h0M234.9 362.2h0M232.3 382.9h0M245.1 376.8h0M238.2 371.8h0M235.8 397.1h0M238.3 380.9h0M242.2 340.3h0M240.5 374.0h0M237.9 375.9h0M240.5 381.8h0M245.0 369.6h0M239.4 385.5h0M234.9 372.5h0M240.3 377.4h0M237.1 377.8h0M249.7 369.5h0M232.7 376.8h0M229.3 367.1h0M228.7 389.0h0M241.1 372.0h0M227.4 360.4h0M230.6 374.5h0M241.3 381.4h0M235.8 367.8h0M242.0 372.4h0M230.2 366.1h0M234.8 391.8h0M236.6 354.0h0M235.8 384.5h0M233.2 368.1h0M231.6 377.3h0M237.6 367.9h0M238.1 380.7h0M234.4 373.7h0M240.3 371.1h0M230.1 381.2h0M237.1 379.4h0M238.3 393.2h0M231.0 398.1h0M239.7 383.0h0M233.4 375.0h0M236.9 380.0h0M229.9 373.9h0M228.5 399.9h0M234.4 366.7h0M235.0 381.8h0M241.8 382.2h0M229.5 370.0h0M238.5 376.0h0M241.1 368.4h0M236.0 350.3h0M237.0 382.0h0M238.2 364.6h0M237.3 374.6h0M233.2 368.2h0M238.3 382.2h0M246.3 363.2h0M236.0 384.3h0M235.2 384.0h0M228.8 395.0h0M241.8 375.8h0M231.5 369.7h0M233.8 391.2h0M235.1 377.6h0M240.2 370.3h0M234.5 348.1h0M241.2 392.2h0M238.2 363.7h0M239.7 371.3h0M224.8 370.7h0M228.2 370.7h0M232.1 384.7h0M230.3 376.3h0M236.8 355.6h0M237.7 366.3h0M232.8 357.1h0M237.4 367.1h0M236.7 374.0h0M244.0 371.5h0M237.7 390.9h0M235.2 388.7h0M239.6 351.5h0M244.2 372.6h0M232.1 371.2h0M238.2 377.2h0M247.0 353.8h0M238.9 367.8h0M235.4 369.0h0M233.9 393.7h0M238.2 373.8h0M238.8 356.0h0M236.7 368.2h0M233.0 390.6h0M238.3 381.6h0M234.7 375.6h0M237.3 381.6h0M238.0 380.0h0M233.9 380.3h0M239.3 380.4h0M236.1 377.2h0M237.1 378.1h0M237.3 368.5h0M235.1 375.9h0M232.4 345.1h0M237.0 369.7h0M238.4 381.4h0M238.9 371.3h0M238.1 354.1h0M239.9 363.7h0M233.8 380.1h0M234.5 363.3h0M236.1 362.2h0M240.9 361.0h0M236.9 387.1h0M238.6 401.2h0M242.0 378.1h0M231.8 381.6h0M243.0 385.4h0M240.0 381.8h0M236.8 378.9h0M239.1 374.6h0M243.2 364.1h0M243.1 367.7h0M232.7 370.7h0M233.6 371.3h0M240.2 388.9h0M240.9 342.8h0M242.7 365.7h0M239.2 389.3h0M242.3 394.9h0M237.7 362.9h0M233.2 397.2h0M235.8 376.5h0M235.1 363.7h0M244.2 390.5h0M238.2 382.2h0M234.1 373.0h0M235.0 386.0h0M243.1 367.8h0M229.6 384.0h0M246.7 362.7h0M245.7 378.0h0M238.7 355.9h0M236.5 357.2h0M240.3 401.3h0M238.4 366.0h0M234.6 373.0h0M238.1 391.4h0M237.9 375.8h0M232.8 363.4h0M238.4 373.1h0M236.6 380.2h0M244.6 363.5h0M240.5 385.7h0M235.1 359.1h0M231.8 376.2h0M237.9 378.8h0M240.5 386.6h0M243.4 394.1h0M237.3 376.5h0M233.4 360.5h0M237.3 361.6h0M243.5 365.5h0M245.0 366.0h0M236.8 387.2h0M239.3 390.9h0M233.6 383.2h0M235.6 380.2h0M231.2 364.3h0M236.1 379.7h0M232.7 363.5h0M229.3 367.8h0M244.8 367.3h0M228.7 358.1h0M232.4 369.0h0M238.6 384.8h0M235.1 381.7h0M237.1 382.2h0M242.2 383.9h0M229.9 383.1h0M235.8 347.3h0M239.4 371.5h0M231.8 351.6h0M239.7 377.8h0M240.4 375.6h0M246.4 366.5h0M237.8 375.5h0M244.7 389.6h0M234.9 388.6h0M234.4 384.3h0M230.3 353.2h0M241.9 379.6h0M235.7 354.0h0M234.9 367.6h0M240.8 376.1h0M228.4 365.2h0M232.2 366.1h0M231.8 388.0h0M242.6 372.1h0M234.0 363.0h0M237.3 400.7h0M241.8 380.3h0M242.8 367.4h0M235.1 379.8h0M232.2 388.9h0M234.8 359.4h0M241.7 371.1h0M236.1 390.9h0M244.0 366.6h0M242.9 357.0h0M244.0 377.0h0M237.7 392.7h0M239.4 353.5h0M239.1 385.4h0M242.2 393.4h0M235.8 359.9h0M230.3 368.7h0M234.7 376.8h0M245.1 368.7h0M231.6 375.0h0M238.4 383.0h0M243.9 380.5h0M238.9 366.0h0M239.2 386.6h0M235.9 394.3h0M237.6 383.9h0M230.0 388.0h0M237.0 368.8h0M238.5 377.6h0M234.2 359.3h0M239.4 383.1h0M238.4 371.5h0M236.5 352.2h0M235.2 365.9h0M236.8 347.5h0M231.5 368.6h0M229.0 358.2h0M244.2 371.7h0M235.1 375.1h0M232.7 375.6h0M235.2 362.1h0M237.7 382.6h0M237.5 359.0h0M237.9 366.8h0M235.3 376.6h0M239.5 384.4h0M235.7 404.0h0M241.8 383.5h0M245.5 388.4h0M244.7 388.9h0M235.8 385.0h0M242.8 384.3h0M243.6 382.4h0M233.9 372.6h0M233.2 359.4h0M246.8 385.2h0M243.3 359.5h0M241.2 369.5h0M240.9 383.8h0M243.5 365.6h0M243.4 387.3h0M239.3 362.1h0M232.0 355.1h0M230.3 384.4h0M230.2 365.6h0M239.0 369.0h0M239.8 389.4h0M235.3 382.8h0M242.5 374.6h0M242.2 374.4h0M238.5 385.9h0M236.6 373.0h0M240.2 387.4h0M232.8 388.5h0M238.6 377.7h0M244.0 364.1h0M233.6 361.8h0M238.4 381.0h0M230.9 380.8h0M232.2 377.9h0M247.3 388.6h0M237.8 386.5h0M241.3 347.3h0M234.1 384.3h0M240.3 362.8h0M239.9 380.3h0M237.3 375.4h0M246.5 384.5h0M241.8 355.1h0M236.1 385.1h0M238.9 373.1h0M233.5 379.3h0M237.2 356.4h0M249.5 373.4h0M229.5 357.9h0M234.9 369.9h0M233.9 374.1h0M244.5 363.0h0M242.8 385.0h0M232.6 358.4h0M241.2 387.2h0M241.3 382.6h0M234.7 383.2h0M232.9 382.4h0M241.8 384.0h0M243.9 383.1h0M242.7 377.7h0M245.5 375.1h0M244.6 367.6h0M232.6 378.3h0M237.6 369.8h0M234.3 385.4h0M239.9 386.4h0M236.0 379.9h0M233.3 367.8h0M241.5 385.1h0M238.4 390.0h0M234.4 391.9h0M237.2 374.1h0M233.5 391.9h0M233.4 392.2h0M244.3 353.7h0M237.6 362.0h0M235.6 375.2h0M236.5 383.6h0M239.9 354.5h0M232.2 359.7h0M231.5 381.9h0M237.0 376.2h0M228.2 371.1h0M227.6 375.0h0M234.8 380.6h0M240.1 385.3h0M236.7 380.0h0M233.1 402.0h0M238.4 362.3h0M238.0 388.6h0M234.3 389.1h0M236.3 391.0h0M237.9 364.9h0M238.6 389.9h0M229.0 363.6h0M239.5 362.3h0M229.4 375.4h0M235.4 371.8h0M235.8 378.6h0M233.6 356.3h0M236.5 371.6h0M236.8 375.9h0M234.4 356.3h0M239.7 392.7h0M239.9 376.7h0M240.4 370.9h0M231.1 352.1h0M238.0 361.4h0M233.3 379.9h0M242.0 392.0h0M229.7 372.0h0M234.2 375.7h0M237.4 380.6h0M236.5 360.7h0M228.1 396.2h0M234.7 383.1h0M238.1 384.1h0M237.6 389.0h0M233.0 381.1h0M239.7 365.0h0M233.2 365.7h0M243.4 369.4h0M241.4 369.8h0M238.6 382.3h0M238.5 369.2h0M235.3 397.1h0M244.1 381.8h0M234.9 379.9h0M246.1 366.7h0M238.1 380.8h0M235.8 373.0h0M241.4 371.0h0M236.9 378.3h0M231.6 375.7h0M242.5 387.9h0M229.0 372.7h0M245.6 362.9h0M233.6 378.8h0M234.4 365.3h0M234.2 377.1h0M238.8 379.1h0M230.7 354.9h0M241.1 373.5h0M238.0 379.5h0M244.2 388.2h0M235.0 384.1h0M239.9 392.2h0M241.6 402.3h0M247.9 378.6h0M233.3 381.6h0M234.1 374.5h0M242.3 367.3h0M228.5 367.9h0M232.8 355.2h0M240.3 381.5h0M238.8 388.6h0M236.8 400.1h0M238.7 386.1h0M234.2 380.5h0M236.1 361.1h0M238.7 363.9h0M242.0 355.1h0M228.6 390.7h0M240.4 370.8h0M228.7 366.9h0M238.7 398.5h0M234.7 395.6h0M229.6 394.7h0M240.7 366.4h0M243.9 375.9h0M234.0 370.5h0M241.6 368.3h0M234.3 373.0h0M236.8 359.8h0M244.1 397.2h0M237.1 381.0h0M236.7 362.3h0M239.2 362.7h0M230.6 368.2h0M239.4 369.5h0M241.5 383.5h0M242.2 392.1h0M235.2 384.1h0M240.7 379.5h0M235.2 381.8h0M238.4 384.1h0M237.1 368.5h0M230.8 374.1h0M245.9 377.6h0M237.7 365.6h0M239.2 376.3h0M238.4 372.1h0M232.7 364.6h0M234.8 363.6h0M232.6 378.7h0M237.6 369.1h0M236.9 388.5h0M232.0 382.9h0M228.1 394.2h0M239.8 401.0h0M245.9 376.9h0M240.5 380.5h0M228.5 386.6h0M241.2 385.2h0M238.8 361.2h0M238.6 366.0h0M234.9 388.1h0M237.5 340.9h0M242.1 357.5h0M231.9 362.6h0M243.2 359.0h0M239.1 382.2h0M227.6 391.7h0M234.2 394.8h0M235.5 392.7h0M247.1 348.6h0M231.9 367.6h0M241.9 395.0h0M238.1 380.7h0M241.1 363.4h0M234.6 376.5h0M243.7 366.1h0M240.5 365.6h0M232.0 376.3h0M238.3 375.9h0M233.9 368.3h0M241.8 357.5h0M234.6 360.9h0M237.8 390.4h0M235.7 366.6h0M235.8 375.6h0M235.2 363.3h0M238.9 393.1h0M238.5 366.6h0M243.6 375.3h0M239.4 373.1h0M239.5 359.1h0M237.3 372.8h0M236.4 376.8h0M250.4 363.0h0M236.0 358.9h0M237.9 368.3h0M242.0 373.4h0M236.9 375.4h0M246.7 387.9h0M239.3 388.0h0M236.4 355.4h0M230.9 381.2h0M239.1 367.6h0M233.0 385.0h0M235.4 360.1h0M240.9 376.4h0M231.7 393.4h0M234.8 368.2h0M234.0 370.5h0M244.4 370.8h0M240.8 366.4h0M243.0 390.1h0M241.3 395.9h0M238.5 350.8h0M231.6 367.0h0M241.2 376.3h0M238.7 377.6h0M235.9 373.7h0M234.8 374.8h0M240.6 394.6h0M244.0 373.2h0M235.3 369.6h0M228.9 386.1h0M241.5 379.7h0M237.6 383.1h0M241.9 390.4h0M234.4 391.5h0M232.3 390.1h0M249.8 387.3h0M237.6 394.3h0M237.1 376.6h0M235.2 373.1h0M238.1 366.4h0M242.9 379.2h0M231.8 365.8h0M237.2 370.8h0M244.4 362.3h0M237.5 373.3h0M236.7 382.5h0M240.2 368.2h0M235.0 379.6h0M237.2 368.6h0M230.0 378.9h0M235.4 381.2h0M234.5 374.0h0M236.3 352.8h0M237.6 378.4h0M237.0 375.9h0M244.1 350.5h0M232.8 366.6h0M233.8 368.6h0M231.4 370.4h0M239.7 366.4h0M240.5 385.0h0M241.3 377.7h0M228.5 373.1h0M226.0 356.0h0M240.4 340.7h0M240.5 367.4h0M240.6 391.4h0M237.2 362.4h0M240.3 359.0h0M237.6 373.9h0M242.5 353.7h0M238.4 397.5h0M236.7 397.9h0M241.8 355.0h0M240.0 379.0h0M234.3 372.0h0M229.0 395.4h0M239.8 370.8h0M241.4 392.7h0M236.9 373.9h0M240.3 372.7h0M245.7 387.3h0M238.5 369.7h0M227.7 361.3h0M247.6 373.9h0M243.2 350.7h0M231.7 385.8h0M242.7 357.1h0M230.3 361.4h0M238.0 347.5h0M245.3 361.1h0M239.2 384.7h0M237.1 374.6h0M235.6 398.4h0M242.8 372.5h0M235.3 374.0h0M227.1 368.2h0M235.1 391.0h0M239.6 362.5h0M230.9 382.5h0M239.3 384.4h0M237.7 378.9h0M237.9 397.2h0M237.5 362.4h0M241.7 384.1h0M236.0 391.1h0M240.2 365.7h0M233.5 394.5h0M241.9 360.2h0M232.1 398.1h0M250.1 388.6h0M237.2 370.4h0M241.5 393.3h0M239.4 372.4h0M230.8 358.5h0M232.2 350.8h0M239.6 369.4h0M245.9 387.5h0M237.7 399.1h0" stroke="#3a52d0" stroke-width=".7" stroke-linecap="round" fill="none" opacity=".75"/>
<path d="M229.6 388.0h0M225.3 385.6h0M222.5 389.4h0M223.1 387.3h0M224.1 390.2h0M231.6 388.5h0M223.2 393.1h0M226.2 383.0h0M223.7 388.9h0M221.4 394.5h0M226.7 386.3h0M230.7 391.8h0M225.3 391.2h0M229.3 393.8h0M221.6 391.6h0M224.6 387.8h0M223.5 396.1h0M222.2 395.0h0M230.5 387.4h0M225.6 396.2h0M234.0 389.0h0M224.3 391.7h0M228.6 387.4h0M229.4 392.5h0M225.4 384.0h0M228.7 376.7h0M220.3 379.0h0M223.3 388.3h0M223.4 385.6h0M228.7 378.1h0M217.7 391.5h0M231.0 391.9h0M219.2 378.6h0M227.9 391.2h0M225.5 381.6h0M212.8 394.4h0M233.8 394.6h0M227.7 392.4h0M224.1 388.0h0M225.4 384.6h0M226.9 382.1h0M224.7 399.9h0M232.4 384.6h0M229.3 393.1h0M229.8 392.2h0M223.8 396.6h0M230.3 382.5h0M225.4 387.7h0M220.0 390.2h0M223.5 377.6h0M234.6 390.1h0M224.4 390.9h0M220.7 384.7h0M233.4 387.0h0M216.8 391.6h0M229.5 385.2h0M222.1 397.3h0M229.5 382.2h0M222.9 387.3h0M224.1 381.8h0M224.1 383.3h0M228.6 390.7h0M222.7 387.8h0M222.7 394.9h0M227.4 393.3h0M214.9 393.6h0M224.6 387.0h0M218.2 396.3h0M232.5 389.6h0M224.3 385.3h0M229.1 390.0h0M221.6 397.2h0M227.6 391.2h0M224.8 388.0h0M221.2 386.5h0M222.5 394.7h0M220.4 398.3h0M230.4 385.8h0M221.3 379.4h0M229.2 393.7h0M232.9 391.2h0M227.0 387.7h0M219.1 393.4h0M223.4 389.2h0M221.3 392.5h0M216.9 382.2h0M230.3 393.0h0M220.4 391.0h0M226.9 395.5h0M230.3 395.5h0M222.3 400.9h0M225.1 393.6h0M227.9 398.2h0M230.2 379.7h0M218.2 388.8h0M221.3 395.2h0M232.4 397.3h0M220.1 392.6h0M229.6 393.8h0M229.0 392.0h0M227.8 391.4h0M223.2 389.6h0M220.7 383.8h0M225.4 384.3h0M222.1 385.6h0M219.6 373.7h0M228.2 397.5h0M226.1 385.4h0M230.5 391.7h0M218.4 389.1h0M225.3 384.4h0M227.6 381.0h0M225.1 393.8h0M215.9 393.0h0M229.2 384.5h0M219.5 388.4h0M225.0 388.4h0M223.5 382.9h0M216.3 385.2h0M229.5 394.0h0M228.4 388.3h0M222.1 386.5h0M225.8 381.4h0M226.7 392.0h0M222.0 394.8h0M228.4 376.3h0M223.0 388.8h0M213.8 393.2h0M229.6 392.5h0M224.3 397.9h0M225.3 391.3h0M227.3 396.1h0M216.9 394.9h0M226.6 397.8h0M226.0 389.0h0M221.7 389.8h0M222.2 392.6h0M225.2 385.1h0M228.2 389.2h0M223.1 397.6h0M227.1 392.1h0M221.4 397.0h0M227.8 382.6h0M223.6 396.9h0M229.6 389.0h0M226.0 390.7h0M213.8 393.7h0M231.9 386.4h0M225.5 395.2h0M226.2 395.7h0M225.2 388.2h0M221.7 389.1h0M218.8 382.6h0M225.4 384.3h0M225.6 389.0h0M224.2 392.7h0M222.8 383.5h0M223.7 388.4h0M231.4 395.4h0M218.6 379.1h0M219.1 392.8h0M216.1 394.7h0M223.4 396.1h0M226.1 384.2h0M223.0 390.7h0M230.5 388.0h0M222.2 390.2h0M221.2 392.5h0M226.8 394.7h0M220.8 396.2h0M238.5 397.7h0M225.4 388.9h0M217.5 392.3h0M234.8 392.7h0M226.8 389.2h0M219.4 403.3h0M223.3 398.9h0M225.1 389.1h0M220.7 390.3h0M225.9 387.5h0M224.5 388.5h0M220.7 385.5h0M237.7 382.1h0M228.3 381.5h0M220.4 395.0h0M218.0 394.0h0M232.0 388.3h0M228.7 395.5h0M215.0 387.2h0M222.9 394.9h0M222.8 382.2h0M218.5 389.9h0M225.3 392.1h0M219.6 392.4h0M224.4 383.8h0M218.8 402.2h0M227.8 387.4h0M227.7 385.4h0M233.1 392.9h0M214.0 387.3h0M223.7 390.3h0M219.2 395.2h0M225.7 398.1h0M226.0 398.1h0M232.5 390.3h0M226.3 395.1h0M227.2 389.1h0M236.3 396.6h0M227.4 382.7h0M219.7 388.6h0M219.5 381.2h0M228.0 393.7h0M222.2 389.5h0M230.4 394.9h0M233.8 388.5h0M223.2 394.4h0M233.9 388.8h0M223.4 388.3h0M230.4 396.7h0M220.2 395.9h0M228.7 397.2h0M222.7 389.4h0M227.5 392.8h0M220.3 394.1h0M227.9 388.4h0M227.0 396.3h0M225.1 390.2h0M220.1 389.4h0M221.7 384.0h0M229.6 392.4h0M226.6 390.9h0M231.6 379.8h0M232.5 387.1h0M220.7 385.1h0M220.8 388.9h0M228.7 385.0h0M228.9 386.8h0M225.0 397.9h0M223.4 383.2h0M225.4 392.0h0M223.3 387.3h0M228.0 384.3h0M224.4 385.1h0M228.0 387.2h0M226.7 389.5h0M224.7 384.7h0M231.1 386.6h0M224.4 382.3h0M225.4 384.9h0M219.9 395.5h0M228.7 391.4h0M226.0 393.0h0M225.0 390.9h0M220.3 387.5h0M224.2 374.9h0M219.2 384.7h0M234.7 380.5h0M216.0 393.7h0M220.2 392.5h0M224.8 399.2h0M225.0 394.7h0M224.2 390.0h0M225.1 389.4h0M231.8 398.8h0M225.2 388.4h0M225.9 395.5h0M228.5 390.1h0M217.4 403.1h0M232.0 392.5h0M226.6 397.5h0M233.0 390.3h0M226.5 388.6h0M234.4 387.6h0M223.0 395.8h0M228.0 389.7h0M229.1 391.5h0M225.0 391.8h0M227.8 391.0h0M227.4 390.7h0M227.6 384.4h0M233.2 395.7h0M226.6 393.2h0M233.8 392.6h0M219.0 392.1h0M215.6 388.8h0M232.0 383.6h0M217.7 387.8h0M227.0 400.9h0M223.9 389.5h0M219.4 401.9h0M224.4 392.4h0M230.1 389.0h0M220.9 387.1h0M224.7 394.7h0M230.1 386.9h0M223.4 381.8h0M225.3 402.2h0M227.3 388.0h0M232.4 392.4h0M230.6 399.0h0M219.2 390.2h0M224.0 396.9h0M224.7 390.6h0M215.5 387.0h0M222.3 384.0h0M225.9 388.1h0M226.1 395.0h0M227.1 390.0h0M226.7 383.4h0M223.3 386.5h0M234.1 382.6h0M223.3 392.9h0M222.8 393.5h0M219.6 395.5h0M226.1 377.2h0M218.3 382.5h0M223.8 387.7h0M226.6 393.4h0M227.9 392.4h0M221.2 381.2h0M219.3 391.9h0M220.4 382.8h0M220.9 392.0h0M218.7 388.6h0M228.5 394.5h0M216.9 389.5h0M222.3 403.9h0M223.9 381.6h0M222.1 389.6h0M222.8 393.8h0M223.2 389.9h0M241.3 392.2h0M229.0 389.9h0M213.4 399.4h0M222.8 393.6h0M218.3 390.4h0M230.2 383.4h0M234.2 395.4h0M226.9 388.1h0M229.5 378.0h0M231.0 378.3h0M222.6 397.3h0M226.6 378.8h0M217.1 382.3h0M222.5 384.8h0M229.7 387.6h0M233.4 397.4h0M219.1 397.1h0M231.3 383.0h0M223.4 384.8h0M220.2 389.3h0M226.5 384.9h0M217.3 393.3h0M231.4 396.3h0M218.2 386.7h0M223.5 385.7h0M230.1 384.4h0M223.6 391.8h0M225.4 391.1h0M224.3 392.6h0M226.6 390.0h0M227.7 392.0h0M228.4 392.4h0M227.2 391.7h0M220.9 386.9h0M223.6 385.8h0M222.7 385.8h0M221.7 391.5h0M239.3 400.8h0M225.0 390.0h0M223.8 388.3h0M227.8 392.1h0M226.4 395.0h0M222.9 393.9h0M225.8 384.0h0M231.0 384.3h0M228.8 385.5h0M221.7 396.1h0M226.9 389.6h0M221.3 379.8h0M222.7 388.6h0M229.3 389.5h0M229.8 386.5h0M229.4 394.4h0M223.8 394.4h0M233.0 381.7h0M218.8 385.7h0M222.3 384.2h0M225.7 381.7h0M233.6 389.1h0M226.0 388.6h0M222.3 390.3h0M224.4 391.7h0M228.6 384.9h0M216.6 385.8h0M226.2 378.0h0M227.2 390.2h0M218.7 390.8h0M229.4 389.1h0M227.3 392.9h0M230.6 396.4h0M221.5 388.4h0M225.2 383.9h0M225.6 391.7h0M226.6 378.8h0M222.0 375.4h0M225.5 389.5h0M228.8 394.7h0M220.5 389.0h0M225.8 394.1h0M230.5 388.6h0M218.1 394.1h0M224.0 379.3h0M225.9 384.7h0M225.2 396.4h0M224.7 385.0h0M227.0 388.0h0M225.5 395.3h0" stroke="#3a52d0" stroke-width=".7" stroke-linecap="round" fill="none" opacity=".75"/>
<g transform="translate(225 389.6) rotate(0)" filter="url(#bl)">
<ellipse rx="6" ry="6" fill="#3346c8" opacity=".18"/>
</g>
<g transform="translate(237.6 387) rotate(0)" filter="url(#bl)">
<ellipse rx="5" ry="8.4" fill="#3346c8" opacity=".7"/>
<ellipse rx="4.2" ry="7.06" fill="#2e8fc4" opacity="1"/>
<ellipse rx="3.1" ry="5.21" fill="#4fb96a" opacity="1"/>
</g>
<g transform="translate(237.4 385.1) rotate(0)" filter="url(#bl)">
<ellipse rx=".76" ry="1.51" fill="#d8dc3c" opacity="1"/>
</g>
<g transform="translate(238.4 367) rotate(6)" filter="url(#bl)">
<ellipse rx="6.2" ry="11" fill="#3346c8" opacity=".75"/>
<ellipse rx="5.21" ry="9.24" fill="#2e8fc4" opacity="1"/>
<ellipse rx="3.84" ry="6.82" fill="#4fb96a" opacity="1"/>
<ellipse rx="2.6" ry="4.62" fill="#d8dc3c" opacity="1"/>
<ellipse rx="1.74" ry="3.08" fill="#f39a2c" opacity="1"/>
<ellipse rx=".93" ry="1.65" fill="#e8321e" opacity="1"/>
</g>
<path d="M303.8 405C304.26 404.15 305.62 405 306.5 400C307.38 393.47 308.17 376.44 309 366.6C309.83 356.76 310.62 342.78 311.4 342.1C312.18 341.42 312.73 354.02 313.6 362.6C314.47 371.19 315.5 385.9 316.5 392.6C317.5 399.3 318.39 399.89 319.5 402C320.61 404.11 322.4 404.49 323 405Z" fill="#858585" stroke="#000" stroke-width=".8" stroke-linejoin="round"/>
<rect x="42.2" y="336.6" width="69.1" height="68.4" fill="none" stroke="#000" stroke-width="1.1" />
<rect x="121.6" y="336.6" width="69.1" height="68.4" fill="none" stroke="#000" stroke-width="1.1" />
<rect x="201.7" y="336.6" width="69.1" height="68.4" fill="none" stroke="#000" stroke-width="1.1" />
<rect x="282.3" y="336.6" width="69.8" height="68.4" fill="none" stroke="#000" stroke-width="1.1" />
<path d="M129.3 338.7H168.7V361.6L129.3 371.6Z" fill="none" stroke="#000" stroke-width=".9"/>
<text x="130.5" y="345.8" font-size="7.9" >1.71%</text>
<rect x="224.6" y="355.7" width="22.8" height="22.6" fill="none" stroke="#000" stroke-width=".9" />
<path d="M247.4 361.5L274 361.5" stroke="#000" stroke-width=".9" />
<path d="M281 361.5L271.8 358.1L274.2 361.5L271.8 364.9Z" fill="#000"/>
<text x="327.2" y="363.2" font-size="7.9" >0.49%</text>
<path d="M325.4 370.5L352 370.5" stroke="#000" stroke-width=".8" />
<path d="M325.5 366.7L325.5 373.9" stroke="#000" stroke-width=".8" />
<text font-size="8.4" text-anchor="middle" transform="translate(38.9 371.1) rotate(-90)" >Norm. cell count</text>
<text font-size="7.8" text-anchor="middle" transform="translate(119.2 369.8) rotate(-90)" >&#947;H2AX/Alexa-647</text>
<text font-size="8.3" text-anchor="middle" transform="translate(199.4 369.8) rotate(-90)" >MPM2/Alexa-488</text>
<path d="M121.6 401.5L120.2 401.5" stroke="#000" stroke-width=".6" />
<text x="61.5" y="417.2" font-size="8.8" text-anchor="middle" >2n</text>
<text x="77.6" y="417.2" font-size="8.8" text-anchor="middle" >4n</text>
<path d="M61.5 405L61.5 406.6" stroke="#000" stroke-width=".6" />
<path d="M77.5 405L77.5 406.6" stroke="#000" stroke-width=".6" />
<text x="142.5" y="417.2" font-size="8.8" text-anchor="middle" >2n</text>
<text x="158.6" y="417.2" font-size="8.8" text-anchor="middle" >4n</text>
<path d="M142.5 405L142.5 406.6" stroke="#000" stroke-width=".6" />
<path d="M158.5 405L158.5 406.6" stroke="#000" stroke-width=".6" />
<text x="225.6" y="417.2" font-size="8.8" text-anchor="middle" >2n</text>
<text x="241.4" y="417.2" font-size="8.8" text-anchor="middle" >4n</text>
<path d="M225.5 405L225.5 406.6" stroke="#000" stroke-width=".6" />
<path d="M241.5 405L241.5 406.6" stroke="#000" stroke-width=".6" />
<text x="279.5" y="413.6" font-size="9.55" >&#947;H2AX/Alexa-647</text>
<path d="M42 432.5L352.4 432.5" stroke="#000" stroke-width=".95" />
<text x="195.4" y="429" font-size="9.5" text-anchor="middle" >RPE1 <tspan font-style="italic">TP53</tspan><tspan font-size="5.5" dy="-3.2">KO</tspan><tspan dy="3.2">&#8203;</tspan> nocodazole + AZD1775</text>
<rect x="42.2" y="437.6" width="69.1" height="68.4" fill="#fff" />
<rect x="121.6" y="437.6" width="69.1" height="68.4" fill="#fff" />
<rect x="201.7" y="437.6" width="69.1" height="68.4" fill="#fff" />
<rect x="282.3" y="437.6" width="69.8" height="68.4" fill="#fff" />
<path d="M56 506C56.73 505.63 59.2 503.97 60.3 503.8C61.4 503.63 61.36 505.14 62.5 505C63.64 504.86 65.47 505.04 67 503C68.53 500.96 70.09 497.66 71.5 493C72.91 488.34 74.26 482.96 75.3 475.6C76.34 468.24 76.87 450.38 77.6 449.7C78.33 449.02 78.89 462.88 79.6 471.6C80.31 480.32 80.63 495.15 81.8 501C82.97 506 85.7 505.15 86.5 506Z" fill="#858585" stroke="#000" stroke-width=".8" stroke-linejoin="round"/>
<path d="M157.2 483.7h0M155.8 480.6h0M150.9 473.2h0M161.1 490.5h0M150.6 485.2h0M160.4 473.0h0M159.5 484.4h0M162.0 494.2h0M156.1 482.9h0M151.7 481.9h0M156.2 477.8h0M156.7 486.9h0M160.7 486.0h0M164.9 467.8h0M155.4 479.0h0M154.2 475.9h0M149.2 477.0h0M162.1 476.0h0M156.0 483.2h0M156.1 471.7h0M153.6 489.4h0M152.8 469.4h0M165.5 480.8h0M150.7 465.0h0M152.4 468.7h0M155.4 487.4h0M160.0 476.6h0M159.3 476.1h0M143.6 485.5h0M152.1 471.7h0M161.0 480.1h0M160.4 487.7h0M159.8 478.7h0M166.3 471.3h0M160.9 495.2h0M155.3 474.6h0M160.3 488.8h0M158.9 474.4h0M156.9 467.5h0M161.5 489.1h0M155.3 484.6h0M154.7 480.2h0M157.0 478.0h0M170.6 477.2h0M161.2 472.3h0M157.5 479.4h0M152.1 486.6h0M160.0 490.6h0M158.3 471.2h0M160.2 482.2h0M165.3 460.1h0M155.4 480.5h0M161.3 469.9h0M161.7 482.1h0M146.0 499.2h0M145.6 471.1h0M152.0 483.5h0M153.9 478.9h0M152.4 483.7h0M160.2 494.1h0M148.9 473.6h0M153.2 475.9h0M155.4 484.9h0M153.1 474.3h0M162.4 491.1h0M165.4 496.5h0M152.5 490.8h0M159.7 479.0h0M159.3 474.3h0M150.6 477.5h0M148.7 476.3h0M156.5 471.3h0M152.5 463.3h0M150.4 479.0h0M152.9 480.8h0M153.0 475.4h0M148.0 493.7h0M154.9 487.0h0M152.3 469.9h0M157.5 476.0h0M155.8 484.9h0M159.1 486.2h0M157.1 463.7h0M158.5 492.2h0M158.1 488.2h0M158.6 484.1h0M159.1 467.2h0M145.6 480.2h0M159.2 484.2h0M154.8 475.6h0M151.0 482.5h0M157.8 485.7h0M155.6 490.2h0M152.6 488.9h0M152.2 491.5h0M161.0 471.4h0M158.8 471.4h0M165.2 488.7h0M156.6 482.8h0M155.9 475.8h0M150.7 479.0h0M161.2 482.6h0M161.9 488.3h0M158.9 472.2h0M151.3 476.5h0M145.2 466.7h0M156.6 491.0h0M167.1 481.2h0M161.0 482.7h0M151.8 487.5h0M156.0 485.0h0M146.9 476.9h0M161.1 477.9h0M156.2 487.1h0M163.5 491.3h0M156.9 475.2h0M161.0 474.3h0M150.1 473.0h0M156.0 473.7h0M152.1 488.1h0M150.5 469.7h0M156.5 485.1h0M153.6 471.6h0M168.4 476.3h0M169.6 473.7h0M162.7 469.6h0M164.5 484.5h0M157.6 475.2h0M164.3 491.4h0M156.7 482.0h0M153.1 485.8h0M155.0 484.8h0M146.7 484.0h0M161.6 481.7h0M164.4 473.8h0M162.4 481.5h0M157.0 484.2h0M163.4 465.5h0M156.9 479.6h0M160.5 480.4h0M154.3 482.5h0M160.8 474.7h0M157.5 479.4h0M153.7 480.4h0M166.5 476.4h0M159.5 484.9h0M162.6 477.6h0M150.5 486.5h0M146.5 482.6h0M161.5 485.6h0M157.0 478.5h0M154.1 487.8h0M148.3 470.3h0M154.0 478.7h0M159.1 478.0h0M156.9 475.7h0M161.8 487.3h0M148.2 489.3h0M158.2 481.1h0M160.7 484.2h0M157.5 484.0h0M147.7 483.8h0M157.3 471.3h0M153.8 485.0h0M154.3 471.9h0M155.3 475.6h0M157.1 490.1h0M166.7 480.2h0M158.9 471.9h0M159.9 484.5h0M153.3 486.1h0M153.4 481.4h0M157.9 480.9h0M158.1 484.0h0M153.6 482.0h0M160.0 488.5h0M152.3 476.8h0M154.3 469.5h0M158.6 495.9h0M153.5 477.6h0M154.4 479.6h0M152.3 496.2h0M151.4 485.9h0M161.3 481.4h0M163.6 466.2h0M141.9 485.7h0M158.4 479.0h0M157.6 473.8h0M151.5 473.7h0M156.6 485.1h0M166.1 478.1h0M148.2 487.8h0M154.5 471.8h0M159.9 464.7h0M150.0 495.6h0M153.8 484.2h0M162.9 469.9h0M157.1 489.8h0M160.7 491.8h0M168.8 497.2h0M159.9 475.1h0M160.7 474.7h0M147.5 468.1h0M156.6 479.7h0M153.6 489.4h0M155.7 473.9h0M156.3 479.9h0M159.4 479.8h0M160.9 476.6h0M155.7 485.0h0M152.5 481.9h0M157.3 488.7h0M144.2 490.8h0M154.7 480.8h0M163.4 484.5h0M149.4 477.6h0M160.1 477.7h0M158.2 487.5h0M166.1 474.5h0M148.4 474.0h0M154.1 488.4h0M157.6 490.8h0M157.4 469.0h0M158.3 474.7h0M157.9 466.7h0M160.2 471.6h0M154.3 487.5h0M155.2 472.7h0M163.7 477.4h0M161.2 479.4h0M147.4 478.5h0M158.3 478.9h0M164.6 466.1h0M152.7 485.5h0M162.0 487.3h0M151.6 483.0h0M158.9 495.2h0M167.1 484.2h0M159.5 486.5h0M155.8 482.6h0M158.2 481.4h0M159.7 480.3h0M153.5 489.6h0M161.0 474.0h0M159.3 473.0h0M158.0 474.3h0M153.4 483.7h0M151.8 486.5h0M164.3 478.1h0M152.6 483.5h0M155.2 467.6h0M167.1 476.1h0M165.5 487.6h0M159.7 483.5h0M154.8 485.5h0M153.4 483.5h0M152.0 480.5h0M142.1 475.6h0M158.2 480.9h0M157.9 484.5h0M164.9 475.9h0M138.5 484.5h0M157.4 480.3h0M159.9 493.4h0M157.8 472.5h0M160.0 474.4h0M148.8 471.3h0M156.4 468.7h0M154.4 484.0h0M145.0 490.4h0M166.2 478.8h0M155.9 478.1h0M141.6 481.7h0M148.8 478.8h0M151.0 472.8h0M152.7 471.4h0M145.4 490.0h0M150.9 487.6h0M160.0 477.5h0M156.5 480.5h0M158.8 483.5h0M154.9 479.8h0M161.3 473.3h0M148.0 462.7h0M154.5 488.1h0M166.6 475.2h0M157.1 472.9h0M156.8 478.6h0M160.7 486.7h0M158.4 480.7h0M160.6 478.4h0M162.6 492.3h0M160.4 494.2h0M153.2 484.2h0M157.6 474.0h0M157.9 478.8h0M158.6 481.3h0M159.7 477.5h0M156.3 487.7h0M162.7 481.5h0M147.6 487.7h0M159.4 471.2h0M146.5 467.0h0M148.4 494.9h0M154.1 478.8h0M159.9 492.4h0M157.0 479.5h0M161.4 491.1h0M157.6 475.5h0M151.0 487.3h0M151.5 475.4h0M145.6 469.9h0M159.3 475.3h0M160.1 478.8h0M153.6 487.7h0M156.9 477.4h0M163.7 472.0h0M150.6 480.3h0M156.1 464.5h0M154.7 478.0h0M151.9 481.8h0M145.7 483.7h0M161.3 498.8h0M149.8 488.0h0M152.2 466.5h0M156.1 473.3h0M153.3 473.0h0M158.5 478.6h0M158.2 482.0h0M158.3 480.4h0M150.2 485.6h0M154.3 480.5h0M156.9 481.1h0M152.9 475.1h0M151.6 477.4h0M159.7 472.5h0M157.5 494.5h0M149.1 480.5h0M157.7 478.0h0M153.4 486.1h0M155.6 482.0h0M150.6 490.3h0M165.8 477.7h0M158.3 475.5h0M162.2 483.6h0M157.3 479.2h0M151.4 481.9h0M158.0 464.8h0M156.7 464.6h0M163.8 481.1h0M158.6 473.6h0M165.2 483.2h0M156.7 478.6h0M152.1 477.0h0M154.6 470.0h0M161.6 466.9h0M158.2 490.5h0M157.4 483.0h0M154.1 471.4h0M164.9 467.9h0M158.3 470.8h0M158.9 485.3h0M162.0 480.2h0M156.4 477.4h0M156.3 479.4h0M160.3 478.4h0M155.2 499.0h0M150.4 481.0h0M168.5 469.2h0M163.3 481.8h0M161.4 485.7h0M149.0 487.8h0M154.6 467.5h0M158.6 471.5h0M155.3 482.5h0M148.9 486.6h0M160.0 481.0h0M160.7 479.3h0M163.7 476.4h0M157.2 485.8h0M158.6 467.2h0M154.7 489.5h0M153.7 467.6h0M158.4 471.9h0M162.4 474.6h0M144.4 469.6h0M150.9 474.1h0M157.6 480.5h0M160.6 473.1h0M153.7 483.0h0M158.6 486.8h0M148.8 481.4h0M158.2 484.2h0M154.6 481.9h0M147.7 471.4h0M161.7 472.6h0M157.7 498.1h0M148.2 471.4h0M156.8 482.3h0M156.8 481.1h0M150.2 477.2h0M160.9 470.8h0M155.1 479.6h0M160.5 474.2h0M162.6 482.2h0M157.4 477.9h0M152.9 469.9h0M159.8 479.6h0M160.2 486.0h0M151.8 480.8h0M152.8 464.3h0M160.9 480.6h0M156.6 489.9h0M150.5 489.4h0M153.7 482.7h0M156.5 472.8h0M149.0 488.5h0M154.0 483.0h0M153.8 481.7h0M155.2 479.2h0M160.2 493.5h0M151.3 475.0h0M158.0 476.9h0M155.7 486.3h0M156.1 471.2h0M160.4 481.2h0M158.3 481.1h0M147.1 490.1h0M152.5 489.4h0M150.2 480.5h0M157.5 474.9h0M158.3 484.3h0M153.5 485.1h0M156.6 485.2h0M152.2 474.8h0M153.8 475.7h0M154.2 484.3h0M157.9 473.6h0M155.2 483.8h0M152.3 476.9h0M153.9 471.9h0M151.1 473.5h0M159.4 476.7h0M157.9 475.2h0M148.8 475.3h0M160.2 480.6h0M153.6 482.3h0M156.0 475.5h0M153.1 482.2h0M154.0 467.0h0M157.6 469.6h0M147.5 468.2h0M145.5 490.0h0M154.7 488.1h0M157.6 477.1h0M148.5 484.2h0M155.0 478.6h0M149.3 490.7h0M151.9 482.5h0M156.0 493.7h0M164.1 483.6h0M154.8 489.1h0M160.4 466.3h0M156.4 474.4h0M162.5 492.9h0M152.2 476.9h0M152.0 484.4h0M160.6 467.5h0M148.3 485.1h0M157.3 473.2h0M158.1 489.2h0M163.5 484.4h0M153.1 486.9h0M158.7 475.6h0M163.5 491.7h0M167.0 480.9h0M154.6 478.3h0M156.7 473.0h0M149.4 494.4h0M159.9 483.6h0M161.2 475.3h0M154.7 478.5h0M163.1 479.1h0M157.6 476.5h0M158.4 484.9h0M156.3 476.8h0M165.5 472.3h0M152.7 485.9h0M151.3 471.9h0M158.4 487.6h0M167.4 496.0h0M158.5 495.9h0M150.3 478.7h0M148.8 491.6h0M153.4 481.7h0M154.4 481.8h0M154.6 485.7h0M161.3 477.0h0M156.0 477.8h0M152.3 493.4h0M146.6 464.9h0M148.0 490.2h0M159.2 488.8h0M150.6 478.8h0M166.3 469.1h0M146.2 468.2h0M154.7 487.1h0M160.3 478.6h0M157.9 479.3h0M154.2 491.2h0M156.7 478.4h0M156.3 481.4h0M158.5 489.0h0M156.2 483.8h0M154.7 475.4h0M165.7 476.5h0M164.9 467.8h0M164.8 470.7h0M155.9 480.7h0M156.4 480.0h0M152.8 486.7h0M154.8 471.3h0M160.4 484.1h0M153.0 469.2h0M161.2 481.0h0M155.4 474.4h0M150.6 491.5h0M158.3 473.8h0M159.2 482.4h0M157.0 465.6h0M158.8 485.6h0M150.9 484.3h0M155.2 481.7h0M151.2 486.4h0M156.3 479.3h0M157.7 471.4h0M158.5 494.3h0M159.4 479.8h0M151.9 481.7h0M156.0 477.5h0M153.7 479.2h0M159.4 480.6h0M158.0 482.2h0M144.2 500.0h0M159.8 478.8h0M156.3 488.1h0M159.0 492.7h0M149.1 481.2h0M152.8 482.1h0M157.9 483.4h0M151.6 485.9h0M161.1 481.5h0M156.9 492.5h0M160.9 476.2h0M162.0 483.9h0M151.6 474.8h0M147.2 473.3h0M156.4 487.7h0M156.0 476.4h0M154.8 474.8h0M154.1 494.7h0M156.7 470.9h0M155.8 474.3h0M151.0 472.8h0M165.1 472.6h0M152.3 478.7h0M161.6 498.1h0M159.2 483.7h0M154.5 478.5h0M163.0 474.3h0M159.4 472.3h0M155.7 478.6h0M160.5 464.7h0M148.7 480.1h0M156.8 486.5h0M149.2 488.2h0M159.1 478.3h0M163.0 475.3h0M161.6 491.2h0M155.7 481.8h0M154.0 481.8h0M158.6 476.3h0M156.1 483.0h0M150.1 480.7h0M157.0 492.9h0M158.6 477.4h0M155.8 485.2h0M151.4 484.0h0M152.2 488.3h0M161.4 473.5h0M160.2 486.6h0M150.3 477.3h0M155.8 487.9h0M152.9 489.6h0M161.4 479.0h0M154.9 482.1h0M158.4 484.5h0M149.3 475.5h0M148.9 489.9h0M160.7 478.8h0M159.5 471.2h0M156.3 484.2h0M148.5 480.7h0M150.6 488.1h0M155.7 477.1h0M151.1 488.4h0M156.9 475.4h0M153.4 473.4h0M162.0 476.5h0M164.8 477.0h0M151.7 478.0h0M155.6 486.3h0M168.2 495.3h0M159.4 468.6h0M163.8 495.4h0M149.1 478.3h0M158.3 498.0h0M161.0 481.6h0M145.1 488.7h0M150.2 475.4h0M149.2 484.8h0M166.0 482.1h0M160.7 474.4h0M150.2 482.7h0M147.9 473.0h0M156.7 471.8h0M158.6 499.0h0M160.4 491.6h0M152.2 478.4h0M156.0 484.3h0M150.6 474.2h0M161.3 485.5h0M165.0 493.7h0M158.3 474.7h0M153.0 472.2h0M160.6 488.6h0M163.5 476.0h0M162.4 475.6h0M156.4 475.4h0M158.5 481.6h0M156.6 461.5h0M158.4 488.0h0M160.9 469.8h0M146.1 491.0h0M156.3 476.8h0M150.9 474.0h0M150.6 473.8h0M158.4 465.4h0M164.6 490.6h0M147.5 481.6h0" stroke="#3a52d0" stroke-width=".7" stroke-linecap="round" fill="none" opacity=".75"/>
<path d="M152.4 463.3h0M129.5 465.1h0M161.5 456.0h0M148.3 463.4h0M153.5 467.5h0M142.8 452.5h0M149.8 459.1h0M147.6 461.8h0M146.4 461.5h0M143.1 466.9h0M157.2 459.7h0M145.5 457.1h0M144.6 451.7h0M144.3 464.6h0M148.7 463.6h0M152.2 456.4h0M143.1 457.0h0M151.4 455.0h0M146.2 453.3h0M160.8 451.1h0M154.4 452.9h0M148.5 467.7h0M145.8 460.9h0M143.3 467.6h0M160.0 466.2h0M145.8 450.9h0M142.4 451.2h0M159.2 460.0h0M149.5 454.6h0M154.0 457.3h0M147.3 459.9h0M143.7 451.3h0M158.4 467.5h0M137.4 461.3h0M140.3 455.7h0M148.3 463.3h0M138.9 466.0h0M150.9 467.0h0M144.9 447.8h0M156.3 453.3h0M168.3 460.5h0M158.2 453.3h0M150.0 459.7h0M138.0 451.7h0M152.1 461.2h0M147.5 468.6h0M161.1 448.9h0M146.6 452.8h0M143.1 456.2h0M137.0 460.3h0M159.8 465.4h0M138.9 460.0h0M154.4 456.4h0M163.3 462.0h0M160.1 459.2h0M155.4 462.6h0M143.8 450.1h0M151.2 453.6h0M157.5 453.2h0M154.3 452.1h0M164.9 459.8h0M142.3 458.6h0M151.7 446.2h0M142.8 460.3h0M144.8 456.8h0M161.1 464.8h0M152.1 460.8h0M162.3 460.5h0M140.2 459.7h0M142.0 454.6h0M151.2 458.3h0M150.1 462.4h0M149.1 459.8h0M156.0 456.1h0M149.0 457.1h0M142.7 454.4h0M154.0 459.1h0M140.4 462.2h0M156.0 463.3h0M159.6 459.3h0M155.0 457.7h0M143.6 458.2h0M154.0 459.9h0M146.3 455.1h0M146.4 456.5h0M148.7 461.2h0M149.9 447.6h0M156.0 456.2h0M164.6 467.8h0M157.9 457.5h0M150.2 451.4h0M161.1 456.3h0M158.0 460.5h0M164.3 459.6h0M151.1 456.1h0M139.0 460.9h0M145.8 463.6h0M159.4 460.0h0M167.1 460.6h0M156.8 455.0h0M155.8 458.3h0M161.2 458.4h0M135.4 463.2h0M159.0 452.6h0M150.7 460.6h0M156.6 454.0h0M145.2 456.2h0M147.5 455.7h0M152.3 451.8h0M153.7 453.8h0M147.1 455.4h0M156.5 459.5h0M147.1 460.5h0M143.7 459.7h0M152.2 458.9h0M141.8 460.4h0M154.8 460.5h0M147.6 463.7h0M163.7 464.7h0M152.9 467.0h0M145.6 450.0h0M144.8 455.3h0M146.5 457.9h0M153.1 457.1h0M143.7 457.0h0M154.3 453.7h0M140.7 456.4h0M148.4 475.1h0M152.8 455.6h0M148.6 455.5h0M156.1 469.5h0M154.0 455.8h0M152.4 471.8h0M144.6 455.4h0M147.4 456.5h0M134.4 453.5h0M148.8 462.4h0M143.8 453.0h0M148.5 451.9h0M137.4 458.8h0M153.3 456.4h0M153.9 461.2h0M156.4 457.4h0M154.5 455.8h0M152.2 462.8h0M163.0 460.7h0M147.5 455.9h0M142.7 462.5h0M159.5 454.9h0M147.8 457.8h0M140.5 452.5h0M154.6 455.3h0M155.0 460.4h0M160.6 455.3h0M160.9 456.5h0M151.1 465.0h0M147.4 452.9h0M155.8 457.0h0M139.9 465.1h0M146.1 462.5h0M150.4 454.7h0M151.6 451.8h0M158.7 453.6h0M151.3 470.7h0M149.2 458.6h0M141.5 466.3h0M152.6 459.7h0M140.7 456.6h0M149.8 456.4h0M146.2 447.6h0M143.2 469.3h0M153.4 462.8h0M142.3 464.9h0M147.3 456.8h0M152.1 457.9h0M155.4 453.3h0M151.6 452.7h0M167.3 450.9h0M160.5 464.7h0M149.3 457.8h0M149.9 461.0h0M154.9 460.9h0M156.3 460.2h0M144.7 461.6h0M146.8 453.3h0M153.4 457.5h0M132.6 462.5h0M150.9 460.8h0M141.9 457.5h0M146.5 458.2h0M158.7 453.9h0M148.2 456.7h0M153.3 450.7h0M155.4 455.6h0M160.7 464.6h0M148.6 455.4h0M147.8 455.0h0M157.6 468.2h0M142.1 454.5h0M151.8 459.7h0M153.9 452.2h0M156.5 456.9h0M155.2 457.5h0M141.0 463.0h0M149.4 455.7h0M141.3 456.5h0M159.4 464.6h0M155.8 455.8h0M151.9 459.7h0M146.7 456.7h0M152.4 453.9h0M149.0 453.0h0M146.4 456.0h0M153.6 461.4h0M146.0 459.2h0M161.1 447.7h0M149.9 451.2h0M159.5 460.9h0M154.3 460.2h0M139.3 464.4h0M148.9 457.8h0M140.5 458.9h0M139.2 450.8h0M167.4 457.3h0M166.9 465.8h0M159.9 448.6h0M162.6 459.0h0M146.8 469.0h0M157.0 462.8h0M143.4 457.0h0M155.5 458.2h0M137.3 459.5h0M150.5 457.0h0M153.2 456.0h0M160.4 450.0h0M145.8 461.3h0M157.8 466.6h0M158.1 452.6h0M157.2 456.8h0M160.8 463.5h0M144.8 457.2h0M152.2 452.6h0M140.2 456.6h0M156.1 465.6h0M154.2 459.6h0M148.0 465.4h0M141.2 461.3h0M158.5 465.6h0M145.2 453.7h0M148.3 462.5h0M154.2 458.4h0M157.4 458.4h0M149.6 467.1h0M148.3 460.1h0M145.9 461.1h0M146.7 462.2h0M149.3 458.4h0M167.2 461.9h0M157.7 456.7h0M148.7 462.6h0M156.9 460.7h0M158.9 447.9h0M151.6 464.3h0M155.5 464.4h0M144.4 461.3h0M145.4 450.7h0M163.2 462.2h0M161.8 455.3h0M150.4 455.2h0M159.7 455.9h0M146.9 456.7h0M147.5 455.4h0M163.8 453.1h0M144.8 451.9h0M159.1 454.2h0M156.2 465.7h0M153.8 467.8h0M146.8 471.1h0M157.1 451.4h0M155.3 456.8h0M161.3 452.2h0M157.7 451.1h0M154.9 450.1h0M133.5 460.8h0M142.4 464.4h0M151.7 455.4h0M158.4 468.0h0M147.9 455.1h0M151.3 452.8h0M148.2 453.4h0M161.8 453.0h0M160.5 464.0h0M148.7 458.1h0M144.1 466.5h0M147.0 459.7h0M147.7 458.7h0M155.2 461.0h0M158.7 458.7h0M155.0 450.7h0M148.2 449.3h0M157.2 458.6h0M141.8 455.4h0M153.6 465.9h0M147.2 460.4h0M142.1 470.5h0M142.6 462.5h0M150.0 454.6h0M159.7 468.6h0M157.9 458.9h0M158.2 455.5h0M148.2 452.9h0M147.8 457.0h0M152.2 454.8h0M147.3 445.4h0M161.9 463.0h0M154.6 459.4h0M142.0 452.2h0M148.2 456.0h0M153.7 455.5h0M134.1 462.1h0M146.9 460.8h0M149.7 462.1h0M155.7 455.9h0M152.7 458.9h0M151.2 451.9h0M146.2 458.5h0M148.7 448.1h0M156.4 458.5h0M148.9 454.0h0M145.5 458.6h0M160.5 464.5h0M151.0 459.0h0M152.4 462.5h0M158.4 462.8h0M150.7 463.7h0M137.3 453.1h0M154.1 462.5h0M145.4 463.3h0M149.3 457.7h0M150.4 456.3h0M158.1 456.4h0M145.9 462.3h0M142.9 458.3h0M145.2 457.9h0M140.0 456.3h0M139.1 459.7h0M152.0 453.5h0M140.7 454.2h0M144.5 465.8h0M156.1 454.9h0M156.2 460.0h0M142.3 450.3h0M145.7 451.9h0M145.4 455.5h0M153.1 449.3h0M164.5 456.0h0M143.6 454.3h0M143.7 464.1h0M144.5 446.1h0M145.2 461.1h0M142.7 458.0h0M160.2 462.7h0M142.5 462.3h0M150.8 456.6h0M164.8 454.7h0M155.6 456.3h0M145.7 451.3h0M154.2 459.7h0M162.7 454.2h0M159.9 455.9h0M141.7 459.7h0M157.0 457.0h0M159.4 467.1h0M161.8 459.6h0M145.0 467.0h0M153.0 456.4h0M142.7 461.0h0M163.8 461.2h0M144.3 459.5h0M148.2 460.7h0M163.4 450.0h0M152.9 456.6h0M152.9 456.7h0M144.1 465.5h0M148.7 456.4h0M158.5 462.3h0M158.1 455.0h0M148.7 462.0h0M146.3 453.2h0M144.0 455.3h0M140.6 455.3h0M147.2 462.8h0M143.4 457.4h0M147.5 454.2h0M142.9 457.9h0M155.3 458.5h0M141.0 463.9h0M151.2 457.9h0M140.6 456.4h0M163.7 459.9h0M150.2 468.6h0M159.3 457.0h0M144.3 453.6h0M149.7 455.2h0M155.1 454.3h0M157.9 452.3h0M139.3 464.2h0M143.9 459.5h0M155.0 459.2h0M159.2 461.9h0M151.0 458.4h0M160.4 458.5h0M157.3 462.2h0M146.6 461.2h0M171.2 453.7h0M157.1 448.3h0M149.0 456.3h0M154.5 459.3h0M141.7 452.4h0M150.2 455.1h0M149.2 459.2h0M150.7 465.6h0M153.1 460.3h0M145.3 465.4h0M158.8 459.3h0M149.7 460.6h0M158.9 463.4h0M146.5 462.8h0M150.9 455.0h0M148.7 462.4h0M163.8 456.8h0M147.3 459.0h0M148.0 452.0h0M159.6 453.6h0M148.6 458.8h0M149.4 462.2h0M143.3 451.9h0M152.8 458.0h0M142.9 462.1h0M152.6 450.4h0M152.5 461.1h0M155.9 454.8h0M149.5 458.0h0M154.5 454.7h0M150.1 456.7h0M149.9 454.5h0M153.5 463.2h0M160.4 458.0h0M153.4 458.7h0M153.5 453.1h0M138.9 465.7h0M169.0 454.9h0M157.3 459.9h0M160.2 453.2h0M152.2 468.7h0M166.5 453.0h0M151.3 457.0h0M164.8 462.7h0M145.6 461.1h0M150.1 451.9h0M147.6 463.0h0M136.5 466.2h0M155.9 462.9h0M137.4 461.4h0M144.9 450.9h0M145.5 460.0h0M150.8 471.7h0M159.1 465.8h0M155.9 459.7h0M151.7 471.3h0M148.7 452.8h0M154.3 458.3h0M151.4 452.1h0M145.5 457.8h0M148.3 460.1h0M161.1 460.4h0M154.1 456.7h0M141.3 460.2h0M151.1 455.1h0M145.6 462.3h0M155.1 458.1h0M156.7 450.9h0M150.3 465.4h0M148.6 459.8h0M149.3 460.3h0M144.0 451.3h0M157.3 460.9h0M157.8 453.9h0M152.6 457.7h0M136.2 451.7h0M154.4 466.8h0M147.5 466.9h0M143.6 461.6h0M148.7 452.8h0M157.0 455.2h0M154.3 463.0h0M146.2 455.1h0M150.2 458.1h0M163.5 461.7h0M146.5 459.3h0M149.6 458.0h0M157.6 461.3h0M148.8 462.4h0M157.9 461.3h0M147.0 466.1h0M161.5 454.4h0M157.2 462.4h0M154.7 462.2h0M149.5 457.4h0M172.9 473.1h0M141.4 469.6h0M156.3 459.0h0M157.6 465.4h0M151.9 461.0h0M160.9 454.1h0M140.9 461.1h0M161.8 456.7h0M154.0 456.4h0M150.9 458.0h0M166.2 450.4h0" stroke="#3a52d0" stroke-width=".7" stroke-linecap="round" fill="none" opacity=".75"/>
<path d="M137.8 482.9h0M139.6 493.7h0M135.1 478.0h0M140.2 486.7h0M138.8 487.3h0M139.0 486.0h0M138.2 487.4h0M137.9 485.7h0M140.3 489.3h0M140.9 490.7h0M139.6 493.0h0M140.0 487.8h0M135.0 490.7h0M139.8 486.7h0M136.0 486.1h0M137.1 486.7h0M139.5 486.8h0M138.7 486.6h0M142.9 484.0h0M140.1 484.3h0M138.4 490.7h0M137.1 486.9h0M136.8 491.7h0M139.7 489.5h0M138.8 490.5h0M136.6 488.9h0M134.9 491.1h0M137.9 485.6h0M141.6 487.0h0M140.1 485.5h0M138.2 490.3h0M137.8 485.3h0M140.1 486.1h0M136.1 486.4h0M142.1 484.8h0M136.1 489.9h0M138.1 485.3h0M143.0 487.5h0M136.9 489.0h0M138.2 495.9h0M139.7 486.0h0M138.1 486.8h0M137.6 489.5h0M142.8 481.0h0M139.0 488.9h0M139.0 490.4h0M140.9 487.5h0M137.8 490.3h0M137.7 485.0h0M138.6 487.7h0M138.0 486.2h0M139.4 490.7h0M137.7 484.2h0M136.4 486.2h0M139.3 489.0h0M138.2 483.1h0M136.6 490.2h0M140.3 489.6h0M140.8 487.3h0M138.1 483.7h0M139.1 486.2h0M136.9 485.1h0M136.5 488.8h0M139.2 491.4h0M139.1 486.3h0M140.4 488.1h0M135.0 487.0h0M136.3 482.8h0M136.9 490.8h0M142.3 485.7h0M140.1 489.7h0M139.6 493.2h0M138.7 485.3h0M136.4 484.3h0M138.9 480.8h0M141.0 481.6h0M136.4 485.2h0M138.1 485.8h0M138.4 492.7h0M138.1 489.3h0M137.1 492.1h0M138.6 487.8h0M136.7 484.2h0M139.0 482.6h0M139.8 487.8h0M133.2 487.7h0M140.7 484.1h0M139.7 492.4h0M138.8 486.7h0M142.0 488.2h0M141.7 484.1h0M138.7 488.7h0M140.1 490.1h0M140.7 486.1h0M138.4 486.0h0M140.4 489.8h0M137.6 488.5h0M138.4 485.2h0M139.2 490.2h0M138.3 484.2h0M142.5 494.8h0M137.4 485.8h0M138.9 487.3h0M138.5 486.5h0M139.6 482.5h0M137.7 491.8h0M138.4 490.6h0M138.4 485.4h0M136.7 488.4h0M139.5 477.8h0M137.9 491.7h0M140.7 489.1h0M137.3 488.1h0M137.4 486.8h0M140.4 490.8h0M135.9 490.5h0M142.4 484.3h0M139.1 490.2h0M138.9 490.0h0M139.2 489.4h0M144.5 491.0h0M138.7 484.7h0M139.8 483.9h0M136.4 485.2h0M139.3 485.7h0M139.3 484.0h0M141.0 487.8h0M138.7 484.2h0M138.7 485.8h0M138.6 482.6h0M140.2 487.4h0M142.2 490.4h0M136.4 484.7h0M139.9 488.2h0M139.3 486.7h0M140.2 491.0h0M136.6 487.0h0M136.8 482.7h0M137.3 490.0h0M141.7 492.1h0M139.5 486.3h0M138.9 488.5h0M138.1 486.8h0M137.4 485.6h0M139.2 487.3h0M139.9 491.1h0M140.4 489.1h0M137.6 490.1h0M143.1 486.0h0M134.9 481.1h0M141.2 489.7h0M139.1 486.6h0M141.7 485.5h0M140.3 486.3h0M140.5 491.2h0M140.3 490.6h0M138.5 488.8h0M140.3 493.3h0M139.5 488.3h0M137.9 488.4h0M135.9 486.3h0M141.6 485.1h0M138.5 489.4h0M137.6 488.1h0M137.1 485.9h0M141.3 483.1h0M135.4 481.9h0M140.2 485.5h0M141.7 481.8h0M139.6 480.1h0" stroke="#3a52d0" stroke-width=".7" stroke-linecap="round" fill="none" opacity=".75"/>
<g transform="translate(151.2 457.9) rotate(5)" filter="url(#bl)">
<ellipse rx="8.2" ry="5" fill="#3346c8" opacity=".5"/>
<ellipse rx="6.89" ry="4.2" fill="#2e8fc4" opacity="1"/>
</g>
<g transform="translate(151 457.6) rotate(5)" filter="url(#bl)">
<ellipse rx="2.11" ry="1.36" fill="#4fb96a" opacity="1"/>
</g>
<g transform="translate(138.8 487.1) rotate(0)" filter="url(#bl)">
<ellipse rx="2.3" ry="3.6" fill="#3346c8" opacity=".6"/>
<ellipse rx="1.93" ry="3.02" fill="#2e8fc4" opacity="1"/>
</g>
<g transform="translate(156.8 480.2) rotate(8)" filter="url(#bl)">
<ellipse rx="6.4" ry="11" fill="#3346c8" opacity=".75"/>
<ellipse rx="5.38" ry="9.24" fill="#2e8fc4" opacity="1"/>
<ellipse rx="3.97" ry="6.82" fill="#4fb96a" opacity="1"/>
<ellipse rx="2.69" ry="4.62" fill="#d8dc3c" opacity="1"/>
<ellipse rx="1.79" ry="3.08" fill="#f39a2c" opacity="1"/>
<ellipse rx=".96" ry="1.65" fill="#e8321e" opacity="1"/>
</g>
<path d="M246.8 481.9h0M234.3 467.5h0M235.8 449.5h0M226.1 458.8h0M233.3 459.7h0M242.6 448.0h0M238.8 460.8h0M234.7 465.5h0M236.9 478.8h0M230.2 487.9h0M231.5 455.9h0M235.1 483.4h0M237.7 469.5h0M243.1 460.6h0M232.0 492.6h0M241.9 468.3h0M236.4 467.4h0M237.3 472.6h0M230.8 458.9h0M235.5 465.1h0M233.5 468.7h0M235.3 492.8h0M237.5 466.4h0M238.0 459.3h0M231.4 475.8h0M231.7 462.3h0M243.3 493.1h0M240.4 460.8h0M227.7 463.5h0M229.9 463.9h0M233.8 477.4h0M246.5 462.3h0M234.6 455.3h0M243.0 484.2h0M237.6 464.2h0M235.2 476.8h0M225.1 473.7h0M238.5 461.9h0M241.8 467.2h0M238.5 483.4h0M239.0 459.5h0M237.5 480.6h0M233.5 460.8h0M236.4 481.5h0M242.8 489.9h0M238.0 453.3h0M235.7 469.3h0M242.7 482.0h0M229.9 457.7h0M236.7 461.6h0M227.5 454.1h0M242.4 478.0h0M230.4 471.2h0M233.3 463.8h0M241.0 488.1h0M241.2 469.0h0M242.1 456.9h0M227.0 465.4h0M233.5 482.9h0M230.7 474.4h0M237.4 477.7h0M233.4 468.7h0M231.7 472.0h0M232.2 479.3h0M237.2 472.0h0M236.6 474.8h0M239.9 486.3h0M226.9 488.0h0M237.7 483.6h0M241.2 468.6h0M231.8 484.6h0M244.7 467.5h0M227.9 483.9h0M240.3 471.9h0M230.5 494.4h0M234.4 476.1h0M233.0 490.5h0M237.6 487.9h0M240.1 481.0h0M235.0 469.7h0M232.9 469.7h0M229.3 480.2h0M241.2 474.6h0M222.9 464.2h0M226.3 469.5h0M243.2 458.0h0M233.3 472.9h0M235.6 478.5h0M240.7 478.9h0M234.3 456.1h0M236.4 466.0h0M236.8 475.8h0M232.0 473.5h0M235.7 454.3h0M234.3 481.5h0M226.5 473.1h0M242.0 461.5h0M234.3 457.0h0M243.3 476.5h0M236.9 473.8h0M236.4 483.2h0M236.7 455.8h0M238.5 504.2h0M241.8 475.5h0M237.1 468.6h0M233.5 466.5h0M235.0 472.8h0M235.7 458.4h0M233.4 476.4h0M239.3 481.7h0M232.8 480.9h0M236.1 486.4h0M233.4 489.6h0M235.3 475.2h0M236.4 474.7h0M231.6 480.8h0M233.9 487.5h0M235.4 460.9h0M226.9 460.7h0M239.7 473.8h0M240.8 482.5h0M238.9 459.7h0M236.6 462.0h0M242.8 467.2h0M237.5 468.3h0M237.8 491.1h0M237.5 491.5h0M223.7 463.8h0M230.2 476.0h0M230.5 493.6h0M236.8 478.6h0M247.7 464.6h0M234.7 479.8h0M233.2 478.6h0M229.3 478.0h0M230.2 479.1h0M230.9 486.7h0M232.8 478.9h0M230.9 479.8h0M232.1 484.9h0M239.8 491.2h0M236.9 460.4h0M236.2 479.6h0M233.1 478.4h0M239.3 464.3h0M244.0 463.1h0M233.9 472.4h0M235.3 462.9h0M242.8 473.6h0M233.6 462.5h0M238.2 475.9h0M233.0 477.1h0M245.2 473.7h0M229.2 480.0h0M243.6 472.0h0M232.6 480.1h0M234.6 484.2h0M237.9 476.2h0M234.1 483.0h0M236.9 467.3h0M238.0 467.1h0M242.3 475.0h0M235.6 481.7h0M233.1 469.0h0M239.8 491.2h0M239.2 451.6h0M235.6 485.0h0M232.2 475.9h0M234.8 486.8h0M240.3 482.9h0M225.0 494.6h0M235.3 475.3h0M230.1 466.2h0M241.3 463.0h0M236.9 483.4h0M234.7 491.7h0M231.2 469.9h0M238.5 455.3h0M233.6 477.5h0M237.8 483.8h0M234.4 480.6h0M242.0 477.2h0M230.2 477.7h0M247.1 466.5h0M232.7 480.6h0M235.1 464.1h0M237.0 489.0h0M237.4 487.1h0M235.9 464.4h0M241.0 473.8h0M241.7 484.3h0M238.0 475.6h0M234.6 445.6h0M235.0 470.1h0M234.4 482.7h0M234.3 463.8h0M239.6 461.4h0M240.3 477.6h0M240.1 491.4h0M242.8 480.4h0M236.0 497.7h0M237.1 476.2h0M234.6 467.7h0M242.1 489.3h0M241.4 457.2h0M239.6 456.7h0M228.8 490.4h0M237.3 496.5h0M244.1 456.4h0M228.1 493.7h0M231.6 470.5h0M238.7 487.6h0M239.6 459.3h0M236.3 474.4h0M242.9 467.6h0M242.1 487.5h0M236.0 470.8h0M242.3 493.7h0M230.5 452.7h0M235.7 480.5h0M234.5 455.7h0M232.5 481.6h0M231.0 485.9h0M237.3 472.3h0M226.2 450.7h0M236.1 478.7h0M239.5 491.5h0M236.2 472.4h0M238.1 490.2h0M234.7 490.4h0M238.8 494.5h0M236.4 488.5h0M236.3 479.1h0M235.0 475.2h0M229.3 460.5h0M231.5 486.9h0M241.1 477.7h0M239.8 461.4h0M233.6 480.9h0M231.1 453.9h0M226.2 491.1h0M235.7 474.4h0M237.5 490.8h0M229.6 462.8h0M234.0 498.4h0M229.2 457.9h0M235.9 466.9h0M241.6 476.1h0M235.7 491.2h0M227.1 457.1h0M241.4 456.8h0M233.6 468.8h0M245.0 477.1h0M237.8 485.5h0M231.6 486.2h0M237.9 446.3h0M230.9 460.1h0M239.3 478.8h0M242.7 482.2h0M228.0 452.8h0M231.2 473.9h0M227.0 458.5h0M236.6 459.7h0M236.1 474.8h0M227.7 481.3h0M240.8 471.1h0M237.2 475.4h0M238.2 453.5h0M235.7 463.1h0M233.3 456.8h0M234.2 458.8h0M243.4 465.0h0M231.0 481.8h0M241.8 469.4h0M238.2 472.9h0M234.8 475.3h0M239.4 476.2h0M236.0 468.6h0M242.2 488.4h0M231.5 475.3h0M240.3 471.7h0M236.2 494.6h0M237.4 460.3h0M233.6 464.0h0M234.9 475.8h0M237.3 470.0h0M229.4 463.9h0M239.3 473.5h0M235.6 471.4h0M244.0 472.0h0M238.3 468.6h0M239.7 462.0h0M238.1 480.5h0M234.5 470.3h0M238.8 499.2h0M243.1 472.7h0M243.5 460.6h0M237.0 488.2h0M234.7 480.0h0M240.9 470.3h0M240.6 446.7h0M235.6 477.5h0M232.6 462.2h0M235.0 475.0h0M236.0 474.3h0M221.1 468.8h0M238.6 478.4h0M240.0 485.1h0M246.0 472.4h0M254.7 481.3h0M236.0 459.7h0M235.9 487.7h0M244.8 479.7h0M232.3 482.3h0M230.9 457.9h0M244.0 466.6h0M243.2 464.7h0M237.4 460.6h0M240.6 490.7h0M236.3 469.6h0M230.8 457.1h0M242.3 467.3h0M231.1 483.1h0M235.0 477.3h0M230.6 478.3h0M227.8 475.1h0M235.7 481.1h0M230.9 474.7h0M254.9 486.2h0M227.3 457.0h0M241.6 469.3h0M235.5 477.6h0M235.9 482.1h0M231.0 481.3h0M243.1 461.3h0M231.7 464.9h0M244.7 456.3h0M234.3 458.1h0M237.2 481.6h0M241.5 462.3h0M231.7 489.4h0M237.0 476.2h0M226.1 469.3h0M222.7 472.6h0M237.5 479.9h0M235.5 485.2h0M241.8 471.9h0M239.6 491.3h0M246.0 456.4h0M239.9 489.9h0M240.5 461.6h0M237.5 473.8h0M236.8 473.2h0M230.1 471.7h0M237.5 483.0h0M241.6 475.1h0M237.7 466.4h0M235.9 474.3h0M229.6 485.9h0M231.9 494.5h0M243.1 474.0h0M238.4 475.0h0M237.1 450.8h0M235.4 460.1h0M239.2 473.2h0M231.4 479.9h0M241.9 473.1h0M228.8 481.3h0M241.9 479.9h0M247.1 464.9h0M231.0 479.2h0M230.9 477.2h0M235.9 483.0h0M238.8 474.1h0M232.5 465.4h0M239.3 476.6h0M235.8 472.8h0M233.2 484.8h0M233.5 484.0h0M243.8 475.5h0M235.2 477.9h0M230.6 457.0h0M242.7 477.1h0M235.7 488.7h0M238.1 457.8h0M235.6 468.2h0M240.9 465.9h0M235.6 483.6h0M233.0 470.8h0M241.0 478.4h0M238.6 471.3h0M230.3 475.0h0M242.2 458.4h0M235.7 480.2h0M237.3 474.6h0M239.4 490.6h0M232.8 468.0h0M240.4 464.0h0M232.8 499.9h0M241.7 460.3h0M236.6 483.0h0M242.4 483.4h0M231.9 467.0h0M240.8 474.7h0M232.3 479.9h0M237.9 463.0h0M233.2 476.4h0M239.9 476.0h0M232.7 450.7h0M232.1 458.7h0M235.5 461.4h0M237.8 457.4h0M237.3 489.2h0M235.1 462.0h0M237.2 496.1h0M234.0 459.5h0M242.1 473.4h0M229.2 465.6h0M241.5 457.9h0M232.2 488.0h0M233.7 458.3h0M235.5 486.3h0M227.8 486.3h0M237.2 478.7h0M239.1 472.4h0M226.8 473.0h0M239.2 498.5h0M233.3 460.9h0M240.2 460.1h0M234.2 465.4h0M232.7 469.3h0M235.4 455.1h0M232.1 480.2h0M235.8 461.8h0M233.3 482.6h0M238.0 447.1h0M240.8 483.6h0M234.0 479.6h0M238.1 501.5h0M234.2 439.0h0M236.7 474.8h0M222.9 471.4h0M239.2 476.3h0M234.9 467.1h0M234.0 481.1h0M241.0 473.8h0M232.4 471.7h0M230.5 472.3h0M240.6 471.1h0M239.8 452.8h0M247.3 478.1h0M232.3 471.7h0M230.1 473.6h0M231.8 489.7h0M239.9 479.1h0M233.7 463.5h0M232.0 489.3h0M229.7 475.8h0M234.0 473.8h0M238.6 483.1h0M239.9 475.5h0M232.3 462.9h0M233.4 478.1h0M240.1 476.4h0M240.3 474.5h0M231.8 463.9h0M242.5 478.1h0M237.0 470.5h0M238.2 476.5h0M233.4 473.8h0M233.4 466.2h0M236.5 461.6h0M239.5 469.4h0M240.5 461.9h0M231.7 495.4h0M243.1 476.9h0M243.3 480.0h0M238.2 477.6h0M243.5 485.4h0M230.4 475.4h0M227.9 469.6h0M234.9 482.0h0M240.2 469.6h0M236.2 487.3h0M236.3 467.4h0M235.0 490.6h0M236.5 476.1h0M236.1 479.4h0M235.7 487.6h0M242.9 477.3h0M228.7 487.7h0M237.1 474.5h0M225.6 481.0h0M238.1 438.8h0M238.9 503.8h0M243.6 478.2h0M235.1 466.6h0M243.9 481.8h0M233.1 458.8h0M239.1 469.4h0M245.5 485.1h0M237.0 480.8h0M238.0 463.0h0M238.7 486.8h0M233.6 469.2h0M238.1 471.6h0M242.2 483.6h0M241.2 477.1h0M235.7 489.7h0M238.5 479.6h0M242.9 465.4h0M228.6 470.2h0M237.8 485.5h0M235.2 468.8h0M233.3 472.8h0M234.1 489.1h0M248.4 472.5h0M236.5 470.5h0M237.5 465.7h0M235.6 466.4h0M235.5 466.5h0M239.8 461.4h0M243.0 475.5h0M230.3 458.3h0M232.4 456.1h0M235.9 497.8h0M235.4 481.6h0M237.0 471.7h0M244.9 479.2h0M230.0 474.6h0M230.1 471.6h0M236.9 488.7h0M237.1 465.8h0M237.1 478.6h0M232.8 472.4h0M241.7 503.0h0M238.4 465.5h0M240.4 466.0h0M232.7 471.9h0M237.7 474.4h0M239.4 460.4h0M223.3 479.7h0M239.5 472.9h0M232.6 477.7h0M233.2 487.8h0M235.8 482.3h0M227.6 464.4h0M232.5 478.4h0M231.6 466.1h0M229.9 469.9h0M228.0 460.3h0M238.5 481.5h0M244.1 487.0h0M242.6 480.3h0M232.6 463.8h0M239.9 485.3h0M231.6 485.5h0M236.7 478.7h0M231.6 450.0h0M229.7 470.1h0M239.7 470.7h0M242.1 459.9h0M244.1 477.1h0M233.3 468.6h0M240.6 462.2h0M230.2 473.7h0M239.1 471.4h0M234.8 486.6h0M236.0 473.8h0M244.5 492.8h0M231.6 462.3h0M230.5 480.4h0M239.0 470.4h0M235.3 465.2h0M237.3 484.8h0M229.4 466.4h0M239.8 476.9h0M234.8 471.9h0M223.3 459.7h0M234.4 470.6h0M232.2 470.5h0M235.8 460.1h0M236.0 473.8h0M235.9 477.2h0M239.5 497.0h0M224.9 497.2h0M236.6 481.7h0M234.6 477.2h0M234.1 473.1h0M245.9 478.8h0M231.2 487.4h0M235.0 461.3h0M229.6 482.8h0M236.1 481.4h0M228.6 458.3h0M235.1 480.5h0M233.9 488.3h0M235.3 461.9h0M238.7 481.2h0M238.1 476.9h0M229.1 479.2h0M234.5 456.2h0M236.0 472.5h0M232.7 480.7h0M232.7 462.0h0M242.3 477.6h0M241.2 486.5h0M237.5 489.6h0M226.6 471.1h0M245.2 459.1h0M227.2 467.9h0M233.3 466.0h0M234.7 467.0h0M237.2 471.8h0M239.1 471.0h0M234.2 476.8h0M230.8 470.5h0M238.3 468.3h0M240.3 470.3h0M235.7 476.8h0M236.8 474.0h0M227.1 473.7h0M247.7 453.1h0M233.3 467.2h0M237.9 463.0h0M234.5 469.1h0M228.8 473.6h0M242.1 475.2h0M235.6 471.1h0M233.6 455.8h0M236.0 481.5h0M226.9 452.1h0M237.0 493.1h0M242.7 477.7h0M231.0 494.9h0M236.0 464.3h0M230.9 488.3h0M235.8 484.3h0M230.9 479.0h0M232.3 485.2h0M228.2 485.3h0M231.8 470.1h0M230.2 490.6h0M235.6 473.7h0M232.4 468.7h0M235.7 472.1h0M234.9 476.9h0M241.0 480.9h0M236.8 474.6h0M231.7 483.0h0M230.0 466.9h0M242.3 451.4h0M234.4 474.4h0M237.7 484.5h0M232.6 465.9h0M231.9 478.4h0M242.3 479.0h0M235.3 481.4h0M239.5 489.8h0M228.1 475.7h0M241.5 476.6h0M230.4 481.8h0M233.7 476.8h0M246.9 468.8h0M234.0 480.9h0M232.3 479.0h0M231.4 478.7h0M226.2 496.6h0M241.2 475.7h0M244.8 477.7h0M236.1 464.6h0M237.1 467.6h0M232.3 441.8h0M237.6 479.2h0M239.3 460.0h0M235.9 453.9h0M239.9 468.1h0M231.8 463.3h0M232.1 481.8h0M231.5 460.1h0M241.3 455.1h0M234.5 473.8h0M234.4 482.9h0M233.8 476.0h0M234.9 493.2h0M238.2 488.6h0M238.7 465.0h0M235.3 476.6h0M234.4 455.0h0M236.3 468.0h0M237.7 469.9h0M238.1 461.6h0M230.7 471.5h0M239.1 465.7h0M232.7 462.2h0M223.9 481.5h0M233.4 454.3h0M237.9 475.4h0M245.7 481.3h0M240.8 478.3h0M244.6 476.6h0M239.6 476.6h0M233.1 457.6h0M241.8 481.4h0M244.1 464.1h0M223.7 482.3h0M224.4 469.7h0M230.8 464.5h0M226.6 464.0h0M228.7 473.5h0M232.0 475.6h0M227.4 499.6h0M243.5 478.1h0M239.0 490.0h0M231.0 474.0h0M244.9 445.9h0M238.8 478.5h0M234.3 480.9h0M237.9 468.0h0M238.5 470.9h0M240.8 479.2h0M232.8 496.7h0M234.3 478.0h0M234.8 487.2h0M232.4 464.9h0M238.5 455.8h0M235.4 481.7h0M244.2 456.6h0M228.7 465.7h0M238.5 483.5h0M233.5 488.0h0M232.9 479.2h0M234.7 494.1h0M242.7 487.2h0M233.4 455.4h0M233.9 467.7h0M232.5 465.5h0M234.0 479.4h0M241.9 485.9h0M243.5 449.6h0M239.2 502.3h0M241.3 483.6h0M240.6 472.6h0M234.7 468.0h0M233.7 471.0h0M232.8 491.8h0" stroke="#3a52d0" stroke-width=".7" stroke-linecap="round" fill="none" opacity=".75"/>
<path d="M225.7 496.4h0M230.9 492.5h0M227.4 486.8h0M224.5 495.0h0M216.8 495.2h0M222.9 488.0h0M229.4 491.6h0M222.4 496.0h0M219.8 482.6h0M226.8 497.2h0M220.0 492.5h0M222.9 492.5h0M227.8 491.8h0M226.2 495.9h0M221.2 493.1h0M220.9 490.2h0M229.0 486.4h0M226.4 490.0h0M220.4 491.9h0M219.9 481.6h0M227.9 495.4h0M220.5 483.6h0M217.9 501.1h0M218.1 487.0h0M232.3 479.0h0M217.1 485.3h0M219.8 478.5h0M223.5 483.2h0M216.0 492.8h0M218.1 493.4h0M218.8 500.5h0M216.9 492.6h0M217.2 499.1h0M213.6 489.0h0M223.4 488.6h0M221.8 488.0h0M220.1 492.6h0M232.0 493.8h0M224.9 487.3h0M218.4 491.4h0M219.3 500.7h0M222.6 500.3h0M221.6 497.8h0M215.4 501.4h0M216.7 492.3h0M221.9 490.2h0M226.6 485.6h0M225.1 481.8h0M215.5 495.6h0M229.3 485.0h0M225.5 489.0h0M230.6 493.2h0M231.6 488.7h0M232.0 487.4h0M231.2 495.2h0M215.6 497.3h0M223.8 496.3h0M218.5 488.7h0M216.5 500.5h0M222.6 477.0h0M226.6 492.0h0M235.9 489.4h0M225.2 488.7h0M207.6 496.8h0M220.2 495.4h0M223.0 477.5h0M222.2 496.3h0M227.6 496.8h0M220.2 483.7h0M224.7 484.6h0M229.4 489.9h0M226.6 493.1h0M227.1 493.6h0M224.9 492.2h0M218.8 481.4h0M214.5 498.0h0M219.3 493.4h0M213.4 488.7h0M233.7 502.9h0M226.2 492.5h0M226.3 503.6h0M216.9 491.3h0M220.4 473.6h0M223.4 497.2h0M219.9 484.5h0M229.6 487.5h0M221.6 488.1h0M221.5 492.2h0M227.2 493.5h0M233.5 484.3h0M224.2 489.9h0M234.5 481.3h0M222.4 496.8h0M218.9 491.3h0M223.5 493.8h0M223.8 484.2h0M226.9 476.6h0M218.0 485.9h0M221.9 492.0h0M240.0 500.1h0M222.5 492.8h0M229.9 494.5h0M222.0 479.2h0M212.3 494.1h0M228.4 490.5h0M235.5 492.9h0M216.9 493.9h0M217.4 498.5h0M220.9 488.6h0M222.5 499.9h0M215.6 498.8h0M230.8 496.3h0M222.7 497.0h0M220.2 486.3h0M228.7 482.1h0M224.7 488.0h0M221.0 491.0h0M220.1 498.8h0M219.0 484.3h0M216.0 491.3h0M223.6 490.7h0M223.4 484.3h0M224.5 496.1h0M215.3 489.4h0M222.6 489.0h0M218.6 487.2h0M217.4 500.7h0M216.3 484.7h0M215.0 492.0h0M217.7 494.6h0M223.1 493.2h0M226.4 490.8h0M220.6 491.5h0M227.5 485.7h0M221.4 500.9h0M224.5 498.7h0M226.1 480.7h0M220.7 483.2h0M223.9 490.3h0M226.3 492.5h0M220.8 497.8h0M216.0 480.8h0M227.2 493.6h0M226.0 485.4h0M226.0 494.9h0M222.9 491.1h0M221.7 493.6h0M215.7 499.1h0M218.0 484.7h0M228.8 490.6h0M214.7 492.0h0M219.9 493.4h0M216.6 490.4h0M220.6 500.8h0M217.6 497.2h0M227.3 493.2h0M221.2 494.1h0M218.6 497.3h0M214.0 499.3h0M220.6 487.5h0M224.0 501.1h0M222.3 503.2h0M222.1 493.2h0M215.9 490.9h0M222.1 487.4h0M215.7 487.7h0M224.3 495.2h0M231.5 478.7h0M231.5 496.4h0M222.4 498.7h0M224.2 481.2h0M226.1 482.6h0M226.2 483.2h0M214.2 496.6h0M220.1 487.0h0M231.6 491.1h0M230.5 489.4h0M222.0 478.7h0M228.9 488.2h0M227.5 486.9h0M213.2 492.7h0M227.9 477.1h0M216.6 498.3h0M230.6 488.6h0M223.9 494.4h0M224.7 484.0h0M228.0 501.1h0M223.3 491.7h0M219.5 494.1h0M225.9 487.5h0M214.2 482.2h0M225.2 491.8h0M220.7 478.0h0M215.1 500.8h0M217.7 484.9h0M227.5 498.4h0M219.9 491.8h0M224.8 493.7h0M220.2 490.9h0M225.4 500.0h0M224.6 480.0h0M217.7 485.1h0M226.3 499.7h0M225.0 483.5h0M220.8 490.1h0M226.8 491.9h0M226.3 488.0h0M232.1 483.1h0M222.0 497.1h0M226.5 483.8h0M219.2 488.5h0M226.7 496.0h0M215.0 489.1h0M223.5 496.9h0M225.6 498.5h0M220.4 486.6h0M223.4 492.3h0M234.4 490.9h0M221.8 484.4h0M223.7 487.9h0M225.7 489.9h0M218.4 485.0h0M219.3 490.4h0M208.9 486.1h0M221.9 482.5h0M225.6 488.6h0M225.7 492.0h0M220.5 498.2h0M226.7 483.1h0M221.4 482.5h0M219.4 489.8h0M219.8 489.2h0M224.9 497.2h0M225.3 496.3h0M219.4 488.3h0M227.3 487.3h0M224.9 491.3h0M225.4 497.6h0M223.2 487.4h0M218.6 501.2h0M227.0 483.0h0M215.3 476.4h0M222.6 486.7h0M210.1 491.8h0M222.6 502.0h0M222.9 482.0h0M222.8 490.9h0M216.9 482.6h0M219.3 490.3h0M227.6 486.0h0M224.2 500.5h0M217.7 484.0h0M219.3 493.6h0M217.5 496.8h0M219.3 486.6h0M224.4 495.5h0M220.3 489.7h0M226.7 501.1h0M219.8 495.6h0M227.5 494.3h0M223.3 492.1h0M217.1 489.5h0M218.5 487.4h0M223.5 502.3h0M223.9 488.2h0M228.4 484.8h0M226.9 485.9h0M224.1 502.2h0M221.9 486.5h0M221.7 494.0h0M211.7 502.6h0M217.2 493.2h0M225.5 485.8h0M221.1 497.0h0M220.4 494.5h0M222.2 490.2h0M223.2 492.5h0M221.1 497.0h0M222.7 491.3h0M211.3 480.8h0M226.2 494.7h0M223.9 497.7h0M213.5 489.6h0M225.9 495.5h0M227.7 495.1h0M221.9 498.8h0M219.1 488.4h0M230.8 488.8h0M229.3 485.9h0M222.4 496.4h0M214.4 489.9h0M211.6 486.1h0M221.8 490.5h0M227.2 484.6h0M230.6 488.5h0M217.3 492.5h0M225.8 495.6h0M225.2 485.6h0M213.4 500.3h0M223.3 492.8h0M228.0 496.0h0M216.9 480.8h0M213.4 481.6h0M225.4 491.0h0M222.5 485.2h0M222.9 488.2h0M222.1 494.0h0M222.6 494.3h0M221.5 498.4h0M231.2 489.1h0M223.1 489.7h0M220.3 497.3h0M223.6 476.2h0M228.4 494.6h0M215.3 491.5h0M220.9 492.0h0M227.6 503.4h0M227.8 489.0h0M228.8 500.6h0M220.3 493.7h0M225.9 494.5h0M226.7 479.8h0M227.7 497.1h0M221.2 500.6h0M223.4 502.9h0M224.2 494.1h0M226.0 493.8h0M229.2 487.0h0M219.1 486.4h0M227.2 488.4h0M224.5 488.2h0M218.3 488.0h0M222.2 487.4h0M229.2 494.5h0M226.1 491.9h0M222.4 480.3h0M222.5 486.3h0M226.4 490.1h0M223.5 481.1h0M226.1 492.7h0M211.2 487.9h0M218.9 492.7h0M235.2 487.3h0M230.7 496.5h0M220.6 483.9h0M218.7 492.6h0M221.9 494.8h0M224.2 490.8h0M222.4 493.7h0M219.7 490.6h0M218.9 492.8h0M225.7 495.9h0M222.2 486.0h0M220.0 494.4h0M219.7 492.3h0M224.2 495.7h0M218.3 499.0h0M215.5 497.3h0M224.4 498.3h0M220.9 493.1h0M218.8 488.2h0M214.9 492.3h0M220.5 498.0h0M231.4 484.7h0M229.3 493.5h0M217.5 481.1h0M222.8 488.5h0M228.0 487.7h0M230.6 482.2h0M223.0 492.9h0M230.8 495.9h0M220.5 494.3h0M224.7 493.4h0M220.2 487.6h0M217.1 484.0h0M224.2 494.7h0M219.7 496.0h0M216.9 487.7h0M220.1 484.6h0M217.2 492.5h0M220.8 490.7h0M222.2 485.5h0M228.7 489.1h0M230.7 504.8h0M228.5 487.9h0M242.6 490.7h0M226.2 486.2h0M212.7 489.4h0M225.0 491.1h0M229.4 495.5h0M226.7 503.3h0M221.5 494.9h0M227.6 489.3h0M224.9 498.6h0M215.6 492.6h0M224.6 496.6h0M224.0 493.7h0M226.0 500.8h0M222.5 493.1h0M220.9 496.1h0M219.9 481.9h0M217.0 488.0h0M217.5 488.5h0M222.8 491.9h0M219.3 498.4h0M226.7 492.1h0M227.5 490.3h0M223.7 497.8h0M225.3 491.4h0M215.6 488.9h0M219.2 495.0h0M223.4 492.7h0M215.0 493.6h0M225.2 499.4h0M227.8 478.6h0M231.5 503.1h0M228.1 492.9h0M221.1 484.5h0M222.3 498.8h0" stroke="#3a52d0" stroke-width=".7" stroke-linecap="round" fill="none" opacity=".75"/>
<g transform="translate(222.5 490.6) rotate(0)" filter="url(#bl)">
<ellipse rx="6" ry="6" fill="#3346c8" opacity=".18"/>
</g>
<g transform="translate(235.2 484.2) rotate(0)" filter="url(#bl)">
<ellipse rx="5.6" ry="8" fill="#3346c8" opacity=".7"/>
<ellipse rx="4.7" ry="6.72" fill="#2e8fc4" opacity="1"/>
<ellipse rx="3.47" ry="4.96" fill="#4fb96a" opacity="1"/>
</g>
<g transform="translate(235.2 483.2) rotate(0)" filter="url(#bl)">
<ellipse rx=".84" ry="1.34" fill="#d8dc3c" opacity="1"/>
</g>
<g transform="translate(237 466.6) rotate(10)" filter="url(#bl)">
<ellipse rx="6.4" ry="8.6" fill="#3346c8" opacity=".75"/>
<ellipse rx="5.38" ry="7.22" fill="#2e8fc4" opacity="1"/>
<ellipse rx="3.97" ry="5.33" fill="#4fb96a" opacity="1"/>
<ellipse rx="2.69" ry="3.61" fill="#d8dc3c" opacity="1"/>
<ellipse rx="1.79" ry="2.41" fill="#f39a2c" opacity="1"/>
<ellipse rx=".96" ry="1.29" fill="#e8321e" opacity="1"/>
</g>
<path d="M302.5 506C302.93 504.81 304.17 505.53 305 499C305.83 492.47 306.65 476.88 307.4 467.6C308.15 458.32 308.72 445.08 309.4 444.4C310.08 443.72 310.62 455.92 311.4 463.6C312.18 471.28 312.88 483.74 314 489.6C315.12 495.47 316.3 495.89 318 498.1C319.7 500.31 322.13 502.46 324 502.6C325.87 502.74 327.64 498.83 329 498.9C330.36 498.97 330.98 501.79 332 503C333.02 504.21 334.49 505.49 335 506Z" fill="#858585" stroke="#000" stroke-width=".8" stroke-linejoin="round"/>
<rect x="42.2" y="437.6" width="69.1" height="68.4" fill="none" stroke="#000" stroke-width="1.1" />
<rect x="121.6" y="437.6" width="69.1" height="68.4" fill="none" stroke="#000" stroke-width="1.1" />
<rect x="201.7" y="437.6" width="69.1" height="68.4" fill="none" stroke="#000" stroke-width="1.1" />
<rect x="282.3" y="437.6" width="69.8" height="68.4" fill="none" stroke="#000" stroke-width="1.1" />
<path d="M129.3 439.7H168.7V462.6L129.3 472.6Z" fill="none" stroke="#000" stroke-width=".9"/>
<text x="130.5" y="446.8" font-size="7.9" >17.3%</text>
<rect x="224.6" y="453.4" width="22.8" height="22.6" fill="none" stroke="#000" stroke-width=".9" />
<path d="M247.4 459.5L274 459.5" stroke="#000" stroke-width=".9" />
<path d="M281 459.5L271.8 456.1L274.2 459.5L271.8 462.9Z" fill="#000"/>
<text x="327.2" y="464.7" font-size="7.9" >10.5%</text>
<path d="M325.4 472.5L352 472.5" stroke="#000" stroke-width=".8" />
<path d="M325.5 468.4L325.5 475.6" stroke="#000" stroke-width=".8" />
<text font-size="8.4" text-anchor="middle" transform="translate(38.9 472.1) rotate(-90)" >Norm. cell count</text>
<text font-size="7.8" text-anchor="middle" transform="translate(119.2 470.8) rotate(-90)" >&#947;H2AX/Alexa-647</text>
<text font-size="8.3" text-anchor="middle" transform="translate(199.4 470.8) rotate(-90)" >MPM2/Alexa-488</text>
<path d="M121.6 502.5L120.2 502.5" stroke="#000" stroke-width=".6" />
<text x="60" y="518.2" font-size="8.8" text-anchor="middle" >2n</text>
<text x="76" y="518.2" font-size="8.8" text-anchor="middle" >4n</text>
<path d="M60.5 506L60.5 507.6" stroke="#000" stroke-width=".6" />
<path d="M76.5 506L76.5 507.6" stroke="#000" stroke-width=".6" />
<text x="140.9" y="518.2" font-size="8.8" text-anchor="middle" >2n</text>
<text x="157.2" y="518.2" font-size="8.8" text-anchor="middle" >4n</text>
<path d="M140.5 506L140.5 507.6" stroke="#000" stroke-width=".6" />
<path d="M157.5 506L157.5 507.6" stroke="#000" stroke-width=".6" />
<text x="225" y="518.2" font-size="8.8" text-anchor="middle" >2n</text>
<text x="240.7" y="518.2" font-size="8.8" text-anchor="middle" >4n</text>
<path d="M225.5 506L225.5 507.6" stroke="#000" stroke-width=".6" />
<path d="M240.5 506L240.5 507.6" stroke="#000" stroke-width=".6" />
<text x="279.5" y="514.6" font-size="9.55" >&#947;H2AX/Alexa-647</text>
</g>
<g>
<text x="361.8" y="219.2" font-size="13.5" font-weight="bold" >e</text>
<rect x="416.9" y="380.1" width="15.8" height="25.2" fill="#e8334f" />
<rect x="440.1" y="348.1" width="15.8" height="57.2" fill="#e8334f" />
<rect x="463.3" y="380.1" width="15.8" height="25.2" fill="#e8334f" />
<rect x="486.4" y="358.93" width="15.8" height="46.37" fill="#e8334f" />
<path d="M409.5 304.1L409.5 405.7" stroke="#222" stroke-width=".9" />
<path d="M409.2 405.5L510.3 405.5" stroke="#222" stroke-width=".9" />
<path d="M405.2 405.5L409.2 405.5" stroke="#222" stroke-width=".8" />
<text x="403.6" y="408.6" font-size="9.3" text-anchor="end" >0</text>
<path d="M405.2 380.5L409.2 380.5" stroke="#222" stroke-width=".8" />
<text x="403.6" y="383.4" font-size="9.3" text-anchor="end" >1</text>
<path d="M405.2 354.5L409.2 354.5" stroke="#222" stroke-width=".8" />
<text x="403.6" y="358.2" font-size="9.3" text-anchor="end" >2</text>
<path d="M405.2 329.5L409.2 329.5" stroke="#222" stroke-width=".8" />
<text x="403.6" y="333" font-size="9.3" text-anchor="end" >3</text>
<path d="M405.2 304.5L409.2 304.5" stroke="#222" stroke-width=".8" />
<text x="403.6" y="307.8" font-size="9.3" text-anchor="end" >4</text>
<path d="M424.5 405.3L424.5 408.5" stroke="#222" stroke-width=".8" />
<path d="M448.5 405.3L448.5 408.5" stroke="#222" stroke-width=".8" />
<path d="M471.5 405.3L471.5 408.5" stroke="#222" stroke-width=".8" />
<path d="M494.5 405.3L494.5 408.5" stroke="#222" stroke-width=".8" />
<path d="M448 328.5L448 368.4M444.2 328.5h7.6M444.2 368.4h7.6" stroke="#000" stroke-width=".7" fill="none"/>
<path d="M471.2 376.7L471.2 381.9M467.4 376.7h7.6M467.4 381.9h7.6" stroke="#000" stroke-width=".7" fill="none"/>
<path d="M494.3 345.3L494.3 373M490.5 345.3h7.6M490.5 373h7.6" stroke="#000" stroke-width=".7" fill="none"/>
<circle cx="419.3" cy="380.3" r="1.85" fill="#fff" stroke="#000" stroke-width=".75" />
<circle cx="422.9" cy="380.3" r="1.85" fill="#fff" stroke="#000" stroke-width=".75" />
<circle cx="426.7" cy="380.3" r="1.85" fill="#fff" stroke="#000" stroke-width=".75" />
<circle cx="430.4" cy="380.3" r="1.85" fill="#fff" stroke="#000" stroke-width=".75" />
<circle cx="447.7" cy="323.7" r="1.85" fill="#fff" stroke="#000" stroke-width=".75" />
<circle cx="447.7" cy="340.6" r="1.85" fill="#fff" stroke="#000" stroke-width=".75" />
<circle cx="453.5" cy="362.7" r="1.85" fill="#fff" stroke="#000" stroke-width=".75" />
<circle cx="442.4" cy="366.4" r="1.85" fill="#fff" stroke="#000" stroke-width=".75" />
<circle cx="465.3" cy="376.2" r="1.85" fill="#fff" stroke="#000" stroke-width=".75" />
<circle cx="471" cy="380.5" r="1.85" fill="#fff" stroke="#000" stroke-width=".75" />
<circle cx="476.6" cy="379.5" r="1.85" fill="#fff" stroke="#000" stroke-width=".75" />
<circle cx="471" cy="384" r="1.85" fill="#fff" stroke="#000" stroke-width=".75" />
<circle cx="494.4" cy="342.8" r="1.85" fill="#fff" stroke="#000" stroke-width=".75" />
<circle cx="494.4" cy="353.6" r="1.85" fill="#fff" stroke="#000" stroke-width=".75" />
<circle cx="494.4" cy="367.4" r="1.85" fill="#fff" stroke="#000" stroke-width=".75" />
<circle cx="494.4" cy="373.2" r="1.85" fill="#fff" stroke="#000" stroke-width=".75" />
<text x="436" y="305.9" font-size="8.5" text-anchor="middle" >p = 0.0188</text>
<path d="M424.8 307.5L447.9 307.5" stroke="#222" stroke-width=".8" />
<text x="470.6" y="314.3" font-size="8.5" text-anchor="middle" >p = 0.4045</text>
<path d="M447.9 317.5L493.7 317.5" stroke="#222" stroke-width=".8" />
<text x="482.6" y="333.4" font-size="8.5" text-anchor="middle" >p = 0.0254</text>
<path d="M471 335.5L493.7 335.5" stroke="#222" stroke-width=".8" />
<text font-size="9.55" text-anchor="middle" transform="translate(390.8 351) rotate(-90)" >Rel. % &#947;H2AX<tspan font-size="6" dy="-3">+</tspan><tspan dy="3">&#8203;</tspan> cells</text>
<text x="414.2" y="419" font-size="9.5" text-anchor="end" >AZD1775</text>
<text x="424.8" y="419" font-size="9" text-anchor="middle" >-</text>
<text x="448" y="419" font-size="9" text-anchor="middle" >+</text>
<text x="471.2" y="419" font-size="9" text-anchor="middle" >-</text>
<text x="494.3" y="419" font-size="9" text-anchor="middle" >+</text>
<text x="414.2" y="429.7" font-size="9.5" text-anchor="end" >Nocodazole</text>
<text x="424.8" y="429.7" font-size="9" text-anchor="middle" >-</text>
<text x="448" y="429.7" font-size="9" text-anchor="middle" >-</text>
<text x="471.2" y="429.7" font-size="9" text-anchor="middle" >-</text>
<text x="494.3" y="429.7" font-size="9" text-anchor="middle" >-</text>
<path d="M416.8 432.5L456 432.5" stroke="#222" stroke-width=".8" />
<path d="M463.3 432.5L502.2 432.5" stroke="#222" stroke-width=".8" />
<text x="436.4" y="444.1" font-size="9.5" text-anchor="middle" >DMSO</text>
<text x="482.7" y="444.1" font-size="9.5" text-anchor="middle" >A92</text>
<path d="M416.8 448.5L502.2 448.5" stroke="#222" stroke-width=".8" />
<text x="460" y="459.5" font-size="9.5" text-anchor="middle" >RPE1 <tspan font-style="italic">TP53</tspan><tspan font-size="5.5" dy="-3.2">KO</tspan><tspan dy="3.2">&#8203;</tspan></text>
<rect x="579.5" y="403.09" width="15.8" height="2.01" fill="#e8334f" />
<rect x="602.8" y="346.01" width="15.8" height="59.09" fill="#e8334f" />
<rect x="626.1" y="400.88" width="15.8" height="4.22" fill="#e8334f" />
<rect x="649.3" y="382.59" width="15.8" height="22.51" fill="#e8334f" />
<path d="M572.5 304.2L572.5 405.5" stroke="#222" stroke-width=".9" />
<path d="M572 405.5L673.3 405.5" stroke="#222" stroke-width=".9" />
<path d="M568 405.5L572 405.5" stroke="#222" stroke-width=".8" />
<text x="566.4" y="408.4" font-size="9.3" text-anchor="end" >0</text>
<path d="M568 385.5L572 385.5" stroke="#222" stroke-width=".8" />
<text x="566.4" y="388.3" font-size="9.3" text-anchor="end" >10</text>
<path d="M568 364.5L572 364.5" stroke="#222" stroke-width=".8" />
<text x="566.4" y="368.2" font-size="9.3" text-anchor="end" >20</text>
<path d="M568 344.5L572 344.5" stroke="#222" stroke-width=".8" />
<text x="566.4" y="348.1" font-size="9.3" text-anchor="end" >30</text>
<path d="M568 324.5L572 324.5" stroke="#222" stroke-width=".8" />
<text x="566.4" y="328" font-size="9.3" text-anchor="end" >40</text>
<path d="M568 304.5L572 304.5" stroke="#222" stroke-width=".8" />
<text x="566.4" y="307.9" font-size="9.3" text-anchor="end" >50</text>
<path d="M587.5 405.1L587.5 408.3" stroke="#222" stroke-width=".8" />
<path d="M610.5 405.1L610.5 408.3" stroke="#222" stroke-width=".8" />
<path d="M634.5 405.1L634.5 408.3" stroke="#222" stroke-width=".8" />
<path d="M657.5 405.1L657.5 408.3" stroke="#222" stroke-width=".8" />
<path d="M610.6 321.5L610.6 370.5M606.8 321.5h7.6M606.8 370.5h7.6" stroke="#000" stroke-width=".7" fill="none"/>
<path d="M634 398.6L634 403.2M630.2 398.6h7.6M630.2 403.2h7.6" stroke="#000" stroke-width=".7" fill="none"/>
<path d="M657.2 375L657.2 389.8M653.4 375h7.6M653.4 389.8h7.6" stroke="#000" stroke-width=".7" fill="none"/>
<circle cx="581.6" cy="403.4" r="1.85" fill="#fff" stroke="#000" stroke-width=".75" />
<circle cx="585.4" cy="403.4" r="1.85" fill="#fff" stroke="#000" stroke-width=".75" />
<circle cx="589.2" cy="403.4" r="1.85" fill="#fff" stroke="#000" stroke-width=".75" />
<circle cx="593" cy="403.4" r="1.85" fill="#fff" stroke="#000" stroke-width=".75" />
<circle cx="610.5" cy="309.4" r="1.85" fill="#fff" stroke="#000" stroke-width=".75" />
<circle cx="605" cy="356.1" r="1.85" fill="#fff" stroke="#000" stroke-width=".75" />
<circle cx="616.3" cy="356.4" r="1.85" fill="#fff" stroke="#000" stroke-width=".75" />
<circle cx="610.5" cy="361.9" r="1.85" fill="#fff" stroke="#000" stroke-width=".75" />
<circle cx="628.3" cy="403.4" r="1.85" fill="#fff" stroke="#000" stroke-width=".75" />
<circle cx="634.1" cy="397.6" r="1.85" fill="#fff" stroke="#000" stroke-width=".75" />
<circle cx="634.1" cy="401.6" r="1.85" fill="#fff" stroke="#000" stroke-width=".75" />
<circle cx="639.6" cy="401.6" r="1.85" fill="#fff" stroke="#000" stroke-width=".75" />
<circle cx="657" cy="371.7" r="1.85" fill="#fff" stroke="#000" stroke-width=".75" />
<circle cx="651.2" cy="383.5" r="1.85" fill="#fff" stroke="#000" stroke-width=".75" />
<circle cx="662.7" cy="386.5" r="1.85" fill="#fff" stroke="#000" stroke-width=".75" />
<circle cx="651.2" cy="388" r="1.85" fill="#fff" stroke="#000" stroke-width=".75" />
<text x="599.4" y="293.3" font-size="8.5" text-anchor="middle" >p = 0.0035</text>
<path d="M587.9 296.5L610.5 296.5" stroke="#222" stroke-width=".8" />
<text x="635" y="301.1" font-size="8.5" text-anchor="middle" >p = 0.0293</text>
<path d="M611 305.5L658.7 305.5" stroke="#222" stroke-width=".8" />
<text x="645.2" y="362.2" font-size="8.5" text-anchor="middle" >p = 0.0032</text>
<path d="M633.6 364.5L657 364.5" stroke="#222" stroke-width=".8" />
<text font-size="9.55" text-anchor="middle" transform="translate(542.6 354) rotate(-90)" >Rel. % &#947;H2AX<tspan font-size="6" dy="-3">+</tspan><tspan dy="3">&#8203;</tspan> cells</text>
<text font-size="9.55" text-anchor="middle" transform="translate(554.4 354) rotate(-90)" >in mitosis</text>
<text x="577.2" y="419" font-size="9.5" text-anchor="end" >AZD1775</text>
<text x="587.4" y="419" font-size="9" text-anchor="middle" >-</text>
<text x="610.7" y="419" font-size="9" text-anchor="middle" >+</text>
<text x="634" y="419" font-size="9" text-anchor="middle" >-</text>
<text x="657.2" y="419" font-size="9" text-anchor="middle" >+</text>
<text x="577.2" y="429.9" font-size="9.5" text-anchor="end" >Nocodazole</text>
<text x="587.4" y="429.9" font-size="9" text-anchor="middle" >+</text>
<text x="610.7" y="429.9" font-size="9" text-anchor="middle" >+</text>
<text x="634" y="429.9" font-size="9" text-anchor="middle" >+</text>
<text x="657.2" y="429.9" font-size="9" text-anchor="middle" >+</text>
<path d="M580 432.5L618.5 432.5" stroke="#222" stroke-width=".8" />
<path d="M626.6 432.5L665.3 432.5" stroke="#222" stroke-width=".8" />
<text x="599.7" y="444.1" font-size="9.5" text-anchor="middle" >DMSO</text>
<text x="646.2" y="444.1" font-size="9.5" text-anchor="middle" >A92</text>
<path d="M580 450.5L665.3 450.5" stroke="#222" stroke-width=".8" />
<text x="623" y="462.2" font-size="9.5" text-anchor="middle" >RPE1 <tspan font-style="italic">TP53</tspan><tspan font-size="5.5" dy="-3.2">KO</tspan><tspan dy="3.2">&#8203;</tspan></text>
</g>
<g>
<text x="10" y="537.6" font-size="13.5" font-weight="bold" >f</text>
<rect x="47.25" y="669.1" width="11.1" height="14.4" fill="#e8334f" />
<rect x="63.38" y="627.1" width="11.1" height="56.4" fill="#e8334f" />
<rect x="63.38" y="597.12" width="11.1" height="22.68" fill="#e8334f" />
<rect x="79.51" y="678.48" width="11.1" height="5.02" fill="#e8334f" />
<rect x="95.64" y="627.1" width="11.1" height="56.4" fill="#e8334f" />
<rect x="95.64" y="603.9" width="11.1" height="15.9" fill="#e8334f" />
<rect x="111.77" y="647.79" width="11.1" height="35.71" fill="#e8334f" />
<rect x="127.9" y="627.1" width="11.1" height="56.4" fill="#e8334f" />
<rect x="127.9" y="614.16" width="11.1" height="5.64" fill="#e8334f" />
<rect x="144.03" y="672.9" width="11.1" height="10.6" fill="#e8334f" />
<rect x="160.16" y="627.1" width="11.1" height="56.4" fill="#e8334f" />
<rect x="160.16" y="615.13" width="11.1" height="4.67" fill="#e8334f" />
<rect x="176.29" y="655.82" width="11.1" height="27.68" fill="#e8334f" />
<path d="M42.5 582.05L42.5 619.2" stroke="#222" stroke-width=".9" />
<path d="M42.5 627.6L42.5 683.9" stroke="#222" stroke-width=".9" />
<path d="M39.8 618.2L45 622.8" stroke="#222" stroke-width="1" />
<path d="M39.8 624.8L45 629.4" stroke="#222" stroke-width="1" />
<path d="M37.6 614.5L42.6 614.5" stroke="#222" stroke-width=".8" />
<text x="36.6" y="618" font-size="9.3" text-anchor="end" >20</text>
<path d="M37.6 603.5L42.6 603.5" stroke="#222" stroke-width=".8" />
<text x="36.6" y="607.25" font-size="9.3" text-anchor="end" >40</text>
<path d="M37.6 593.5L42.6 593.5" stroke="#222" stroke-width=".8" />
<text x="36.6" y="596.5" font-size="9.3" text-anchor="end" >60</text>
<path d="M37.6 582.5L42.6 582.5" stroke="#222" stroke-width=".8" />
<text x="36.6" y="585.75" font-size="9.3" text-anchor="end" >80</text>
<path d="M37.6 683.5L42.6 683.5" stroke="#222" stroke-width=".8" />
<text x="36.6" y="686.8" font-size="9.3" text-anchor="end" >0</text>
<path d="M37.6 672.5L42.6 672.5" stroke="#222" stroke-width=".8" />
<text x="36.6" y="675.64" font-size="9.3" text-anchor="end" >2</text>
<path d="M37.6 661.5L42.6 661.5" stroke="#222" stroke-width=".8" />
<text x="36.6" y="664.48" font-size="9.3" text-anchor="end" >4</text>
<path d="M37.6 650.5L42.6 650.5" stroke="#222" stroke-width=".8" />
<text x="36.6" y="653.32" font-size="9.3" text-anchor="end" >6</text>
<path d="M37.6 638.5L42.6 638.5" stroke="#222" stroke-width=".8" />
<text x="36.6" y="642.16" font-size="9.3" text-anchor="end" >8</text>
<path d="M37.6 627.5L42.6 627.5" stroke="#222" stroke-width=".8" />
<text x="36.6" y="631" font-size="9.3" text-anchor="end" >10</text>
<text font-size="9.3" text-anchor="middle" transform="translate(18 631) rotate(-90)" >MPM2<tspan font-size="6" dy="-3">+</tspan><tspan dy="3">&#8203;</tspan> cells (%)</text>
<path d="M52.8 663.5L52.8 675.5M50 663.5h5.6M50 675.5h5.6" stroke="#000" stroke-width=".7" fill="none"/>
<path d="M68.93 586.3L68.93 610.2M66.13 586.3h5.6M66.13 610.2h5.6" stroke="#000" stroke-width=".7" fill="none"/>
<path d="M85.06 675.2L85.06 678.6M82.26 675.2h5.6M82.26 678.6h5.6" stroke="#000" stroke-width=".7" fill="none"/>
<path d="M101.19 598.4L101.19 609M98.39 598.4h5.6M98.39 609h5.6" stroke="#000" stroke-width=".7" fill="none"/>
<path d="M117.32 637L117.32 660.3M114.52 637h5.6M114.52 660.3h5.6" stroke="#000" stroke-width=".7" fill="none"/>
<path d="M133.45 608.6L133.45 615M130.65 608.6h5.6M130.65 615h5.6" stroke="#000" stroke-width=".7" fill="none"/>
<path d="M149.58 663L149.58 683M146.78 663h5.6M146.78 683h5.6" stroke="#000" stroke-width=".7" fill="none"/>
<path d="M165.71 610.4L165.71 617.4M162.91 610.4h5.6M162.91 617.4h5.6" stroke="#000" stroke-width=".7" fill="none"/>
<path d="M181.84 649L181.84 664M179.04 649h5.6M179.04 664h5.6" stroke="#000" stroke-width=".7" fill="none"/>
<circle cx="50.3" cy="665" r="1.9" fill="#fff" stroke="#000" stroke-width=".75" />
<circle cx="56.8" cy="666.7" r="1.9" fill="#fff" stroke="#000" stroke-width=".75" />
<circle cx="53.3" cy="676.3" r="1.9" fill="#fff" stroke="#000" stroke-width=".75" />
<circle cx="65.9" cy="588.8" r="1.9" fill="#fff" stroke="#000" stroke-width=".75" />
<circle cx="72.5" cy="592.6" r="1.9" fill="#fff" stroke="#000" stroke-width=".75" />
<circle cx="69.1" cy="610.2" r="1.9" fill="#fff" stroke="#000" stroke-width=".75" />
<circle cx="81.9" cy="678.5" r="1.9" fill="#fff" stroke="#000" stroke-width=".75" />
<circle cx="85.4" cy="675.5" r="1.9" fill="#fff" stroke="#000" stroke-width=".75" />
<circle cx="88.5" cy="677.3" r="1.9" fill="#fff" stroke="#000" stroke-width=".75" />
<circle cx="98" cy="599.6" r="1.9" fill="#fff" stroke="#000" stroke-width=".75" />
<circle cx="104.6" cy="602.7" r="1.9" fill="#fff" stroke="#000" stroke-width=".75" />
<circle cx="101.3" cy="608.4" r="1.9" fill="#fff" stroke="#000" stroke-width=".75" />
<circle cx="117.4" cy="637.3" r="1.9" fill="#fff" stroke="#000" stroke-width=".75" />
<circle cx="117.4" cy="647.4" r="1.9" fill="#fff" stroke="#000" stroke-width=".75" />
<circle cx="117.4" cy="660.5" r="1.9" fill="#fff" stroke="#000" stroke-width=".75" />
<circle cx="133.6" cy="608.4" r="1.9" fill="#fff" stroke="#000" stroke-width=".75" />
<circle cx="130.3" cy="614.5" r="1.9" fill="#fff" stroke="#000" stroke-width=".75" />
<circle cx="136.9" cy="614.5" r="1.9" fill="#fff" stroke="#000" stroke-width=".75" />
<circle cx="149.9" cy="663" r="1.9" fill="#fff" stroke="#000" stroke-width=".75" />
<circle cx="146.9" cy="679.5" r="1.9" fill="#fff" stroke="#000" stroke-width=".75" />
<circle cx="152.8" cy="678.5" r="1.9" fill="#fff" stroke="#000" stroke-width=".75" />
<circle cx="165.8" cy="610.2" r="1.9" fill="#fff" stroke="#000" stroke-width=".75" />
<circle cx="162.8" cy="617.7" r="1.9" fill="#fff" stroke="#000" stroke-width=".75" />
<circle cx="168.8" cy="615.7" r="1.9" fill="#fff" stroke="#000" stroke-width=".75" />
<circle cx="181.9" cy="649.1" r="1.9" fill="#fff" stroke="#000" stroke-width=".75" />
<circle cx="181.9" cy="654.2" r="1.9" fill="#fff" stroke="#000" stroke-width=".75" />
<circle cx="181.9" cy="664.2" r="1.9" fill="#fff" stroke="#000" stroke-width=".75" />
<text x="102.4" y="588.8" font-size="8.5" text-anchor="middle" >p = 0.0142</text>
<path d="M85.4 591.5L118 591.5" stroke="#222" stroke-width=".8" />
<text x="148.4" y="598.1" font-size="8.5" text-anchor="middle" >p = 0.3960</text>
<path d="M116.6 602.5L182.4 602.5" stroke="#222" stroke-width=".8" />
<text x="192.8" y="696.6" font-size="9.5" >Nocodazole</text>
<text x="52.8" y="698.5" font-size="9" text-anchor="middle" >-</text>
<text x="68.93" y="698.5" font-size="9" text-anchor="middle" >+</text>
<text x="85.06" y="698.5" font-size="9" text-anchor="middle" >+</text>
<text x="101.19" y="698.5" font-size="9" text-anchor="middle" >+</text>
<text x="117.32" y="698.5" font-size="9" text-anchor="middle" >+</text>
<text x="133.45" y="698.5" font-size="9" text-anchor="middle" >+</text>
<text x="149.58" y="698.5" font-size="9" text-anchor="middle" >+</text>
<text x="165.71" y="698.5" font-size="9" text-anchor="middle" >+</text>
<text x="181.84" y="698.5" font-size="9" text-anchor="middle" >+</text>
<text x="192.8" y="708.3" font-size="9.5" >Doxorubicin</text>
<text x="52.8" y="710.2" font-size="9" text-anchor="middle" >-</text>
<text x="68.93" y="710.2" font-size="9" text-anchor="middle" >-</text>
<text x="85.06" y="710.2" font-size="9" text-anchor="middle" >+</text>
<text x="101.19" y="710.2" font-size="9" text-anchor="middle" >-</text>
<text x="117.32" y="710.2" font-size="9" text-anchor="middle" >+</text>
<text x="133.45" y="710.2" font-size="9" text-anchor="middle" >-</text>
<text x="149.58" y="710.2" font-size="9" text-anchor="middle" >+</text>
<text x="165.71" y="710.2" font-size="9" text-anchor="middle" >-</text>
<text x="181.84" y="710.2" font-size="9" text-anchor="middle" >+</text>
<text x="192.8" y="720.5" font-size="9.5" >AZD1775</text>
<text x="52.8" y="722.4" font-size="9" text-anchor="middle" >-</text>
<text x="68.93" y="722.4" font-size="9" text-anchor="middle" >-</text>
<text x="85.06" y="722.4" font-size="9" text-anchor="middle" >-</text>
<text x="101.19" y="722.4" font-size="9" text-anchor="middle" >+</text>
<text x="117.32" y="722.4" font-size="9" text-anchor="middle" >+</text>
<text x="133.45" y="722.4" font-size="9" text-anchor="middle" >-</text>
<text x="149.58" y="722.4" font-size="9" text-anchor="middle" >-</text>
<text x="165.71" y="722.4" font-size="9" text-anchor="middle" >+</text>
<text x="181.84" y="722.4" font-size="9" text-anchor="middle" >+</text>
<path d="M47.6 726.5L123.7 726.5" stroke="#222" stroke-width=".8" />
<path d="M127.5 726.5L187.8 726.5" stroke="#222" stroke-width=".8" />
<text x="85.8" y="737.4" font-size="9.5" text-anchor="middle" >DMSO</text>
<text x="157.4" y="737.4" font-size="9.5" text-anchor="middle" >A92</text>
<path d="M47.6 744.5L187.8 744.5" stroke="#222" stroke-width=".8" />
<text x="120.5" y="758" font-size="9.5" text-anchor="middle" >RPE1 <tspan font-style="italic">TP53</tspan><tspan font-size="5.5" dy="-3.2">KO</tspan><tspan dy="3.2">&#8203;</tspan></text>
</g>
<g>
<text x="228.4" y="537.6" font-size="13.5" font-weight="bold" >g</text>
<rect x="282.8" y="675.1" width="10.6" height="7.6" fill="#e8334f" />
<rect x="296" y="600.2" width="10.6" height="82.5" fill="#e8334f" />
<rect x="296" y="577.56" width="10.6" height="14.04" fill="#e8334f" />
<rect x="309.1" y="681.88" width="10.6" height=".82" fill="#e8334f" />
<rect x="322.2" y="634.2" width="10.6" height="48.5" fill="#e8334f" />
<rect x="343.9" y="678.59" width="10.6" height="4.11" fill="#e8334f" />
<rect x="357" y="600.2" width="10.6" height="82.5" fill="#e8334f" />
<rect x="357" y="589.1" width="10.6" height="2.5" fill="#e8334f" />
<rect x="370.1" y="682.49" width="10.6" height=".21" fill="#e8334f" />
<rect x="383.2" y="633.79" width="10.6" height="48.91" fill="#e8334f" />
<rect x="404.5" y="676.12" width="10.6" height="6.58" fill="#e8334f" />
<rect x="417.5" y="600.2" width="10.6" height="82.5" fill="#e8334f" />
<rect x="417.5" y="582.73" width="10.6" height="8.87" fill="#e8334f" />
<rect x="430.6" y="682.08" width="10.6" height=".62" fill="#e8334f" />
<rect x="443.7" y="600.2" width="10.6" height="82.5" fill="#e8334f" />
<rect x="443.7" y="590.76" width="10.6" height=".84" fill="#e8334f" />
<path d="M279.5 563.4L279.5 591.9" stroke="#222" stroke-width=".9" />
<path d="M279.5 600.1L279.5 683.1" stroke="#222" stroke-width=".9" />
<path d="M275.2 591.5L279.7 591.5" stroke="#222" stroke-width=".8" />
<text x="274.2" y="594.7" font-size="8.8" text-anchor="end" >20</text>
<path d="M275.2 582.5L279.7 582.5" stroke="#222" stroke-width=".8" />
<text x="274.2" y="585.47" font-size="8.8" text-anchor="end" >40</text>
<path d="M275.2 573.5L279.7 573.5" stroke="#222" stroke-width=".8" />
<text x="274.2" y="576.23" font-size="8.8" text-anchor="end" >60</text>
<path d="M275.2 563.5L279.7 563.5" stroke="#222" stroke-width=".8" />
<text x="274.2" y="567" font-size="8.8" text-anchor="end" >80</text>
<path d="M274.7 682.5L279.7 682.5" stroke="#222" stroke-width=".8" />
<text x="273.8" y="686" font-size="9.3" text-anchor="end" >0</text>
<path d="M274.7 662.5L279.7 662.5" stroke="#222" stroke-width=".8" />
<text x="273.8" y="665.45" font-size="9.3" text-anchor="end" >5</text>
<path d="M274.7 641.5L279.7 641.5" stroke="#222" stroke-width=".8" />
<text x="273.8" y="644.9" font-size="9.3" text-anchor="end" >10</text>
<path d="M274.7 621.5L279.7 621.5" stroke="#222" stroke-width=".8" />
<text x="273.8" y="624.35" font-size="9.3" text-anchor="end" >15</text>
<path d="M274.7 600.5L279.7 600.5" stroke="#222" stroke-width=".8" />
<text x="273.8" y="603.8" font-size="9.3" text-anchor="end" >20</text>
<path d="M279.7 600.5L283.3 600.5" stroke="#222" stroke-width=".8" />
<text font-size="9.3" text-anchor="middle" transform="translate(257 621) rotate(-90)" >MPM2<tspan font-size="6" dy="-3">+</tspan><tspan dy="3">&#8203;</tspan> cells (%)</text>
<path d="M288.1 671.5L288.1 678.6M285.8 671.5h4.6M285.8 678.6h4.6" stroke="#000" stroke-width=".7" fill="none"/>
<path d="M301.3 565.6L301.3 589.4M299 565.6h4.6M299 589.4h4.6" stroke="#000" stroke-width=".7" fill="none"/>
<path d="M327.5 610L327.5 658.5M325.2 610h4.6M325.2 658.5h4.6" stroke="#000" stroke-width=".7" fill="none"/>
<path d="M349.2 676.2L349.2 680.6M346.9 676.2h4.6M346.9 680.6h4.6" stroke="#000" stroke-width=".7" fill="none"/>
<path d="M362.3 580.2L362.3 647.5M360 580.2h4.6M360 647.5h4.6" stroke="#000" stroke-width=".7" fill="none"/>
<path d="M388.5 607.3L388.5 633.6" stroke="#bbb" stroke-width=".8" />
<path d="M388.5 633.6L388.5 656.3M388.5 633.6h.01M388.5 656.3h.01" stroke="#000" stroke-width=".7" fill="none"/>
<path d="M409.8 674.6L409.8 678M407.5 674.6h4.6M407.5 678h4.6" stroke="#000" stroke-width=".7" fill="none"/>
<path d="M449 587L449 591.2M449 587h.01M449 591.2h.01" stroke="#000" stroke-width=".7" fill="none"/>
<path d="M449 600.4L449 614.6M446.7 600.4h4.6M446.7 614.6h4.6" stroke="#000" stroke-width=".7" fill="none"/>
<circle cx="285.7" cy="672.6" r="1.6" fill="#fff" stroke="#000" stroke-width=".7" />
<circle cx="290.8" cy="670.9" r="1.6" fill="#fff" stroke="#000" stroke-width=".7" />
<circle cx="291" cy="675.9" r="1.6" fill="#fff" stroke="#000" stroke-width=".7" />
<circle cx="287.7" cy="679.6" r="1.6" fill="#fff" stroke="#000" stroke-width=".7" />
<circle cx="302.3" cy="568.8" r="1.6" fill="#fff" stroke="#000" stroke-width=".7" />
<circle cx="304.2" cy="569.6" r="1.6" fill="#fff" stroke="#000" stroke-width=".7" />
<circle cx="303.6" cy="573.9" r="1.6" fill="#fff" stroke="#000" stroke-width=".7" />
<circle cx="301.3" cy="630.2" r="1.6" fill="#fff" stroke="#000" stroke-width=".7" />
<circle cx="311.6" cy="682.2" r="1.6" fill="#fff" stroke="#000" stroke-width=".7" />
<circle cx="314.1" cy="682" r="1.6" fill="#fff" stroke="#000" stroke-width=".7" />
<circle cx="316.6" cy="681.7" r="1.6" fill="#fff" stroke="#000" stroke-width=".7" />
<circle cx="327.4" cy="610" r="1.6" fill="#fff" stroke="#000" stroke-width=".7" />
<circle cx="327.4" cy="624.4" r="1.6" fill="#fff" stroke="#000" stroke-width=".7" />
<circle cx="327.4" cy="633.7" r="1.6" fill="#fff" stroke="#000" stroke-width=".7" />
<circle cx="327.4" cy="668" r="1.6" fill="#fff" stroke="#000" stroke-width=".7" />
<circle cx="346.3" cy="675.9" r="1.6" fill="#fff" stroke="#000" stroke-width=".7" />
<circle cx="348.5" cy="678.1" r="1.6" fill="#fff" stroke="#000" stroke-width=".7" />
<circle cx="351.3" cy="678.4" r="1.6" fill="#fff" stroke="#000" stroke-width=".7" />
<circle cx="346.5" cy="680.4" r="1.6" fill="#fff" stroke="#000" stroke-width=".7" />
<circle cx="362.1" cy="580.2" r="1.6" fill="#fff" stroke="#000" stroke-width=".7" />
<circle cx="362.1" cy="589.7" r="1.6" fill="#fff" stroke="#000" stroke-width=".7" />
<circle cx="362.1" cy="641" r="1.6" fill="#fff" stroke="#000" stroke-width=".7" />
<circle cx="372.7" cy="682.4" r="1.6" fill="#fff" stroke="#000" stroke-width=".7" />
<circle cx="377.4" cy="682.2" r="1.6" fill="#fff" stroke="#000" stroke-width=".7" />
<circle cx="388.3" cy="607.3" r="1.6" fill="#fff" stroke="#000" stroke-width=".7" />
<circle cx="388.3" cy="636.9" r="1.6" fill="#fff" stroke="#000" stroke-width=".7" />
<circle cx="388.3" cy="656.3" r="1.6" fill="#fff" stroke="#000" stroke-width=".7" />
<circle cx="407.1" cy="676.9" r="1.6" fill="#fff" stroke="#000" stroke-width=".7" />
<circle cx="410.2" cy="674.6" r="1.6" fill="#fff" stroke="#000" stroke-width=".7" />
<circle cx="412.7" cy="676.9" r="1.6" fill="#fff" stroke="#000" stroke-width=".7" />
<circle cx="420.4" cy="583.4" r="1.6" fill="#fff" stroke="#000" stroke-width=".7" />
<circle cx="422.9" cy="581.9" r="1.6" fill="#fff" stroke="#000" stroke-width=".7" />
<circle cx="425.4" cy="583.4" r="1.6" fill="#fff" stroke="#000" stroke-width=".7" />
<circle cx="433.3" cy="681.9" r="1.6" fill="#fff" stroke="#000" stroke-width=".7" />
<circle cx="435.8" cy="681.9" r="1.6" fill="#fff" stroke="#000" stroke-width=".7" />
<circle cx="438.3" cy="681.9" r="1.6" fill="#fff" stroke="#000" stroke-width=".7" />
<circle cx="448.8" cy="587.2" r="1.6" fill="#fff" stroke="#000" stroke-width=".7" />
<circle cx="448.8" cy="591" r="1.6" fill="#fff" stroke="#000" stroke-width=".7" />
<circle cx="448.8" cy="608" r="1.6" fill="#fff" stroke="#000" stroke-width=".7" />
<text x="309.8" y="581.4" font-size="9.3" >p =</text>
<text x="309.8" y="592.3" font-size="9.6" >0.0082</text>
<path d="M311.6 596.5L327.4 596.5" stroke="#333" stroke-width="1" />
<text x="371.9" y="581.4" font-size="9.3" >p =</text>
<text x="371.9" y="592.3" font-size="9.6" >0.0769</text>
<path d="M372.7 596.5L388.2 596.5" stroke="#333" stroke-width="1" />
<text x="433" y="563.9" font-size="9.3" >p =</text>
<text x="433" y="575.2" font-size="9.6" >0.0027</text>
<path d="M433.5 579.5L449.3 579.5" stroke="#333" stroke-width="1" />
<text x="457.4" y="697.4" font-size="9.5" >Nocodazole</text>
<text x="288.1" y="697.5" font-size="9" text-anchor="middle" >-</text>
<text x="301.3" y="697.5" font-size="9" text-anchor="middle" >+</text>
<text x="314.4" y="697.5" font-size="9" text-anchor="middle" >+</text>
<text x="327.5" y="697.5" font-size="9" text-anchor="middle" >+</text>
<text x="349.2" y="697.5" font-size="9" text-anchor="middle" >-</text>
<text x="362.3" y="697.5" font-size="9" text-anchor="middle" >+</text>
<text x="375.4" y="697.5" font-size="9" text-anchor="middle" >+</text>
<text x="388.5" y="697.5" font-size="9" text-anchor="middle" >+</text>
<text x="409.8" y="697.5" font-size="9" text-anchor="middle" >-</text>
<text x="422.8" y="697.5" font-size="9" text-anchor="middle" >+</text>
<text x="435.9" y="697.5" font-size="9" text-anchor="middle" >+</text>
<text x="449" y="697.5" font-size="9" text-anchor="middle" >+</text>
<text x="457.4" y="708.7" font-size="9.5" >Doxorubicin</text>
<text x="288.1" y="708.8" font-size="9" text-anchor="middle" >-</text>
<text x="301.3" y="708.8" font-size="9" text-anchor="middle" >-</text>
<text x="314.4" y="708.8" font-size="9" text-anchor="middle" >+</text>
<text x="327.5" y="708.8" font-size="9" text-anchor="middle" >+</text>
<text x="349.2" y="708.8" font-size="9" text-anchor="middle" >-</text>
<text x="362.3" y="708.8" font-size="9" text-anchor="middle" >-</text>
<text x="375.4" y="708.8" font-size="9" text-anchor="middle" >+</text>
<text x="388.5" y="708.8" font-size="9" text-anchor="middle" >+</text>
<text x="409.8" y="708.8" font-size="9" text-anchor="middle" >-</text>
<text x="422.8" y="708.8" font-size="9" text-anchor="middle" >-</text>
<text x="435.9" y="708.8" font-size="9" text-anchor="middle" >+</text>
<text x="449" y="708.8" font-size="9" text-anchor="middle" >+</text>
<text x="457.4" y="721" font-size="9.5" >AZD1775</text>
<text x="288.1" y="721.1" font-size="9" text-anchor="middle" >-</text>
<text x="301.3" y="721.1" font-size="9" text-anchor="middle" >-</text>
<text x="314.4" y="721.1" font-size="9" text-anchor="middle" >-</text>
<text x="327.5" y="721.1" font-size="9" text-anchor="middle" >+</text>
<text x="349.2" y="721.1" font-size="9" text-anchor="middle" >-</text>
<text x="362.3" y="721.1" font-size="9" text-anchor="middle" >-</text>
<text x="375.4" y="721.1" font-size="9" text-anchor="middle" >-</text>
<text x="388.5" y="721.1" font-size="9" text-anchor="middle" >+</text>
<text x="409.8" y="721.1" font-size="9" text-anchor="middle" >-</text>
<text x="422.8" y="721.1" font-size="9" text-anchor="middle" >-</text>
<text x="435.9" y="721.1" font-size="9" text-anchor="middle" >-</text>
<text x="449" y="721.1" font-size="9" text-anchor="middle" >+</text>
<path d="M282.7 725.5L331.7 725.5" stroke="#222" stroke-width=".8" />
<path d="M343.8 725.5L392.8 725.5" stroke="#222" stroke-width=".8" />
<path d="M404.6 725.5L453.4 725.5" stroke="#222" stroke-width=".8" />
<text x="307.3" y="736.8" font-size="9.5" text-anchor="middle" >Parental</text>
<text x="368.2" y="736.8" font-size="9.5" text-anchor="middle" ><tspan font-style="italic">ATF4</tspan><tspan font-size="5.5" dy="-3.2">KO</tspan><tspan dy="3.2">&#8203;</tspan> #1</text>
<text x="429" y="736.8" font-size="9.5" text-anchor="middle" ><tspan font-style="italic">GCN2</tspan><tspan font-size="5.5" dy="-3.2">KO</tspan><tspan dy="3.2">&#8203;</tspan> #1</text>
<path d="M282 744.5L453.4 744.5" stroke="#222" stroke-width=".8" />
<text x="370.6" y="757.6" font-size="9.5" text-anchor="middle" >RPE1 <tspan font-style="italic">TP53</tspan><tspan font-size="5.5" dy="-3.2">KO</tspan><tspan dy="3.2">&#8203;</tspan></text>
</g>
<g>
<text x="482.4" y="538.6" font-size="13.5" font-weight="bold" >h</text>
<text x="627.5" y="528.9" font-size="9.5" >AZD1775</text>
<text x="542.4" y="528.9" font-size="9" text-anchor="middle" >-</text>
<text x="559.8" y="528.9" font-size="9" text-anchor="middle" >+</text>
<text x="574.7" y="528.9" font-size="9" text-anchor="middle" >-</text>
<text x="588.6" y="528.9" font-size="9" text-anchor="middle" >-</text>
<text x="602.6" y="528.9" font-size="9" text-anchor="middle" >+</text>
<text x="616.1" y="528.9" font-size="9" text-anchor="middle" >-</text>
<text x="627.5" y="543.4" font-size="9.5" >Thapsigargin</text>
<text x="542.4" y="543.4" font-size="9" text-anchor="middle" >-</text>
<text x="559.8" y="543.4" font-size="9" text-anchor="middle" >-</text>
<text x="574.7" y="543.4" font-size="9" text-anchor="middle" >+</text>
<text x="588.6" y="543.4" font-size="9" text-anchor="middle" >-</text>
<text x="602.6" y="543.4" font-size="9" text-anchor="middle" >-</text>
<text x="616.1" y="543.4" font-size="9" text-anchor="middle" >+</text>
<text x="627.5" y="560.2" font-size="9.5" >&#945;CD3/CD28</text>
<text x="542.4" y="560.2" font-size="9" text-anchor="middle" >-</text>
<text x="559.8" y="560.2" font-size="9" text-anchor="middle" >-</text>
<text x="574.7" y="560.2" font-size="9" text-anchor="middle" >-</text>
<text x="588.6" y="560.2" font-size="9" text-anchor="middle" >+</text>
<text x="602.6" y="560.2" font-size="9" text-anchor="middle" >+</text>
<text x="616.1" y="560.2" font-size="9" text-anchor="middle" >+</text>
<text x="514.8" y="563.2" font-size="8.3" >kDa</text>
<rect x="533.3" y="566.2" width="92.3" height="12.5" fill="url(#gw)" />
<clipPath id="cb0"><rect x="533.3" y="566.2" width="92.3" height="12.5"/></clipPath>
<g clip-path="url(#cb0)">
<g filter="url(#bb)">
<ellipse cx="539.9" cy="572.3" rx="5" ry="1.3" fill="#000" opacity=".6"/>
<ellipse cx="559.8" cy="572.3" rx="4" ry="1.1" fill="#000" opacity=".13"/>
<ellipse cx="574.7" cy="572.3" rx="4.5" ry="1.2" fill="#000" opacity=".24"/>
<ellipse cx="588.6" cy="572.3" rx="5" ry="1.9" fill="#000" opacity=".4"/>
<ellipse cx="602.6" cy="572.3" rx="5" ry="1.9" fill="#000" opacity=".27"/>
<ellipse cx="616.1" cy="572.3" rx="5" ry="1.8" fill="#000" opacity=".3"/>
</g>
</g>
<rect x="533.3" y="566.2" width="92.3" height="12.5" fill="none" stroke="#000" stroke-width=".9" />
<text x="627.8" y="575.75" font-size="9.5" >WEE1</text>
<text x="529" y="574.7" font-size="8.3" text-anchor="end" >95</text>
<path d="M530.3 571.5L533.3 571.5" stroke="#222" stroke-width=".7" />
<rect x="533.3" y="581.7" width="92.3" height="16.3" fill="#fbfbfb" />
<clipPath id="cb1"><rect x="533.3" y="581.7" width="92.3" height="16.3"/></clipPath>
<g clip-path="url(#cb1)">
<g filter="url(#bb)">
<ellipse cx="588.6" cy="590.2" rx="5.25" ry="2.3" fill="#000" opacity="1"/>
<ellipse cx="602.6" cy="590.2" rx="5.25" ry="1.3" fill="#000" opacity=".5"/>
<ellipse cx="616.1" cy="590.2" rx="5.25" ry="1.9" fill="#000" opacity=".92"/>
<ellipse cx="542.4" cy="592.5" rx="4" ry="1.5" fill="#000" opacity=".05"/>
<ellipse cx="559.8" cy="592.5" rx="4" ry="1.5" fill="#000" opacity=".05"/>
<ellipse cx="574.7" cy="592.5" rx="4" ry="1.5" fill="#000" opacity=".05"/>
</g>
</g>
<rect x="533.3" y="581.7" width="92.3" height="16.3" fill="none" stroke="#000" stroke-width=".9" />
<text x="627.8" y="593.15" font-size="9.5" >CDK1-pY15</text>
<text x="529" y="598.9" font-size="8.3" text-anchor="end" >26</text>
<path d="M530.3 596.5L533.3 596.5" stroke="#222" stroke-width=".7" />
<rect x="533.3" y="601.4" width="92.3" height="16.7" fill="#f8f8f8" />
<clipPath id="cb2"><rect x="533.3" y="601.4" width="92.3" height="16.7"/></clipPath>
<g clip-path="url(#cb2)">
<g filter="url(#bb)">
<ellipse cx="588.6" cy="609.3" rx="5.25" ry="1.3" fill="#000" opacity=".25"/>
<ellipse cx="602.6" cy="609.3" rx="5.25" ry="1.8" fill="#000" opacity=".62"/>
<ellipse cx="616.1" cy="609.3" rx="5.25" ry="2.7" fill="#000" opacity="1"/>
<ellipse cx="542.4" cy="611.5" rx="4" ry="1.5" fill="#000" opacity=".05"/>
<ellipse cx="559.8" cy="611.5" rx="4" ry="1.5" fill="#000" opacity=".05"/>
<ellipse cx="574.7" cy="611.5" rx="4" ry="1.5" fill="#000" opacity=".05"/>
</g>
</g>
<rect x="533.3" y="601.4" width="92.3" height="16.7" fill="none" stroke="#000" stroke-width=".9" />
<text x="627.8" y="613.05" font-size="9.5" >ATF4</text>
<text x="529" y="611.4" font-size="8.3" text-anchor="end" >56</text>
<path d="M530.3 608.5L533.3 608.5" stroke="#222" stroke-width=".7" />
<rect x="533.3" y="621.2" width="92.3" height="16.6" fill="#fcfcfc" />
<clipPath id="cb3"><rect x="533.3" y="621.2" width="92.3" height="16.6"/></clipPath>
<g clip-path="url(#cb3)">
<g filter="url(#bb)">
<ellipse cx="588.6" cy="628.4" rx="5.3" ry="1.4" fill="#000" opacity=".95"/>
<ellipse cx="602.6" cy="628.4" rx="5.3" ry="1.4" fill="#000" opacity=".95"/>
<ellipse cx="616.1" cy="628.4" rx="5.3" ry="1.4" fill="#000" opacity=".95"/>
</g>
</g>
<rect x="533.3" y="621.2" width="92.3" height="16.6" fill="none" stroke="#000" stroke-width=".9" />
<text x="627.8" y="632.8" font-size="9.5" >HSP90</text>
<text x="529" y="636.5" font-size="8.3" text-anchor="end" >84</text>
<path d="M530.3 633.5L533.3 633.5" stroke="#222" stroke-width=".7" />
<rect x="533.3" y="641.4" width="92.3" height="16.2" fill="url(#gg)" />
<clipPath id="cb4"><rect x="533.3" y="641.4" width="92.3" height="16.2"/></clipPath>
<g clip-path="url(#cb4)">
<g filter="url(#bb)">
<ellipse cx="602.6" cy="650" rx="4.5" ry="1.2" fill="#000" opacity=".16"/>
</g>
<rect x="533.3" y="641.4" width="92.3" height="16.2" fill="#000" filter="url(#nz)" opacity=".25"/>
</g>
<rect x="533.3" y="641.4" width="92.3" height="16.2" fill="none" stroke="#000" stroke-width=".9" />
<text x="627.8" y="652.8" font-size="9.5" >GCN2-pT899</text>
<text x="529" y="650.3" font-size="8.3" text-anchor="end" >250</text>
<path d="M530.3 647.5L533.3 647.5" stroke="#222" stroke-width=".7" />
<rect x="533.3" y="661.1" width="92.3" height="16.1" fill="#dedede" />
<clipPath id="cb5"><rect x="533.3" y="661.1" width="92.3" height="16.1"/></clipPath>
<g clip-path="url(#cb5)">
<g filter="url(#bb)">
<ellipse cx="542.4" cy="669.6" rx="3.75" ry="1.1" fill="#000" opacity=".9"/>
<ellipse cx="559.8" cy="669.6" rx="3.5" ry="1.1" fill="#000" opacity=".5"/>
<ellipse cx="574.7" cy="669.6" rx="4" ry="1.1" fill="#000" opacity=".65"/>
<ellipse cx="588.6" cy="669.6" rx="3.5" ry="1.1" fill="#000" opacity=".2"/>
<ellipse cx="602.6" cy="669.6" rx="4.25" ry="1.1" fill="#000" opacity=".75"/>
<ellipse cx="616.1" cy="669.6" rx="3.5" ry="1.1" fill="#000" opacity=".32"/>
</g>
<rect x="533.3" y="661.1" width="92.3" height="16.1" fill="#000" filter="url(#nz)" opacity=".18"/>
</g>
<rect x="533.3" y="661.1" width="92.3" height="16.1" fill="none" stroke="#000" stroke-width=".9" />
<text x="627.8" y="672.45" font-size="9.5" >Vinculin</text>
<text x="529" y="668.4" font-size="8.3" text-anchor="end" >140</text>
<path d="M530.3 665.5L533.3 665.5" stroke="#222" stroke-width=".7" />
<rect x="533.3" y="680.9" width="92.3" height="63.3" fill="#e7e7e7" />
<clipPath id="cb6"><rect x="533.3" y="680.9" width="92.3" height="63.3"/></clipPath>
<g clip-path="url(#cb6)">
<g filter="url(#bs)">
<rect x="584.1" y="683" width="9" height="60" fill="#555" opacity=".2"/>
<rect x="584.1" y="684.5" width="9" height="5" fill="#444" opacity=".22"/>
<rect x="584.1" y="691" width="9" height="4" fill="#444" opacity=".18"/>
<rect x="584.1" y="698" width="9" height="4" fill="#444" opacity=".14"/>
<rect x="584.1" y="707.5" width="9" height="5" fill="#444" opacity=".22"/>
<rect x="584.1" y="715" width="9" height="4" fill="#444" opacity=".22"/>
<rect x="584.1" y="724" width="9" height="8" fill="#444" opacity=".36"/>
<rect x="584.1" y="735" width="9" height="6" fill="#444" opacity=".4"/>
<rect x="598.1" y="683" width="9" height="60" fill="#555" opacity=".1"/>
<rect x="598.1" y="684.5" width="9" height="5" fill="#444" opacity=".11"/>
<rect x="598.1" y="691" width="9" height="4" fill="#444" opacity=".09"/>
<rect x="598.1" y="698" width="9" height="4" fill="#444" opacity=".07"/>
<rect x="598.1" y="707.5" width="9" height="5" fill="#444" opacity=".11"/>
<rect x="598.1" y="715" width="9" height="4" fill="#444" opacity=".11"/>
<rect x="598.1" y="724" width="9" height="8" fill="#444" opacity=".18"/>
<rect x="598.1" y="735" width="9" height="6" fill="#444" opacity=".2"/>
<rect x="611.6" y="683" width="9" height="60" fill="#555" opacity=".11"/>
<rect x="611.6" y="684.5" width="9" height="5" fill="#444" opacity=".12"/>
<rect x="611.6" y="691" width="9" height="4" fill="#444" opacity=".1"/>
<rect x="611.6" y="698" width="9" height="4" fill="#444" opacity=".08"/>
<rect x="611.6" y="707.5" width="9" height="5" fill="#444" opacity=".12"/>
<rect x="611.6" y="715" width="9" height="4" fill="#444" opacity=".12"/>
<rect x="611.6" y="724" width="9" height="8" fill="#444" opacity=".2"/>
<rect x="611.6" y="735" width="9" height="6" fill="#444" opacity=".22"/>
<rect x="538.4" y="722" width="8" height="20" fill="#666" opacity=".06"/>
<rect x="555.8" y="722" width="8" height="20" fill="#666" opacity=".06"/>
<rect x="570.7" y="722" width="8" height="20" fill="#666" opacity=".06"/>
</g>
<rect x="533.3" y="680.9" width="92.3" height="63.3" fill="#000" filter="url(#nz)" opacity=".22"/>
</g>
<rect x="533.3" y="680.9" width="92.3" height="63.3" fill="none" stroke="#000" stroke-width=".9" />
<text x="627.8" y="716.2" font-size="9.5" >Puromycin</text>
<text x="529" y="707.6" font-size="8.3" text-anchor="end" >55</text>
<path d="M530.3 704.5L533.3 704.5" stroke="#222" stroke-width=".7" />
</g>
<g>
<text x="-.6" y="783.8" font-size="13.5" font-weight="bold" >i</text>
<path d="M53.8 810.12L58.68 810.85L63.55 811.69L68.43 812.67L73.3 813.8L78.18 815.1L83.05 816.58L87.93 818.28L92.81 820.19L97.68 822.35L102.56 824.76L107.43 827.43L112.31 830.37L117.18 833.58L122.06 837.03L126.94 840.71L131.81 844.58L136.69 848.61L141.56 852.74L146.44 856.93L151.31 861.12L156.19 865.24L161.07 869.25L165.94 873.1L170.82 876.76L175.69 880.18L180.57 883.35L185.44 886.26L190.32 888.9" fill="none" stroke="#595c5e" stroke-width=".85"/>
<path d="M53.8 828.21L58.68 830.3L63.55 832.52L68.43 834.87L73.3 837.33L78.18 839.91L83.05 842.58L87.93 845.34L92.81 848.18L97.68 851.07L102.56 854L107.43 856.94L112.31 859.89L117.18 862.81L122.06 865.69L126.94 868.52L131.81 871.26L136.69 873.92L141.56 876.48L146.44 878.92L151.31 881.24L156.19 883.44L161.07 885.5L165.94 887.44L170.82 889.24L175.69 890.92L180.57 892.46L185.44 893.89L190.32 895.2" fill="none" stroke="#e2737c" stroke-width=".85"/>
<path d="M53.8 854.13L58.68 856.82L63.55 859.51L68.43 862.18L73.3 864.82L78.18 867.41L83.05 869.95L87.93 872.42L92.81 874.81L97.68 877.11L102.56 879.32L107.43 881.42L112.31 883.42L117.18 885.31L122.06 887.09L126.94 888.76L131.81 890.33L136.69 891.79L141.56 893.14L146.44 894.4L151.31 895.56L156.19 896.63L161.07 897.62L165.94 898.52L170.82 899.35L175.69 900.11L180.57 900.8L185.44 901.43L190.32 902.01" fill="none" stroke="#e81c2e" stroke-width=".85"/>
<path d="M53.8 890.63L58.68 891.54L63.55 892.42L68.43 893.25L73.3 894.05L78.18 894.8L83.05 895.52L87.93 896.21L92.81 896.86L97.68 897.48L102.56 898.06L107.43 898.61L112.31 899.14L117.18 899.64L122.06 900.1L126.94 900.55L131.81 900.97L136.69 901.36L141.56 901.73L146.44 902.09L151.31 902.42L156.19 902.73L161.07 903.02L165.94 903.3L170.82 903.56L175.69 903.8L180.57 904.03L185.44 904.25L190.32 904.45" fill="none" stroke="#8a1218" stroke-width=".85"/>
<path d="M90.8 818.86L90.8 829.03M88.5 818.86h4.6M88.5 829.03h4.6" stroke="#3c3c3c" stroke-width=".7" fill="none"/>
<path d="M103.24 828.92L103.24 842.14M100.94 828.92h4.6M100.94 842.14h4.6" stroke="#3c3c3c" stroke-width=".7" fill="none"/>
<path d="M115.68 825.06L115.68 849.05M113.38 825.06h4.6M113.38 849.05h4.6" stroke="#3c3c3c" stroke-width=".7" fill="none"/>
<path d="M128.12 831.16L128.12 848.03M125.82 831.16h4.6M125.82 848.03h4.6" stroke="#3c3c3c" stroke-width=".7" fill="none"/>
<path d="M140.56 828.42L140.56 851.8M138.26 828.42h4.6M138.26 851.8h4.6" stroke="#3c3c3c" stroke-width=".7" fill="none"/>
<path d="M153 832.18L153 859.62M150.7 832.18h4.6M150.7 859.62h4.6" stroke="#3c3c3c" stroke-width=".7" fill="none"/>
<path d="M165.44 865.11L165.44 875.89M163.14 865.11h4.6M163.14 875.89h4.6" stroke="#3c3c3c" stroke-width=".7" fill="none"/>
<path d="M177.88 889.3L177.88 897.44M175.58 889.3h4.6M175.58 897.44h4.6" stroke="#3c3c3c" stroke-width=".7" fill="none"/>
<path d="M190.32 894.59L190.32 903.74M188.02 894.59h4.6M188.02 903.74h4.6" stroke="#3c3c3c" stroke-width=".7" fill="none"/>
<circle cx="53.8" cy="805.85" r="2.15" fill="#595c5e" />
<circle cx="90.8" cy="823.94" r="2.15" fill="#595c5e" />
<circle cx="103.24" cy="835.53" r="2.15" fill="#595c5e" />
<circle cx="115.68" cy="837.06" r="2.15" fill="#595c5e" />
<circle cx="128.12" cy="839.6" r="2.15" fill="#595c5e" />
<circle cx="140.56" cy="840.11" r="2.15" fill="#595c5e" />
<circle cx="153" cy="845.9" r="2.15" fill="#595c5e" />
<circle cx="165.44" cy="870.5" r="2.15" fill="#595c5e" />
<circle cx="177.88" cy="893.37" r="2.15" fill="#595c5e" />
<circle cx="190.32" cy="899.16" r="2.15" fill="#595c5e" />
<path d="M53.8 809.61L53.8 837.26M51.5 809.61h4.6M51.5 837.26h4.6" stroke="#1e1e1e" stroke-width=".7" fill="none"/>
<path d="M90.8 839.39L90.8 857.28M88.5 839.39h4.6M88.5 857.28h4.6" stroke="#1e1e1e" stroke-width=".7" fill="none"/>
<path d="M103.24 859.83L103.24 870.6M100.94 859.83h4.6M100.94 870.6h4.6" stroke="#1e1e1e" stroke-width=".7" fill="none"/>
<path d="M115.68 861.15L115.68 864.2M113.38 861.15h4.6M113.38 864.2h4.6" stroke="#1e1e1e" stroke-width=".7" fill="none"/>
<path d="M128.12 866.23L128.12 873.75M125.82 866.23h4.6M125.82 873.75h4.6" stroke="#1e1e1e" stroke-width=".7" fill="none"/>
<path d="M140.56 860.13L140.56 868.87M138.26 860.13h4.6M138.26 868.87h4.6" stroke="#1e1e1e" stroke-width=".7" fill="none"/>
<path d="M153 867.35L153 874.67M150.7 867.35h4.6M150.7 874.67h4.6" stroke="#1e1e1e" stroke-width=".7" fill="none"/>
<path d="M165.44 887.58L165.44 893.68M163.14 887.58h4.6M163.14 893.68h4.6" stroke="#1e1e1e" stroke-width=".7" fill="none"/>
<path d="M177.88 898.66L177.88 902.72M175.58 898.66h4.6M175.58 902.72h4.6" stroke="#1e1e1e" stroke-width=".7" fill="none"/>
<path d="M190.32 902.93L190.32 905.98M188.02 902.93h4.6M188.02 905.98h4.6" stroke="#1e1e1e" stroke-width=".7" fill="none"/>
<circle cx="53.8" cy="823.44" r="2.15" fill="#e2737c" />
<circle cx="90.8" cy="848.34" r="2.15" fill="#e2737c" />
<circle cx="103.24" cy="865.21" r="2.15" fill="#e2737c" />
<circle cx="115.68" cy="862.67" r="2.15" fill="#e2737c" />
<circle cx="128.12" cy="869.99" r="2.15" fill="#e2737c" />
<circle cx="140.56" cy="864.5" r="2.15" fill="#e2737c" />
<circle cx="153" cy="871.01" r="2.15" fill="#e2737c" />
<circle cx="165.44" cy="890.63" r="2.15" fill="#e2737c" />
<circle cx="177.88" cy="900.69" r="2.15" fill="#e2737c" />
<circle cx="190.32" cy="904.45" r="2.15" fill="#e2737c" />
<path d="M53.8 841.43L53.8 863.38M51.5 841.43h4.6M51.5 863.38h4.6" stroke="#1e1e1e" stroke-width=".7" fill="none"/>
<path d="M90.8 869.99L90.8 882.6M88.5 869.99h4.6M88.5 882.6h4.6" stroke="#1e1e1e" stroke-width=".7" fill="none"/>
<path d="M103.24 878.83L103.24 887.37M100.94 878.83h4.6M100.94 887.37h4.6" stroke="#1e1e1e" stroke-width=".7" fill="none"/>
<path d="M115.68 876.09L115.68 894.18M113.38 876.09h4.6M113.38 894.18h4.6" stroke="#1e1e1e" stroke-width=".7" fill="none"/>
<path d="M128.12 879.85L128.12 884.32M125.82 879.85h4.6M125.82 884.32h4.6" stroke="#1e1e1e" stroke-width=".7" fill="none"/>
<path d="M140.56 883.31L140.56 891.44M138.26 883.31h4.6M138.26 891.44h4.6" stroke="#1e1e1e" stroke-width=".7" fill="none"/>
<path d="M153 891.64L153 897.13M150.7 891.64h4.6M150.7 897.13h4.6" stroke="#1e1e1e" stroke-width=".7" fill="none"/>
<path d="M165.44 897.44L165.44 901.5M163.14 897.44h4.6M163.14 901.5h4.6" stroke="#1e1e1e" stroke-width=".7" fill="none"/>
<path d="M177.88 902.21L177.88 905.26M175.58 902.21h4.6M175.58 905.26h4.6" stroke="#1e1e1e" stroke-width=".7" fill="none"/>
<path d="M190.32 904.76L190.32 906.79M188.02 904.76h4.6M188.02 906.79h4.6" stroke="#1e1e1e" stroke-width=".7" fill="none"/>
<circle cx="53.8" cy="852.41" r="2.15" fill="#e81c2e" />
<circle cx="90.8" cy="876.29" r="2.15" fill="#e81c2e" />
<circle cx="103.24" cy="883.1" r="2.15" fill="#e81c2e" />
<circle cx="115.68" cy="885.14" r="2.15" fill="#e81c2e" />
<circle cx="128.12" cy="882.09" r="2.15" fill="#e81c2e" />
<circle cx="140.56" cy="887.37" r="2.15" fill="#e81c2e" />
<circle cx="153" cy="894.39" r="2.15" fill="#e81c2e" />
<circle cx="165.44" cy="899.47" r="2.15" fill="#e81c2e" />
<circle cx="177.88" cy="903.74" r="2.15" fill="#e81c2e" />
<circle cx="190.32" cy="905.77" r="2.15" fill="#e81c2e" />
<path d="M53.8 885.95L53.8 897.34M51.5 885.95h4.6M51.5 897.34h4.6" stroke="#1e1e1e" stroke-width=".7" fill="none"/>
<path d="M90.8 892.66L90.8 898.76M88.5 892.66h4.6M88.5 898.76h4.6" stroke="#1e1e1e" stroke-width=".7" fill="none"/>
<path d="M103.24 895.61L103.24 899.67M100.94 895.61h4.6M100.94 899.67h4.6" stroke="#1e1e1e" stroke-width=".7" fill="none"/>
<path d="M115.68 896.93L115.68 899.98M113.38 896.93h4.6M113.38 899.98h4.6" stroke="#1e1e1e" stroke-width=".7" fill="none"/>
<path d="M128.12 897.13L128.12 900.18M125.82 897.13h4.6M125.82 900.18h4.6" stroke="#1e1e1e" stroke-width=".7" fill="none"/>
<path d="M140.56 900.18L140.56 902.21M138.26 900.18h4.6M138.26 902.21h4.6" stroke="#1e1e1e" stroke-width=".7" fill="none"/>
<path d="M153 899.16L153 902.21M150.7 899.16h4.6M150.7 902.21h4.6" stroke="#1e1e1e" stroke-width=".7" fill="none"/>
<path d="M165.44 902.72L165.44 904.76M163.14 902.72h4.6M163.14 904.76h4.6" stroke="#1e1e1e" stroke-width=".7" fill="none"/>
<path d="M177.88 904.25L177.88 906.28M175.58 904.25h4.6M175.58 906.28h4.6" stroke="#1e1e1e" stroke-width=".7" fill="none"/>
<path d="M190.32 905.47L190.32 907.09M188.02 905.47h4.6M188.02 907.09h4.6" stroke="#1e1e1e" stroke-width=".7" fill="none"/>
<circle cx="53.8" cy="891.64" r="2.15" fill="#8a1218" />
<circle cx="90.8" cy="895.71" r="2.15" fill="#8a1218" />
<circle cx="103.24" cy="897.64" r="2.15" fill="#8a1218" />
<circle cx="115.68" cy="898.45" r="2.15" fill="#8a1218" />
<circle cx="128.12" cy="898.66" r="2.15" fill="#8a1218" />
<circle cx="140.56" cy="901.2" r="2.15" fill="#8a1218" />
<circle cx="153" cy="900.69" r="2.15" fill="#8a1218" />
<circle cx="165.44" cy="903.74" r="2.15" fill="#8a1218" />
<circle cx="177.88" cy="905.26" r="2.15" fill="#8a1218" />
<circle cx="190.32" cy="906.28" r="2.15" fill="#8a1218" />
<path d="M49.5 805.35L49.5 908.1" stroke="#111" stroke-width="1.3" />
<path d="M48.9 907.5L203.2 907.5" stroke="#111" stroke-width="1.2" />
<path d="M45.3 907.5L49.5 907.5" stroke="#111" stroke-width="1" />
<text x="44.1" y="910.9" font-size="9.5" text-anchor="end" >0</text>
<path d="M45.3 887.5L49.5 887.5" stroke="#111" stroke-width="1" />
<text x="44.1" y="890.57" font-size="9.5" text-anchor="end" >20</text>
<path d="M45.3 866.5L49.5 866.5" stroke="#111" stroke-width="1" />
<text x="44.1" y="870.24" font-size="9.5" text-anchor="end" >40</text>
<path d="M45.3 846.5L49.5 846.5" stroke="#111" stroke-width="1" />
<text x="44.1" y="849.91" font-size="9.5" text-anchor="end" >60</text>
<path d="M45.3 826.5L49.5 826.5" stroke="#111" stroke-width="1" />
<text x="44.1" y="829.58" font-size="9.5" text-anchor="end" >80</text>
<path d="M45.3 805.5L49.5 805.5" stroke="#111" stroke-width="1" />
<text x="44.1" y="809.25" font-size="9.5" text-anchor="end" >100</text>
<path d="M78.5 907.5L78.5 911.5" stroke="#111" stroke-width="1" />
<text x="78.6" y="921.9" font-size="9.5" text-anchor="middle" >0.1</text>
<path d="M119.5 907.5L119.5 911.5" stroke="#111" stroke-width="1" />
<text x="119.7" y="921.9" font-size="9.5" text-anchor="middle" >1</text>
<path d="M161.5 907.5L161.5 911.5" stroke="#111" stroke-width="1" />
<text x="161.4" y="921.9" font-size="9.5" text-anchor="middle" >10</text>
<path d="M202.5 907.5L202.5 911.5" stroke="#111" stroke-width="1" />
<text x="203.1" y="921.9" font-size="9.5" text-anchor="middle" >100</text>
<text font-size="9.5" text-anchor="middle" transform="translate(26.2 857.67) rotate(-90)" >MTT conversion (%)</text>
<text x="126.6" y="932.1" font-size="9.5" text-anchor="middle" >Cisplatin (&#181;M)</text>
<text x="123.2" y="781.4" font-size="9.5" text-anchor="middle" >RPE1 <tspan font-style="italic">TP53</tspan><tspan font-size="5.5" dy="-3.2">KO</tspan><tspan dy="3.2">&#8203;</tspan></text>
<text x="26.9" y="954.7" font-size="8.8" >IC50 (&#181;M):</text>
<path d="M76.4 942.5L84.8 942.5" stroke="#595c5e" stroke-width=".7" />
<circle cx="80.6" cy="942.7" r="1.7" fill="#595c5e" />
<text x="80.6" y="954.7" font-size="8.8" text-anchor="middle" >4.66</text>
<path d="M103.9 942.5L112.3 942.5" stroke="#e2737c" stroke-width=".7" />
<circle cx="108.1" cy="942.7" r="1.7" fill="#e2737c" />
<text x="108.1" y="954.7" font-size="8.8" text-anchor="middle" >0.490</text>
<path d="M132.8 942.5L141.2 942.5" stroke="#e81c2e" stroke-width=".7" />
<circle cx="137" cy="942.7" r="1.7" fill="#e81c2e" />
<text x="137" y="954.7" font-size="8.8" text-anchor="middle" >0.033</text>
<path d="M162 942.5L170.4 942.5" stroke="#8a1218" stroke-width=".7" />
<circle cx="166.2" cy="942.7" r="1.7" fill="#8a1218" />
<text x="166.2" y="954.7" font-size="8.8" text-anchor="middle" >&lt;0.001</text>
<path d="M255.1 807.03L260.03 807.32L264.95 807.67L269.88 808.11L274.8 808.64L279.73 809.29L284.65 810.08L289.58 811.04L294.51 812.2L299.43 813.61L304.36 815.28L309.28 817.28L314.21 819.63L319.13 822.38L324.06 825.56L328.99 829.17L333.91 833.23L338.84 837.71L343.76 842.56L348.69 847.71L353.61 853.07L358.54 858.51L363.47 863.93L368.39 869.19L373.32 874.2L378.24 878.86L383.17 883.13L388.09 886.96L393.02 890.34" fill="none" stroke="#595c5e" stroke-width=".85"/>
<path d="M255.1 818.83L260.03 820.41L264.95 822.15L269.88 824.06L274.8 826.13L279.73 828.38L284.65 830.8L289.58 833.39L294.51 836.14L299.43 839.05L304.36 842.09L309.28 845.26L314.21 848.52L319.13 851.86L324.06 855.24L328.99 858.63L333.91 862.02L338.84 865.36L343.76 868.63L348.69 871.81L353.61 874.86L358.54 877.78L363.47 880.55L368.39 883.16L373.32 885.59L378.24 887.86L383.17 889.95L388.09 891.87L393.02 893.63" fill="none" stroke="#e2737c" stroke-width=".85"/>
<path d="M255.1 836.37L260.03 838.6L264.95 840.91L269.88 843.3L274.8 845.75L279.73 848.26L284.65 850.81L289.58 853.4L294.51 856L299.43 858.61L304.36 861.21L309.28 863.8L314.21 866.34L319.13 868.84L324.06 871.28L328.99 873.66L333.91 875.96L338.84 878.17L343.76 880.3L348.69 882.32L353.61 884.25L358.54 886.08L363.47 887.81L368.39 889.43L373.32 890.95L378.24 892.38L383.17 893.71L388.09 894.94L393.02 896.09" fill="none" stroke="#e81c2e" stroke-width=".85"/>
<path d="M255.1 857.72L260.03 859.89L264.95 862.06L269.88 864.21L274.8 866.33L279.73 868.42L284.65 870.47L289.58 872.48L294.51 874.44L299.43 876.34L304.36 878.18L309.28 879.96L314.21 881.67L319.13 883.31L324.06 884.89L328.99 886.39L333.91 887.83L338.84 889.19L343.76 890.48L348.69 891.7L353.61 892.85L358.54 893.94L363.47 894.97L368.39 895.93L373.32 896.83L378.24 897.67L383.17 898.46L388.09 899.2L393.02 899.88" fill="none" stroke="#8a1218" stroke-width=".85"/>
<path d="M292.3 806.01L292.3 814.21M290 806.01h4.6M290 814.21h4.6" stroke="#3c3c3c" stroke-width=".7" fill="none"/>
<path d="M304.89 812.57L304.89 839.25M302.59 812.57h4.6M302.59 839.25h4.6" stroke="#3c3c3c" stroke-width=".7" fill="none"/>
<path d="M317.48 809.29L317.48 831.86M315.18 809.29h4.6M315.18 831.86h4.6" stroke="#3c3c3c" stroke-width=".7" fill="none"/>
<path d="M330.07 821.29L330.07 841.4M327.77 821.29h4.6M327.77 841.4h4.6" stroke="#3c3c3c" stroke-width=".7" fill="none"/>
<path d="M342.66 823.45L342.66 852.79M340.36 823.45h4.6M340.36 852.79h4.6" stroke="#3c3c3c" stroke-width=".7" fill="none"/>
<path d="M355.25 829.91L355.25 857.41M352.95 829.91h4.6M352.95 857.41h4.6" stroke="#3c3c3c" stroke-width=".7" fill="none"/>
<path d="M367.84 859.25L367.84 878.75M365.54 859.25h4.6M365.54 878.75h4.6" stroke="#3c3c3c" stroke-width=".7" fill="none"/>
<path d="M380.43 886.24L380.43 893.01M378.13 886.24h4.6M378.13 893.01h4.6" stroke="#3c3c3c" stroke-width=".7" fill="none"/>
<path d="M393.02 890.24L393.02 896.4M390.72 890.24h4.6M390.72 896.4h4.6" stroke="#3c3c3c" stroke-width=".7" fill="none"/>
<circle cx="255.1" cy="806.01" r="2.15" fill="#595c5e" />
<circle cx="292.3" cy="810.11" r="2.15" fill="#595c5e" />
<circle cx="304.89" cy="825.91" r="2.15" fill="#595c5e" />
<circle cx="317.48" cy="820.57" r="2.15" fill="#595c5e" />
<circle cx="330.07" cy="831.35" r="2.15" fill="#595c5e" />
<circle cx="342.66" cy="838.12" r="2.15" fill="#595c5e" />
<circle cx="355.25" cy="843.66" r="2.15" fill="#595c5e" />
<circle cx="367.84" cy="869" r="2.15" fill="#595c5e" />
<circle cx="380.43" cy="889.62" r="2.15" fill="#595c5e" />
<circle cx="393.02" cy="893.32" r="2.15" fill="#595c5e" />
<path d="M255.1 807.95L255.1 818.21M252.8 807.95h4.6M252.8 818.21h4.6" stroke="#1e1e1e" stroke-width=".7" fill="none"/>
<path d="M292.3 836.27L292.3 850.02M290 836.27h4.6M290 850.02h4.6" stroke="#1e1e1e" stroke-width=".7" fill="none"/>
<path d="M304.89 839.14L304.89 859.66M302.59 839.14h4.6M302.59 859.66h4.6" stroke="#1e1e1e" stroke-width=".7" fill="none"/>
<path d="M317.48 839.45L317.48 859.97M315.18 839.45h4.6M315.18 859.97h4.6" stroke="#1e1e1e" stroke-width=".7" fill="none"/>
<path d="M330.07 843.76L330.07 860.18M327.77 843.76h4.6M327.77 860.18h4.6" stroke="#1e1e1e" stroke-width=".7" fill="none"/>
<path d="M342.66 846.53L342.66 865M340.36 846.53h4.6M340.36 865h4.6" stroke="#1e1e1e" stroke-width=".7" fill="none"/>
<path d="M355.25 859.87L355.25 874.23M352.95 859.87h4.6M352.95 874.23h4.6" stroke="#1e1e1e" stroke-width=".7" fill="none"/>
<path d="M367.84 881.42L367.84 890.65M365.54 881.42h4.6M365.54 890.65h4.6" stroke="#1e1e1e" stroke-width=".7" fill="none"/>
<path d="M380.43 888.5L380.43 894.65M378.13 888.5h4.6M378.13 894.65h4.6" stroke="#1e1e1e" stroke-width=".7" fill="none"/>
<path d="M393.02 892.8L393.02 897.93M390.72 892.8h4.6M390.72 897.93h4.6" stroke="#1e1e1e" stroke-width=".7" fill="none"/>
<circle cx="255.1" cy="813.08" r="2.15" fill="#e2737c" />
<circle cx="292.3" cy="843.15" r="2.15" fill="#e2737c" />
<circle cx="304.89" cy="849.4" r="2.15" fill="#e2737c" />
<circle cx="317.48" cy="849.71" r="2.15" fill="#e2737c" />
<circle cx="330.07" cy="851.97" r="2.15" fill="#e2737c" />
<circle cx="342.66" cy="855.77" r="2.15" fill="#e2737c" />
<circle cx="355.25" cy="867.05" r="2.15" fill="#e2737c" />
<circle cx="367.84" cy="886.03" r="2.15" fill="#e2737c" />
<circle cx="380.43" cy="891.57" r="2.15" fill="#e2737c" />
<circle cx="393.02" cy="895.37" r="2.15" fill="#e2737c" />
<path d="M255.1 826.94L255.1 845.4M252.8 826.94h4.6M252.8 845.4h4.6" stroke="#1e1e1e" stroke-width=".7" fill="none"/>
<path d="M292.3 846.53L292.3 860.9M290 846.53h4.6M290 860.9h4.6" stroke="#1e1e1e" stroke-width=".7" fill="none"/>
<path d="M304.89 853.71L304.89 874.23M302.59 853.71h4.6M302.59 874.23h4.6" stroke="#1e1e1e" stroke-width=".7" fill="none"/>
<path d="M317.48 854.23L317.48 872.7M315.18 854.23h4.6M315.18 872.7h4.6" stroke="#1e1e1e" stroke-width=".7" fill="none"/>
<path d="M330.07 855.56L330.07 871.98M327.77 855.56h4.6M327.77 871.98h4.6" stroke="#1e1e1e" stroke-width=".7" fill="none"/>
<path d="M342.66 861.31L342.66 879.77M340.36 861.31h4.6M340.36 879.77h4.6" stroke="#1e1e1e" stroke-width=".7" fill="none"/>
<path d="M355.25 871.67L355.25 883.98M352.95 871.67h4.6M352.95 883.98h4.6" stroke="#1e1e1e" stroke-width=".7" fill="none"/>
<path d="M367.84 887.98L367.84 896.19M365.54 887.98h4.6M365.54 896.19h4.6" stroke="#1e1e1e" stroke-width=".7" fill="none"/>
<path d="M380.43 892.29L380.43 898.45M378.13 892.29h4.6M378.13 898.45h4.6" stroke="#1e1e1e" stroke-width=".7" fill="none"/>
<path d="M393.02 896.09L393.02 902.24M390.72 896.09h4.6M390.72 902.24h4.6" stroke="#1e1e1e" stroke-width=".7" fill="none"/>
<circle cx="255.1" cy="836.17" r="2.15" fill="#e81c2e" />
<circle cx="292.3" cy="853.71" r="2.15" fill="#e81c2e" />
<circle cx="304.89" cy="863.97" r="2.15" fill="#e81c2e" />
<circle cx="317.48" cy="863.46" r="2.15" fill="#e81c2e" />
<circle cx="330.07" cy="863.77" r="2.15" fill="#e81c2e" />
<circle cx="342.66" cy="870.54" r="2.15" fill="#e81c2e" />
<circle cx="355.25" cy="877.83" r="2.15" fill="#e81c2e" />
<circle cx="367.84" cy="892.09" r="2.15" fill="#e81c2e" />
<circle cx="380.43" cy="895.37" r="2.15" fill="#e81c2e" />
<circle cx="393.02" cy="899.17" r="2.15" fill="#e81c2e" />
<path d="M255.1 845.4L255.1 875.57M252.8 845.4h4.6M252.8 875.57h4.6" stroke="#1e1e1e" stroke-width=".7" fill="none"/>
<path d="M292.3 859.97L292.3 878.03M290 859.97h4.6M290 878.03h4.6" stroke="#1e1e1e" stroke-width=".7" fill="none"/>
<path d="M304.89 873.72L304.89 885.83M302.59 873.72h4.6M302.59 885.83h4.6" stroke="#1e1e1e" stroke-width=".7" fill="none"/>
<path d="M317.48 872.8L317.48 889.21M315.18 872.8h4.6M315.18 889.21h4.6" stroke="#1e1e1e" stroke-width=".7" fill="none"/>
<path d="M330.07 874.13L330.07 890.55M327.77 874.13h4.6M327.77 890.55h4.6" stroke="#1e1e1e" stroke-width=".7" fill="none"/>
<path d="M342.66 877.62L342.66 894.45M340.36 877.62h4.6M340.36 894.45h4.6" stroke="#1e1e1e" stroke-width=".7" fill="none"/>
<path d="M355.25 889.01L355.25 895.16M352.95 889.01h4.6M352.95 895.16h4.6" stroke="#1e1e1e" stroke-width=".7" fill="none"/>
<path d="M367.84 896.29L367.84 900.4M365.54 896.29h4.6M365.54 900.4h4.6" stroke="#1e1e1e" stroke-width=".7" fill="none"/>
<path d="M380.43 899.78L380.43 904.91M378.13 899.78h4.6M378.13 904.91h4.6" stroke="#1e1e1e" stroke-width=".7" fill="none"/>
<path d="M393.02 901.32L393.02 905.42M390.72 901.32h4.6M390.72 905.42h4.6" stroke="#1e1e1e" stroke-width=".7" fill="none"/>
<circle cx="255.1" cy="860.49" r="2.15" fill="#8a1218" />
<circle cx="292.3" cy="869" r="2.15" fill="#8a1218" />
<circle cx="304.89" cy="879.77" r="2.15" fill="#8a1218" />
<circle cx="317.48" cy="881.01" r="2.15" fill="#8a1218" />
<circle cx="330.07" cy="882.34" r="2.15" fill="#8a1218" />
<circle cx="342.66" cy="886.03" r="2.15" fill="#8a1218" />
<circle cx="355.25" cy="892.09" r="2.15" fill="#8a1218" />
<circle cx="367.84" cy="898.35" r="2.15" fill="#8a1218" />
<circle cx="380.43" cy="902.35" r="2.15" fill="#8a1218" />
<circle cx="393.02" cy="903.37" r="2.15" fill="#8a1218" />
<path d="M251.5 805.3L251.5 909" stroke="#111" stroke-width="1.3" />
<path d="M250.4 908.5L405.8 908.5" stroke="#111" stroke-width="1.2" />
<path d="M246.8 908.5L251 908.5" stroke="#111" stroke-width="1" />
<text x="245.6" y="911.8" font-size="9.5" text-anchor="end" >0</text>
<path d="M246.8 887.5L251 887.5" stroke="#111" stroke-width="1" />
<text x="245.6" y="891.28" font-size="9.5" text-anchor="end" >20</text>
<path d="M246.8 867.5L251 867.5" stroke="#111" stroke-width="1" />
<text x="245.6" y="870.76" font-size="9.5" text-anchor="end" >40</text>
<path d="M246.8 846.5L251 846.5" stroke="#111" stroke-width="1" />
<text x="245.6" y="850.24" font-size="9.5" text-anchor="end" >60</text>
<path d="M246.8 826.5L251 826.5" stroke="#111" stroke-width="1" />
<text x="245.6" y="829.72" font-size="9.5" text-anchor="end" >80</text>
<path d="M246.8 805.5L251 805.5" stroke="#111" stroke-width="1" />
<text x="245.6" y="809.2" font-size="9.5" text-anchor="end" >100</text>
<path d="M280.5 908.4L280.5 912.4" stroke="#111" stroke-width="1" />
<text x="280.6" y="922.8" font-size="9.5" text-anchor="middle" >0.1</text>
<path d="M321.5 908.4L321.5 912.4" stroke="#111" stroke-width="1" />
<text x="322.1" y="922.8" font-size="9.5" text-anchor="middle" >1</text>
<path d="M363.5 908.4L363.5 912.4" stroke="#111" stroke-width="1" />
<text x="364" y="922.8" font-size="9.5" text-anchor="middle" >10</text>
<path d="M405.5 908.4L405.5 912.4" stroke="#111" stroke-width="1" />
<text x="405.7" y="922.8" font-size="9.5" text-anchor="middle" >100</text>
<text font-size="9.5" text-anchor="middle" transform="translate(227.7 858.1) rotate(-90)" >MTT conversion (%)</text>
<text x="328.3" y="933" font-size="9.5" text-anchor="middle" >Cisplatin (&#181;M)</text>
<text x="323.1" y="781.4" font-size="9.5" text-anchor="middle" >RPE1 <tspan font-style="italic">TP53</tspan><tspan font-size="5.5" dy="-3.2">KO</tspan><tspan dy="3.2">&#8203;</tspan></text>
<text x="323.1" y="794.7" font-size="9.5" text-anchor="middle" ><tspan font-style="italic">GCN2</tspan><tspan font-size="5.5" dy="-3.2">KO</tspan><tspan dy="3.2">&#8203;</tspan> #1</text>
<text x="226.9" y="954.7" font-size="8.8" >IC50 (&#181;M):</text>
<path d="M279.8 942.5L288.2 942.5" stroke="#595c5e" stroke-width=".7" />
<circle cx="284" cy="942.7" r="1.7" fill="#595c5e" />
<text x="284" y="954.7" font-size="8.8" text-anchor="middle" >7.14</text>
<path d="M308.3 942.5L316.7 942.5" stroke="#e2737c" stroke-width=".7" />
<circle cx="312.5" cy="942.7" r="1.7" fill="#e2737c" />
<text x="312.5" y="954.7" font-size="8.8" text-anchor="middle" >1.53</text>
<path d="M336.8 942.5L345.2 942.5" stroke="#e81c2e" stroke-width=".7" />
<circle cx="341" cy="942.7" r="1.7" fill="#e81c2e" />
<text x="341" y="954.7" font-size="8.8" text-anchor="middle" >0.343</text>
<path d="M365.4 942.5L373.8 942.5" stroke="#8a1218" stroke-width=".7" />
<circle cx="369.6" cy="942.7" r="1.7" fill="#8a1218" />
<text x="369.6" y="954.7" font-size="8.8" text-anchor="middle" >0.026</text>
<path d="M457.6 813.08L462.52 814.01L467.45 815.03L472.37 816.17L477.3 817.44L482.22 818.84L487.15 820.37L492.07 822.06L496.99 823.9L501.92 825.9L506.84 828.06L511.77 830.39L516.69 832.88L521.62 835.53L526.54 838.32L531.46 841.24L536.39 844.29L541.31 847.43L546.24 850.65L551.16 853.93L556.09 857.23L561.01 860.53L565.93 863.8L570.86 867.02L575.78 870.15L580.71 873.19L585.63 876.11L590.56 878.89L595.48 881.52" fill="none" stroke="#595c5e" stroke-width=".85"/>
<path d="M457.6 842.63L462.52 844.31L467.45 846.01L472.37 847.74L477.3 849.49L482.22 851.26L487.15 853.04L492.07 854.84L496.99 856.64L501.92 858.44L506.84 860.24L511.77 862.03L516.69 863.8L521.62 865.57L526.54 867.31L531.46 869.02L536.39 870.71L541.31 872.37L546.24 873.99L551.16 875.58L556.09 877.13L561.01 878.63L565.93 880.1L570.86 881.51L575.78 882.88L580.71 884.2L585.63 885.48L590.56 886.7L595.48 887.88" fill="none" stroke="#e2737c" stroke-width=".85"/>
<path d="M457.6 852.18L462.52 853.89L467.45 855.61L472.37 857.33L477.3 859.05L482.22 860.77L487.15 862.48L492.07 864.18L496.99 865.86L501.92 867.52L506.84 869.16L511.77 870.77L516.69 872.36L521.62 873.92L526.54 875.44L531.46 876.92L536.39 878.37L541.31 879.77L546.24 881.14L551.16 882.46L556.09 883.74L561.01 884.98L565.93 886.17L570.86 887.32L575.78 888.42L580.71 889.48L585.63 890.49L590.56 891.47L595.48 892.39" fill="none" stroke="#e81c2e" stroke-width=".85"/>
<path d="M457.6 863.46L462.52 865.23L467.45 866.98L472.37 868.7L477.3 870.4L482.22 872.07L487.15 873.7L492.07 875.3L496.99 876.86L501.92 878.38L506.84 879.85L511.77 881.28L516.69 882.66L521.62 883.99L526.54 885.27L531.46 886.51L536.39 887.7L541.31 888.84L546.24 889.93L551.16 890.97L556.09 891.96L561.01 892.91L565.93 893.81L570.86 894.67L575.78 895.49L580.71 896.26L585.63 896.99L590.56 897.69L595.48 898.35" fill="none" stroke="#8a1218" stroke-width=".85"/>
<path d="M495 806.42L495 837.2M492.7 806.42h4.6M492.7 837.2h4.6" stroke="#3c3c3c" stroke-width=".7" fill="none"/>
<path d="M507.56 821.5L507.56 847.76M505.26 821.5h4.6M505.26 847.76h4.6" stroke="#3c3c3c" stroke-width=".7" fill="none"/>
<path d="M520.12 830.32L520.12 849.61M517.82 830.32h4.6M517.82 849.61h4.6" stroke="#3c3c3c" stroke-width=".7" fill="none"/>
<path d="M532.68 824.88L532.68 852.38M530.38 824.88h4.6M530.38 852.38h4.6" stroke="#3c3c3c" stroke-width=".7" fill="none"/>
<path d="M545.24 836.89L545.24 859.46M542.94 836.89h4.6M542.94 859.46h4.6" stroke="#3c3c3c" stroke-width=".7" fill="none"/>
<path d="M557.8 848.07L557.8 862.44M555.5 848.07h4.6M555.5 862.44h4.6" stroke="#3c3c3c" stroke-width=".7" fill="none"/>
<path d="M570.36 860.08L570.36 870.34M568.06 860.08h4.6M568.06 870.34h4.6" stroke="#3c3c3c" stroke-width=".7" fill="none"/>
<path d="M582.92 871.16L582.92 881.42M580.62 871.16h4.6M580.62 881.42h4.6" stroke="#3c3c3c" stroke-width=".7" fill="none"/>
<path d="M595.48 879.98L595.48 889.21M593.18 879.98h4.6M593.18 889.21h4.6" stroke="#3c3c3c" stroke-width=".7" fill="none"/>
<circle cx="457.6" cy="805.8" r="2.15" fill="#595c5e" />
<circle cx="495" cy="821.81" r="2.15" fill="#595c5e" />
<circle cx="507.56" cy="834.63" r="2.15" fill="#595c5e" />
<circle cx="520.12" cy="839.97" r="2.15" fill="#595c5e" />
<circle cx="532.68" cy="838.63" r="2.15" fill="#595c5e" />
<circle cx="545.24" cy="848.17" r="2.15" fill="#595c5e" />
<circle cx="557.8" cy="855.25" r="2.15" fill="#595c5e" />
<circle cx="570.36" cy="865.21" r="2.15" fill="#595c5e" />
<circle cx="582.92" cy="876.29" r="2.15" fill="#595c5e" />
<circle cx="595.48" cy="884.6" r="2.15" fill="#595c5e" />
<path d="M457.6 840.38L457.6 847.56M455.3 840.38h4.6M455.3 847.56h4.6" stroke="#1e1e1e" stroke-width=".7" fill="none"/>
<path d="M495 843.97L495 864.49M492.7 843.97h4.6M492.7 864.49h4.6" stroke="#1e1e1e" stroke-width=".7" fill="none"/>
<path d="M507.56 855.46L507.56 875.98M505.26 855.46h4.6M505.26 875.98h4.6" stroke="#1e1e1e" stroke-width=".7" fill="none"/>
<path d="M520.12 855.56L520.12 869.92M517.82 855.56h4.6M517.82 869.92h4.6" stroke="#1e1e1e" stroke-width=".7" fill="none"/>
<path d="M532.68 851.46L532.68 871.98M530.38 851.46h4.6M530.38 871.98h4.6" stroke="#1e1e1e" stroke-width=".7" fill="none"/>
<path d="M545.24 853.41L545.24 859.56M542.94 853.41h4.6M542.94 859.56h4.6" stroke="#1e1e1e" stroke-width=".7" fill="none"/>
<path d="M557.8 866.33L557.8 882.75M555.5 866.33h4.6M555.5 882.75h4.6" stroke="#1e1e1e" stroke-width=".7" fill="none"/>
<path d="M570.36 873.62L570.36 885.93M568.06 873.62h4.6M568.06 885.93h4.6" stroke="#1e1e1e" stroke-width=".7" fill="none"/>
<path d="M582.92 877.21L582.92 887.47M580.62 877.21h4.6M580.62 887.47h4.6" stroke="#1e1e1e" stroke-width=".7" fill="none"/>
<path d="M595.48 886.44L595.48 896.7M593.18 886.44h4.6M593.18 896.7h4.6" stroke="#1e1e1e" stroke-width=".7" fill="none"/>
<circle cx="457.6" cy="843.97" r="2.15" fill="#e2737c" />
<circle cx="495" cy="854.23" r="2.15" fill="#e2737c" />
<circle cx="507.56" cy="865.72" r="2.15" fill="#e2737c" />
<circle cx="520.12" cy="862.74" r="2.15" fill="#e2737c" />
<circle cx="532.68" cy="861.72" r="2.15" fill="#e2737c" />
<circle cx="545.24" cy="856.48" r="2.15" fill="#e2737c" />
<circle cx="557.8" cy="874.54" r="2.15" fill="#e2737c" />
<circle cx="570.36" cy="879.77" r="2.15" fill="#e2737c" />
<circle cx="582.92" cy="882.34" r="2.15" fill="#e2737c" />
<circle cx="595.48" cy="891.57" r="2.15" fill="#e2737c" />
<path d="M457.6 849.61L457.6 857.82M455.3 849.61h4.6M455.3 857.82h4.6" stroke="#1e1e1e" stroke-width=".7" fill="none"/>
<path d="M495 858.23L495 880.8M492.7 858.23h4.6M492.7 880.8h4.6" stroke="#1e1e1e" stroke-width=".7" fill="none"/>
<path d="M507.56 860.9L507.56 871.16M505.26 860.9h4.6M505.26 871.16h4.6" stroke="#1e1e1e" stroke-width=".7" fill="none"/>
<path d="M520.12 863.36L520.12 879.77M517.82 863.36h4.6M517.82 879.77h4.6" stroke="#1e1e1e" stroke-width=".7" fill="none"/>
<path d="M532.68 864.79L532.68 883.26M530.38 864.79h4.6M530.38 883.26h4.6" stroke="#1e1e1e" stroke-width=".7" fill="none"/>
<path d="M545.24 862.02L545.24 882.54M542.94 862.02h4.6M542.94 882.54h4.6" stroke="#1e1e1e" stroke-width=".7" fill="none"/>
<path d="M557.8 873.11L557.8 887.47M555.5 873.11h4.6M555.5 887.47h4.6" stroke="#1e1e1e" stroke-width=".7" fill="none"/>
<path d="M570.36 881.42L570.36 891.68M568.06 881.42h4.6M568.06 891.68h4.6" stroke="#1e1e1e" stroke-width=".7" fill="none"/>
<path d="M582.92 887.47L582.92 895.68M580.62 887.47h4.6M580.62 895.68h4.6" stroke="#1e1e1e" stroke-width=".7" fill="none"/>
<path d="M595.48 891.98L595.48 900.19M593.18 891.98h4.6M593.18 900.19h4.6" stroke="#1e1e1e" stroke-width=".7" fill="none"/>
<circle cx="457.6" cy="853.71" r="2.15" fill="#e81c2e" />
<circle cx="495" cy="869.51" r="2.15" fill="#e81c2e" />
<circle cx="507.56" cy="866.03" r="2.15" fill="#e81c2e" />
<circle cx="520.12" cy="871.57" r="2.15" fill="#e81c2e" />
<circle cx="532.68" cy="874.03" r="2.15" fill="#e81c2e" />
<circle cx="545.24" cy="872.28" r="2.15" fill="#e81c2e" />
<circle cx="557.8" cy="880.29" r="2.15" fill="#e81c2e" />
<circle cx="570.36" cy="886.55" r="2.15" fill="#e81c2e" />
<circle cx="582.92" cy="891.57" r="2.15" fill="#e81c2e" />
<circle cx="595.48" cy="896.09" r="2.15" fill="#e81c2e" />
<path d="M457.6 863.67L457.6 870.85M455.3 863.67h4.6M455.3 870.85h4.6" stroke="#1e1e1e" stroke-width=".7" fill="none"/>
<path d="M495 865.31L495 881.72M492.7 865.31h4.6M492.7 881.72h4.6" stroke="#1e1e1e" stroke-width=".7" fill="none"/>
<path d="M507.56 867.26L507.56 887.78M505.26 867.26h4.6M505.26 887.78h4.6" stroke="#1e1e1e" stroke-width=".7" fill="none"/>
<path d="M520.12 873.11L520.12 889.52M517.82 873.11h4.6M517.82 889.52h4.6" stroke="#1e1e1e" stroke-width=".7" fill="none"/>
<path d="M532.68 873.11L532.68 891.57M530.38 873.11h4.6M530.38 891.57h4.6" stroke="#1e1e1e" stroke-width=".7" fill="none"/>
<path d="M545.24 876.7L545.24 889.01M542.94 876.7h4.6M542.94 889.01h4.6" stroke="#1e1e1e" stroke-width=".7" fill="none"/>
<path d="M557.8 886.24L557.8 894.45M555.5 886.24h4.6M555.5 894.45h4.6" stroke="#1e1e1e" stroke-width=".7" fill="none"/>
<path d="M570.36 884.19L570.36 896.5M568.06 884.19h4.6M568.06 896.5h4.6" stroke="#1e1e1e" stroke-width=".7" fill="none"/>
<path d="M582.92 895.27L582.92 901.42M580.62 895.27h4.6M580.62 901.42h4.6" stroke="#1e1e1e" stroke-width=".7" fill="none"/>
<path d="M595.48 899.27L595.48 905.42M593.18 899.27h4.6M593.18 905.42h4.6" stroke="#1e1e1e" stroke-width=".7" fill="none"/>
<circle cx="457.6" cy="867.26" r="2.15" fill="#8a1218" />
<circle cx="495" cy="873.52" r="2.15" fill="#8a1218" />
<circle cx="507.56" cy="877.52" r="2.15" fill="#8a1218" />
<circle cx="520.12" cy="881.31" r="2.15" fill="#8a1218" />
<circle cx="532.68" cy="882.34" r="2.15" fill="#8a1218" />
<circle cx="545.24" cy="882.85" r="2.15" fill="#8a1218" />
<circle cx="557.8" cy="890.34" r="2.15" fill="#8a1218" />
<circle cx="570.36" cy="890.34" r="2.15" fill="#8a1218" />
<circle cx="582.92" cy="898.35" r="2.15" fill="#8a1218" />
<circle cx="595.48" cy="902.35" r="2.15" fill="#8a1218" />
<path d="M454.5 805.3L454.5 909" stroke="#111" stroke-width="1.3" />
<path d="M453.6 908.5L608.5 908.5" stroke="#111" stroke-width="1.2" />
<path d="M450 908.5L454.2 908.5" stroke="#111" stroke-width="1" />
<text x="448.8" y="911.8" font-size="9.5" text-anchor="end" >0</text>
<path d="M450 887.5L454.2 887.5" stroke="#111" stroke-width="1" />
<text x="448.8" y="891.28" font-size="9.5" text-anchor="end" >20</text>
<path d="M450 867.5L454.2 867.5" stroke="#111" stroke-width="1" />
<text x="448.8" y="870.76" font-size="9.5" text-anchor="end" >40</text>
<path d="M450 846.5L454.2 846.5" stroke="#111" stroke-width="1" />
<text x="448.8" y="850.24" font-size="9.5" text-anchor="end" >60</text>
<path d="M450 826.5L454.2 826.5" stroke="#111" stroke-width="1" />
<text x="448.8" y="829.72" font-size="9.5" text-anchor="end" >80</text>
<path d="M450 805.5L454.2 805.5" stroke="#111" stroke-width="1" />
<text x="448.8" y="809.2" font-size="9.5" text-anchor="end" >100</text>
<path d="M482.5 908.4L482.5 912.4" stroke="#111" stroke-width="1" />
<text x="483" y="922.8" font-size="9.5" text-anchor="middle" >0.1</text>
<path d="M524.5 908.4L524.5 912.4" stroke="#111" stroke-width="1" />
<text x="524.9" y="922.8" font-size="9.5" text-anchor="middle" >1</text>
<path d="M566.5 908.4L566.5 912.4" stroke="#111" stroke-width="1" />
<text x="566.7" y="922.8" font-size="9.5" text-anchor="middle" >10</text>
<path d="M608.5 908.4L608.5 912.4" stroke="#111" stroke-width="1" />
<text x="608.4" y="922.8" font-size="9.5" text-anchor="middle" >100</text>
<text font-size="9.5" text-anchor="middle" transform="translate(430.9 858.1) rotate(-90)" >MTT conversion (%)</text>
<text x="530.9" y="933" font-size="9.5" text-anchor="middle" >Cisplatin (&#181;M)</text>
<text x="519.3" y="781.4" font-size="9.5" text-anchor="middle" >RPE1 <tspan font-style="italic">TP53</tspan><tspan font-size="5.5" dy="-3.2">KO</tspan><tspan dy="3.2">&#8203;</tspan></text>
<text x="519.3" y="794.7" font-size="9.5" text-anchor="middle" ><tspan font-style="italic">GCN2</tspan><tspan font-size="5.5" dy="-3.2">KO</tspan><tspan dy="3.2">&#8203;</tspan> #2</text>
<text x="429.5" y="954.7" font-size="8.8" >IC50 (&#181;M):</text>
<path d="M483 942.5L491.4 942.5" stroke="#595c5e" stroke-width=".7" />
<circle cx="487.2" cy="942.7" r="1.7" fill="#595c5e" />
<text x="487.2" y="954.7" font-size="8.8" text-anchor="middle" >5.68</text>
<path d="M511.6 942.5L520 942.5" stroke="#e2737c" stroke-width=".7" />
<circle cx="515.8" cy="942.7" r="1.7" fill="#e2737c" />
<text x="515.8" y="954.7" font-size="8.8" text-anchor="middle" >0.319</text>
<path d="M539.4 942.5L547.8 942.5" stroke="#e81c2e" stroke-width=".7" />
<circle cx="543.6" cy="942.7" r="1.7" fill="#e81c2e" />
<text x="543.6" y="954.7" font-size="8.8" text-anchor="middle" >0.058</text>
<path d="M568.7 942.5L577.1 942.5" stroke="#8a1218" stroke-width=".7" />
<circle cx="572.9" cy="942.7" r="1.7" fill="#8a1218" />
<text x="572.9" y="954.7" font-size="8.8" text-anchor="middle" >0.008</text>
<path d="M581.3 805.5L591.7 805.5" stroke="#595c5e" stroke-width=".8" />
<circle cx="586.5" cy="805" r="2.15" fill="#595c5e" />
<text x="598.3" y="808.3" font-size="9.3" >DMSO</text>
<path d="M581.3 818.5L591.7 818.5" stroke="#e2737c" stroke-width=".8" />
<circle cx="586.5" cy="818.8" r="2.15" fill="#e2737c" />
<text x="598.3" y="822.1" font-size="9.3" >AZD1775 (50 nM)</text>
<path d="M581.3 832.5L591.7 832.5" stroke="#e81c2e" stroke-width=".8" />
<circle cx="586.5" cy="832.7" r="2.15" fill="#e81c2e" />
<text x="598.3" y="836" font-size="9.3" >AZD1775 (100 nM)</text>
<path d="M581.3 846.5L591.7 846.5" stroke="#8a1218" stroke-width=".8" />
<circle cx="586.5" cy="846.5" r="2.15" fill="#8a1218" />
<text x="598.3" y="849.8" font-size="9.3" >AZD1775 (200 nM)</text>
</g>
</svg>
</body></html>
